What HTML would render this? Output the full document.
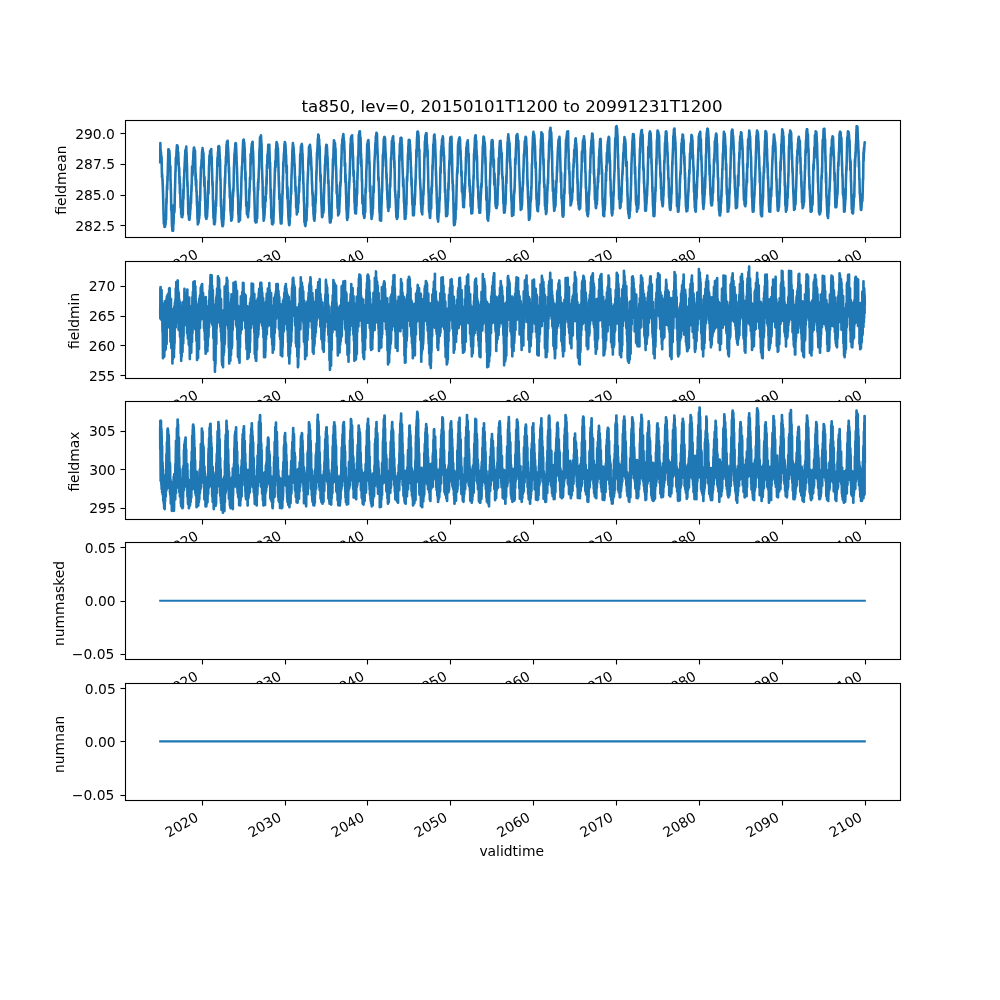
<!DOCTYPE html>
<html><head><meta charset="utf-8"><title>ta850</title><style>html,body{margin:0;padding:0;background:#fff;width:1000px;height:1000px;overflow:hidden}svg{display:block;will-change:transform}</style></head><body>
<svg width="1000" height="1000" viewBox="0 0 720 720">

 <defs>
  <style type="text/css">svg *{stroke-linejoin: round; stroke-linecap: butt}</style>
 </defs>
 <g id="figure_1">
  <g id="patch_1">
   <path d="M 0 720
L 720 720
L 720 0
L 0 0
z
" style="fill: #ffffff"/>
  </g>
  <g id="axes_1">
   <g id="patch_2">
    <path d="M 90.00 170.64 L 648.00 170.64 L 648.00 86.40 L 90.00 86.40 z" style="fill: #ffffff"/>
   </g>
   <g id="matplotlib.axis_1">
    <g id="xtick_1">
     <g id="xt0_1" transform="translate(-0.74 0.71)">
      <text style="font-size: 10px; font-family: 'DejaVu Sans', sans-serif" transform="translate(122.11 197.12) rotate(-30)">2020</text>
     </g>
    </g>
    <g id="xtick_2">
     <g id="xt0_2" transform="translate(-0.57 0.84)">
      <text style="font-size: 10px; font-family: 'DejaVu Sans', sans-serif" transform="translate(181.8 197.12) rotate(-30)">2030</text>
     </g>
    </g>
    <g id="xtick_3">
     <g id="xt0_3" transform="translate(-0.44 0.82)">
      <text style="font-size: 10px; font-family: 'DejaVu Sans', sans-serif" transform="translate(241.48 197.12) rotate(-30)">2040</text>
     </g>
    </g>
    <g id="xtick_4">
     <g id="xt0_4" transform="translate(-0.52 0.65)">
      <text style="font-size: 10px; font-family: 'DejaVu Sans', sans-serif" transform="translate(301.16 197.12) rotate(-30)">2050</text>
     </g>
    </g>
    <g id="xtick_5">
     <g id="xt0_5" transform="translate(-0.40 0.64)">
      <text style="font-size: 10px; font-family: 'DejaVu Sans', sans-serif" transform="translate(360.84 197.12) rotate(-30)">2060</text>
     </g>
    </g>
    <g id="xtick_6">
     <g id="xt0_6" transform="translate(-0.52 0.65)">
      <text style="font-size: 10px; font-family: 'DejaVu Sans', sans-serif" transform="translate(420.53 197.12) rotate(-30)">2070</text>
     </g>
    </g>
    <g id="xtick_7">
     <g id="xt0_7" transform="translate(-0.24 0.66)">
      <text style="font-size: 10px; font-family: 'DejaVu Sans', sans-serif" transform="translate(480.2 197.12) rotate(-30)">2080</text>
     </g>
    </g>
    <g id="xtick_8">
     <g id="xt0_8" transform="translate(-0.19 0.66)">
      <text style="font-size: 10px; font-family: 'DejaVu Sans', sans-serif" transform="translate(539.89 197.12) rotate(-30)">2090</text>
     </g>
    </g>
    <g id="xtick_9">
     <g id="xt0_9" transform="translate(-0.07 0.81)">
      <text style="font-size: 10px; font-family: 'DejaVu Sans', sans-serif" transform="translate(599.56 197.12) rotate(-30)">2100</text>
     </g>
    </g>
   </g>
   <g id="matplotlib.axis_2">
    <g id="ytick_1">
     <g id="yt0_1" transform="translate(-0.21 -0.08)">
      <text style="font-size: 10px; font-family: 'DejaVu Sans', sans-serif; text-anchor: end" x="83" y="166.05" transform="rotate(-0 83 166.05)">282.5</text>
     </g>
    </g>
    <g id="ytick_2">
     <g id="yt0_2" transform="translate(-0.28 -0.19)">
      <text style="font-size: 10px; font-family: 'DejaVu Sans', sans-serif; text-anchor: end" x="83" y="143.97" transform="rotate(-0 83 143.97)">285.0</text>
     </g>
    </g>
    <g id="ytick_3">
     <g id="yt0_3" transform="translate(-0.18 -0.40)">
      <text style="font-size: 10px; font-family: 'DejaVu Sans', sans-serif; text-anchor: end" x="83" y="121.9" transform="rotate(-0 83 121.9)">287.5</text>
     </g>
    </g>
    <g id="ytick_4">
     <g id="yt0_4" transform="translate(-0.26 -0.01)">
      <text style="font-size: 10px; font-family: 'DejaVu Sans', sans-serif; text-anchor: end" x="83" y="99.82" transform="rotate(-0 83 99.82)">290.0</text>
     </g>
    </g>
    <g id="yl0" transform="translate(-1.09 1.12)">
     <text style="font-size: 10px; font-family: 'DejaVu Sans', sans-serif; text-anchor: middle" x="48.29" y="128.61" transform="rotate(-90 48.29 128.61)">fieldmean</text>
    </g>
   </g>
   <g id="line2d_14">
    <path d="M 115.36 116.77
L 115.45 103
L 115.56 107.45
L 115.58 107.12
L 115.87 111.07
L 115.92 109.55
L 115.94 110.6
L 116.23 117.04
L 116.28 114.15
L 116.3 113.45
L 116.31 112.76
L 116.62 125.97
L 116.64 124.71
L 116.65 127.85
L 116.75 125.13
L 117 130.44
L 117.01 128.93
L 117.34 137.94
L 117.36 137.68
L 117.37 138.63
L 117.72 152.25
L 117.73 153.97
L 117.77 153.75
L 117.95 161.11
L 118.08 158.05
L 118.09 159.62
L 118.17 157.86
L 118.44 163.48
L 118.45 162.31
L 118.48 161.11
L 118.52 162.57
L 118.8 162.25
L 118.81 162.59
L 118.88 163.19
L 119.04 159.6
L 119.15 161.63
L 119.17 161.68
L 119.51 155.44
L 119.53 156.96
L 119.56 158.18
L 119.82 142.75
L 119.87 143.32
L 119.89 144.22
L 119.91 146.45
L 120.23 133.42
L 120.25 135.46
L 120.41 136.61
L 120.56 126.86
L 120.59 129.67
L 120.61 129.32
L 120.64 130.55
L 120.94 117.52
L 120.95 117.72
L 120.97 116.6
L 120.98 116.79
L 121.23 107.56
L 121.31 108.76
L 121.33 108.64
L 121.36 110.83
L 121.41 107.53
L 121.67 109.01
L 121.69 108.78
L 121.95 108.52
L 122.01 110.89
L 122.03 110.55
L 122.05 112.36
L 122.08 110.43
L 122.39 121.3
L 122.41 123.05
L 122.7 119.7
L 122.75 128.85
L 122.77 130.07
L 122.8 129.11
L 123.09 139.49
L 123.11 139.15
L 123.13 140
L 123.29 151.49
L 123.47 147.44
L 123.48 151.64
L 123.5 149.83
L 123.81 162.14
L 123.83 161.42
L 123.84 163.3
L 123.93 162.42
L 124.11 166.03
L 124.19 165.02
L 124.2 164.89
L 124.37 165.97
L 124.53 163.34
L 124.55 163.52
L 124.56 164.12
L 124.66 166.07
L 124.87 157.35
L 124.91 159.11
L 124.92 157.11
L 124.96 161.3
L 125.25 147.73
L 125.27 149.3
L 125.28 150.67
L 125.54 153.02
L 125.61 147.74
L 125.63 149.74
L 125.64 151.03
L 125.66 151.87
L 125.97 135.65
L 125.98 137.64
L 126 136.51
L 126.34 122.67
L 126.36 123.08
L 126.41 123.52
L 126.61 113.35
L 126.72 113.92
L 126.74 117.7
L 126.83 118.57
L 127.08 108.44
L 127.1 108.77
L 127.11 109.04
L 127.39 104.68
L 127.44 105.6
L 127.46 105.22
L 127.68 105.83
L 127.75 104.75
L 127.8 105.46
L 127.81 105.89
L 127.95 105.59
L 128.09 110.27
L 128.16 109.8
L 128.17 111.63
L 128.34 109.56
L 128.42 116.21
L 128.52 113.45
L 128.53 115.67
L 128.86 121.75
L 128.88 121.6
L 128.89 123.33
L 129.02 120.78
L 129.24 132.19
L 129.25 130.45
L 129.29 127
L 129.55 139.4
L 129.6 137.12
L 129.61 135.72
L 129.64 131.93
L 129.96 146.19
L 129.97 146.77
L 130.02 149.32
L 130.13 143.97
L 130.31 147.56
L 130.33 149.24
L 130.35 149.2
L 130.45 154.49
L 130.67 153.37
L 130.69 153.6
L 130.76 156.22
L 130.9 153.3
L 131.03 154.29
L 131.05 154.34
L 131.25 156.35
L 131.34 153.09
L 131.39 154.36
L 131.41 153.22
L 131.64 154.72
L 131.72 145.45
L 131.75 145.73
L 131.77 149.05
L 132 136.52
L 132.11 143.05
L 132.13 142.16
L 132.46 127.71
L 132.47 130.1
L 132.49 127.83
L 132.6 128.47
L 132.75 121.47
L 132.83 123.74
L 132.85 120.74
L 132.86 121.03
L 133.17 113.89
L 133.19 114.32
L 133.21 112.16
L 133.29 112.95
L 133.44 108.18
L 133.55 109.34
L 133.57 108.98
L 133.84 107.16
L 133.91 107.77
L 133.93 107.56
L 134.11 105.59
L 134.24 110.33
L 134.27 109.41
L 134.29 109.34
L 134.61 119.55
L 134.63 119.35
L 134.64 118.58
L 134.91 134.09
L 134.99 131.87
L 135 130.82
L 135.33 143.41
L 135.35 142.44
L 135.36 143.37
L 135.58 154.33
L 135.71 151.94
L 135.72 153.38
L 136.05 157.04
L 136.07 156.66
L 136.08 158.07
L 136.15 157.12
L 136.36 158.29
L 136.43 157.74
L 136.44 157.48
L 136.52 157.81
L 136.79 154.07
L 136.8 153.33
L 136.83 154.31
L 137.05 149.41
L 137.14 150.64
L 137.16 150.01
L 137.44 140.9
L 137.5 143.41
L 137.52 142.79
L 137.54 146.44
L 137.86 133.54
L 137.88 136.33
L 137.9 137.72
L 138.22 124.25
L 138.24 124.39
L 138.26 122.89
L 138.27 119.84
L 138.58 126.36
L 138.6 125.82
L 138.62 123.66
L 138.73 124.97
L 138.93 115.72
L 138.96 117.73
L 138.97 118.18
L 139.3 109.11
L 139.32 110.57
L 139.33 108.85
L 139.38 109.31
L 139.56 106.36
L 139.68 106.78
L 139.69 106.84
L 139.82 106.24
L 140.02 109.12
L 140.04 108.96
L 140.05 108.73
L 140.1 107.77
L 140.2 111.72
L 140.4 109.57
L 140.41 108.6
L 140.76 125.36
L 140.77 129.31
L 140.85 124.33
L 141.03 133.46
L 141.12 128.57
L 141.13 132.23
L 141.31 129.71
L 141.41 137.85
L 141.47 136.97
L 141.49 137.91
L 141.56 137.51
L 141.83 147.75
L 141.85 148.04
L 141.98 145.26
L 142.16 157.22
L 142.19 156.45
L 142.21 155.93
L 142.23 154.78
L 142.42 161.53
L 142.55 160.34
L 142.57 160.52
L 142.62 160.89
L 142.83 159.18
L 142.91 159.75
L 142.93 159.41
L 142.96 160.29
L 143.22 156.14
L 143.27 156.59
L 143.29 156.31
L 143.4 157.55
L 143.63 152.27
L 143.65 154.05
L 143.66 155.12
L 143.93 141.18
L 143.99 142.71
L 144.01 142.21
L 144.12 144.38
L 144.35 131.47
L 144.37 130.46
L 144.38 131.96
L 144.68 120.2
L 144.71 120.37
L 144.73 119.93
L 144.94 120.98
L 145.04 116.65
L 145.07 118.94
L 145.09 115.13
L 145.18 118.25
L 145.43 110.3
L 145.45 110.13
L 145.79 106.67
L 145.8 106.5
L 146.15 109.63
L 146.16 108.82
L 146.41 113.48
L 146.51 110.43
L 146.52 111.35
L 146.87 127.03
L 146.88 126.42
L 147.16 134.21
L 147.23 127.4
L 147.24 127.48
L 147.55 140.06
L 147.59 138.8
L 147.6 142.78
L 147.63 141.32
L 147.95 152.89
L 147.96 155.28
L 148.01 153.76
L 148.14 156.6
L 148.3 155.23
L 148.32 154.9
L 148.53 157.64
L 148.66 156.7
L 148.68 157.07
L 148.7 157.56
L 149.02 153.93
L 149.04 155.98
L 149.09 155.99
L 149.38 148.27
L 149.4 148.33
L 149.42 147.84
L 149.43 150.33
L 149.73 137.38
L 149.76 140.11
L 149.78 138.42
L 149.79 138.67
L 150.02 130.23
L 150.12 136.1
L 150.13 135.62
L 150.15 139.37
L 150.48 119.31
L 150.49 118.97
L 150.58 119.24
L 150.8 112.01
L 150.84 114.54
L 150.85 112.76
L 151 115.55
L 151.18 110.72
L 151.2 112.11
L 151.21 111.03
L 151.25 108.76
L 151.31 111.61
L 151.56 109.75
L 151.57 108.42
L 151.69 109.73
L 151.92 109.58
L 151.93 109.86
L 152.1 107.27
L 152.24 114.09
L 152.28 113.85
L 152.29 113.42
L 152.41 112.76
L 152.62 123.11
L 152.63 120.65
L 152.65 121.38
L 152.96 133.58
L 152.99 133.3
L 153.01 131.5
L 153.09 130.91
L 153.35 144.62
L 153.37 144.56
L 153.39 144.33
L 153.7 157.08
L 153.71 156.11
L 153.73 155.88
L 153.8 154.24
L 154.01 159.03
L 154.07 158.63
L 154.09 161.21
L 154.15 159.76
L 154.42 161.53
L 154.43 161.2
L 154.45 161.28
L 154.48 161.51
L 154.71 157.8
L 154.79 160.41
L 154.81 160.06
L 155.1 151.54
L 155.15 153.87
L 155.17 151.16
L 155.18 152.69
L 155.45 144.51
L 155.51 146.84
L 155.53 146.97
L 155.54 148.64
L 155.87 137.47
L 155.89 133.71
L 156.23 126.76
L 156.25 126.12
L 156.26 126.63
L 156.57 113.66
L 156.59 117.55
L 156.61 119.27
L 156.65 119.9
L 156.95 109.22
L 156.97 109.71
L 157.08 111.61
L 157.18 105.55
L 157.31 106.86
L 157.32 108.26
L 157.6 105.2
L 157.67 105.99
L 157.68 106.35
L 157.91 105.66
L 158.03 109.53
L 158.04 110.35
L 158.06 109.64
L 158.35 116.52
L 158.39 116.49
L 158.4 117.74
L 158.44 114.91
L 158.66 129.86
L 158.75 129.16
L 158.76 128.29
L 159.09 147.76
L 159.11 146.9
L 159.12 148.89
L 159.24 143.42
L 159.47 156.44
L 159.48 157.76
L 159.55 154.01
L 159.82 160.41
L 159.84 159.16
L 159.87 158.89
L 160.07 162.73
L 160.18 162.38
L 160.2 162.05
L 160.41 160.87
L 160.48 162.83
L 160.56 161.32
L 160.58 161.09
L 160.69 162.04
L 160.92 155.16
L 160.94 155.34
L 160.98 158.26
L 161.28 149.33
L 161.3 148.08
L 161.34 151.73
L 161.64 136.71
L 161.65 137.99
L 161.67 139.34
L 161.92 128.11
L 162 132.32
L 162.01 132.09
L 162.36 118.83
L 162.37 118.92
L 162.54 119.15
L 162.65 112.83
L 162.72 116.96
L 162.73 117.39
L 163.08 104.16
L 163.09 104.94
L 163.17 105.49
L 163.44 101.96
L 163.45 102.63
L 163.52 102.14
L 163.75 103.05
L 163.8 102.39
L 163.81 102.1
L 163.91 101.31
L 164.12 106.6
L 164.15 105.29
L 164.17 106.13
L 164.19 105.69
L 164.5 112.9
L 164.51 112.4
L 164.53 114.34
L 164.55 113.95
L 164.79 124.23
L 164.87 120.78
L 164.89 122.36
L 164.91 120.32
L 165.22 134.87
L 165.23 133.12
L 165.25 131.61
L 165.48 142.44
L 165.59 138.48
L 165.61 140.05
L 165.66 139.5
L 165.95 151.12
L 165.97 152.24
L 166.05 150.88
L 166.25 155
L 166.31 153.71
L 166.33 155.6
L 166.36 153.65
L 166.46 158.94
L 166.67 157.51
L 166.69 157.41
L 166.8 158.6
L 167.01 154.73
L 167.03 155.59
L 167.05 155.17
L 167.18 156.69
L 167.36 149.22
L 167.39 150.33
L 167.41 148.58
L 167.42 152.01
L 167.7 136.89
L 167.75 140.03
L 167.77 141.78
L 168.09 134.8
L 168.11 135.62
L 168.13 136.1
L 168.14 137.31
L 168.45 119.84
L 168.47 122.08
L 168.48 120.87
L 168.83 110.57
L 168.84 111.25
L 168.88 114.16
L 169.19 107.12
L 169.2 106.34
L 169.22 108.35
L 169.45 103.4
L 169.55 103.45
L 169.56 103.64
L 169.6 103
L 169.91 104.92
L 169.92 103.39
L 170.27 112.56
L 170.28 113.69
L 170.63 121.52
L 170.64 124.73
L 170.67 122.95
L 170.94 132.44
L 170.98 132.07
L 171 134.25
L 171.33 141.76
L 171.34 141.28
L 171.36 140.6
L 171.38 140.46
L 171.62 154.47
L 171.7 153.47
L 171.72 153.43
L 171.75 150.1
L 171.9 159.59
L 172.08 157.36
L 172.1 157.22
L 172.32 157.16
L 172.42 158.51
L 172.44 157.48
L 172.46 158.2
L 172.72 154.51
L 172.8 158.52
L 172.81 157.53
L 172.83 157.9
L 173.03 147.83
L 173.16 150.84
L 173.17 148.2
L 173.19 149.79
L 173.52 141.2
L 173.53 138.67
L 173.58 141.14
L 173.86 126.89
L 173.88 128.52
L 173.89 128.33
L 174.2 119.78
L 174.24 121.63
L 174.25 121.22
L 174.27 122.53
L 174.58 112.8
L 174.6 113.57
L 174.61 111.97
L 174.96 104.41
L 174.97 103.5
L 175.12 101.03
L 175.31 101.63
L 175.33 101.41
L 175.49 100.4
L 175.66 103.15
L 175.67 102.44
L 175.69 103.47
L 175.9 102.65
L 176.02 108.08
L 176.03 106.77
L 176.05 110.42
L 176.15 106.46
L 176.34 116.94
L 176.39 113.58
L 176.41 113.77
L 176.7 129.85
L 176.75 127.2
L 176.77 123.82
L 177.11 140.45
L 177.13 140.14
L 177.14 136.67
L 177.26 148.31
L 177.47 146.66
L 177.49 145.31
L 177.81 154.17
L 177.83 153.55
L 177.85 153.32
L 177.99 151.67
L 178.03 154.07
L 178.19 153.44
L 178.21 153.8
L 178.55 156.17
L 178.57 156.19
L 178.58 156.35
L 178.91 148.17
L 178.93 148.46
L 178.97 152.14
L 179.22 147.33
L 179.27 149.54
L 179.29 147.06
L 179.3 148.71
L 179.56 135.86
L 179.63 140.32
L 179.64 138.94
L 179.99 127.65
L 180 128.59
L 180.27 129.2
L 180.33 116.95
L 180.35 118.96
L 180.36 117.73
L 180.43 110.99
L 180.54 118.5
L 180.71 115.58
L 180.72 111.97
L 180.81 114.86
L 181.02 106.22
L 181.07 106.53
L 181.08 107.18
L 181.31 103.57
L 181.43 104.22
L 181.44 104.25
L 181.67 102.32
L 181.79 103.5
L 181.8 103.28
L 181.87 102.09
L 182.05 108.47
L 182.14 108.43
L 182.16 110.2
L 182.18 108.39
L 182.5 117.04
L 182.52 120.15
L 182.86 134.29
L 182.88 137.25
L 183.03 134.87
L 183.24 144.93
L 183.26 144.43
L 183.55 156.73
L 183.6 154.56
L 183.62 155.84
L 183.65 159.35
L 183.96 157.95
L 183.97 158.55
L 183.99 158.33
L 184.17 160.24
L 184.32 159.3
L 184.33 159.47
L 184.63 156.63
L 184.68 158.06
L 184.69 159.21
L 184.71 160.04
L 184.99 152.68
L 185.04 153.93
L 185.05 152.05
L 185.17 157.14
L 185.4 145.32
L 185.41 142.72
L 185.76 132.37
L 185.77 131.12
L 185.87 136.87
L 186.07 128.51
L 186.12 131.58
L 186.13 131
L 186.41 121.32
L 186.47 121.57
L 186.49 120.05
L 186.51 121.93
L 186.8 107.34
L 186.83 109.24
L 186.85 110.77
L 187.19 99.34
L 187.21 98.79
L 187.44 101.25
L 187.55 99.95
L 187.57 99.65
L 187.6 99.67
L 187.9 97.42
L 187.91 97.85
L 187.93 97.8
L 188.27 105.77
L 188.29 104.23
L 188.32 103.1
L 188.63 121.54
L 188.65 120.88
L 188.97 130.47
L 188.99 130.1
L 189.01 132.16
L 189.04 130.21
L 189.32 149.53
L 189.35 146.42
L 189.37 147.47
L 189.69 154.25
L 189.71 154.03
L 189.73 155.7
L 189.82 158.94
L 190.07 157.39
L 190.09 157.25
L 190.15 157.8
L 190.41 153.99
L 190.43 154.68
L 190.45 154.85
L 190.79 146.94
L 190.81 148.41
L 190.84 149.35
L 190.98 141.65
L 191.15 142.51
L 191.16 141.59
L 191.28 144.81
L 191.47 134.51
L 191.51 137.1
L 191.52 135
L 191.67 139.64
L 191.85 128.18
L 191.87 128.4
L 191.88 127.72
L 192 132.7
L 192.16 118.69
L 192.23 119.38
L 192.24 119.98
L 192.36 121.12
L 192.57 111.3
L 192.59 112.66
L 192.6 111.69
L 192.7 116.64
L 192.91 108.75
L 192.95 110.19
L 192.96 109.86
L 192.98 110.95
L 193.13 104.29
L 193.31 105.79
L 193.32 106.07
L 193.39 106.93
L 193.66 105.18
L 193.68 105.84
L 193.8 109.18
L 193.94 104.3
L 194.02 109.07
L 194.04 108.57
L 194.38 121.22
L 194.4 121.02
L 194.42 117.59
L 194.45 116.83
L 194.76 135.44
L 194.78 137.51
L 194.92 142.81
L 195.04 136.42
L 195.12 141.68
L 195.14 146.06
L 195.15 145.29
L 195.36 157.06
L 195.48 152.98
L 195.49 154.55
L 195.54 154.09
L 195.84 161.26
L 195.85 160.32
L 195.97 159.6
L 195.98 161.35
L 196.2 160.76
L 196.21 160.63
L 196.3 161.53
L 196.51 157.26
L 196.56 159.68
L 196.57 159.2
L 196.82 160.46
L 196.92 156.6
L 196.93 156.51
L 197.28 146.99
L 197.29 142.84
L 197.31 143.44
L 197.64 133.68
L 197.65 133.69
L 197.98 120.6
L 197.99 121.3
L 198.01 122.27
L 198.06 123.41
L 198.24 116.02
L 198.35 119.38
L 198.37 117.74
L 198.44 120.37
L 198.65 107.22
L 198.71 109.67
L 198.73 110.01
L 199.07 102.66
L 199.09 104
L 199.14 102.35
L 199.32 104.88
L 199.43 104.07
L 199.45 103.95
L 199.66 103.61
L 199.79 107.47
L 199.81 107.79
L 200 112.37
L 200.14 106.71
L 200.15 110.03
L 200.17 109.17
L 200.18 108.91
L 200.49 120.61
L 200.51 119.82
L 200.53 122.63
L 200.85 134.62
L 200.87 132.33
L 200.89 134.12
L 200.9 130.95
L 201.08 143.26
L 201.23 141.07
L 201.25 140.23
L 201.33 139.74
L 201.59 150.98
L 201.61 151.21
L 201.95 158.12
L 201.97 157.32
L 202.13 160.88
L 202.31 160.24
L 202.32 160.4
L 202.6 157
L 202.67 157.76
L 202.68 159.18
L 202.7 160.88
L 203.03 151.97
L 203.04 154.95
L 203.37 138.46
L 203.39 139.14
L 203.4 137.19
L 203.45 139.96
L 203.73 126.48
L 203.75 127.37
L 203.76 127.78
L 203.78 129.55
L 203.98 116.98
L 204.11 120.08
L 204.12 116.03
L 204.17 116.71
L 204.43 110.2
L 204.47 113.39
L 204.48 112.55
L 204.82 103.85
L 204.84 104.61
L 205.07 102.35
L 205.18 103.3
L 205.2 103.3
L 205.36 102.76
L 205.51 106.44
L 205.56 104.5
L 205.58 105.06
L 205.9 113.11
L 205.92 111.28
L 205.94 112.88
L 205.98 111.82
L 206.28 124.52
L 206.3 122.56
L 206.51 119.32
L 206.62 135.87
L 206.64 130.52
L 206.65 131.39
L 206.92 143.14
L 207 134.44
L 207.01 135.36
L 207.03 134.83
L 207.32 147.92
L 207.36 147.72
L 207.37 149.39
L 207.39 147.89
L 207.7 157.05
L 207.72 156.88
L 207.73 157.73
L 207.75 157.05
L 208.08 161.4
L 208.09 161.04
L 208.34 162.18
L 208.44 159.99
L 208.45 161.17
L 208.52 161.25
L 208.8 152.44
L 208.81 153.38
L 208.91 155.99
L 209.11 144.33
L 209.15 144.56
L 209.17 147.4
L 209.47 136.75
L 209.51 138.65
L 209.53 135.46
L 209.63 139.89
L 209.86 127.59
L 209.87 127.77
L 209.89 125.7
L 209.97 126.11
L 210.22 117.96
L 210.23 118
L 210.25 116.72
L 210.27 119.06
L 210.53 107.81
L 210.59 108.27
L 210.61 107.85
L 210.89 103
L 210.95 104.64
L 210.97 104.58
L 211.13 104.4
L 211.3 106.42
L 211.31 106.36
L 211.33 106.65
L 211.39 106.42
L 211.67 111.82
L 211.69 112.23
L 211.72 111.36
L 212.01 119.37
L 212.03 119.36
L 212.05 119.44
L 212.1 117.86
L 212.39 128.76
L 212.41 127.46
L 212.46 126.68
L 212.75 137.76
L 212.77 136.19
L 212.8 134.04
L 213.08 141.52
L 213.11 140.26
L 213.13 142.16
L 213.14 141.85
L 213.24 149.61
L 213.47 148.23
L 213.48 149.58
L 213.5 148.43
L 213.71 154.4
L 213.83 151.65
L 213.84 152.15
L 214.09 152.94
L 214.19 151.74
L 214.2 151.25
L 214.38 152.71
L 214.53 148.95
L 214.55 150.39
L 214.56 149.94
L 214.61 150.34
L 214.76 143.02
L 214.91 145.36
L 214.92 145.71
L 214.94 146.59
L 215.17 134.78
L 215.27 136.25
L 215.28 137.51
L 215.4 138.41
L 215.63 127.37
L 215.64 126.94
L 215.81 130.2
L 215.97 120.37
L 215.98 121.31
L 216 118.98
L 216.02 119
L 216.13 111.18
L 216.34 112.65
L 216.36 110.41
L 216.44 113.01
L 216.65 105.46
L 216.7 106.8
L 216.72 106.45
L 216.8 108.88
L 217.06 104.37
L 217.08 104.52
L 217.1 104.15
L 217.29 103.64
L 217.39 105.47
L 217.44 105.14
L 217.46 104.44
L 217.78 113.29
L 217.8 111.82
L 217.81 111.13
L 217.83 110.6
L 218.16 125.18
L 218.17 123.99
L 218.26 123.07
L 218.42 132.54
L 218.52 131.97
L 218.53 133.21
L 218.83 145.17
L 218.88 144.4
L 218.89 141.76
L 219.17 160.08
L 219.24 159.56
L 219.25 159.9
L 219.38 156.23
L 219.6 162.23
L 219.61 161.91
L 219.64 161.11
L 219.87 162.83
L 219.96 162.21
L 219.97 162.05
L 220.02 162.17
L 220.28 157.56
L 220.31 158.59
L 220.33 158.54
L 220.66 153.74
L 220.67 154.6
L 220.69 158.93
L 221.03 146.95
L 221.05 146.52
L 221.18 148.97
L 221.39 132.14
L 221.41 132.96
L 221.74 124.17
L 221.75 125.74
L 221.77 126.06
L 222.11 114.01
L 222.13 113.6
L 222.18 118.7
L 222.46 105.81
L 222.47 105.9
L 222.49 106.63
L 222.52 105.63
L 222.75 108.42
L 222.83 105.84
L 222.85 105.36
L 222.86 105.68
L 222.99 104.64
L 223.19 105.66
L 223.21 105.22
L 223.22 104.29
L 223.53 108.04
L 223.55 107.52
L 223.57 108.29
L 223.62 108.11
L 223.88 114.34
L 223.91 112.79
L 223.93 116.26
L 223.98 113.6
L 224.22 122.19
L 224.27 120.44
L 224.29 121.39
L 224.3 120.23
L 224.63 133.26
L 224.65 130.6
L 224.96 140.25
L 224.99 139.5
L 225 140.36
L 225.14 138.72
L 225.3 148.22
L 225.35 145.84
L 225.36 146.17
L 225.41 140.5
L 225.71 153.79
L 225.72 154.62
L 225.77 153.5
L 226.05 157.88
L 226.07 157.71
L 226.08 157.95
L 226.1 157.65
L 226.36 158.94
L 226.43 158.36
L 226.44 158.14
L 226.49 158.41
L 226.79 152.54
L 226.8 151.25
L 226.88 153.39
L 227.11 143.28
L 227.15 145.94
L 227.16 144.69
L 227.34 146.18
L 227.41 137.39
L 227.5 138.46
L 227.52 140.48
L 227.81 123.04
L 227.86 126.44
L 227.88 124.44
L 227.91 125.07
L 228.22 109.99
L 228.24 110
L 228.26 110.28
L 228.32 114.5
L 228.53 106.45
L 228.6 108.06
L 228.62 105.82
L 228.84 99.9
L 228.96 100.67
L 228.98 100.42
L 228.99 100.58
L 229.14 96.9
L 229.32 97.91
L 229.33 97.87
L 229.47 97.65
L 229.63 102.89
L 229.68 102.06
L 229.69 103.6
L 229.76 100.05
L 230.04 107.89
L 230.05 107
L 230.14 105.25
L 230.4 119
L 230.41 118.42
L 230.74 129.74
L 230.76 128.85
L 230.77 130.93
L 230.89 125.83
L 231.1 136.06
L 231.12 135.17
L 231.13 135.39
L 231.48 148.2
L 231.49 145.76
L 231.83 155.83
L 231.85 156.11
L 231.92 156.35
L 232.01 154.32
L 232.19 155.86
L 232.21 155.88
L 232.42 151.93
L 232.55 152.5
L 232.57 152.09
L 232.8 148.09
L 232.85 153.09
L 232.91 151.09
L 232.93 149.96
L 233.01 151.55
L 233.27 138.86
L 233.29 138.46
L 233.32 139.58
L 233.63 127.92
L 233.65 127.46
L 233.68 132.08
L 233.94 118.63
L 233.99 122.5
L 234.01 121.27
L 234.32 112.13
L 234.35 112.83
L 234.37 113.23
L 234.45 114.64
L 234.71 105.89
L 234.73 105.7
L 234.79 107.75
L 234.92 104.29
L 235.07 105.45
L 235.09 105.51
L 235.3 104.35
L 235.41 106.75
L 235.43 106.39
L 235.45 106.42
L 235.76 114.94
L 235.79 114.58
L 235.81 113.75
L 235.84 112.81
L 236.13 125.76
L 236.15 122.7
L 236.16 121.29
L 236.33 132.21
L 236.51 131.81
L 236.52 131.27
L 236.54 129.76
L 236.87 146.61
L 236.88 145.11
L 237.21 155.3
L 237.23 155.07
L 237.24 155.06
L 237.52 160.24
L 237.59 158.76
L 237.6 156.96
L 237.9 160.13
L 237.95 159.91
L 237.96 159.76
L 238.03 160.17
L 238.31 157.08
L 238.32 156.17
L 238.4 157.25
L 238.62 151.55
L 238.66 155.68
L 238.68 157.2
L 239.02 136.08
L 239.04 134.42
L 239.12 137.8
L 239.4 126.71
L 239.42 127.08
L 239.45 128.37
L 239.71 114.46
L 239.76 119.54
L 239.78 116.48
L 239.81 119.11
L 240.12 109.96
L 240.14 106.68
L 240.17 106.92
L 240.45 100.92
L 240.48 102.33
L 240.49 102.84
L 240.63 101.31
L 240.84 102.92
L 240.85 103.66
L 241.07 102.89
L 241.12 104.68
L 241.2 103.51
L 241.21 104.22
L 241.23 103.25
L 241.46 112.14
L 241.56 106.7
L 241.57 106.75
L 241.9 122.24
L 241.92 118.85
L 241.93 120.66
L 241.98 120.17
L 242.28 131.79
L 242.29 131.6
L 242.39 139.24
L 242.64 134.75
L 242.65 133.35
L 242.99 147.3
L 243.01 149.72
L 243.19 145.13
L 243.34 151.32
L 243.35 150.83
L 243.37 150.51
L 243.47 155.05
L 243.71 152.67
L 243.73 153
L 244.01 154.07
L 244.06 151.47
L 244.07 152.05
L 244.09 152.11
L 244.25 152.78
L 244.38 145.31
L 244.43 146.26
L 244.45 147.92
L 244.65 140.22
L 244.79 141.73
L 244.81 140.23
L 245 131.45
L 245.15 133.85
L 245.17 130.89
L 245.36 131.75
L 245.43 122.01
L 245.51 124.86
L 245.53 124.01
L 245.84 113.44
L 245.87 114.23
L 245.89 115.02
L 246.08 104.21
L 246.23 106.92
L 246.25 107.15
L 246.31 107.71
L 246.41 100.46
L 246.59 104.6
L 246.61 101.84
L 246.95 97.63
L 246.97 97.83
L 247 98.1
L 247.21 96.52
L 247.31 97.46
L 247.32 97.76
L 247.67 103.41
L 247.68 102.26
L 247.8 101.54
L 248.03 110.47
L 248.04 110.1
L 248.08 108.25
L 248.21 119.47
L 248.39 118.76
L 248.4 118.06
L 248.52 117.35
L 248.66 131.36
L 248.75 130.52
L 248.76 130.82
L 248.81 125.43
L 249.11 137.83
L 249.12 139.99
L 249.19 138.89
L 249.45 150.96
L 249.47 147.75
L 249.48 147.72
L 249.82 157.39
L 249.84 157.42
L 249.92 155.51
L 250 158.29
L 250.18 155.77
L 250.2 155.52
L 250.45 154.14
L 250.53 156.55
L 250.54 154.53
L 250.56 153.97
L 250.58 154.7
L 250.9 147.25
L 250.92 148.51
L 250.94 147.87
L 250.97 148.58
L 251.25 132.31
L 251.28 132.94
L 251.3 131.01
L 251.34 136.05
L 251.62 129
L 251.64 129.66
L 251.65 129.64
L 251.98 119.23
L 252 119.84
L 252.01 119.4
L 252.34 103.46
L 252.36 105.78
L 252.37 103.53
L 252.55 105.55
L 252.6 99.53
L 252.72 101.71
L 252.73 101.1
L 252.78 101.99
L 252.93 98.1
L 253.08 98.85
L 253.09 98.7
L 253.37 100.83
L 253.42 98.49
L 253.44 99.24
L 253.45 99.14
L 253.55 97.42
L 253.76 109.1
L 253.8 106.36
L 253.81 106.57
L 253.83 102.91
L 254.12 114.51
L 254.15 113.58
L 254.17 113.51
L 254.19 112.22
L 254.48 125.85
L 254.51 124.87
L 254.53 126.76
L 254.68 122.91
L 254.86 131.45
L 254.87 129.76
L 254.89 130.42
L 255.07 130.03
L 255.22 144.84
L 255.23 143.8
L 255.25 145.99
L 255.38 145.97
L 255.56 151.21
L 255.59 150.1
L 255.61 150.84
L 255.64 150.5
L 255.76 153.54
L 255.95 153.02
L 255.97 153.35
L 256.03 153.71
L 256.28 152.41
L 256.31 153.43
L 256.33 153.76
L 256.56 146.44
L 256.67 146.86
L 256.69 147.73
L 256.7 148.77
L 256.93 135.85
L 257.03 140.57
L 257.05 136.89
L 257.16 139.55
L 257.37 124.38
L 257.39 128
L 257.41 126.11
L 257.42 128.63
L 257.75 112.89
L 257.77 113.88
L 257.93 118.11
L 258.09 107.62
L 258.11 110.95
L 258.13 107.67
L 258.31 96.97
L 258.47 99.69
L 258.48 99.69
L 258.76 94.66
L 258.83 95.62
L 258.84 96.06
L 258.89 96.71
L 259.12 94.57
L 259.19 96.29
L 259.2 96.05
L 259.35 100.33
L 259.55 99.76
L 259.56 101.14
L 259.6 99.01
L 259.91 112.74
L 259.92 110.91
L 259.96 110.68
L 260.15 119.86
L 260.27 114.95
L 260.28 117.31
L 260.56 130.61
L 260.63 130.14
L 260.64 130.68
L 260.66 128.83
L 260.92 146.53
L 260.98 145.98
L 261 145.66
L 261.1 140.61
L 261.34 146.44
L 261.36 146.85
L 261.38 145.53
L 261.61 154.21
L 261.7 153.03
L 261.72 153.08
L 261.98 155.66
L 262.08 155.39
L 262.1 155.34
L 262.21 154.16
L 262.26 157
L 262.44 156.08
L 262.46 154.62
L 262.47 156.38
L 262.78 148.39
L 262.8 150.87
L 262.82 147.07
L 262.96 152.76
L 263.16 136.61
L 263.17 135.84
L 263.34 138.65
L 263.5 132.81
L 263.52 135
L 263.53 133.17
L 263.55 133.81
L 263.8 121.42
L 263.88 121.84
L 263.89 121.06
L 264.24 110.05
L 264.25 111.08
L 264.37 103.92
L 264.6 106.32
L 264.61 104.65
L 264.65 105.43
L 264.81 101.71
L 264.96 103.1
L 264.97 102.43
L 265.07 102.6
L 265.2 100.79
L 265.32 101.58
L 265.33 103.44
L 265.4 103.03
L 265.61 108.68
L 265.67 107.44
L 265.69 108.8
L 265.94 118.2
L 266.03 117.18
L 266.05 116.48
L 266.38 137.91
L 266.39 135.25
L 266.41 136.78
L 266.65 133.83
L 266.75 141.92
L 266.77 142.34
L 266.8 141.33
L 267.11 150.06
L 267.13 153.31
L 267.21 151.32
L 267.47 156.79
L 267.49 157.64
L 267.83 155.27
L 267.85 155.33
L 267.91 156.06
L 268.03 153.27
L 268.19 154.44
L 268.21 152.17
L 268.22 153.03
L 268.45 148.41
L 268.55 150.37
L 268.57 147.63
L 268.58 148.56
L 268.88 134.24
L 268.91 136.12
L 268.93 138.34
L 269.09 138.51
L 269.25 130.68
L 269.27 131.17
L 269.29 127.2
L 269.63 115.95
L 269.65 115.98
L 269.97 110.53
L 269.99 110.92
L 270 109.76
L 270.33 102.67
L 270.35 104.11
L 270.36 103.4
L 270.46 106.2
L 270.58 98.1
L 270.71 99.53
L 270.72 99.23
L 270.76 99.33
L 271.03 95.61
L 271.07 96.04
L 271.08 96.25
L 271.28 99.52
L 271.41 96.13
L 271.43 96.63
L 271.44 96.35
L 271.77 110.76
L 271.79 107.17
L 271.8 110.05
L 271.82 108.31
L 272.15 117.88
L 272.16 116.21
L 272.44 129.87
L 272.5 127.77
L 272.52 127.79
L 272.6 127.59
L 272.85 134.67
L 272.86 133.83
L 272.88 135.55
L 273.22 152.9
L 273.24 151.17
L 273.26 152.95
L 273.35 150.77
L 273.57 158.56
L 273.6 156.67
L 273.62 157.01
L 273.71 156.76
L 273.89 158.72
L 273.96 158.22
L 273.98 157.99
L 273.99 158.23
L 274.29 155.2
L 274.32 156.46
L 274.33 157.91
L 274.37 158.94
L 274.68 147.11
L 274.69 146.66
L 274.73 147.7
L 275.02 135.99
L 275.04 138.9
L 275.05 136.98
L 275.15 137.87
L 275.38 123.45
L 275.4 124.98
L 275.41 122.46
L 275.46 123.08
L 275.66 111.19
L 275.76 119.88
L 275.77 118.49
L 276.12 105.41
L 276.13 106.51
L 276.3 100.19
L 276.48 100.37
L 276.49 100.61
L 276.51 100.67
L 276.65 98.72
L 276.83 99.56
L 276.85 99.7
L 277 98.72
L 277.13 101.89
L 277.19 100.69
L 277.21 100.57
L 277.23 99.61
L 277.55 109.23
L 277.57 109.2
L 277.59 108.84
L 277.9 115.91
L 277.91 115.02
L 277.93 115.92
L 278.27 128.84
L 278.29 124.69
L 278.63 135.96
L 278.65 136.93
L 278.7 136.63
L 278.99 143.72
L 279.01 142.38
L 279.09 142.18
L 279.29 149.72
L 279.35 148.56
L 279.37 147.78
L 279.65 151.81
L 279.71 150.33
L 279.73 150.31
L 279.76 150.56
L 280.02 145.59
L 280.07 146.81
L 280.09 146.24
L 280.25 148.21
L 280.33 143.86
L 280.43 148.15
L 280.45 146.44
L 280.46 149.14
L 280.77 132.71
L 280.79 134.22
L 280.81 133.9
L 281 134.58
L 281.08 128.1
L 281.15 128.63
L 281.16 129.17
L 281.51 114.59
L 281.52 113.54
L 281.74 115.03
L 281.83 109.12
L 281.87 110.81
L 281.88 110.86
L 282.15 101.39
L 282.23 102.11
L 282.24 102.5
L 282.26 103.18
L 282.57 100.91
L 282.59 101.03
L 282.6 100.34
L 282.75 98.93
L 282.88 101.19
L 282.95 100.17
L 282.96 99.97
L 283.09 98.2
L 283.24 105.2
L 283.31 104.94
L 283.32 106.75
L 283.44 102.21
L 283.66 109.62
L 283.68 108.78
L 283.98 120.98
L 284.02 117.68
L 284.04 115.93
L 284.38 137.26
L 284.4 137.65
L 284.48 136.79
L 284.73 142.35
L 284.76 139.85
L 284.78 140.83
L 285.12 149.29
L 285.14 151.58
L 285.18 149.55
L 285.35 156.3
L 285.48 153.87
L 285.49 155.32
L 285.51 154.37
L 285.77 157.64
L 285.84 157.19
L 285.85 157.39
L 286.2 154.09
L 286.21 153.85
L 286.3 156.65
L 286.56 149.87
L 286.57 147.39
L 286.64 150.43
L 286.9 138.9
L 286.92 141.34
L 286.93 137.79
L 287.11 142.19
L 287.28 129.41
L 287.29 131.07
L 287.31 131.83
L 287.55 111.77
L 287.64 113.94
L 287.65 114.54
L 287.7 115.63
L 287.88 103.53
L 287.99 109.29
L 288.01 108.63
L 288.35 100.1
L 288.37 99.37
L 288.42 101.86
L 288.71 100.43
L 288.73 99.98
L 288.93 99.11
L 289.06 101.32
L 289.07 100.44
L 289.09 99.4
L 289.22 104.79
L 289.43 104.19
L 289.45 106.19
L 289.79 120.07
L 289.81 119.47
L 290.15 128.59
L 290.17 129.64
L 290.23 134.19
L 290.43 128.91
L 290.51 132.17
L 290.53 134.54
L 290.58 133.09
L 290.87 145.57
L 290.89 146.22
L 291.02 144.02
L 291.23 152.14
L 291.25 153.18
L 291.26 152.19
L 291.44 157.64
L 291.59 156.16
L 291.61 156.32
L 291.64 156.18
L 291.67 157.51
L 291.95 157.43
L 291.97 156.27
L 291.98 157.18
L 292.18 151.5
L 292.31 154.42
L 292.32 153.46
L 292.55 144.27
L 292.67 147.49
L 292.68 143.96
L 292.7 144.14
L 293.03 127.32
L 293.04 127.76
L 293.13 130.55
L 293.39 124.62
L 293.4 123.51
L 293.42 124.62
L 293.71 111.11
L 293.75 113.26
L 293.76 114.81
L 293.84 114.86
L 294.01 105.23
L 294.11 105.4
L 294.12 105.17
L 294.14 105.44
L 294.27 100.85
L 294.47 101.7
L 294.48 100.79
L 294.79 102.67
L 294.82 101.18
L 294.84 101.91
L 294.97 100.88
L 295.09 105
L 295.18 103.96
L 295.2 103.64
L 295.51 112.05
L 295.54 109.95
L 295.56 109.63
L 295.9 124.44
L 295.92 123.06
L 295.94 121.83
L 295.97 120.46
L 296.28 133.45
L 296.3 132.14
L 296.34 128.14
L 296.64 139.36
L 296.66 139.57
L 296.92 147.53
L 297 144.35
L 297.01 143
L 297.36 154.93
L 297.37 154.62
L 297.6 155.05
L 297.65 152.58
L 297.72 153.45
L 297.73 153.47
L 297.77 152.82
L 297.99 154.9
L 298.08 153.23
L 298.09 153.09
L 298.4 144.25
L 298.44 147.22
L 298.45 145.53
L 298.6 147.39
L 298.75 139.48
L 298.8 142.27
L 298.81 141.48
L 298.84 141.59
L 299.14 129.69
L 299.16 131.1
L 299.17 133.31
L 299.51 120.23
L 299.53 118.65
L 299.6 120.4
L 299.78 107.91
L 299.87 111.92
L 299.89 112.16
L 299.92 113.27
L 300.23 100.01
L 300.25 100.35
L 300.53 94.9
L 300.59 96.3
L 300.61 96.02
L 300.77 94.88
L 300.9 97.17
L 300.95 95.8
L 300.97 96.94
L 301 94.83
L 301.31 100.06
L 301.33 100.55
L 301.36 97.59
L 301.61 108.18
L 301.67 107.52
L 301.69 108.82
L 301.95 107.58
L 302 112.83
L 302.03 112.57
L 302.05 114.06
L 302.29 128.56
L 302.39 128.43
L 302.41 128.91
L 302.73 135.74
L 302.75 135.63
L 302.77 136.51
L 302.78 135
L 303.09 145.73
L 303.11 145.68
L 303.13 147.38
L 303.16 145.58
L 303.45 151.41
L 303.47 151.11
L 303.49 152.12
L 303.5 151.53
L 303.7 153.33
L 303.83 152.56
L 303.84 152.76
L 304.04 154.4
L 304.17 148.38
L 304.19 149.48
L 304.2 149.68
L 304.22 149.87
L 304.43 143.28
L 304.55 147.22
L 304.56 144.49
L 304.86 136.92
L 304.91 140.16
L 304.92 138.88
L 305.27 129.35
L 305.28 130.7
L 305.61 110.18
L 305.63 111.73
L 305.64 113.42
L 305.71 113.63
L 305.92 101.64
L 305.99 102.22
L 306 101.49
L 306.07 103.24
L 306.28 97.79
L 306.34 97.93
L 306.36 97.37
L 306.39 99.16
L 306.7 96.28
L 306.72 96.34
L 306.82 95.87
L 307.05 97.5
L 307.08 96.33
L 307.1 96.02
L 307.41 106.82
L 307.44 105.96
L 307.46 106.43
L 307.57 104.24
L 307.75 112.75
L 307.8 108.17
L 307.82 109.74
L 307.88 108.26
L 308.13 121.77
L 308.16 120
L 308.17 121.4
L 308.49 137.61
L 308.52 136.63
L 308.53 138.89
L 308.6 136.14
L 308.88 151.45
L 308.89 150.24
L 308.93 149.96
L 308.99 152.82
L 309.24 151.73
L 309.25 153.78
L 309.27 153.62
L 309.5 156.73
L 309.6 155.69
L 309.61 156.44
L 309.68 157
L 309.96 151.07
L 309.97 151.22
L 310.23 145.87
L 310.32 147.77
L 310.33 147.97
L 310.46 150.11
L 310.64 135.08
L 310.67 136.25
L 310.69 135.67
L 310.77 139.55
L 311 131.85
L 311.03 131.99
L 311.05 129.81
L 311.08 134.66
L 311.38 119.03
L 311.39 121
L 311.41 119.55
L 311.49 121.95
L 311.72 112.6
L 311.75 113.29
L 311.77 111.96
L 311.79 112.52
L 311.95 103.89
L 312.11 104.25
L 312.13 103.87
L 312.24 104.06
L 312.47 98.55
L 312.49 97.56
L 312.5 98.74
L 312.55 97.32
L 312.83 97.49
L 312.85 97.54
L 312.88 96.9
L 313.13 104.81
L 313.19 101.28
L 313.21 101.6
L 313.22 100.39
L 313.55 110.86
L 313.57 110.17
L 313.91 126.47
L 313.93 126.1
L 313.94 123.53
L 314.24 135.07
L 314.27 133.72
L 314.29 137.31
L 314.3 135.52
L 314.58 146.49
L 314.63 146.26
L 314.65 145.97
L 314.66 144.96
L 314.91 156.15
L 314.99 156.04
L 315 157.45
L 315.04 156.19
L 315.35 158.7
L 315.36 158.77
L 315.46 159.59
L 315.69 155.5
L 315.71 156.52
L 315.72 156.63
L 316.03 150
L 316.07 152.07
L 316.08 149.55
L 316.15 153.08
L 316.43 142.24
L 316.44 142.61
L 316.52 144.67
L 316.72 136.82
L 316.79 138.98
L 316.8 134.79
L 316.83 137.36
L 317.11 120.52
L 317.15 122.79
L 317.16 123.87
L 317.26 124.64
L 317.5 111.32
L 317.52 108.64
L 317.65 112.16
L 317.86 104.92
L 317.88 105.95
L 318.03 107.52
L 318.22 101.19
L 318.24 100.49
L 318.27 102.3
L 318.4 99.86
L 318.6 100.15
L 318.62 100.49
L 318.75 101.36
L 318.83 98.2
L 318.96 99.55
L 318.98 99.03
L 319.29 108.09
L 319.32 106.1
L 319.33 106.17
L 319.65 116.26
L 319.68 114.24
L 319.69 113.91
L 319.73 111.86
L 320.04 125.09
L 320.05 124.6
L 320.1 124.05
L 320.4 138.52
L 320.41 137.81
L 320.63 136.21
L 320.76 143.64
L 320.77 143.92
L 321.1 151.67
L 321.12 151.33
L 321.13 153.88
L 321.2 155.7
L 321.48 154.7
L 321.49 155.25
L 321.79 155.52
L 321.83 153.19
L 321.85 152.44
L 322.15 154.38
L 322.19 149.5
L 322.21 151.77
L 322.55 143.19
L 322.57 143.35
L 322.65 144.9
L 322.88 131.52
L 322.91 132.33
L 322.93 135.37
L 322.96 136.9
L 323.27 121.97
L 323.29 124.7
L 323.57 115.47
L 323.63 117.44
L 323.65 117.06
L 323.68 118.66
L 323.94 102.95
L 323.99 103.94
L 324.01 103.69
L 324.04 104.95
L 324.2 99.1
L 324.35 100.36
L 324.37 100.77
L 324.45 101.35
L 324.69 99.19
L 324.71 99.3
L 324.73 99.29
L 325.05 101.41
L 325.07 98.46
L 325.09 99.58
L 325.41 113.48
L 325.43 113.23
L 325.45 110.88
L 325.79 130.54
L 325.81 131.89
L 325.9 129.47
L 326.13 137.42
L 326.15 136.24
L 326.16 134.58
L 326.18 133.02
L 326.51 147.71
L 326.52 149.99
L 326.54 149.31
L 326.8 161.7
L 326.87 161.15
L 326.88 161.72
L 326.98 162.18
L 327.1 159.97
L 327.23 161.08
L 327.24 161.02
L 327.42 161.76
L 327.55 159.41
L 327.59 159.5
L 327.6 159.82
L 327.65 160.37
L 327.88 154.09
L 327.95 156.15
L 327.96 155.56
L 327.99 157.91
L 328.11 148.07
L 328.31 149.17
L 328.32 146.53
L 328.39 151
L 328.66 139.57
L 328.68 138.9
L 329.02 126.46
L 329.04 125.02
L 329.06 125.66
L 329.38 120.42
L 329.4 122.91
L 329.43 124.83
L 329.76 105.6
L 329.78 104.32
L 329.83 107.31
L 330.05 102.14
L 330.12 104.5
L 330.14 103.59
L 330.22 103.64
L 330.4 100
L 330.48 100.08
L 330.49 101.28
L 330.64 99.6
L 330.84 100.33
L 330.85 99.7
L 330.9 98.85
L 331.16 104.1
L 331.2 101.17
L 331.21 99.93
L 331.52 111.34
L 331.56 107.95
L 331.57 108.81
L 331.59 108.25
L 331.87 118.4
L 331.92 116.39
L 331.93 116.65
L 331.95 115.67
L 332.18 126.66
L 332.28 123.61
L 332.29 123.75
L 332.36 123.37
L 332.59 138.1
L 332.64 136.16
L 332.65 135.66
L 332.8 132.26
L 332.93 138.97
L 332.99 136.63
L 333.01 134.57
L 333.31 144.71
L 333.35 144.57
L 333.37 144.56
L 333.52 149.02
L 333.71 147.17
L 333.73 147.11
L 333.8 146.95
L 334.04 149.22
L 334.07 148.94
L 334.09 147.56
L 334.42 139.2
L 334.43 141.61
L 334.45 142.49
L 334.68 135.28
L 334.79 136.18
L 334.81 135.86
L 335.15 123.9
L 335.17 123.54
L 335.22 125.92
L 335.48 113.03
L 335.51 117.14
L 335.53 115.67
L 335.74 106.51
L 335.87 106.93
L 335.89 105.81
L 335.95 107.96
L 336.23 102.61
L 336.25 103.24
L 336.56 102.03
L 336.59 102.59
L 336.61 103.09
L 336.77 101.05
L 336.95 105.59
L 336.97 103.58
L 337.21 112.86
L 337.31 111.07
L 337.33 111.1
L 337.46 110.53
L 337.67 123.42
L 337.68 122.07
L 337.95 134.15
L 338.03 131.47
L 338.04 129.21
L 338.31 138.29
L 338.39 135.35
L 338.4 137.74
L 338.5 134.23
L 338.71 143.6
L 338.75 142.7
L 338.76 141.98
L 338.84 148.72
L 339.11 144.65
L 339.12 147.32
L 339.16 147.04
L 339.37 153.76
L 339.47 150.37
L 339.48 150.37
L 339.65 152.66
L 339.83 151.68
L 339.84 152.4
L 340.04 153.59
L 340.07 151.06
L 340.18 151.57
L 340.2 151.25
L 340.51 139.22
L 340.54 140.92
L 340.56 140.7
L 340.58 141.56
L 340.92 127.66
L 340.94 126.47
L 341.05 128.57
L 341.28 112.01
L 341.3 110.51
L 341.34 116.34
L 341.57 107.21
L 341.64 108.71
L 341.66 107.77
L 341.97 99.35
L 342 99.44
L 342.01 98.82
L 342.03 100.87
L 342.26 97.66
L 342.36 98.22
L 342.37 98.55
L 342.54 97.42
L 342.7 102.68
L 342.72 101.26
L 342.73 102.22
L 342.93 101.26
L 343 108.68
L 343.08 108.45
L 343.09 108.76
L 343.13 107.96
L 343.32 115.13
L 343.44 112.21
L 343.45 115.09
L 343.47 113.94
L 343.78 130.15
L 343.8 130.08
L 343.81 128.41
L 344.04 135.38
L 344.16 134.39
L 344.17 134.59
L 344.25 133.9
L 344.4 143.05
L 344.51 142.8
L 344.53 144.34
L 344.58 143.28
L 344.81 149.69
L 344.87 148.18
L 344.89 149.63
L 344.96 145.98
L 345.18 153.09
L 345.23 151.55
L 345.25 151.7
L 345.27 151.27
L 345.36 152.41
L 345.59 152.02
L 345.61 152.14
L 345.72 153.11
L 345.95 145.53
L 345.97 144.41
L 345.99 145.67
L 346.3 137.5
L 346.31 140.1
L 346.33 139.33
L 346.59 132.11
L 346.67 132.79
L 346.69 134.23
L 346.8 134.52
L 347.03 124.69
L 347.05 125.26
L 347.36 114.76
L 347.39 117.09
L 347.41 114.36
L 347.64 105.21
L 347.75 105.91
L 347.77 104.41
L 347.86 104.75
L 348.08 98.54
L 348.11 99.28
L 348.13 99.44
L 348.17 100.41
L 348.27 98.46
L 348.47 99.74
L 348.49 100.42
L 348.55 99.29
L 348.83 105.18
L 348.84 105.9
L 349.07 102.62
L 349.17 106.57
L 349.19 106.03
L 349.2 105.23
L 349.53 118.28
L 349.55 116.46
L 349.56 113.26
L 349.87 131.55
L 349.91 131.5
L 349.92 129.24
L 350.18 143.91
L 350.27 138.06
L 350.28 138.59
L 350.33 134.69
L 350.63 150.71
L 350.64 151.28
L 350.67 150.35
L 350.99 157.9
L 351 155.94
L 351.16 155.37
L 351.26 158.08
L 351.34 157.49
L 351.36 157.36
L 351.49 158.94
L 351.7 154.85
L 351.72 154.06
L 351.79 155.21
L 352.06 150.36
L 352.08 151.2
L 352.11 153.06
L 352.42 143.37
L 352.44 144.96
L 352.46 145.38
L 352.78 129.64
L 352.8 130.8
L 352.82 132.47
L 353.16 117.12
L 353.17 117.86
L 353.26 118.81
L 353.52 109.12
L 353.53 108.42
L 353.68 111.91
L 353.86 102.48
L 353.88 102.93
L 353.89 102.52
L 353.94 103.58
L 354.02 101.21
L 354.24 101.97
L 354.25 101.9
L 354.4 100.79
L 354.53 102.5
L 354.6 101.26
L 354.61 102.4
L 354.71 101.38
L 354.96 109.87
L 354.97 109.14
L 355.04 106.95
L 355.32 120.26
L 355.33 119.18
L 355.61 115.08
L 355.67 124.77
L 355.69 126.1
L 355.89 133.06
L 356.03 128.84
L 356.05 128.31
L 356.08 124.96
L 356.39 136.08
L 356.41 135.03
L 356.72 146.7
L 356.75 145.74
L 356.77 145.7
L 356.8 144.96
L 356.9 148.71
L 357.11 147.65
L 357.13 147.38
L 357.15 147.23
L 357.24 149.67
L 357.47 149.08
L 357.49 149.05
L 357.59 149.87
L 357.83 146.06
L 357.85 146.85
L 358.11 147.83
L 358.19 142.87
L 358.21 144.17
L 358.53 128.74
L 358.55 130.92
L 358.57 132.64
L 358.67 133.47
L 358.91 122.78
L 358.93 120.83
L 359.06 113.8
L 359.19 125.45
L 359.27 118.02
L 359.29 116.19
L 359.32 118.14
L 359.63 105.43
L 359.65 106.82
L 359.68 107.45
L 359.91 101.57
L 359.99 102.38
L 360 101.83
L 360.07 101.63
L 360.25 102.78
L 360.35 102.73
L 360.36 102.19
L 360.43 101.31
L 360.71 107.96
L 360.72 108.6
L 360.74 106.55
L 361.02 112.87
L 361.07 112
L 361.08 112.54
L 361.26 110.35
L 361.43 119.54
L 361.44 121.46
L 361.77 128.69
L 361.79 127.28
L 361.8 128.52
L 361.95 127.34
L 362.13 136.96
L 362.15 133.48
L 362.16 133.28
L 362.47 146.69
L 362.5 144.55
L 362.52 143.86
L 362.55 142.9
L 362.85 152.2
L 362.86 151.22
L 362.88 151.83
L 362.9 153.11
L 363.03 150.01
L 363.22 151.83
L 363.24 151.89
L 363.4 152.92
L 363.58 148.95
L 363.6 149.88
L 363.62 150.44
L 363.83 144.72
L 363.96 146.73
L 363.98 147.27
L 364.32 136.42
L 364.33 134.48
L 364.61 125.98
L 364.68 131.67
L 364.69 130.01
L 365.04 114.31
L 365.05 116.41
L 365.4 103.5
L 365.41 102.51
L 365.64 105.02
L 365.74 98.42
L 365.76 99.41
L 365.77 100.01
L 365.84 100.75
L 365.97 96.71
L 366.12 98.78
L 366.13 98.81
L 366.15 98.55
L 366.48 101.56
L 366.49 102.33
L 366.52 101.07
L 366.74 106.49
L 366.83 106.01
L 366.85 104.37
L 366.9 103.19
L 367.18 117.11
L 367.19 114.59
L 367.21 116.09
L 367.28 114.53
L 367.52 121.07
L 367.55 120.07
L 367.57 121.15
L 367.62 120.43
L 367.91 136.51
L 367.93 137.82
L 368 136.63
L 368.24 144.89
L 368.27 143.52
L 368.29 143.28
L 368.31 142.57
L 368.6 154.39
L 368.63 153.17
L 368.65 151.82
L 368.67 155.44
L 368.99 154.26
L 369.01 154.27
L 369.04 154.34
L 369.33 150.38
L 369.35 150.91
L 369.37 150.62
L 369.4 150.3
L 369.65 154.7
L 369.71 153.02
L 369.73 153.48
L 370.07 140.43
L 370.09 139.94
L 370.1 140.76
L 370.41 136.1
L 370.43 138.49
L 370.45 137.71
L 370.79 126.63
L 370.81 126.52
L 370.94 114.21
L 371.15 118.33
L 371.17 116.68
L 371.18 117.75
L 371.49 106.31
L 371.51 107.46
L 371.52 107.97
L 371.82 97.6
L 371.87 98.52
L 371.88 97.47
L 371.93 102.27
L 372.15 97.4
L 372.23 98.74
L 372.24 99.64
L 372.26 100.06
L 372.5 96.52
L 372.59 97.95
L 372.6 98.21
L 372.64 97.59
L 372.95 102.2
L 372.96 101.87
L 373.08 106.35
L 373.22 101.27
L 373.31 104.44
L 373.32 106.54
L 373.35 105.88
L 373.65 118.6
L 373.67 118.57
L 373.68 119.36
L 374.02 127.37
L 374.04 128.81
L 374.38 136.91
L 374.4 138.57
L 374.73 146.35
L 374.76 145.34
L 374.78 146.54
L 374.91 151.16
L 375.12 149.47
L 375.14 149.38
L 375.33 149.05
L 375.41 150.63
L 375.48 150.17
L 375.5 149.81
L 375.53 150.44
L 375.69 147.15
L 375.84 147.8
L 375.85 147.99
L 376.2 135.13
L 376.21 136.69
L 376.25 138.04
L 376.51 130.37
L 376.56 133.11
L 376.57 131.64
L 376.59 132.46
L 376.87 121.33
L 376.92 123.77
L 376.93 122.45
L 377.24 110.92
L 377.28 112.14
L 377.29 113.01
L 377.59 107.55
L 377.64 109.77
L 377.65 106.46
L 377.67 106.99
L 377.83 101.78
L 378 103.28
L 378.01 101.94
L 378.06 103.42
L 378.35 98.92
L 378.37 99.21
L 378.42 98.46
L 378.68 99.77
L 378.71 98.92
L 378.73 100.41
L 378.8 99.42
L 379.07 106.19
L 379.09 107.76
L 379.16 105.3
L 379.43 117.85
L 379.45 118.91
L 379.47 116.05
L 379.78 132.98
L 379.79 131.44
L 379.81 134.09
L 379.84 129.84
L 380.15 141.33
L 380.17 142.84
L 380.28 141.58
L 380.51 149.89
L 380.53 148.45
L 380.85 158.29
L 380.87 156.03
L 380.89 156.79
L 380.95 156.29
L 381.21 157.96
L 381.23 157.29
L 381.25 157.68
L 381.54 155.15
L 381.59 155.79
L 381.61 155.11
L 381.9 144.76
L 381.95 145.28
L 381.97 143.49
L 382.06 145.49
L 382.29 137.8
L 382.31 138.63
L 382.33 140.6
L 382.34 143.42
L 382.55 134.24
L 382.67 135.45
L 382.68 135.5
L 382.96 118.26
L 383.03 118.42
L 383.04 117.77
L 383.13 119.11
L 383.39 107.24
L 383.4 107.49
L 383.75 99.03
L 383.76 98.01
L 383.8 98.83
L 384.06 94.83
L 384.11 96.44
L 384.12 96.71
L 384.22 96.12
L 384.47 98.2
L 384.48 98.7
L 384.61 96.98
L 384.83 100.07
L 384.84 99.66
L 385.15 107.03
L 385.18 104.57
L 385.2 104.94
L 385.54 119.91
L 385.56 120.96
L 385.71 116.93
L 385.92 126.24
L 385.94 124.52
L 386.25 143.18
L 386.28 139.4
L 386.3 139.9
L 386.31 139.05
L 386.64 148.96
L 386.66 147.78
L 386.67 146.41
L 386.9 151.28
L 387 150.46
L 387.01 149.44
L 387.06 151.89
L 387.36 151.49
L 387.37 152.07
L 387.64 146.59
L 387.72 147.86
L 387.73 146.19
L 387.95 146.97
L 388.08 141.23
L 388.09 141.52
L 388.4 130.59
L 388.44 132.11
L 388.45 131.63
L 388.52 132.3
L 388.75 121.56
L 388.8 122.23
L 388.81 122.5
L 389.16 110.36
L 389.17 107.06
L 389.25 108.49
L 389.51 99.95
L 389.53 100.52
L 389.61 103.78
L 389.79 95.22
L 389.87 96.7
L 389.89 96.9
L 389.97 98.63
L 390.17 95.96
L 390.23 96.87
L 390.25 96.76
L 390.58 96.29
L 390.59 98.78
L 390.61 98.46
L 390.66 96.98
L 390.85 104.76
L 390.95 102.49
L 390.97 107.98
L 390.99 106.88
L 391.31 118.6
L 391.33 118.37
L 391.38 114.34
L 391.66 131.16
L 391.67 129.17
L 391.69 127.61
L 391.85 135.02
L 392.03 132.81
L 392.05 133.37
L 392.39 148.33
L 392.41 147.8
L 392.5 146.12
L 392.73 150.87
L 392.75 149.31
L 392.77 148.01
L 393.11 154.04
L 393.13 154.14
L 393.45 152.13
L 393.47 153.03
L 393.49 152.35
L 393.52 152.5
L 393.8 144.16
L 393.83 145.73
L 393.84 144.14
L 393.86 146.43
L 394.12 134.48
L 394.19 137.6
L 394.2 136.15
L 394.48 129.32
L 394.55 131.22
L 394.56 130.97
L 394.6 132.27
L 394.89 115.33
L 394.91 116.55
L 394.92 116.08
L 394.97 117.35
L 395.27 107.41
L 395.28 104.23
L 395.5 100.99
L 395.58 105.43
L 395.63 102.05
L 395.64 102.02
L 395.84 93.98
L 395.99 94.75
L 396 94.39
L 396.34 92
L 396.36 91.98
L 396.7 98.9
L 396.72 98.09
L 396.88 95.2
L 397.06 100.96
L 397.08 99.5
L 397.42 114.49
L 397.44 111.34
L 397.46 111.04
L 397.47 108.58
L 397.72 127.25
L 397.8 124.4
L 397.82 130.46
L 397.86 129.94
L 398.06 137.47
L 398.16 131.66
L 398.17 130.07
L 398.22 129.82
L 398.52 142.47
L 398.53 142.82
L 398.86 149.27
L 398.88 149.19
L 398.89 149.04
L 399.02 151.81
L 399.24 151.52
L 399.25 151.43
L 399.55 147.93
L 399.6 148.29
L 399.61 149.48
L 399.66 145.93
L 399.96 146.39
L 399.97 148.2
L 400.25 135.43
L 400.32 137.96
L 400.33 138.06
L 400.4 139.24
L 400.56 130.1
L 400.67 130.34
L 400.69 130.74
L 400.72 131.4
L 401.03 122.79
L 401.05 119.95
L 401.12 123.99
L 401.39 114.92
L 401.41 114.29
L 401.75 106.23
L 401.77 105.8
L 401.8 106.92
L 402.11 100.94
L 402.13 100.62
L 402.33 102.59
L 402.47 99.8
L 402.49 99.78
L 402.67 100.77
L 402.82 98.46
L 402.83 98.84
L 402.85 100.52
L 402.88 98.85
L 403.16 107.67
L 403.19 106.29
L 403.21 108.96
L 403.22 108.78
L 403.55 120.62
L 403.57 122.18
L 403.6 122.05
L 403.81 131.12
L 403.91 126.32
L 403.93 127.06
L 404.01 124.28
L 404.25 142.86
L 404.27 139.88
L 404.29 142.25
L 404.35 140.59
L 404.63 145.52
L 404.65 146.73
L 404.71 145.49
L 404.99 155.01
L 405.01 154.82
L 405.12 154.35
L 405.2 155.79
L 405.35 154.8
L 405.36 154.86
L 405.43 155.96
L 405.59 152.25
L 405.71 153.89
L 405.72 155.36
L 406.05 143.95
L 406.07 144.51
L 406.08 144.71
L 406.33 135.92
L 406.43 138.07
L 406.44 138.73
L 406.46 139.55
L 406.69 125.35
L 406.79 129.89
L 406.8 128.35
L 407.15 113.67
L 407.16 114.25
L 407.18 114.78
L 407.51 100.79
L 407.52 101.08
L 407.7 104.36
L 407.86 99.32
L 407.88 98.85
L 407.95 99.84
L 408.19 96.03
L 408.22 96.04
L 408.24 95.93
L 408.42 94.63
L 408.6 97.23
L 408.62 97.64
L 408.84 96.08
L 408.89 99.26
L 408.96 99.18
L 408.98 98.38
L 409.01 94.57
L 409.27 109.52
L 409.32 106.69
L 409.34 108.72
L 409.38 108.35
L 409.58 122.05
L 409.68 117.51
L 409.69 117.03
L 409.97 125.81
L 410.04 123.32
L 410.05 124.55
L 410.32 139.49
L 410.4 137.61
L 410.41 136.41
L 410.76 144.09
L 410.77 144.67
L 410.82 147.92
L 410.94 143.47
L 411.12 146.73
L 411.13 146.42
L 411.17 147.15
L 411.48 144.64
L 411.49 144.07
L 411.62 144.99
L 411.75 141.48
L 411.84 141.92
L 411.85 143.28
L 411.9 143.38
L 412.19 135.19
L 412.21 136.11
L 412.33 138.41
L 412.52 124.82
L 412.55 126.7
L 412.57 123.1
L 412.67 127.73
L 412.9 118.23
L 412.91 120.34
L 412.93 119.66
L 413 120.53
L 413.13 114.35
L 413.27 115.87
L 413.29 116.98
L 413.44 107.92
L 413.63 108.91
L 413.65 109.42
L 413.75 111.09
L 413.99 103.95
L 414.01 104.11
L 414.04 106.08
L 414.3 100.19
L 414.35 100.62
L 414.37 100.58
L 414.56 99.5
L 414.71 103.22
L 414.73 104.87
L 414.91 103.33
L 415.02 105.99
L 415.07 105.95
L 415.09 108.68
L 415.15 106.86
L 415.43 118.18
L 415.45 119.44
L 415.53 118.34
L 415.79 131.98
L 415.81 132.39
L 415.87 128.91
L 416.15 144.38
L 416.17 144.07
L 416.25 139.21
L 416.48 147.47
L 416.51 145.69
L 416.52 145.13
L 416.57 145.03
L 416.84 150.16
L 416.87 149.23
L 416.88 149.67
L 416.93 149.28
L 417.15 150.78
L 417.23 150.1
L 417.24 150.33
L 417.59 143.31
L 417.6 145.64
L 417.73 149.86
L 417.95 142.57
L 417.96 139.77
L 417.98 141.83
L 418.26 131.18
L 418.31 134.72
L 418.32 135.21
L 418.65 122.28
L 418.67 122.83
L 418.68 121.7
L 418.73 123.86
L 418.96 109.35
L 419.02 113.81
L 419.04 112.93
L 419.19 116.74
L 419.34 108.34
L 419.38 108.54
L 419.4 109.57
L 419.42 109.79
L 419.69 101.51
L 419.76 102.49
L 419.78 103.98
L 419.96 103.98
L 420.09 100.13
L 420.12 100.93
L 420.14 100.4
L 420.17 101.39
L 420.48 98.2
L 420.5 98.35
L 420.74 102.34
L 420.84 100.68
L 420.85 103.18
L 420.97 101.82
L 421.08 108.34
L 421.2 107.74
L 421.21 108.35
L 421.49 124.17
L 421.56 123.31
L 421.57 124.87
L 421.62 124.77
L 421.82 135.6
L 421.92 134.91
L 421.93 136.05
L 421.98 134.16
L 422.23 145.7
L 422.28 143.95
L 422.29 146.01
L 422.33 144.57
L 422.49 152.32
L 422.64 149.28
L 422.65 151.22
L 422.96 154.89
L 423 154.65
L 423.01 154.65
L 423.24 155.7
L 423.35 152.36
L 423.37 151.19
L 423.55 154.14
L 423.6 150.16
L 423.71 151.45
L 423.73 150.77
L 423.76 151.02
L 423.98 138.52
L 424.07 139.41
L 424.09 139.59
L 424.12 140.55
L 424.42 134.83
L 424.43 135.57
L 424.45 134.32
L 424.78 122.26
L 424.79 124.72
L 424.81 123.25
L 424.94 124.53
L 425.14 112.11
L 425.15 112.78
L 425.17 113.8
L 425.43 106.5
L 425.51 106.63
L 425.53 105.35
L 425.59 110.25
L 425.79 101.17
L 425.87 104.5
L 425.89 103.52
L 425.92 104.07
L 426.23 97.76
L 426.25 98.4
L 426.31 96.13
L 426.59 96.66
L 426.61 97.3
L 426.64 96.24
L 426.9 106.4
L 426.95 101.54
L 426.97 102.59
L 427 100.07
L 427.31 109.7
L 427.33 110.65
L 427.34 109.9
L 427.65 125.98
L 427.67 124.68
L 427.68 122.84
L 427.7 121.92
L 427.98 132.21
L 428.03 130.65
L 428.04 128.12
L 428.34 143.81
L 428.39 142.54
L 428.4 141.25
L 428.52 138.2
L 428.75 146.83
L 428.76 145.61
L 428.83 144.45
L 428.94 149.47
L 429.11 149.05
L 429.12 149.07
L 429.19 149.87
L 429.4 144.15
L 429.47 145.59
L 429.48 145.24
L 429.73 146.97
L 429.83 141.89
L 429.84 142.17
L 429.94 144.26
L 430.14 133.93
L 430.18 135.55
L 430.2 135.2
L 430.23 136.19
L 430.53 127.23
L 430.54 127.93
L 430.56 128.05
L 430.69 131.31
L 430.89 121.89
L 430.9 123.18
L 430.92 121.58
L 431.03 125.59
L 431.23 112.85
L 431.28 113.8
L 431.3 113.2
L 431.41 115.01
L 431.56 107.39
L 431.64 109.16
L 431.66 107.71
L 431.69 107.97
L 431.98 101.73
L 432 102.16
L 432.01 101.25
L 432.05 101.95
L 432.16 100.02
L 432.36 101.08
L 432.37 101.07
L 432.46 100.08
L 432.72 109.73
L 432.73 111.3
L 432.75 110.58
L 433.08 118.04
L 433.09 117.81
L 433.31 125.47
L 433.44 122.06
L 433.45 124.94
L 433.52 123.65
L 433.78 143.41
L 433.8 142.5
L 433.81 142.78
L 433.83 142.72
L 434.11 149.24
L 434.16 148.4
L 434.17 147.62
L 434.2 147.59
L 434.35 155.07
L 434.51 154.37
L 434.53 153.92
L 434.61 154.76
L 434.76 153.36
L 434.87 154.59
L 434.89 154.4
L 434.99 155.7
L 435.2 149.01
L 435.23 150.5
L 435.25 150.26
L 435.4 151.21
L 435.56 144.89
L 435.59 146.51
L 435.61 147.98
L 435.94 135.85
L 435.95 137.25
L 435.97 135.52
L 436.18 124.68
L 436.31 129.97
L 436.33 130.55
L 436.54 119.33
L 436.67 119.8
L 436.69 123.19
L 436.92 110.1
L 437.03 112.59
L 437.05 111.2
L 437.13 117.73
L 437.39 104.27
L 437.41 105.28
L 437.49 107.24
L 437.64 101.75
L 437.75 102.66
L 437.77 102.05
L 438.11 99.28
L 438.13 99.19
L 438.32 98.46
L 438.44 100.4
L 438.47 100.25
L 438.49 101.01
L 438.63 99.11
L 438.81 113.34
L 438.83 112.13
L 438.84 112.97
L 438.89 110.33
L 439.07 116.79
L 439.19 115.69
L 439.2 115.45
L 439.45 130.03
L 439.55 129.16
L 439.56 129.17
L 439.83 141.48
L 439.91 138.41
L 439.92 140.45
L 439.96 139.64
L 440.27 150.84
L 440.28 149.18
L 440.43 153.65
L 440.63 153.29
L 440.64 153.74
L 440.72 155.05
L 440.87 153.67
L 440.99 154.09
L 441 151.98
L 441.05 152.41
L 441.34 147.94
L 441.36 149.26
L 441.41 150.83
L 441.69 138
L 441.7 140.14
L 441.72 140.49
L 441.8 140.97
L 442.06 130.39
L 442.08 131.31
L 442.44 122.61
L 442.46 124.11
L 442.77 107.51
L 442.8 107.99
L 442.82 106.5
L 442.98 99.51
L 443.16 103.86
L 443.18 103.89
L 443.26 104.3
L 443.52 91.54
L 443.53 92.14
L 443.67 92.99
L 443.88 90.97
L 443.89 90.93
L 443.94 90.68
L 444.19 94.58
L 444.24 94.52
L 444.25 92.49
L 444.27 92.41
L 444.58 99.05
L 444.6 97.44
L 444.61 97.91
L 444.92 113.91
L 444.96 112.81
L 444.97 112.44
L 445.01 111.29
L 445.17 121.5
L 445.32 121.41
L 445.33 123.98
L 445.68 138.64
L 445.69 140.92
L 445.74 143.44
L 445.85 135.81
L 446.03 140.59
L 446.05 142.4
L 446.36 149.87
L 446.39 149.06
L 446.41 149.22
L 446.43 149.6
L 446.72 148.44
L 446.75 149.44
L 446.77 148.76
L 446.79 149.24
L 447.11 142.53
L 447.13 142.57
L 447.37 145.45
L 447.46 137.55
L 447.47 138.87
L 447.49 134.59
L 447.55 140.16
L 447.83 129.11
L 447.85 130.2
L 448.18 123.69
L 448.19 123.93
L 448.21 122.67
L 448.24 125.68
L 448.47 116.89
L 448.55 118.04
L 448.57 115.76
L 448.6 117.03
L 448.75 110.23
L 448.91 111.25
L 448.93 110.17
L 448.94 113.47
L 449.19 103.75
L 449.27 105.34
L 449.29 106.79
L 449.6 98.72
L 449.63 99.03
L 449.65 99.4
L 449.99 100.29
L 450.01 100.59
L 450.18 100.58
L 450.32 104.22
L 450.35 102.54
L 450.36 103.43
L 450.38 102.7
L 450.71 115.57
L 450.72 114.16
L 450.79 119.45
L 451.07 118.43
L 451.08 117.84
L 451.26 116.51
L 451.43 130.43
L 451.44 129.01
L 451.59 127.92
L 451.74 139.78
L 451.79 139.4
L 451.8 141.73
L 451.85 139.11
L 452.15 151.2
L 452.16 151.14
L 452.23 147.8
L 452.41 153.93
L 452.51 152.55
L 452.52 153.26
L 452.54 152.45
L 452.86 156.05
L 452.88 155.5
L 452.95 157
L 453.22 155.7
L 453.24 155.19
L 453.26 156.52
L 453.6 148.27
L 453.62 147.6
L 453.68 151.94
L 453.96 142.23
L 453.98 141.81
L 454.01 144.91
L 454.29 133.71
L 454.32 134.4
L 454.34 133.78
L 454.35 134.02
L 454.66 117.36
L 454.68 117.99
L 454.69 117.04
L 454.71 117.57
L 455.02 109.38
L 455.04 111.96
L 455.05 109.62
L 455.07 110.24
L 455.36 101.11
L 455.4 102.52
L 455.41 101.1
L 455.43 101.98
L 455.76 96.52
L 455.77 97.46
L 455.82 96.85
L 456.12 98.5
L 456.13 99.18
L 456.28 96.65
L 456.48 102.26
L 456.49 102.2
L 456.56 99.89
L 456.82 110.97
L 456.84 110.43
L 456.85 112.12
L 456.88 111.01
L 457.16 125.26
L 457.19 123.66
L 457.21 123.81
L 457.31 120.04
L 457.54 132.77
L 457.55 132.27
L 457.57 129.76
L 457.85 144.73
L 457.91 142.92
L 457.93 145.25
L 458.11 147.54
L 458.22 141.4
L 458.27 141.57
L 458.29 141.67
L 458.32 141.25
L 458.58 152.46
L 458.63 151.92
L 458.65 151.34
L 458.68 151.58
L 458.96 150.28
L 458.99 150.29
L 459.01 150.09
L 459.27 145.55
L 459.35 147.41
L 459.37 147.43
L 459.48 150.14
L 459.58 146.18
L 459.71 147.58
L 459.73 147.29
L 460.05 130.58
L 460.07 131.01
L 460.09 128.53
L 460.14 131.03
L 460.4 118.12
L 460.43 120.8
L 460.45 117.64
L 460.48 118.07
L 460.77 107.18
L 460.79 108.22
L 460.81 107.49
L 460.87 109.69
L 461.12 99.02
L 461.15 100.05
L 461.17 98.64
L 461.21 100.13
L 461.49 95.74
L 461.51 96
L 461.52 97.65
L 461.79 94.04
L 461.87 94.47
L 461.88 95.01
L 462.05 96.22
L 462.18 93.54
L 462.23 96.01
L 462.24 95.58
L 462.59 100.47
L 462.6 100.61
L 462.7 97.06
L 462.95 108.6
L 462.96 110.28
L 463.01 110.22
L 463.22 122.17
L 463.31 119.4
L 463.32 122.78
L 463.44 121.4
L 463.67 132.01
L 463.68 131.62
L 463.71 129.61
L 464.01 138.87
L 464.02 135.18
L 464.04 136.3
L 464.34 145.59
L 464.38 143.34
L 464.4 144.66
L 464.43 144.29
L 464.5 151.63
L 464.74 149.71
L 464.76 150.28
L 464.87 150.22
L 465.04 151.81
L 465.12 151.33
L 465.14 150.8
L 465.48 145.08
L 465.5 144.88
L 465.51 146.55
L 465.76 137.73
L 465.84 140.08
L 465.85 141.28
L 466.18 131.78
L 466.2 132.14
L 466.21 131.57
L 466.25 132.79
L 466.56 116.75
L 466.57 117.31
L 466.59 117.93
L 466.77 105.87
L 466.92 110.54
L 466.93 111.74
L 467.05 113.59
L 467.28 101.42
L 467.29 101.82
L 467.33 101.96
L 467.64 95.6
L 467.65 96.56
L 467.86 95.01
L 468 95.47
L 468.01 94.69
L 468.06 94.57
L 468.22 99.09
L 468.35 96
L 468.37 96.51
L 468.47 95.97
L 468.71 102.01
L 468.73 103.87
L 468.75 101.75
L 469.07 118
L 469.09 114.4
L 469.42 126.58
L 469.43 123.95
L 469.45 123.43
L 469.71 137.77
L 469.79 134.36
L 469.81 136.44
L 470.14 148.49
L 470.15 146.59
L 470.17 145.81
L 470.5 155.18
L 470.51 155.01
L 470.53 155.55
L 470.66 152.18
L 470.79 155.57
L 470.87 153.71
L 470.89 153.5
L 470.9 153.23
L 471.12 155.7
L 471.23 153.73
L 471.25 154
L 471.26 154.28
L 471.52 143.49
L 471.59 145.45
L 471.61 145.46
L 471.62 145.49
L 471.95 134.98
L 471.97 135.93
L 472.03 137.6
L 472.31 126.15
L 472.33 126.62
L 472.59 114.23
L 472.67 118.9
L 472.68 116.52
L 472.98 100.75
L 473.03 100.77
L 473.04 100.47
L 473.08 102.71
L 473.39 94.21
L 473.4 95.26
L 473.44 94.05
L 473.55 95.99
L 473.75 94.67
L 473.76 94.72
L 473.78 94.39
L 474.07 96.36
L 474.11 95.7
L 474.12 95.61
L 474.3 100.01
L 474.47 99.76
L 474.48 99.77
L 474.55 97.4
L 474.83 113.91
L 474.84 111.81
L 474.87 110.67
L 475.1 117.71
L 475.18 115.14
L 475.2 116.23
L 475.51 127.01
L 475.54 126.11
L 475.56 127.67
L 475.69 124.64
L 475.89 134.64
L 475.9 134.45
L 475.92 136.11
L 476.12 135.02
L 476.28 143.54
L 476.3 143.92
L 476.56 141.03
L 476.64 145.33
L 476.66 145.94
L 476.69 145.39
L 477 148.16
L 477.02 148.15
L 477.11 148.57
L 477.31 144.55
L 477.36 147.23
L 477.37 146.26
L 477.64 138.39
L 477.72 141.13
L 477.73 138.64
L 478.08 129.15
L 478.09 126.74
L 478.29 115.53
L 478.44 117.22
L 478.45 116.24
L 478.47 117.08
L 478.8 102.84
L 478.81 106.99
L 478.94 107.97
L 479.16 97.86
L 479.17 98.8
L 479.24 99.48
L 479.38 94.72
L 479.52 95.11
L 479.53 94.89
L 479.69 94.57
L 479.73 96.35
L 479.87 95.05
L 479.89 95.54
L 479.91 95.53
L 480.22 105.63
L 480.23 105.19
L 480.25 106.39
L 480.28 102.2
L 480.59 112.25
L 480.61 111
L 480.66 109.25
L 480.95 122.19
L 480.97 122.43
L 481.07 119.24
L 481.21 128.76
L 481.31 128.63
L 481.33 129.81
L 481.41 128.15
L 481.67 141.83
L 481.69 142.41
L 481.85 138.57
L 482.02 146.82
L 482.03 145.29
L 482.05 145.34
L 482.08 145.12
L 482.23 149.73
L 482.39 149.3
L 482.41 150.77
L 482.72 149.41
L 482.73 151.16
L 482.75 150.25
L 482.77 149.92
L 482.88 150.45
L 483.11 144.15
L 483.13 144.24
L 483.19 146.19
L 483.45 134.6
L 483.47 137.69
L 483.49 135.86
L 483.53 139.75
L 483.81 125.71
L 483.83 126.13
L 483.85 125.69
L 484.11 115.88
L 484.19 118.63
L 484.2 115.85
L 484.55 106.76
L 484.56 106.63
L 484.61 108.14
L 484.76 98.08
L 484.91 99.24
L 484.92 98.96
L 485.25 93.07
L 485.27 93.34
L 485.28 93.53
L 485.54 92.97
L 485.63 93.85
L 485.64 92.63
L 485.94 100.78
L 485.99 99.9
L 486 98.13
L 486.28 104.52
L 486.35 102.37
L 486.36 107.8
L 486.39 105.05
L 486.7 116.98
L 486.72 118.26
L 486.75 117.02
L 487.05 132.65
L 487.06 131.57
L 487.08 132.26
L 487.41 148.42
L 487.44 147.72
L 487.46 145.47
L 487.57 147.32
L 487.67 141.7
L 487.8 146.9
L 487.82 146.74
L 488.14 152.46
L 488.16 152.38
L 488.18 152.05
L 488.22 151.73
L 488.44 152.44
L 488.52 152.07
L 488.53 151.24
L 488.57 151.71
L 488.85 146.17
L 488.88 148.05
L 488.89 146.33
L 488.93 146.65
L 489.24 138.97
L 489.25 140.79
L 489.27 143.12
L 489.56 129.09
L 489.6 131.43
L 489.61 129.1
L 489.63 129.9
L 489.91 124.22
L 489.96 125.03
L 489.97 122.76
L 490.05 125.66
L 490.32 114.93
L 490.33 113.76
L 490.36 115.72
L 490.66 103.14
L 490.68 104.1
L 490.69 104.75
L 490.89 106.25
L 491.03 102.18
L 491.05 100.13
L 491.13 103.24
L 491.39 98.18
L 491.41 97.46
L 491.43 96.9
L 491.52 98.31
L 491.75 97.26
L 491.77 97.48
L 491.79 97.15
L 492.02 102.78
L 492.11 102.6
L 492.13 104.47
L 492.23 100.94
L 492.36 110.66
L 492.47 110.41
L 492.49 109.99
L 492.52 109.63
L 492.75 118.24
L 492.83 112.69
L 492.85 115.55
L 493.18 129
L 493.19 126.44
L 493.21 124.38
L 493.55 140.34
L 493.57 139.8
L 493.58 139.32
L 493.89 149.09
L 493.91 145.55
L 493.93 145.59
L 494.24 152.06
L 494.27 151.22
L 494.29 152.24
L 494.45 151.06
L 494.63 151.19
L 494.65 151.02
L 494.86 151.82
L 494.99 148.86
L 495.01 148.26
L 495.07 150.35
L 495.35 142.61
L 495.36 142.92
L 495.71 136.07
L 495.72 138.37
L 495.99 127.84
L 496.07 129.26
L 496.08 130.31
L 496.1 131.2
L 496.28 122.34
L 496.43 123.82
L 496.44 122.96
L 496.46 124.94
L 496.79 110.38
L 496.8 112.23
L 497 113.76
L 497.11 106.22
L 497.15 107.26
L 497.16 105.59
L 497.24 103.39
L 497.36 109.32
L 497.51 103.52
L 497.52 102.91
L 497.54 103.81
L 497.83 97.16
L 497.86 97.87
L 497.88 97.93
L 497.9 97.18
L 498.22 99.14
L 498.24 98.63
L 498.27 98
L 498.57 102.9
L 498.58 102.71
L 498.6 100.94
L 498.83 114.84
L 498.96 111.26
L 498.98 111.72
L 499.22 121.02
L 499.32 119.82
L 499.34 123.31
L 499.38 120.78
L 499.68 137.84
L 499.69 138.48
L 499.86 132.62
L 499.99 144.11
L 500.04 142.47
L 500.05 139.37
L 500.27 149.54
L 500.4 147.35
L 500.41 149.04
L 500.45 148.22
L 500.58 151.78
L 500.76 151.05
L 500.77 151.13
L 500.99 152.46
L 501.12 148.35
L 501.13 147.84
L 501.44 139.39
L 501.48 142.05
L 501.49 140.91
L 501.57 143.02
L 501.77 130.43
L 501.84 135.47
L 501.85 133.59
L 502.18 122.79
L 502.19 124.52
L 502.21 126.99
L 502.55 114.28
L 502.57 115.74
L 502.62 115.91
L 502.78 106.73
L 502.91 108.89
L 502.93 107.95
L 503.11 98.17
L 503.27 101.7
L 503.29 102.72
L 503.31 103.82
L 503.55 96.11
L 503.63 97.63
L 503.65 96.81
L 503.68 97.76
L 503.88 95.87
L 503.99 96.95
L 504.01 97.14
L 504.17 94.83
L 504.35 102.09
L 504.37 102.72
L 504.5 104.49
L 504.66 100.36
L 504.71 103.28
L 504.73 105.52
L 504.92 114.98
L 505.07 112.42
L 505.09 114.66
L 505.43 126.64
L 505.45 123.69
L 505.72 139.63
L 505.79 138.33
L 505.81 138.78
L 505.85 138.77
L 506.13 147.05
L 506.15 146.17
L 506.17 145.97
L 506.2 145.61
L 506.46 150.52
L 506.51 149.97
L 506.52 149.96
L 506.87 144.92
L 506.88 145.07
L 506.93 146.75
L 507.23 139.51
L 507.24 138.98
L 507.36 140.31
L 507.55 127.78
L 507.59 131.44
L 507.6 132
L 507.65 135.76
L 507.95 125.21
L 507.96 127.17
L 508.29 111.11
L 508.31 112.18
L 508.32 112.57
L 508.37 114.22
L 508.63 98.95
L 508.67 100.84
L 508.68 101.19
L 508.7 102.19
L 508.83 96.04
L 509.02 96.25
L 509.04 94.31
L 509.17 95.58
L 509.27 92.69
L 509.38 92.91
L 509.4 93.53
L 509.55 92.63
L 509.69 94.74
L 509.74 93.64
L 509.76 94.47
L 509.79 93.72
L 510.09 99.63
L 510.12 99.07
L 510.14 99.36
L 510.15 98.92
L 510.46 109.9
L 510.48 107.29
L 510.5 105.72
L 510.84 124.38
L 510.85 125.78
L 510.99 119.06
L 511.17 130.02
L 511.2 129.35
L 511.21 129.72
L 511.23 128.82
L 511.56 140.78
L 511.57 137.84
L 511.92 145.74
L 511.93 146.72
L 511.97 143.22
L 512.24 147.92
L 512.28 147.28
L 512.29 147.67
L 512.36 146.66
L 512.57 147.79
L 512.64 146.92
L 512.65 147.73
L 512.82 143.96
L 513 144.66
L 513.01 142.7
L 513.34 134.79
L 513.35 137.32
L 513.37 137.19
L 513.39 138.93
L 513.65 126.56
L 513.71 127.52
L 513.73 127.62
L 513.76 127.8
L 514.06 115.11
L 514.07 116.21
L 514.09 114.23
L 514.27 117.17
L 514.42 110.19
L 514.43 112.74
L 514.45 113.74
L 514.48 115.49
L 514.65 101.93
L 514.79 104.99
L 514.81 105.15
L 515.14 99.21
L 515.15 100.58
L 515.17 100.56
L 515.51 96.29
L 515.53 96.33
L 515.59 96.13
L 515.82 98.06
L 515.87 97.01
L 515.89 97.93
L 515.92 96.8
L 516.23 107.58
L 516.25 105.28
L 516.31 103.56
L 516.57 118.06
L 516.59 115.65
L 516.61 115.85
L 516.87 127.92
L 516.95 127.55
L 516.97 129.61
L 517.08 128.24
L 517.28 144.51
L 517.31 141.98
L 517.33 141.66
L 517.36 141.03
L 517.67 150.7
L 517.69 151.63
L 517.82 149.86
L 517.98 153.34
L 518.03 153.19
L 518.04 153.41
L 518.13 155.03
L 518.39 153.62
L 518.4 153
L 518.47 155.05
L 518.65 150.45
L 518.75 150.56
L 518.76 150.28
L 518.83 153
L 519.07 143.22
L 519.11 145.21
L 519.12 143.64
L 519.22 146.25
L 519.47 136.89
L 519.48 138.3
L 519.5 141.38
L 519.83 128.01
L 519.84 127.81
L 519.94 128.84
L 520.07 121.37
L 520.19 122.22
L 520.2 122.29
L 520.45 110.5
L 520.54 113.44
L 520.56 114.89
L 520.87 102.31
L 520.9 103.94
L 520.92 100.39
L 520.95 101.12
L 521.21 94.83
L 521.28 95.89
L 521.3 97.51
L 521.35 97.61
L 521.39 96.2
L 521.64 96.57
L 521.66 96.32
L 521.74 96.18
L 521.97 99.22
L 522 98.7
L 522.02 98.91
L 522.33 107.43
L 522.36 104.65
L 522.37 105.95
L 522.41 104.85
L 522.7 119.28
L 522.72 118.57
L 522.73 122.55
L 522.9 118.07
L 523.08 128.7
L 523.09 134.05
L 523.16 133.38
L 523.32 139.78
L 523.44 138.89
L 523.45 140.49
L 523.49 136.96
L 523.78 148.36
L 523.8 147.03
L 523.81 147.5
L 523.91 152.46
L 524.16 150.77
L 524.17 150.3
L 524.4 152.31
L 524.52 149.97
L 524.53 149.69
L 524.79 149.74
L 524.83 145.94
L 524.87 147.08
L 524.89 145.92
L 524.94 148.55
L 525.23 135.83
L 525.25 136.58
L 525.32 139.45
L 525.53 128.22
L 525.59 131.41
L 525.61 130.54
L 525.63 131.72
L 525.92 119.72
L 525.95 121.98
L 525.97 121.14
L 526.31 105.71
L 526.33 107.78
L 526.67 97.79
L 526.69 96.12
L 526.8 94.37
L 526.92 98.08
L 527.03 94.75
L 527.05 93.92
L 527.1 94.63
L 527.16 93.28
L 527.39 93.38
L 527.41 93.7
L 527.75 99.63
L 527.77 98.79
L 527.82 97.58
L 528.11 102.62
L 528.13 102.92
L 528.44 111.63
L 528.47 111.05
L 528.49 110.18
L 528.83 128.68
L 528.85 128.57
L 528.93 126.37
L 529.09 135.22
L 529.19 134.79
L 529.2 135.33
L 529.52 141.88
L 529.55 141.71
L 529.56 141.36
L 529.83 149.87
L 529.91 147.18
L 529.92 146.29
L 529.94 147.98
L 530.27 146.8
L 530.28 146.91
L 530.46 144.68
L 530.63 148.39
L 530.64 149.29
L 530.94 140.43
L 530.99 142.4
L 531 142.03
L 531.35 127.49
L 531.36 126.46
L 531.62 133.98
L 531.7 131.2
L 531.72 129.52
L 532.02 116.66
L 532.06 117.67
L 532.08 116.68
L 532.1 119.11
L 532.33 109.89
L 532.42 113.39
L 532.44 113.92
L 532.67 102.2
L 532.8 107.45
L 532.82 105.33
L 532.95 98.22
L 533.16 99.09
L 533.18 99.26
L 533.27 99.64
L 533.49 95.22
L 533.52 96.41
L 533.53 95.59
L 533.8 96.74
L 533.86 95.55
L 533.88 96.08
L 533.89 96.29
L 534.11 102.66
L 534.24 102.17
L 534.25 100.03
L 534.6 107.47
L 534.61 108.26
L 534.63 106.05
L 534.91 117.82
L 534.96 117.76
L 534.97 117.89
L 535.32 130.19
L 535.33 133.46
L 535.64 143.9
L 535.68 143.69
L 535.69 142.26
L 535.89 140.23
L 536.03 146.38
L 536.05 146.81
L 536.1 145.38
L 536.23 147.66
L 536.39 146.61
L 536.41 146.09
L 536.67 148.57
L 536.75 144.81
L 536.77 145.54
L 537.03 146.94
L 537.11 141.27
L 537.13 138.45
L 537.16 141.82
L 537.47 130.45
L 537.49 129.31
L 537.55 132.93
L 537.75 124.46
L 537.83 124.86
L 537.85 127.34
L 537.88 131.35
L 537.98 118
L 538.19 120.15
L 538.21 120.18
L 538.24 120.75
L 538.42 105.43
L 538.55 106.51
L 538.57 106.89
L 538.63 100.27
L 538.91 102.78
L 538.93 102.81
L 538.94 103.18
L 539.25 97.67
L 539.27 98.31
L 539.29 96.5
L 539.32 97.31
L 539.42 93.92
L 539.63 94.66
L 539.65 94.67
L 539.92 100.51
L 539.99 99.68
L 540.01 101.13
L 540.1 98.26
L 540.32 107.83
L 540.35 106.87
L 540.36 108.35
L 540.43 108.29
L 540.71 114.59
L 540.72 112.83
L 540.74 112.58
L 541.05 127.89
L 541.07 127.07
L 541.08 129.72
L 541.17 128.73
L 541.43 141.65
L 541.44 142.12
L 541.53 140.06
L 541.79 149.33
L 541.8 149.48
L 542 152.46
L 542.15 150.97
L 542.16 150.86
L 542.37 152.26
L 542.42 150.22
L 542.51 151.93
L 542.52 150.99
L 542.57 152.3
L 542.8 144.39
L 542.86 146.75
L 542.88 145.16
L 543.16 139.2
L 543.22 140.82
L 543.24 140.39
L 543.5 127.9
L 543.58 133.62
L 543.6 133.22
L 543.96 120.17
L 543.98 119.79
L 543.99 121.11
L 544.32 108.18
L 544.34 108.97
L 544.35 110.07
L 544.61 97.71
L 544.68 97.76
L 544.69 100.56
L 545.04 94.23
L 545.05 95.06
L 545.09 93.92
L 545.2 95.65
L 545.4 94.6
L 545.41 94.68
L 545.71 97.24
L 545.76 96.96
L 545.77 96.92
L 545.79 96.18
L 546.12 104.37
L 546.13 101.58
L 546.46 114.89
L 546.48 114.25
L 546.49 113.03
L 546.56 112.38
L 546.8 122.38
L 546.84 121.66
L 546.85 120.23
L 547.05 131.5
L 547.19 125.72
L 547.21 124.26
L 547.52 147.4
L 547.55 145.3
L 547.57 146.47
L 547.86 154.6
L 547.91 154.05
L 547.93 154.73
L 548 151.11
L 548.27 155.7
L 548.29 155.39
L 548.53 153.37
L 548.63 154.54
L 548.65 154.98
L 548.67 155.67
L 548.98 145.46
L 548.99 146.5
L 549.01 147.65
L 549.34 139.42
L 549.35 141.74
L 549.37 143.29
L 549.71 126.32
L 549.73 128.93
L 550.04 119.52
L 550.07 119.76
L 550.09 121.58
L 550.14 124.35
L 550.43 112.25
L 550.45 109.88
L 550.46 112
L 550.79 100.94
L 550.81 101.38
L 550.87 102.67
L 551.15 94.53
L 551.17 95.56
L 551.18 95.71
L 551.23 94.31
L 551.51 95.42
L 551.53 95.2
L 551.67 95.16
L 551.87 97.55
L 551.88 96.25
L 552.16 109.07
L 552.23 106.67
L 552.24 107.21
L 552.54 120.49
L 552.59 116.53
L 552.6 117.72
L 552.64 117.35
L 552.9 128.83
L 552.95 128.38
L 552.96 128.64
L 552.98 126.94
L 553.31 137.89
L 553.32 137.93
L 553.65 149.01
L 553.67 148.71
L 553.68 148.45
L 553.7 146.34
L 553.85 152.26
L 554.03 151.08
L 554.04 150.99
L 554.37 147.65
L 554.38 148.45
L 554.4 149.29
L 554.58 152.46
L 554.74 145.33
L 554.76 145.23
L 554.78 146.02
L 555.12 135.83
L 555.14 136.15
L 555.28 141.52
L 555.45 134.47
L 555.48 136.75
L 555.5 136.91
L 555.84 121.99
L 555.86 122.46
L 556.2 113.46
L 556.21 113.12
L 556.25 114.92
L 556.53 104.95
L 556.56 108.82
L 556.57 106.48
L 556.69 107.73
L 556.92 101.09
L 556.93 100.67
L 556.95 102.01
L 557.24 96.91
L 557.28 97.15
L 557.29 97.61
L 557.34 96.9
L 557.64 99.23
L 557.65 99.54
L 557.67 99.32
L 557.93 104.67
L 558 102.56
L 558.01 102.51
L 558.09 102.01
L 558.34 108.69
L 558.36 105.61
L 558.37 109.5
L 558.39 108.12
L 558.62 118.08
L 558.71 116.72
L 558.73 119.03
L 558.99 129.86
L 559.07 129.19
L 559.09 128.79
L 559.43 141.51
L 559.45 138.79
L 559.48 137.49
L 559.79 149.13
L 559.81 146.6
L 559.97 151.52
L 560.15 151.08
L 560.17 151.6
L 560.25 151.81
L 560.43 149.59
L 560.51 149.9
L 560.53 150.28
L 560.54 151.18
L 560.74 147.9
L 560.87 149.08
L 560.89 147.48
L 560.9 148.47
L 561.2 140
L 561.23 140.47
L 561.25 138.22
L 561.35 139.88
L 561.53 128.98
L 561.59 130.88
L 561.61 128.58
L 561.64 131.62
L 561.95 116.08
L 561.97 117.82
L 562.1 122.87
L 562.24 113.73
L 562.31 114.44
L 562.33 114.21
L 562.34 114.92
L 562.57 103.76
L 562.67 105.63
L 562.69 105.22
L 562.96 97.93
L 563.03 98.53
L 563.04 97.73
L 563.19 93.02
L 563.39 94.9
L 563.4 95.2
L 563.53 94.03
L 563.73 95.75
L 563.75 95.09
L 563.76 95.09
L 564.03 103.02
L 564.11 100.88
L 564.12 98.08
L 564.38 110.64
L 564.47 109.98
L 564.48 110.3
L 564.81 122.26
L 564.83 122.12
L 564.84 125.45
L 564.89 124.42
L 565.04 133.81
L 565.19 133.74
L 565.2 133.56
L 565.45 147.96
L 565.54 144.06
L 565.56 144.91
L 565.89 152.46
L 565.9 151.42
L 565.92 152.07
L 565.95 152.21
L 566.07 151.18
L 566.28 151.41
L 566.3 150.96
L 566.31 151.27
L 566.61 147.19
L 566.64 147.6
L 566.66 146.25
L 566.67 148.75
L 566.95 140.02
L 567 141.6
L 567.02 140.75
L 567.08 142.75
L 567.36 131.16
L 567.37 133.84
L 567.39 135.12
L 567.67 124.36
L 567.72 125.85
L 567.73 126.96
L 568.03 105.18
L 568.08 105.82
L 568.09 105.76
L 568.27 106.93
L 568.37 97.03
L 568.44 99.24
L 568.45 99.22
L 568.47 100.54
L 568.76 95.88
L 568.8 96.48
L 568.81 96.18
L 568.91 93.92
L 569.16 94.54
L 569.17 94.67
L 569.22 94.43
L 569.5 97.76
L 569.52 97.73
L 569.53 96.18
L 569.63 95.64
L 569.83 104.99
L 569.87 102.33
L 569.89 102.52
L 570.15 114.89
L 570.23 110.82
L 570.25 111.1
L 570.59 124.19
L 570.61 122.64
L 570.63 120.79
L 570.95 130.73
L 570.97 132.21
L 571.26 139.8
L 571.31 138.84
L 571.33 140.37
L 571.67 149.78
L 571.69 150.34
L 571.7 149.05
L 571.72 151.16
L 572.03 150.24
L 572.05 150.03
L 572.26 150.59
L 572.37 146.48
L 572.39 146.8
L 572.41 145.17
L 572.46 146.27
L 572.64 142.94
L 572.75 144.89
L 572.77 147.3
L 573.04 137.14
L 573.11 138.14
L 573.13 135.44
L 573.19 136.58
L 573.47 126.82
L 573.49 127.35
L 573.83 113.2
L 573.85 112.9
L 573.98 117.96
L 574.12 108.25
L 574.19 110.5
L 574.2 109.31
L 574.29 111.46
L 574.52 103.43
L 574.55 105.99
L 574.56 102.97
L 574.6 105.63
L 574.79 99.66
L 574.91 100.56
L 574.92 100.01
L 575.15 98.46
L 575.27 99.44
L 575.28 99.44
L 575.3 99.38
L 575.56 102.03
L 575.63 101.86
L 575.64 102.16
L 575.92 101.44
L 575.99 106.78
L 576 106.84
L 576.03 106
L 576.26 116.39
L 576.35 113.9
L 576.36 113.45
L 576.56 125.35
L 576.7 122.81
L 576.72 125.67
L 576.77 123.74
L 577.03 134.55
L 577.06 130.57
L 577.08 131.84
L 577.42 144.38
L 577.44 145.83
L 577.65 142.98
L 577.73 147.43
L 577.8 147
L 577.82 148.7
L 577.86 147.26
L 577.88 149.87
L 578.16 149.21
L 578.18 149.09
L 578.22 149.38
L 578.42 146.22
L 578.52 147.35
L 578.53 147.01
L 578.57 147.86
L 578.71 142.12
L 578.88 143.51
L 578.89 142.39
L 578.93 145.6
L 579.24 131.65
L 579.25 130.87
L 579.27 132.41
L 579.6 121.42
L 579.61 118.6
L 579.73 121.97
L 579.94 107.76
L 579.96 108.12
L 579.97 110.2
L 580.1 111.55
L 580.27 101.98
L 580.32 103.28
L 580.33 100.74
L 580.35 102.99
L 580.66 95.88
L 580.68 96.16
L 580.69 94.69
L 580.72 95.02
L 580.9 93.14
L 581.03 93.76
L 581.05 93.62
L 581.2 93.02
L 581.39 97.05
L 581.41 98.7
L 581.67 101.02
L 581.72 96.81
L 581.75 100.67
L 581.77 101.24
L 581.79 99.48
L 581.95 109.55
L 582.11 106.99
L 582.13 107.13
L 582.47 124.02
L 582.49 127.08
L 582.65 126.8
L 582.8 135.5
L 582.83 135.44
L 582.85 136.47
L 582.93 132.92
L 583.18 141.84
L 583.19 139.78
L 583.21 141.78
L 583.22 141.25
L 583.55 149.95
L 583.57 149.22
L 583.67 152.46
L 583.91 152.25
L 583.93 152.16
L 584.03 152.42
L 584.27 147.17
L 584.29 149.14
L 584.45 151.82
L 584.61 146.21
L 584.63 147.53
L 584.65 146.5
L 584.66 146.57
L 584.96 141.28
L 584.99 143
L 585.01 143.77
L 585.05 147.41
L 585.35 132.35
L 585.37 130.71
L 585.38 132.37
L 585.64 118.36
L 585.71 122.52
L 585.72 120.3
L 585.89 121.45
L 585.97 115.15
L 586.07 115.9
L 586.08 116.51
L 586.3 106.14
L 586.43 110.4
L 586.44 113.06
L 586.53 113.72
L 586.75 97.39
L 586.79 99.8
L 586.8 98.96
L 586.92 103.8
L 587.11 97.23
L 587.15 98.68
L 587.16 98.46
L 587.18 99.05
L 587.29 94.57
L 587.51 96.39
L 587.52 96.37
L 587.8 95.12
L 587.87 97.25
L 587.88 96.65
L 588.22 104.1
L 588.24 104.76
L 588.26 102.82
L 588.58 118.35
L 588.6 114.27
L 588.93 131.35
L 588.96 127.54
L 588.98 128.79
L 589.25 139.56
L 589.32 139.13
L 589.34 139.25
L 589.66 152.96
L 589.68 152.86
L 589.7 151.39
L 589.73 149.57
L 589.96 153.75
L 590.04 153.65
L 590.05 154.06
L 590.1 154.4
L 590.37 152.39
L 590.4 153.31
L 590.41 152.25
L 590.54 153.63
L 590.68 147.86
L 590.76 150.35
L 590.77 150.11
L 590.84 152.06
L 591.1 141.63
L 591.12 142.66
L 591.13 143.38
L 591.15 144.5
L 591.48 126.34
L 591.49 127.82
L 591.64 128.72
L 591.84 121.03
L 591.85 120.98
L 591.93 123.8
L 592.18 105.76
L 592.2 108.42
L 592.21 109.7
L 592.37 100.6
L 592.55 102.87
L 592.57 104
L 592.64 105.2
L 592.91 94.8
L 592.93 95.07
L 593 92.92
L 593.27 94.73
L 593.29 94.65
L 593.6 92.63
L 593.62 95.99
L 593.63 94.58
L 593.65 95.76
L 593.67 95.33
L 593.93 103.44
L 593.99 102.75
L 594.01 103.63
L 594.07 100.28
L 594.35 116.51
L 594.37 116.79
L 594.38 112.43
L 594.71 131.83
L 594.73 128.08
L 594.79 124.16
L 595.01 141.58
L 595.07 140.28
L 595.09 142.31
L 595.1 140.22
L 595.43 149.01
L 595.45 148.81
L 595.77 155.71
L 595.79 154.37
L 595.81 155.56
L 595.82 155.1
L 596.05 156.52
L 596.15 155.79
L 596.17 156.29
L 596.18 157
L 596.49 152
L 596.51 153.06
L 596.53 152.9
L 596.7 143.82
L 596.87 147.92
L 596.88 143.53
L 596.93 144.17
L 597.21 135.86
L 597.23 136.22
L 597.24 136.72
L 597.26 138.1
L 597.59 129.18
L 597.6 127.38
L 597.65 129.5
L 597.95 117.81
L 597.96 116.74
L 597.98 119.57
L 598.11 110.91
L 598.31 112.63
L 598.32 110.11
L 598.4 106.2
L 598.57 111.44
L 598.67 107.72
L 598.68 106.09
L 598.78 107.08
L 598.96 100.37
L 599.03 100.74
L 599.04 101.26
L 599.35 98.75
L 599.38 98.87
L 599.4 98.43
L 599.43 98.2
L 599.73 100.52
L 599.74 99.8
L 599.76 100.18
L 599.78 98.75
L 600.12 108.16
L 600.14 107.11
L 600.4 115.6
L 600.48 112.35
L 600.5 116.41
L 600.84 130.04
L 600.86 130.07
L 601.02 124.82
L 601.18 137.92
L 601.2 136.98
L 601.21 139.69
L 601.23 138.79
L 601.49 149.22
L 601.56 147.01
L 601.57 147.79
L 601.59 146.53
L 601.75 149.21
L 601.92 149
L 601.93 148.7
L 602.15 149.13
L 602.28 147.82
L 602.29 146.31
L 602.33 147.26
L 602.6 141.27
L 602.64 142.83
L 602.65 141.9
L 602.69 142.11
L 602.95 136.83
L 603 138.6
L 603.01 139.69
L 603.36 121.86
L 603.37 122.17
L 603.44 122.8
L 603.54 117.02
L 603.71 118.19
L 603.73 119.58
L 603.98 109.38
L 604.07 111.49
L 604.09 108.31
L 604.14 109.64
L 604.43 97.97
L 604.45 96.32
L 604.52 98.05
L 604.78 94.89
L 604.79 95.42
L 604.81 94.92
L 604.86 94.83
L 604.91 95.88
L 605.15 95.68
L 605.17 95.77
L 605.23 95.23
L 605.51 101.12
L 605.53 100.31
L 605.77 99.07
L 605.81 104.21
L 605.87 100.86
L 605.89 103.21
L 606.21 117.94
L 606.23 117.08
L 606.25 119.27
L 606.26 116.39
L 606.51 127.44
L 606.59 126.56
L 606.61 125.44
L 606.88 139.4
L 606.95 139.36
L 606.97 140.4
L 607.21 136.11
L 607.31 142.55
L 607.33 141.29
L 607.37 139.19
L 607.67 150.91
L 607.69 151.55
L 607.72 152.46
L 608 150.55
L 608.03 150.79
L 608.04 151.09
L 608.13 152.26
L 608.32 147.79
L 608.39 148.2
L 608.4 148.28
L 608.67 142.88
L 608.75 143.18
L 608.76 142.48
L 608.78 143.53
L 609.11 128.25
L 609.12 128.47
L 609.45 119.4
L 609.47 122.6
L 609.48 122.47
L 609.81 108.45
L 609.83 109.22
L 609.84 105.16
L 610.05 98.92
L 610.19 101.35
L 610.2 100
L 610.22 101.6
L 610.51 94.57
L 610.54 96.54
L 610.56 98.31
L 610.81 95.82
L 610.9 96.27
L 610.92 95.98
L 611.02 95.06
L 611.23 97.14
L 611.26 96.85
L 611.28 97.61
L 611.62 105.36
L 611.64 103.6
L 611.66 103.41
L 611.69 101
L 612 116.09
L 612.02 116.75
L 612.11 113.94
L 612.23 122.54
L 612.36 119.27
L 612.37 119.24
L 612.46 116.06
L 612.69 131.05
L 612.72 130.82
L 612.73 131.07
L 612.75 129.92
L 613.06 142.16
L 613.08 142.05
L 613.09 142.1
L 613.27 150.6
L 613.44 145.19
L 613.45 146.67
L 613.54 153.13
L 613.8 153.03
L 613.81 152.94
L 613.83 152.42
L 614.09 153.76
L 614.16 153.74
L 614.17 153.54
L 614.52 147.74
L 614.53 149.02
L 614.86 140.89
L 614.87 142.11
L 614.89 139.88
L 615.1 141.84
L 615.23 131.54
L 615.25 132.61
L 615.28 133.15
L 615.48 114.8
L 615.59 119.76
L 615.61 120.06
L 615.95 109.72
L 615.97 112.18
L 616 112.87
L 616.26 103.74
L 616.31 105.06
L 616.33 104.26
L 616.35 104.5
L 616.66 93.17
L 616.67 93.76
L 616.69 93.04
L 616.74 93.24
L 616.75 90.94
L 617.03 92.26
L 617.05 92.1
L 617.29 91.01
L 617.36 93.24
L 617.39 91.82
L 617.41 92.67
L 617.42 92.48
L 617.75 103.08
L 617.77 101.03
L 617.8 100.78
L 618.09 110.64
L 618.11 107.95
L 618.13 108.37
L 618.42 120.32
L 618.47 117.62
L 618.49 116.07
L 618.7 129.15
L 618.83 128.46
L 618.85 130.38
L 619.03 139.53
L 619.19 139.15
L 619.2 140.74
L 619.25 140.53
L 619.55 146.7
L 619.56 146.62
L 619.81 150.94
L 619.91 149.68
L 619.92 149.62
L 620.14 151.16
L 620.23 148.26
L 620.27 149.36
L 620.28 147.99
L 620.3 149.75
L 620.63 140.83
L 620.64 141.91
L 620.82 140.2
L 620.9 144.96
L 620.99 140.72
L 621 141.2
L 621.02 143.11
L 621.35 129.17
L 621.36 128.6
L 621.48 129.14
L 621.66 112.79
L 621.7 113.56
L 621.72 109.68
L 621.82 115.99
L 622.02 106.63
L 622.06 108.52
L 622.08 110.17
L 622.42 104.08
L 622.44 103.89
L 622.46 104.13
L 622.6 102.38
L 622.64 102.6
" clip-path="url(#p4f396495b8)" style="fill: none; stroke: #1f77b4; stroke-width: 1.85; stroke-linecap: square"/>
   </g>
   <g id="title" transform="translate(-0.36 0.00)">
    <text style="font-size: 12px; font-family: 'DejaVu Sans', sans-serif; text-anchor: middle" x="369" y="80.4" transform="rotate(-0 369 80.4)">ta850, lev=0, 20150101T1200 to 20991231T1200</text>
   </g>
  </g>
  <g id="axes_2">
   <g id="patch_3">
    <path d="M 90.00 272.16 L 648.00 272.16 L 648.00 187.92 L 90.00 187.92 z" style="fill: #ffffff"/>
   </g>
   <g id="matplotlib.axis_3">
    <g id="xtick_10">
     <g id="xt1_1" transform="translate(-0.74 0.67)">
      <text style="font-size: 10px; font-family: 'DejaVu Sans', sans-serif" transform="translate(122.11 298.42) rotate(-30)">2020</text>
     </g>
    </g>
    <g id="xtick_11">
     <g id="xt1_2" transform="translate(-0.57 0.81)">
      <text style="font-size: 10px; font-family: 'DejaVu Sans', sans-serif" transform="translate(181.8 298.42) rotate(-30)">2030</text>
     </g>
    </g>
    <g id="xtick_12">
     <g id="xt1_3" transform="translate(-0.44 0.78)">
      <text style="font-size: 10px; font-family: 'DejaVu Sans', sans-serif" transform="translate(241.48 298.42) rotate(-30)">2040</text>
     </g>
    </g>
    <g id="xtick_13">
     <g id="xt1_4" transform="translate(-0.52 0.61)">
      <text style="font-size: 10px; font-family: 'DejaVu Sans', sans-serif" transform="translate(301.16 298.42) rotate(-30)">2050</text>
     </g>
    </g>
    <g id="xtick_14">
     <g id="xt1_5" transform="translate(-0.40 0.78)">
      <text style="font-size: 10px; font-family: 'DejaVu Sans', sans-serif" transform="translate(360.84 298.42) rotate(-30)">2060</text>
     </g>
    </g>
    <g id="xtick_15">
     <g id="xt1_6" transform="translate(-0.52 0.61)">
      <text style="font-size: 10px; font-family: 'DejaVu Sans', sans-serif" transform="translate(420.53 298.42) rotate(-30)">2070</text>
     </g>
    </g>
    <g id="xtick_16">
     <g id="xt1_7" transform="translate(-0.24 0.63)">
      <text style="font-size: 10px; font-family: 'DejaVu Sans', sans-serif" transform="translate(480.2 298.42) rotate(-30)">2080</text>
     </g>
    </g>
    <g id="xtick_17">
     <g id="xt1_8" transform="translate(-0.19 0.63)">
      <text style="font-size: 10px; font-family: 'DejaVu Sans', sans-serif" transform="translate(539.89 298.42) rotate(-30)">2090</text>
     </g>
    </g>
    <g id="xtick_18">
     <g id="xt1_9" transform="translate(-0.07 0.77)">
      <text style="font-size: 10px; font-family: 'DejaVu Sans', sans-serif" transform="translate(599.56 298.42) rotate(-30)">2100</text>
     </g>
    </g>
   </g>
   <g id="matplotlib.axis_4">
    <g id="ytick_5">
     <g id="yt1_1" transform="translate(0.07 0.53)">
      <text style="font-size: 10px; font-family: 'DejaVu Sans', sans-serif; text-anchor: end" x="83" y="273.59" transform="rotate(-0 83 273.59)">255</text>
     </g>
    </g>
    <g id="ytick_6">
     <g id="yt1_2" transform="translate(0.03 0.18)">
      <text style="font-size: 10px; font-family: 'DejaVu Sans', sans-serif; text-anchor: end" x="83" y="252.35" transform="rotate(-0 83 252.35)">260</text>
     </g>
    </g>
    <g id="ytick_7">
     <g id="yt1_3" transform="translate(0.14 -0.19)">
      <text style="font-size: 10px; font-family: 'DejaVu Sans', sans-serif; text-anchor: end" x="83" y="231.1" transform="rotate(-0 83 231.1)">265</text>
     </g>
    </g>
    <g id="ytick_8">
     <g id="yt1_4" transform="translate(0.01 -0.55)">
      <text style="font-size: 10px; font-family: 'DejaVu Sans', sans-serif; text-anchor: end" x="83" y="209.86" transform="rotate(-0 83 209.86)">270</text>
     </g>
    </g>
    <g id="yl1" transform="translate(-1.18 1.10)">
     <text style="font-size: 10px; font-family: 'DejaVu Sans', sans-serif; text-anchor: middle" x="57.83" y="229.9" transform="rotate(-90 57.83 229.9)">fieldmin</text>
    </g>
   </g>
   <g id="line2d_28">
    <path d="M 115.36 223.35
L 115.45 229.25
L 115.46 207.7
L 115.56 217.84
L 115.58 206.72
L 115.85 225.71
L 115.92 218.97
L 115.94 215.04
L 116.02 212.72
L 116.18 230.14
L 116.28 220.51
L 116.3 222.73
L 116.34 208.83
L 116.41 228.39
L 116.64 222.46
L 116.65 221.75
L 116.77 218.63
L 117 239.09
L 117.01 233.73
L 117.08 223.44
L 117.34 257.87
L 117.36 235.01
L 117.37 232.91
L 117.62 251.72
L 117.68 227.01
L 117.72 233.43
L 117.73 241.94
L 117.95 257.08
L 118.01 223.08
L 118.08 256.03
L 118.09 238.56
L 118.16 221.34
L 118.3 256.63
L 118.44 228.65
L 118.45 235.72
L 118.47 253.53
L 118.62 216.91
L 118.8 233.73
L 118.81 242.02
L 118.86 251.91
L 119.11 220.39
L 119.15 238.72
L 119.17 229.43
L 119.22 217.96
L 119.29 251.6
L 119.51 232.43
L 119.53 239.48
L 119.63 241.27
L 119.69 218.36
L 119.87 223.68
L 119.89 215.19
L 119.96 247.73
L 120.15 213.47
L 120.23 222.72
L 120.25 218.53
L 120.28 230.26
L 120.4 216.57
L 120.59 219.1
L 120.61 222.1
L 120.66 212.35
L 120.84 235.73
L 120.95 218.85
L 120.97 214.13
L 121.08 228.17
L 121.23 211.31
L 121.31 212.23
L 121.33 214.89
L 121.47 211.48
L 121.67 227.19
L 121.69 217
L 121.79 207.78
L 121.88 232.89
L 122.03 218.66
L 122.05 219.21
L 122.06 230.98
L 122.19 207.5
L 122.39 221.05
L 122.41 223.03
L 122.42 214.77
L 122.75 246.04
L 122.77 224.05
L 122.95 215.16
L 123.03 241.64
L 123.11 215.17
L 123.13 234.55
L 123.27 225.84
L 123.37 250.61
L 123.47 230.88
L 123.48 237.53
L 123.66 249.01
L 123.73 224.73
L 123.83 233.59
L 123.84 247.31
L 124.01 222.73
L 124.14 261.76
L 124.19 230.1
L 124.2 234.64
L 124.25 225.29
L 124.4 258.97
L 124.55 227.46
L 124.56 232.63
L 124.84 257.34
L 124.91 222.48
L 124.92 228.82
L 125 226.21
L 125.23 257.25
L 125.27 229.74
L 125.28 230.69
L 125.45 251.07
L 125.51 220.76
L 125.63 237.55
L 125.64 234.56
L 125.69 247.16
L 125.94 217.82
L 125.98 231.09
L 126 228.28
L 126.1 236.23
L 126.34 215.41
L 126.36 225.47
L 126.51 235.56
L 126.56 207.77
L 126.72 220.29
L 126.74 225.07
L 126.92 232.28
L 126.93 203.06
L 127.08 208.71
L 127.1 211.9
L 127.34 224.98
L 127.42 204.58
L 127.44 222.35
L 127.46 222.05
L 127.5 206.3
L 127.77 225.85
L 127.8 206.88
L 127.81 218.96
L 127.99 201.92
L 128.08 224.43
L 128.16 211.5
L 128.17 208.15
L 128.5 228.67
L 128.52 221.03
L 128.53 220.22
L 128.57 237.42
L 128.68 210.73
L 128.88 220.19
L 128.89 232.27
L 129.11 215.75
L 129.14 237.42
L 129.24 233.34
L 129.25 232.87
L 129.35 217.58
L 129.45 238.93
L 129.6 217.61
L 129.61 242.42
L 129.92 221.27
L 129.96 243.72
L 129.97 238.88
L 130.05 220.11
L 130.1 254.47
L 130.31 230.61
L 130.33 244.51
L 130.4 224.51
L 130.45 259.81
L 130.67 225.78
L 130.69 238.64
L 130.79 256.77
L 131 226.64
L 131.03 230.16
L 131.05 242.15
L 131.12 228.29
L 131.2 253.06
L 131.39 236.6
L 131.41 253.45
L 131.62 217.65
L 131.75 227.43
L 131.77 233.77
L 131.87 217.4
L 131.92 247.24
L 132.11 229.08
L 132.13 223.16
L 132.16 242.15
L 132.31 218.61
L 132.47 224.56
L 132.49 230.08
L 132.65 233.13
L 132.81 208.02
L 132.83 220.65
L 132.85 233.98
L 133.16 211.82
L 133.19 216.64
L 133.21 227.4
L 133.32 217.17
L 133.52 228.56
L 133.55 221.38
L 133.57 216.12
L 133.88 233.89
L 133.89 211.22
L 133.91 217.98
L 133.93 221.97
L 134.04 214.38
L 134.12 233.9
L 134.27 227.72
L 134.29 223.6
L 134.37 217.74
L 134.56 234.12
L 134.63 221.1
L 134.64 227.65
L 134.69 239.96
L 134.87 208.53
L 134.99 226.32
L 135 222.86
L 135.17 216.76
L 135.23 243.65
L 135.35 225.87
L 135.36 227.42
L 135.61 220.15
L 135.71 239.27
L 135.72 228.97
L 135.92 248.04
L 135.95 217.23
L 136.07 228.13
L 136.08 239.43
L 136.21 214.18
L 136.3 249.03
L 136.43 245.7
L 136.44 239.75
L 136.69 258.52
L 136.77 221
L 136.79 240.24
L 136.8 243.54
L 137.08 252.23
L 137.14 223.43
L 137.16 244.15
L 137.28 225.7
L 137.39 251.7
L 137.5 240.23
L 137.52 223.85
L 137.67 253.92
L 137.86 241.25
L 137.88 235.89
L 137.91 246.55
L 137.99 220.43
L 138.24 233.7
L 138.26 234.02
L 138.27 246.23
L 138.55 213.71
L 138.6 217.05
L 138.62 239.83
L 138.88 210.12
L 138.96 222.85
L 138.97 226.24
L 139.2 233.82
L 139.25 203.04
L 139.32 212.6
L 139.33 229.34
L 139.61 205.48
L 139.68 219.81
L 139.69 220.81
L 139.82 204.1
L 140.02 227.3
L 140.04 220.61
L 140.05 222.63
L 140.18 202.57
L 140.23 230.5
L 140.4 215.29
L 140.41 214.03
L 140.58 237.14
L 140.63 206.17
L 140.76 235.77
L 140.77 215.01
L 140.79 209.85
L 141 234.67
L 141.12 225.84
L 141.13 219.63
L 141.15 217.14
L 141.41 245.53
L 141.47 240.08
L 141.49 233.04
L 141.65 219.05
L 141.82 249.42
L 141.83 227.83
L 141.85 230.79
L 141.88 259.16
L 142.05 220.85
L 142.19 236.05
L 142.21 222.95
L 142.29 255.62
L 142.55 242.7
L 142.57 233.7
L 142.62 257.7
L 142.77 223.05
L 142.91 244.46
L 142.93 235.31
L 143.03 247.38
L 143.06 222.84
L 143.27 229.86
L 143.29 251.28
L 143.45 215.08
L 143.63 229.04
L 143.65 227.61
L 143.96 212.77
L 143.97 233.78
L 143.99 225.65
L 144.01 236.16
L 144.24 214.31
L 144.35 231.03
L 144.37 218.39
L 144.53 207.19
L 144.69 229.26
L 144.71 223.27
L 144.73 206.84
L 144.81 228.83
L 145.07 205.51
L 145.09 214.43
L 145.2 226.29
L 145.4 204.92
L 145.43 218.12
L 145.45 215.42
L 145.46 227.22
L 145.53 204.52
L 145.79 220.36
L 145.8 223.31
L 146.02 210.83
L 146.12 229.18
L 146.15 226.41
L 146.16 229.67
L 146.21 211.02
L 146.44 230.15
L 146.51 229.88
L 146.52 219.1
L 146.8 217.72
L 146.87 236.5
L 146.88 223.13
L 146.92 214.91
L 147.23 238.76
L 147.24 230.37
L 147.34 216.05
L 147.55 244.83
L 147.59 226.59
L 147.6 232.64
L 147.88 214.4
L 147.93 252.1
L 147.95 231.13
L 147.96 239.64
L 148.08 254.63
L 148.13 213.91
L 148.3 236.89
L 148.32 238.53
L 148.45 220.14
L 148.55 251.6
L 148.66 227.45
L 148.68 251.99
L 148.71 253.12
L 148.99 224.18
L 149.02 231.57
L 149.04 245.89
L 149.3 252.81
L 149.4 221.69
L 149.42 229.9
L 149.61 249.05
L 149.68 222.13
L 149.76 241.42
L 149.78 232.91
L 149.84 243.74
L 150 220.62
L 150.12 231.05
L 150.13 242.34
L 150.48 216.38
L 150.49 235.98
L 150.79 214.84
L 150.84 232.47
L 150.85 209.16
L 151.15 231.6
L 151.16 205.57
L 151.2 223.36
L 151.21 228.87
L 151.3 231.35
L 151.51 199.62
L 151.56 207.82
L 151.57 229.07
L 151.61 198.04
L 151.9 229.4
L 151.92 220.83
L 151.93 216.94
L 151.97 200.45
L 152.06 226.17
L 152.28 212.74
L 152.29 209.37
L 152.37 198.27
L 152.6 227.34
L 152.63 225.23
L 152.65 220.53
L 152.75 205.6
L 152.83 233.67
L 152.99 225.87
L 153.01 224.09
L 153.24 208.9
L 153.35 235.12
L 153.37 228.48
L 153.45 215.63
L 153.65 243.53
L 153.71 224.07
L 153.73 234.86
L 154.04 219.9
L 154.07 259.26
L 154.09 224.48
L 154.17 258.81
L 154.3 223.64
L 154.43 257.18
L 154.45 235.6
L 154.48 223.62
L 154.76 267.59
L 154.79 237.1
L 154.81 229.01
L 154.86 221.08
L 154.94 263.69
L 155.15 232.32
L 155.17 261.66
L 155.48 223.35
L 155.51 223.57
L 155.53 218.45
L 155.76 247.68
L 155.77 214.02
L 155.87 233.48
L 155.89 220.35
L 155.98 236.34
L 156.08 212.15
L 156.23 212.62
L 156.25 218.02
L 156.3 207.8
L 156.43 231.19
L 156.59 215.7
L 156.61 214.66
L 156.85 227.41
L 156.95 198.94
L 156.97 220.55
L 157.23 225.1
L 157.31 200.59
L 157.32 211.22
L 157.37 228.64
L 157.54 200.2
L 157.67 214.67
L 157.68 219.02
L 157.77 201.06
L 157.95 232.46
L 158.03 231.08
L 158.04 212.86
L 158.27 233
L 158.34 208.59
L 158.39 227.52
L 158.4 232.64
L 158.47 214.81
L 158.6 235.21
L 158.75 225.91
L 158.76 233.83
L 158.88 215.65
L 159.04 239.12
L 159.11 233.62
L 159.12 225.17
L 159.15 215.21
L 159.42 243.29
L 159.47 226.26
L 159.48 245.93
L 159.66 231.71
L 159.79 260.66
L 159.82 247.11
L 159.84 244.82
L 159.97 262.8
L 160.14 228.73
L 160.18 234.07
L 160.2 242.59
L 160.28 226.99
L 160.31 258.08
L 160.56 250.52
L 160.58 252.27
L 160.59 264.35
L 160.76 223.54
L 160.92 249.79
L 160.94 233.11
L 160.95 255.96
L 161.13 224.58
L 161.28 244.18
L 161.3 253.79
L 161.47 228.13
L 161.64 240.54
L 161.65 245.95
L 161.79 206.28
L 161.82 247.87
L 162 240.24
L 162.01 229.18
L 162.14 235.7
L 162.34 212.6
L 162.36 225.31
L 162.37 228.57
L 162.5 208.53
L 162.54 234.03
L 162.72 230.17
L 162.73 208.07
L 162.93 204.6
L 162.99 232.22
L 163.08 221.91
L 163.09 218.2
L 163.21 226.61
L 163.27 199.98
L 163.44 214.47
L 163.45 211.8
L 163.71 201.83
L 163.78 228.39
L 163.8 216.25
L 163.81 205.93
L 163.91 227.62
L 164.15 210.85
L 164.17 218.29
L 164.27 210.8
L 164.38 236.96
L 164.51 217.31
L 164.53 226.42
L 164.74 250.29
L 164.84 222.16
L 164.87 244.76
L 164.89 233.3
L 165.05 261.76
L 165.14 227.04
L 165.23 250.94
L 165.25 238.75
L 165.53 256.42
L 165.56 224.04
L 165.59 232.07
L 165.61 236.71
L 165.77 219.85
L 165.85 259.74
L 165.95 233.52
L 165.97 228.81
L 165.98 255.93
L 166.18 224.55
L 166.31 255.12
L 166.33 220.1
L 166.34 255.56
L 166.47 215.18
L 166.67 238.65
L 166.69 238.9
L 166.72 211.93
L 166.88 250.82
L 167.03 228.64
L 167.05 219.76
L 167.08 249.37
L 167.29 218.95
L 167.39 220.16
L 167.41 227.36
L 167.52 237.81
L 167.68 214.98
L 167.75 218.91
L 167.77 220.89
L 167.8 213.31
L 168.01 230.11
L 168.11 216.73
L 168.13 221.36
L 168.14 203.57
L 168.45 229.33
L 168.47 214.01
L 168.48 210.1
L 168.75 203.67
L 168.76 229.14
L 168.83 214.12
L 168.84 204.89
L 168.93 225.2
L 169.19 203.81
L 169.2 222.21
L 169.47 224.61
L 169.55 202.83
L 169.56 207.1
L 169.81 223.97
L 169.86 205.26
L 169.91 216.73
L 169.92 234.05
L 169.94 207.56
L 170.27 227.34
L 170.28 217.18
L 170.41 235.49
L 170.58 216.09
L 170.63 227.41
L 170.64 209.36
L 170.87 244.2
L 170.98 241.07
L 171 233.45
L 171.08 219.77
L 171.34 257.09
L 171.36 221.17
L 171.7 253.59
L 171.72 224.5
L 171.75 255.53
L 172.08 224.38
L 172.1 259.3
L 172.24 259.33
L 172.29 222.73
L 172.44 226.43
L 172.46 261.11
L 172.7 220.95
L 172.8 242.28
L 172.81 250.33
L 172.88 220.62
L 173.16 231.46
L 173.17 233.78
L 173.24 240.13
L 173.42 213.42
L 173.52 228.32
L 173.53 230.38
L 173.68 213.9
L 173.71 234.8
L 173.88 219.92
L 173.89 222.95
L 174.01 237.31
L 174.15 213.03
L 174.24 224.19
L 174.25 220.29
L 174.42 210.26
L 174.43 228.17
L 174.6 213.19
L 174.61 231.09
L 174.94 203.61
L 174.96 223.11
L 174.97 218.64
L 175 206.11
L 175.23 227.89
L 175.31 207.99
L 175.33 203.78
L 175.46 229.21
L 175.67 211.1
L 175.69 218.83
L 175.74 211.66
L 176 229.89
L 176.03 213.61
L 176.05 218.02
L 176.28 228.18
L 176.34 211.84
L 176.39 226.74
L 176.41 220.78
L 176.49 214.35
L 176.62 236.2
L 176.75 218.23
L 176.77 234.68
L 176.79 236.27
L 176.88 212.77
L 177.11 234.57
L 177.13 233.56
L 177.32 247.01
L 177.44 220.13
L 177.47 228.44
L 177.49 230.15
L 177.52 251.37
L 177.59 220.94
L 177.83 228.5
L 177.85 242.44
L 178.08 225.36
L 178.19 258.52
L 178.21 246.53
L 178.32 248.43
L 178.35 220.79
L 178.55 231.8
L 178.57 225.45
L 178.91 255.35
L 178.93 226.3
L 179.01 257.42
L 179.14 224.82
L 179.27 231.47
L 179.29 237.22
L 179.6 251.16
L 179.61 221.49
L 179.63 238.12
L 179.64 228.06
L 179.82 253.35
L 179.97 218.11
L 179.99 227.46
L 180 237.55
L 180.07 246.38
L 180.3 220.18
L 180.35 229.37
L 180.36 221.81
L 180.51 214.71
L 180.54 235.17
L 180.71 222.76
L 180.72 233.81
L 180.87 236.05
L 181 212.96
L 181.07 229.05
L 181.08 215.5
L 181.12 229.21
L 181.18 204.13
L 181.43 220.33
L 181.44 219.15
L 181.49 228.96
L 181.65 205.64
L 181.79 218.61
L 181.8 219.48
L 182.01 205.71
L 182.14 229.47
L 182.16 220.56
L 182.19 204.56
L 182.26 230.01
L 182.5 210.91
L 182.52 229.33
L 182.7 215.98
L 182.77 233.57
L 182.86 231.3
L 182.88 219.9
L 183.13 211.65
L 183.14 239.66
L 183.24 221.64
L 183.26 225.74
L 183.44 254.96
L 183.48 225.23
L 183.6 234.54
L 183.62 237.92
L 183.71 222.5
L 183.89 257.81
L 183.96 240.46
L 183.97 240.61
L 184.07 221.89
L 184.27 259.67
L 184.32 224.2
L 184.33 226.44
L 184.5 220.61
L 184.51 259.81
L 184.68 238.12
L 184.69 225.24
L 184.96 216.43
L 184.99 251.81
L 185.04 242.67
L 185.05 243.74
L 185.07 250.12
L 185.18 220.59
L 185.4 224.23
L 185.41 223.87
L 185.64 214.75
L 185.66 242.72
L 185.76 232.83
L 185.77 233.67
L 185.9 215.53
L 186 241.02
L 186.12 226.53
L 186.13 233.6
L 186.2 237.36
L 186.3 210.99
L 186.47 219.13
L 186.49 233.52
L 186.59 208.01
L 186.83 221.42
L 186.85 210.44
L 186.87 229.11
L 187.13 208.83
L 187.19 217.78
L 187.21 215.25
L 187.46 203.61
L 187.49 225.64
L 187.55 213.33
L 187.57 221.34
L 187.65 225.9
L 187.91 207.05
L 187.93 222.78
L 188.14 203.67
L 188.24 231.89
L 188.27 218.32
L 188.29 221.92
L 188.37 231.44
L 188.39 207.03
L 188.63 220.08
L 188.65 228.4
L 188.75 234.52
L 188.76 210.38
L 188.99 214.97
L 189.01 225.53
L 189.06 217.99
L 189.33 236.83
L 189.35 229.29
L 189.37 224.93
L 189.47 214.8
L 189.68 242.99
L 189.71 224.29
L 189.73 229.9
L 189.86 220.4
L 190.07 248.01
L 190.09 253.76
L 190.15 257.22
L 190.31 221.66
L 190.43 226.92
L 190.45 231.18
L 190.53 222.05
L 190.61 253.72
L 190.79 224.04
L 190.81 245.25
L 190.94 257.12
L 191.15 217.96
L 191.16 252.75
L 191.28 220.81
L 191.51 236.84
L 191.52 244.36
L 191.54 217.27
L 191.87 236.98
L 191.88 218.59
L 192.06 211.42
L 192.14 240.69
L 192.23 220.74
L 192.24 230.86
L 192.46 214.02
L 192.49 235.64
L 192.59 222.99
L 192.6 226.27
L 192.72 233.41
L 192.88 207.75
L 192.95 220.03
L 192.96 215.1
L 193.04 230.24
L 193.27 207.95
L 193.31 222.62
L 193.32 217.51
L 193.37 209.39
L 193.4 232.27
L 193.66 224.78
L 193.68 216.58
L 193.91 203.87
L 193.99 232.21
L 194.02 224.98
L 194.04 229.68
L 194.3 208.98
L 194.33 234.35
L 194.4 230.69
L 194.42 225.46
L 194.55 233.52
L 194.56 216.64
L 194.76 227
L 194.78 227.24
L 195.07 233.4
L 195.09 211.63
L 195.12 222.13
L 195.14 232.15
L 195.18 211.04
L 195.45 242.76
L 195.48 242.73
L 195.49 227.01
L 195.56 222.97
L 195.71 242.76
L 195.84 234.89
L 195.85 237.73
L 196 248.13
L 196.07 221.5
L 196.2 239.94
L 196.21 220.31
L 196.39 253.98
L 196.56 236.53
L 196.57 246.9
L 196.59 249.91
L 196.67 220.99
L 196.92 239.24
L 196.93 228.13
L 197.06 251.75
L 197.23 221.02
L 197.28 238.27
L 197.29 236.77
L 197.32 248.91
L 197.44 214.41
L 197.64 233.92
L 197.65 223.3
L 197.8 239.82
L 197.96 213.76
L 197.99 231.83
L 198.01 234.31
L 198.19 235.8
L 198.32 211.81
L 198.35 229.72
L 198.37 225.72
L 198.52 226.21
L 198.65 209.85
L 198.71 218.93
L 198.73 222.09
L 198.84 229.51
L 199.02 204.52
L 199.07 212.13
L 199.09 220.12
L 199.17 227.38
L 199.29 206.72
L 199.43 208.09
L 199.45 214.53
L 199.51 208.22
L 199.55 225
L 199.79 218.39
L 199.81 218.08
L 199.96 204.6
L 200.15 224.6
L 200.17 228.2
L 200.3 228.28
L 200.48 209.44
L 200.51 221.93
L 200.53 227.61
L 200.61 211.52
L 200.85 236.75
L 200.87 231.22
L 200.89 230.08
L 201.07 235.68
L 201.08 213.95
L 201.23 223.15
L 201.25 227.12
L 201.3 219.23
L 201.47 242.47
L 201.59 227.54
L 201.61 234.42
L 201.7 222.42
L 201.83 244.26
L 201.95 231.38
L 201.97 243.72
L 202.03 221.16
L 202.19 255.75
L 202.31 226.46
L 202.32 231.97
L 202.41 219.2
L 202.59 252.81
L 202.67 224.79
L 202.68 232.62
L 202.78 251.32
L 202.81 222.99
L 203.03 242.38
L 203.04 225.58
L 203.22 256.57
L 203.39 224.29
L 203.4 228.97
L 203.42 224.88
L 203.45 250.18
L 203.75 237.39
L 203.76 216.62
L 203.94 239.39
L 204.11 227.09
L 204.12 217.43
L 204.29 215.25
L 204.32 238.44
L 204.47 221.79
L 204.48 221.73
L 204.71 210.96
L 204.76 232.94
L 204.82 219.62
L 204.84 229.73
L 205.18 207.47
L 205.2 222.03
L 205.33 206.16
L 205.54 224.29
L 205.56 217.02
L 205.58 208.98
L 205.72 226.76
L 205.81 204.52
L 205.92 221.56
L 205.94 209.48
L 206.1 233.35
L 206.18 207.7
L 206.28 212.66
L 206.3 218.87
L 206.38 232.07
L 206.48 210.35
L 206.64 215.55
L 206.65 225.68
L 206.7 237.16
L 206.83 215.9
L 207 220.98
L 207.01 225.9
L 207.1 212.48
L 207.26 241.86
L 207.36 233.22
L 207.37 246.36
L 207.42 218.57
L 207.68 254.59
L 207.72 219.42
L 207.73 256.34
L 207.91 213.88
L 208.08 253.44
L 208.09 230.51
L 208.14 220.43
L 208.32 261.76
L 208.44 256.11
L 208.45 250
L 208.55 221.69
L 208.78 254.85
L 208.8 251.61
L 208.81 229.9
L 208.83 254.77
L 208.91 222.37
L 209.15 240.23
L 209.17 240.06
L 209.27 249.22
L 209.35 217.15
L 209.51 228.1
L 209.53 232.53
L 209.73 246.09
L 209.87 221.49
L 209.89 223.94
L 210.04 238.37
L 210.12 212.16
L 210.23 231.81
L 210.25 207.46
L 210.48 228.1
L 210.56 205.46
L 210.59 216.22
L 210.61 214.57
L 210.81 200.65
L 210.87 226.65
L 210.95 209.45
L 210.97 209.42
L 211.18 199.98
L 211.26 224.63
L 211.31 216.54
L 211.33 202.15
L 211.51 225.32
L 211.67 205.96
L 211.69 210.2
L 211.77 205.24
L 211.85 224.62
L 212.03 209.29
L 212.05 210.18
L 212.06 227.3
L 212.24 206.79
L 212.39 223.84
L 212.41 219.4
L 212.42 214.55
L 212.49 234.38
L 212.75 228.13
L 212.77 225.57
L 212.93 222.08
L 213.04 247.29
L 213.11 230.15
L 213.13 224.27
L 213.35 249.56
L 213.47 233.61
L 213.48 240.65
L 213.53 248.11
L 213.58 225.55
L 213.83 228.16
L 213.84 238.43
L 213.86 221.41
L 214.07 256.68
L 214.19 225.26
L 214.2 234.23
L 214.37 227.41
L 214.5 264.35
L 214.55 236.49
L 214.56 231.22
L 214.71 263.28
L 214.91 223.22
L 214.92 257.52
L 215.27 225.48
L 215.28 234.87
L 215.33 250.22
L 215.36 218.96
L 215.63 226.34
L 215.64 227.51
L 215.67 236.1
L 215.95 208.02
L 215.98 220.43
L 216 215.78
L 216.26 207.28
L 216.3 237.11
L 216.34 212.42
L 216.36 206.9
L 216.48 230.77
L 216.56 199.72
L 216.7 224.36
L 216.72 207.99
L 216.75 229.32
L 216.88 203.18
L 217.08 219.31
L 217.1 221.68
L 217.37 203.65
L 217.39 229.93
L 217.44 219.32
L 217.46 213.85
L 217.54 208.35
L 217.78 228.48
L 217.8 212.09
L 217.81 206.4
L 217.96 230.68
L 218.16 216.8
L 218.17 226.37
L 218.35 209.71
L 218.52 233.02
L 218.53 230.91
L 218.58 215.68
L 218.84 246.12
L 218.88 233.74
L 218.89 225.74
L 219.01 244.89
L 219.09 216.75
L 219.24 221.91
L 219.25 236.44
L 219.5 248.29
L 219.56 221.76
L 219.6 230.57
L 219.61 229.48
L 219.68 258.52
L 219.86 220.53
L 219.96 233.26
L 219.97 234.2
L 220.05 250.31
L 220.22 222.17
L 220.31 245.64
L 220.33 225.37
L 220.35 218.75
L 220.67 256.08
L 220.69 241.74
L 220.81 251.72
L 220.85 219.47
L 221.03 233.61
L 221.05 236.8
L 221.15 217.58
L 221.38 244.78
L 221.39 230.64
L 221.41 224.82
L 221.61 240.87
L 221.72 216.19
L 221.75 223.27
L 221.77 222.15
L 222 235.69
L 222.03 213.86
L 222.11 221.92
L 222.13 228.48
L 222.16 228.53
L 222.23 210.84
L 222.47 211.31
L 222.49 213.3
L 222.6 231.23
L 222.67 205.36
L 222.83 224.35
L 222.85 211.33
L 223.08 203.53
L 223.19 225.72
L 223.21 215.87
L 223.4 225.12
L 223.5 199.72
L 223.55 215.52
L 223.57 212.05
L 223.63 200.38
L 223.8 229.16
L 223.91 227.28
L 223.93 222.74
L 224.02 206.03
L 224.25 231.72
L 224.27 214.02
L 224.29 224.26
L 224.35 214.47
L 224.58 236.4
L 224.63 221.8
L 224.65 227.1
L 224.91 210.93
L 224.94 244.16
L 224.99 221.48
L 225 229.05
L 225.1 213.89
L 225.23 253.47
L 225.35 222.85
L 225.36 239.87
L 225.46 218.96
L 225.53 250.54
L 225.71 242.77
L 225.72 232.78
L 225.79 254.63
L 225.82 221.46
L 226.07 247.49
L 226.08 235.42
L 226.13 220.87
L 226.21 249.25
L 226.43 235.45
L 226.44 224.76
L 226.49 247.43
L 226.64 217.28
L 226.79 235.83
L 226.8 232.97
L 226.87 242.44
L 226.95 222.86
L 227.15 229.66
L 227.16 225.81
L 227.36 239.45
L 227.49 215.02
L 227.5 236.08
L 227.52 216.35
L 227.73 208.9
L 227.78 234.43
L 227.86 223.02
L 227.88 213.85
L 227.98 231.09
L 228.17 213.04
L 228.24 217.42
L 228.26 218.64
L 228.57 208.97
L 228.58 227.06
L 228.6 211.32
L 228.62 211.22
L 228.93 224.96
L 228.96 205.46
L 228.98 225.63
L 229.14 203.05
L 229.32 222.53
L 229.33 217.76
L 229.6 224.34
L 229.63 202.91
L 229.68 206.04
L 229.69 228.57
L 229.91 204.19
L 230.04 219.45
L 230.05 216.72
L 230.18 201.02
L 230.31 230.07
L 230.4 229.13
L 230.41 218.34
L 230.66 234.98
L 230.76 211.75
L 230.77 221
L 230.87 235.59
L 231 219.25
L 231.12 222.07
L 231.13 215.38
L 231.44 244.33
L 231.48 232.81
L 231.49 233.33
L 231.67 241.07
L 231.83 222.17
L 231.85 233.3
L 231.88 217.72
L 232.16 246.95
L 232.19 236.04
L 232.21 230.69
L 232.31 226.66
L 232.36 251.19
L 232.55 230.98
L 232.57 228.55
L 232.6 223.8
L 232.64 251.97
L 232.91 238.42
L 232.93 229.15
L 233.08 253.33
L 233.19 228.25
L 233.27 233.37
L 233.29 229.97
L 233.37 221.89
L 233.39 245.67
L 233.63 228.65
L 233.65 237.75
L 233.68 238.76
L 233.89 217.7
L 233.99 232.31
L 234.01 231.19
L 234.09 235.55
L 234.27 212.18
L 234.35 221.31
L 234.37 214.61
L 234.47 231.85
L 234.65 201.54
L 234.71 212.75
L 234.73 221.58
L 234.74 202.89
L 234.97 223.75
L 235.07 223.52
L 235.09 227.32
L 235.1 204.87
L 235.43 219.51
L 235.45 226.72
L 235.58 207.09
L 235.59 228.8
L 235.79 222.32
L 235.81 215.16
L 236.02 212.19
L 236.03 232
L 236.15 218.6
L 236.16 218.32
L 236.43 241.17
L 236.51 233.42
L 236.52 227.36
L 236.59 219.97
L 236.87 246.32
L 236.88 242.23
L 237.11 226.4
L 237.23 259.42
L 237.24 252.99
L 237.54 228.55
L 237.59 266.29
L 237.6 236.36
L 237.75 228.39
L 237.9 262.78
L 237.95 248.91
L 237.96 234.31
L 238.09 226.82
L 238.11 260.78
L 238.31 252.15
L 238.32 249.69
L 238.34 263.33
L 238.66 221.06
L 238.68 231.94
L 238.78 252.06
L 238.98 225.54
L 239.02 229.82
L 239.04 237.82
L 239.22 217.48
L 239.37 239.33
L 239.4 233.64
L 239.42 227.66
L 239.43 239.09
L 239.58 212.6
L 239.76 217.26
L 239.78 214
L 239.96 231.84
L 240.05 201.6
L 240.12 206.85
L 240.14 208.58
L 240.17 202.23
L 240.22 228.43
L 240.48 221.89
L 240.49 210.45
L 240.71 203.54
L 240.82 231.07
L 240.84 208.75
L 240.85 218.6
L 241.02 236.54
L 241.05 204.52
L 241.2 209.06
L 241.21 218.05
L 241.23 204.99
L 241.26 237.26
L 241.56 214.4
L 241.57 218.21
L 241.67 215.77
L 241.79 232.67
L 241.92 222.33
L 241.93 205.53
L 242.24 234.91
L 242.28 218.04
L 242.29 226.58
L 242.52 220.78
L 242.62 242.13
L 242.64 233.88
L 242.65 233.19
L 242.67 221.1
L 242.98 241.7
L 242.99 231.68
L 243.01 237.65
L 243.26 255.92
L 243.31 224.54
L 243.35 240.64
L 243.37 231.43
L 243.5 248.85
L 243.7 226.43
L 243.71 234.07
L 243.73 237.5
L 243.76 222.5
L 243.93 246.78
L 244.07 236.9
L 244.09 232.25
L 244.19 252.36
L 244.24 223.3
L 244.43 227.32
L 244.45 246.66
L 244.5 253.8
L 244.73 220.17
L 244.79 230.43
L 244.81 228.47
L 244.87 221.35
L 244.97 248.12
L 245.15 230.38
L 245.17 225.5
L 245.36 245.44
L 245.45 220.57
L 245.51 226.81
L 245.53 233.77
L 245.63 237.38
L 245.77 215.04
L 245.87 219.05
L 245.89 217.9
L 246.02 206.13
L 246.12 242.19
L 246.23 222.28
L 246.25 224.12
L 246.3 233.57
L 246.59 208.41
L 246.61 207.96
L 246.7 205.45
L 246.92 229.5
L 246.95 210.13
L 246.97 216.58
L 247.18 225.93
L 247.26 202.64
L 247.31 221.48
L 247.32 207.15
L 247.36 204.3
L 247.67 228.3
L 247.68 209.31
L 247.73 229.1
L 247.91 208.48
L 248.03 211.43
L 248.04 208.5
L 248.14 230.06
L 248.39 213.31
L 248.4 226.51
L 248.44 202.31
L 248.5 236.42
L 248.75 234.25
L 248.76 235.41
L 248.8 237.53
L 248.83 217.81
L 249.11 235.34
L 249.12 225.22
L 249.17 210.51
L 249.22 246.57
L 249.47 211.7
L 249.48 238.83
L 249.65 247.48
L 249.73 222.28
L 249.82 245.73
L 249.84 229.87
L 250 219.98
L 250.18 255.39
L 250.2 225.63
L 250.38 255.22
L 250.54 224.19
L 250.56 251.44
L 250.61 251.78
L 250.92 218.32
L 250.94 260.46
L 251.23 222.11
L 251.28 241.01
L 251.3 225.87
L 251.34 254.28
L 251.49 220.62
L 251.64 241.73
L 251.65 227.11
L 251.79 236.02
L 251.98 216.83
L 252 228.21
L 252.01 237.94
L 252.31 220.24
L 252.36 230.7
L 252.37 215.11
L 252.47 211.72
L 252.54 234.79
L 252.72 218.16
L 252.73 222.96
L 252.88 230.84
L 252.91 204.52
L 253.08 214.13
L 253.09 215.41
L 253.11 208.95
L 253.26 226.03
L 253.44 220.73
L 253.45 210.3
L 253.68 208.73
L 253.7 227.77
L 253.8 218.03
L 253.81 225.65
L 253.89 207.35
L 253.91 230.84
L 254.15 222.51
L 254.17 227.21
L 254.33 217.54
L 254.43 240.92
L 254.51 225.15
L 254.53 213.09
L 254.87 245.53
L 254.89 219.39
L 254.92 218.34
L 255.17 259.81
L 255.23 244.3
L 255.25 244.45
L 255.43 220.32
L 255.49 259.11
L 255.59 246.32
L 255.61 252.03
L 255.82 253.06
L 255.84 226.89
L 255.95 239.77
L 255.97 237.14
L 256.18 225.86
L 256.25 258.83
L 256.31 256.88
L 256.33 238.76
L 256.52 253.03
L 256.67 219.82
L 256.69 226.39
L 256.85 213.68
L 256.9 254.93
L 257.03 234.7
L 257.05 225.28
L 257.34 238.92
L 257.36 217.1
L 257.39 218.41
L 257.41 222.45
L 257.52 231.29
L 257.68 215.33
L 257.75 225.22
L 257.77 224.14
L 257.9 207.47
L 258.08 235.16
L 258.11 222.9
L 258.13 224.61
L 258.24 226.11
L 258.4 200.61
L 258.47 218.19
L 258.48 215.21
L 258.78 197.65
L 258.81 228.53
L 258.83 207.59
L 258.84 203.46
L 258.89 200.7
L 259.07 230.81
L 259.19 215.75
L 259.2 222.05
L 259.43 198.26
L 259.48 227.14
L 259.55 205.66
L 259.56 230.04
L 259.61 199.91
L 259.91 225.22
L 259.92 214.43
L 259.99 213.05
L 260.05 228.82
L 260.27 219.2
L 260.28 222.15
L 260.41 214.8
L 260.61 234.87
L 260.63 232.86
L 260.64 235.52
L 260.84 221.35
L 260.85 239.82
L 260.98 225.73
L 261 246.03
L 261.21 217.42
L 261.34 254.33
L 261.36 243.24
L 261.57 215.64
L 261.67 257.31
L 261.7 230.63
L 261.72 234.33
L 261.79 255.1
L 261.92 222.4
L 262.08 229.47
L 262.1 222.27
L 262.16 258.52
L 262.39 219.73
L 262.44 235.42
L 262.46 222.37
L 262.8 251.87
L 262.82 238.76
L 263.14 243.12
L 263.16 221.94
L 263.17 230.95
L 263.19 243.45
L 263.29 220.73
L 263.52 222.92
L 263.53 222.8
L 263.6 231.16
L 263.86 208.5
L 263.88 211.63
L 263.89 231.19
L 264.07 231.64
L 264.2 203.68
L 264.24 220.27
L 264.25 213.64
L 264.5 232.29
L 264.53 198.51
L 264.6 204.96
L 264.61 218.45
L 264.63 221.55
L 264.87 197.65
L 264.96 219.84
L 264.97 199.34
L 265.17 223.34
L 265.32 216.54
L 265.33 198.78
L 265.48 226.37
L 265.67 209.19
L 265.69 221.34
L 265.77 232.51
L 265.81 201.86
L 266.03 228.62
L 266.05 217.04
L 266.15 210.49
L 266.23 236.19
L 266.39 234.83
L 266.41 236.49
L 266.57 214.9
L 266.74 238.1
L 266.75 233.53
L 266.77 237.67
L 266.83 219.46
L 266.93 250.62
L 267.11 236.48
L 267.13 239.31
L 267.19 252.04
L 267.26 224.6
L 267.47 228.64
L 267.49 225.3
L 267.64 249.98
L 267.73 221.24
L 267.83 236.15
L 267.85 219.55
L 268.04 251.22
L 268.19 225.3
L 268.21 229.86
L 268.26 243.93
L 268.55 220.13
L 268.57 219.92
L 268.83 233.27
L 268.89 210.83
L 268.91 222.16
L 268.93 228.24
L 268.94 234.5
L 269.2 214.32
L 269.27 221.15
L 269.29 219.68
L 269.37 233.93
L 269.56 210.24
L 269.63 221.72
L 269.65 215.26
L 269.73 237.66
L 269.92 199.96
L 269.99 222.52
L 270 205.99
L 270.1 201.96
L 270.18 230.24
L 270.35 223.8
L 270.36 202.27
L 270.53 230.84
L 270.71 195.44
L 270.72 224.17
L 270.95 199.73
L 271.07 218.15
L 271.08 219.37
L 271.15 226.09
L 271.31 202.58
L 271.43 218.21
L 271.44 207.78
L 271.54 202.92
L 271.69 232.33
L 271.79 209.44
L 271.8 223.93
L 271.9 205.65
L 272.11 229.74
L 272.15 217.15
L 272.16 218.64
L 272.26 215.26
L 272.49 236.39
L 272.5 225.31
L 272.52 229.85
L 272.62 210.99
L 272.75 241.04
L 272.86 231.49
L 272.88 252.68
L 273.14 223.71
L 273.24 234.64
L 273.26 228.02
L 273.37 244.79
L 273.44 219.99
L 273.6 227.78
L 273.62 230.79
L 273.65 216.88
L 273.76 245.91
L 273.96 245.5
L 273.98 250.59
L 274.17 223.71
L 274.32 227.19
L 274.33 242.3
L 274.56 250.05
L 274.61 222.85
L 274.68 232.69
L 274.69 234.31
L 274.81 243.39
L 274.94 206.91
L 275.04 228.79
L 275.05 234.11
L 275.18 240.78
L 275.36 214.44
L 275.4 222.48
L 275.41 216.5
L 275.63 230.6
L 275.74 210.85
L 275.76 214.94
L 275.77 226.37
L 275.82 231.16
L 276.07 205.53
L 276.12 225.68
L 276.13 205.82
L 276.34 203.83
L 276.36 225.69
L 276.48 218.04
L 276.49 222.23
L 276.61 202.57
L 276.83 212.51
L 276.85 214.93
L 276.95 203.55
L 277.11 226.81
L 277.19 213.05
L 277.21 212.99
L 277.29 207.82
L 277.55 232.05
L 277.57 222.58
L 277.6 213.82
L 277.86 236.88
L 277.91 222.54
L 277.93 227.41
L 278.01 236.52
L 278.09 215.91
L 278.27 221.56
L 278.29 230.05
L 278.35 223.01
L 278.62 241.26
L 278.63 240.72
L 278.65 230.15
L 278.86 214.82
L 278.98 250.48
L 278.99 228.35
L 279.01 252.27
L 279.14 218.68
L 279.35 239.78
L 279.37 256.34
L 279.38 262.4
L 279.48 223.3
L 279.71 239.3
L 279.73 234.65
L 279.76 258.81
L 279.96 225.59
L 280.07 234.54
L 280.09 245.38
L 280.17 260.79
L 280.32 222.7
L 280.43 225.68
L 280.45 227.94
L 280.48 254.57
L 280.66 219.26
L 280.79 241.58
L 280.81 229.02
L 280.84 251.55
L 280.99 218.51
L 281.15 233.82
L 281.16 239.57
L 281.2 213.82
L 281.36 247.42
L 281.51 230.24
L 281.52 219.98
L 281.54 245.42
L 281.8 212.17
L 281.87 229.82
L 281.88 225.97
L 281.95 213.92
L 282.11 237.65
L 282.23 214.2
L 282.24 218.51
L 282.28 226.5
L 282.59 206.28
L 282.6 221.13
L 282.73 207.14
L 282.95 230.14
L 282.96 219.62
L 283.04 228.91
L 283.08 202.17
L 283.31 219.15
L 283.32 206.64
L 283.34 198.24
L 283.39 225.94
L 283.66 220.35
L 283.68 217.43
L 283.88 234.97
L 283.99 198.04
L 284.02 214.13
L 284.04 220.25
L 284.24 207.2
L 284.35 235.81
L 284.38 226.52
L 284.4 217.53
L 284.47 212.74
L 284.55 238.74
L 284.76 229.03
L 284.78 231.31
L 284.79 219.95
L 284.94 250.29
L 285.12 236.11
L 285.14 238.89
L 285.38 220.16
L 285.48 246.76
L 285.49 246.79
L 285.64 248.12
L 285.66 221.76
L 285.84 231.83
L 285.85 222.72
L 285.9 249.22
L 286.08 220.54
L 286.2 235.27
L 286.21 252.68
L 286.44 216.45
L 286.56 233.29
L 286.57 226.43
L 286.67 220.64
L 286.7 238.59
L 286.92 233.01
L 286.93 222.93
L 287.03 213.71
L 287.13 238.31
L 287.28 228.89
L 287.29 233.41
L 287.34 214.47
L 287.64 219.66
L 287.65 225.9
L 287.73 213.65
L 287.83 235.68
L 287.99 228.73
L 288.01 229.86
L 288.22 215.58
L 288.32 238.54
L 288.35 228.29
L 288.37 214.38
L 288.39 236.1
L 288.58 208.52
L 288.71 209.5
L 288.73 201.02
L 288.88 232.39
L 289.07 228.26
L 289.09 209.43
L 289.29 229.64
L 289.35 203.8
L 289.43 219.06
L 289.45 217.57
L 289.68 233.68
L 289.79 210.67
L 289.81 219.06
L 289.99 212.63
L 290.04 236.06
L 290.15 226.85
L 290.17 223.69
L 290.22 217.54
L 290.27 235.92
L 290.51 226.1
L 290.53 222.99
L 290.71 213.68
L 290.77 241.85
L 290.87 235.73
L 290.89 223.49
L 291.12 215.81
L 291.2 256.13
L 291.23 255.1
L 291.25 235.38
L 291.3 219.89
L 291.57 261.11
L 291.59 236.45
L 291.61 237.35
L 291.62 232.79
L 291.74 261
L 291.95 244.89
L 291.97 230.14
L 291.98 261.01
L 292.16 223.83
L 292.31 247.01
L 292.32 234.18
L 292.37 250.25
L 292.62 219.58
L 292.67 230.71
L 292.68 232.99
L 292.83 245.28
L 292.86 214.27
L 293.03 232.44
L 293.04 242.42
L 293.22 212.02
L 293.39 221.62
L 293.4 223.72
L 293.42 228.31
L 293.75 201.36
L 293.76 203.28
L 294.04 230.56
L 294.11 223.55
L 294.12 219.65
L 294.37 223.33
L 294.45 199.33
L 294.47 205.84
L 294.48 216.65
L 294.66 199.59
L 294.76 225.07
L 294.82 216.89
L 294.84 220.87
L 295 231.15
L 295.02 200.98
L 295.18 210.39
L 295.2 217.04
L 295.23 207.99
L 295.43 234.83
L 295.54 225.69
L 295.56 226.22
L 295.58 207.55
L 295.71 230.24
L 295.92 215.91
L 295.94 221.17
L 296.12 240.53
L 296.18 216.82
L 296.28 239.72
L 296.3 242.3
L 296.44 216.91
L 296.61 247.21
L 296.64 232.42
L 296.66 241.05
L 296.79 246.34
L 296.92 220.34
L 297 229.82
L 297.01 250.8
L 297.06 224.76
L 297.24 257.87
L 297.36 240.62
L 297.37 223.19
L 297.59 255.32
L 297.72 222.64
L 297.73 242.98
L 297.99 255.19
L 298.04 221.15
L 298.08 231.99
L 298.09 227.02
L 298.14 254.28
L 298.35 218.69
L 298.44 227.91
L 298.45 249.9
L 298.5 219.58
L 298.71 255.83
L 298.8 220.43
L 298.81 242.35
L 298.88 246.43
L 299.02 222.88
L 299.16 231.12
L 299.17 227.83
L 299.47 220.32
L 299.48 240.8
L 299.51 227.86
L 299.53 234.63
L 299.58 211.33
L 299.87 219.77
L 299.89 227.81
L 300.07 231.71
L 300.22 210.6
L 300.23 221.72
L 300.25 219.41
L 300.28 231.18
L 300.41 209.22
L 300.59 216.44
L 300.61 218.14
L 300.76 205.16
L 300.84 230.24
L 300.95 223.7
L 300.97 223.3
L 301.05 210.38
L 301.25 228.13
L 301.31 213.9
L 301.33 224.83
L 301.43 226.12
L 301.49 207.43
L 301.67 225.67
L 301.69 225.11
L 301.72 207.49
L 301.98 231.39
L 302.03 216.63
L 302.05 222.24
L 302.1 218
L 302.34 236.02
L 302.39 229.43
L 302.41 232.29
L 302.65 244.83
L 302.67 217.82
L 302.75 238.66
L 302.77 234.95
L 302.83 243.11
L 303.04 211.58
L 303.11 225.71
L 303.13 239.01
L 303.32 260.46
L 303.37 220.97
L 303.47 222.37
L 303.49 222
L 303.55 254.98
L 303.6 221.12
L 303.83 247.21
L 303.84 250.4
L 303.91 252.62
L 304.14 216.33
L 304.19 226.54
L 304.2 217.05
L 304.32 251.2
L 304.55 244.04
L 304.56 236.45
L 304.58 215.54
L 304.63 247.85
L 304.91 240.9
L 304.92 236.97
L 304.96 238.08
L 305.1 221.43
L 305.27 226.36
L 305.28 229.15
L 305.58 212.62
L 305.63 231.21
L 305.64 226.04
L 305.71 230.69
L 305.76 207.69
L 305.99 219.61
L 306 215.8
L 306.02 206.03
L 306.03 230.45
L 306.34 207.08
L 306.36 215.64
L 306.64 202.31
L 306.69 226.06
L 306.7 219.05
L 306.72 214.4
L 307.03 228.73
L 307.08 203.23
L 307.1 221.72
L 307.11 207.66
L 307.37 231.39
L 307.44 217.09
L 307.46 204.49
L 307.65 233.99
L 307.8 225.3
L 307.82 222.7
L 307.95 238.19
L 308.06 215.34
L 308.16 220.82
L 308.17 233.43
L 308.4 211.45
L 308.49 244.12
L 308.52 234.74
L 308.53 229.58
L 308.57 218.36
L 308.68 247.52
L 308.88 228.03
L 308.89 242.21
L 308.94 220.7
L 309.02 254.55
L 309.24 227.91
L 309.25 253.88
L 309.35 218.24
L 309.43 262.62
L 309.6 260.71
L 309.61 241.41
L 309.79 226.64
L 309.81 260.7
L 309.96 231.43
L 309.97 236.3
L 310.17 265
L 310.32 224.91
L 310.33 257.69
L 310.36 260.78
L 310.45 219.2
L 310.67 230.64
L 310.69 253.35
L 310.94 221.71
L 311.03 234.1
L 311.05 224.19
L 311.13 242.01
L 311.26 212.33
L 311.39 229.4
L 311.41 215.56
L 311.54 231.21
L 311.57 211.68
L 311.75 218.17
L 311.77 222.82
L 312 230.16
L 312.05 207.89
L 312.11 222.04
L 312.13 215.4
L 312.29 228.8
L 312.41 202.82
L 312.47 202.89
L 312.49 225.28
L 312.77 202.9
L 312.8 231.59
L 312.83 216.77
L 312.85 231.06
L 313.06 235.93
L 313.14 197.13
L 313.19 225.78
L 313.21 220.85
L 313.27 209.16
L 313.29 232.58
L 313.55 229.76
L 313.57 224.53
L 313.78 209.91
L 313.89 232.67
L 313.91 222.95
L 313.93 220.99
L 314.01 215.23
L 314.24 238.81
L 314.27 227.73
L 314.29 223.68
L 314.45 240.68
L 314.61 217.11
L 314.63 238.13
L 314.65 225.22
L 314.83 222.32
L 314.97 250.41
L 314.99 236.34
L 315 233.23
L 315.17 250.43
L 315.35 224.44
L 315.36 229.82
L 315.38 225.33
L 315.48 252.04
L 315.71 233.24
L 315.72 234.79
L 315.74 247.06
L 315.87 219.07
L 316.07 231.92
L 316.08 230.85
L 316.13 241.74
L 316.41 219.72
L 316.43 230.94
L 316.44 234.17
L 316.56 217.41
L 316.62 241.87
L 316.79 225.11
L 316.8 224.33
L 316.98 211.2
L 317.15 239.41
L 317.16 211.79
L 317.37 234.87
L 317.5 219.94
L 317.52 219.63
L 317.77 226.89
L 317.83 200.01
L 317.86 221.11
L 317.88 208.22
L 318.22 234.95
L 318.24 222.63
L 318.42 225.55
L 318.57 203
L 318.6 222.42
L 318.62 220.3
L 318.66 225.34
L 318.81 199.72
L 318.96 219.62
L 318.98 222.61
L 319.04 222.98
L 319.32 205.71
L 319.33 206.47
L 319.45 230.66
L 319.68 225.18
L 319.69 223.76
L 319.89 237.01
L 320 211.77
L 320.04 227.69
L 320.05 233.8
L 320.18 221.91
L 320.35 237.63
L 320.4 225.32
L 320.41 237.33
L 320.59 249.37
L 320.64 217.2
L 320.76 247.09
L 320.77 238.3
L 320.84 257.11
L 320.95 224.78
L 321.12 246.83
L 321.13 243.97
L 321.21 224.41
L 321.38 257.16
L 321.48 238.25
L 321.49 242.11
L 321.67 262.4
L 321.69 225.77
L 321.83 247.16
L 321.85 259.47
L 322.06 261.41
L 322.1 222.73
L 322.19 237.43
L 322.21 222.43
L 322.44 258.91
L 322.55 224.67
L 322.57 248.15
L 322.59 250.25
L 322.72 226
L 322.91 245.89
L 322.93 226.87
L 323.14 237.26
L 323.26 212.44
L 323.27 220.48
L 323.29 232.36
L 323.42 238.27
L 323.55 213.38
L 323.63 224.34
L 323.65 230.79
L 323.96 207.35
L 323.99 207.75
L 324.01 214.84
L 324.14 225.01
L 324.33 205.77
L 324.35 223.97
L 324.37 222.58
L 324.43 201.42
L 324.5 226.96
L 324.71 210.23
L 324.73 225.59
L 324.84 202.48
L 324.89 226.06
L 325.07 222.01
L 325.09 216.8
L 325.17 201.02
L 325.36 230.86
L 325.43 217.96
L 325.45 229.29
L 325.72 205.8
L 325.79 235.36
L 325.81 236.42
L 325.82 216.2
L 326.15 224.47
L 326.16 231.13
L 326.25 218.7
L 326.46 241.56
L 326.51 230.63
L 326.52 231.97
L 326.72 253.98
L 326.75 213.71
L 326.87 234.11
L 326.88 241.54
L 327.16 219.86
L 327.23 249.98
L 327.24 239.57
L 327.26 251.84
L 327.55 222.16
L 327.59 235.16
L 327.6 227.28
L 327.64 246.55
L 327.78 222.75
L 327.95 227.21
L 327.96 234.08
L 327.98 243.95
L 328.24 220.6
L 328.31 240.13
L 328.32 223
L 328.34 246.11
L 328.53 220.14
L 328.66 226.14
L 328.68 229.19
L 328.8 240.53
L 328.98 215.92
L 329.02 226.73
L 329.04 233.11
L 329.12 217.15
L 329.14 237.1
L 329.38 220.84
L 329.4 218.94
L 329.42 235.2
L 329.76 209.19
L 329.78 215.83
L 330.07 207.34
L 330.1 233.67
L 330.12 221.3
L 330.14 210.51
L 330.17 208.33
L 330.22 236.08
L 330.48 226.68
L 330.49 210.4
L 330.71 200.46
L 330.72 226.45
L 330.84 202.38
L 330.85 214.09
L 331.15 225.15
L 331.16 199.98
L 331.2 205.29
L 331.21 214.38
L 331.26 229.28
L 331.33 202.92
L 331.56 217.65
L 331.57 221.3
L 331.8 223.51
L 331.87 209.17
L 331.92 212.13
L 331.93 213.53
L 332.13 209.34
L 332.21 233.77
L 332.28 225.02
L 332.29 227.29
L 332.33 208.84
L 332.57 233.52
L 332.64 229.56
L 332.65 220.23
L 332.72 215.02
L 332.96 247.35
L 332.99 238.22
L 333.01 233.58
L 333.19 222.07
L 333.21 250.79
L 333.35 235.43
L 333.37 253.98
L 333.5 225.4
L 333.71 232.82
L 333.73 237
L 333.84 251.57
L 333.93 222.83
L 334.07 239.04
L 334.09 225.49
L 334.2 253.29
L 334.43 224.75
L 334.45 226.08
L 334.5 252.19
L 334.56 220.66
L 334.79 228.19
L 334.81 233.84
L 334.91 244.38
L 334.97 215.46
L 335.15 215.73
L 335.17 229.14
L 335.28 205.97
L 335.36 246.06
L 335.51 221.03
L 335.53 220.12
L 335.66 233.27
L 335.76 209.93
L 335.87 224.61
L 335.89 212.48
L 335.94 232.59
L 336.12 204.31
L 336.23 215.09
L 336.25 220.36
L 336.26 199.17
L 336.48 224.99
L 336.59 223.99
L 336.61 205
L 336.7 220.49
L 336.88 202.59
L 336.95 211.94
L 336.97 210.52
L 337.06 197.65
L 337.28 232.28
L 337.31 221.25
L 337.33 211.13
L 337.49 226.76
L 337.57 206.43
L 337.67 225.85
L 337.68 220.88
L 337.9 211.59
L 338.03 233.21
L 338.04 231.49
L 338.11 212.12
L 338.39 227.66
L 338.4 224.14
L 338.44 240.34
L 338.49 211.68
L 338.75 231.95
L 338.76 219.16
L 339.02 244.81
L 339.11 220.66
L 339.12 242.29
L 339.25 249.49
L 339.37 224.18
L 339.47 229.3
L 339.48 236.92
L 339.71 224.33
L 339.73 256.57
L 339.83 230.44
L 339.84 251.6
L 339.99 225.48
L 340.18 254.01
L 340.2 230.08
L 340.38 220.67
L 340.4 254.33
L 340.54 234.91
L 340.56 230.57
L 340.61 223.75
L 340.67 249.49
L 340.92 228.58
L 340.94 238.73
L 341.03 242.02
L 341.25 216.87
L 341.28 227.51
L 341.3 223.37
L 341.51 232.86
L 341.54 212.06
L 341.64 219.53
L 341.66 223.28
L 341.93 202.9
L 341.98 239.67
L 342 208.87
L 342.01 212.43
L 342.26 201.26
L 342.31 231.22
L 342.36 222.01
L 342.37 214.39
L 342.39 202.41
L 342.68 224.9
L 342.72 222.72
L 342.73 216.95
L 342.75 200.63
L 342.85 230.94
L 343.08 223.3
L 343.09 219.37
L 343.17 234.68
L 343.24 205.95
L 343.44 222.53
L 343.45 228.24
L 343.57 214.76
L 343.75 237.36
L 343.8 228.03
L 343.81 219.71
L 343.98 216.69
L 344.14 241.35
L 344.16 221.38
L 344.17 225.78
L 344.38 223.66
L 344.4 245.09
L 344.51 227.99
L 344.53 233.27
L 344.74 219.5
L 344.78 249.51
L 344.87 238.82
L 344.89 234.49
L 345.12 223.18
L 345.17 255.08
L 345.23 229.26
L 345.25 252.22
L 345.3 256.69
L 345.33 223.09
L 345.59 234.68
L 345.61 233.39
L 345.66 219.33
L 345.94 257.22
L 345.95 243.06
L 345.97 229.89
L 346.08 246.66
L 346.3 217.51
L 346.31 237.08
L 346.33 230.29
L 346.41 237.29
L 346.56 217.68
L 346.67 224.98
L 346.69 210.18
L 346.87 233.44
L 347.03 229.6
L 347.05 223.48
L 347.16 210.07
L 347.28 237.89
L 347.39 216.81
L 347.41 214.2
L 347.49 233.4
L 347.64 197.39
L 347.75 227.69
L 347.77 222.87
L 347.8 233.38
L 348.08 201.15
L 348.11 224.71
L 348.13 210.04
L 348.17 224.45
L 348.27 202.72
L 348.47 205.55
L 348.49 204.49
L 348.57 225.29
L 348.58 200.97
L 348.83 210.15
L 348.84 202.91
L 349.06 230.79
L 349.19 214.07
L 349.2 213.15
L 349.22 205.54
L 349.55 232.41
L 349.56 215.05
L 349.84 232.6
L 349.91 222.19
L 349.92 239.62
L 350 217.25
L 350.27 245.99
L 350.28 236.29
L 350.35 218.97
L 350.54 253.61
L 350.63 233.9
L 350.64 222.8
L 350.76 217.56
L 350.82 264.35
L 350.99 238.02
L 351 237.49
L 351.33 261.99
L 351.34 226.23
L 351.36 230.5
L 351.61 225.36
L 351.62 263.96
L 351.7 233.99
L 351.72 237.47
L 351.83 256.68
L 351.98 219.21
L 352.06 242.03
L 352.08 250.01
L 352.11 223.47
L 352.16 260.48
L 352.44 244.91
L 352.46 231.7
L 352.7 219.66
L 352.75 256.08
L 352.8 233.85
L 352.82 230.88
L 352.9 252.74
L 352.93 219.15
L 353.16 240.13
L 353.17 231.93
L 353.21 238.85
L 353.52 222.95
L 353.53 239.91
L 353.68 213.34
L 353.88 219.21
L 353.89 225.6
L 354.09 232.83
L 354.17 210.32
L 354.24 214.23
L 354.25 221.89
L 354.3 230.03
L 354.43 205.94
L 354.6 217.63
L 354.61 216.09
L 354.86 227.99
L 354.96 203.07
L 354.97 214.51
L 355.3 199.17
L 355.32 225.55
L 355.33 212.78
L 355.45 226.77
L 355.67 196.74
L 355.69 213.59
L 355.87 196.78
L 355.94 232.46
L 356.03 227.46
L 356.05 208.77
L 356.31 231.29
L 356.39 221.66
L 356.41 213.96
L 356.74 237.36
L 356.75 218.31
L 356.77 226.04
L 356.88 238.78
L 356.98 213.47
L 357.11 236.69
L 357.13 234.34
L 357.24 216.52
L 357.31 252.68
L 357.47 234.28
L 357.49 229.93
L 357.59 219.94
L 357.67 246.91
L 357.83 224.58
L 357.85 222.09
L 357.91 244.38
L 357.93 217.96
L 358.19 233.99
L 358.21 236.54
L 358.24 244.29
L 358.53 214.21
L 358.55 221.01
L 358.57 230.62
L 358.65 241.17
L 358.88 219.88
L 358.91 237.06
L 358.93 226.43
L 359.01 241.2
L 359.12 218.43
L 359.27 231.97
L 359.29 223.06
L 359.48 213.03
L 359.5 235.49
L 359.63 222.53
L 359.65 224.46
L 359.87 230.98
L 359.99 207.27
L 360 210.92
L 360.33 232.52
L 360.35 207.06
L 360.36 219.44
L 360.45 229.19
L 360.53 202.31
L 360.71 206.65
L 360.72 218.69
L 360.82 226.39
L 360.94 205.3
L 361.07 225.37
L 361.08 224.33
L 361.17 229.29
L 361.34 206.69
L 361.43 222.69
L 361.44 226.92
L 361.56 209.14
L 361.79 222.27
L 361.8 221.15
L 362.03 234.27
L 362.06 213.28
L 362.15 225.94
L 362.16 221.98
L 362.34 220.11
L 362.42 241.25
L 362.5 232.77
L 362.52 221.31
L 362.77 247.5
L 362.78 218.78
L 362.86 239.46
L 362.88 228.59
L 362.98 263.05
L 363.16 227.72
L 363.22 234.77
L 363.24 234.58
L 363.27 259.91
L 363.45 232.4
L 363.6 249.06
L 363.62 241.68
L 363.75 260.15
L 363.83 222.7
L 363.96 247.9
L 363.98 250.59
L 363.99 258.59
L 364.14 223.79
L 364.32 244.53
L 364.33 227.91
L 364.37 217.89
L 364.53 256.09
L 364.68 235.51
L 364.69 236.13
L 364.92 242.13
L 365.02 219.67
L 365.04 230.88
L 365.05 223.67
L 365.18 235.42
L 365.25 206.91
L 365.4 214.49
L 365.41 223.44
L 365.56 230.4
L 365.64 199.46
L 365.76 207.47
L 365.77 217.79
L 365.84 198.81
L 365.85 222.73
L 366.12 221.88
L 366.13 215.75
L 366.18 200.99
L 366.44 228.13
L 366.48 202.72
L 366.49 202.23
L 366.62 224.51
L 366.83 220.51
L 366.85 229.18
L 366.87 203.7
L 367.19 218.31
L 367.21 212.75
L 367.23 230.44
L 367.55 221.63
L 367.57 238.62
L 367.83 214.89
L 367.91 232.33
L 367.93 224.97
L 368.03 215.69
L 368.24 241.06
L 368.27 231.3
L 368.29 231.41
L 368.45 215.97
L 368.49 250.14
L 368.63 223.61
L 368.65 228.14
L 368.78 213.49
L 368.86 256.57
L 368.99 230.38
L 369.01 240.07
L 369.07 214.25
L 369.29 249.75
L 369.35 222.23
L 369.37 224.53
L 369.58 223.04
L 369.68 247.33
L 369.71 240.86
L 369.73 231.83
L 369.78 252.68
L 369.87 225.37
L 370.07 225.38
L 370.09 231.47
L 370.2 214.61
L 370.25 246.93
L 370.43 240.25
L 370.45 240.23
L 370.48 242.07
L 370.56 218.73
L 370.79 227.28
L 370.81 227.07
L 370.9 211.55
L 371.15 237.6
L 371.17 218.21
L 371.21 231.28
L 371.44 207.09
L 371.51 215.86
L 371.52 218.55
L 371.64 203.48
L 371.72 229.29
L 371.87 217.36
L 371.88 214.63
L 371.9 199.72
L 371.98 230.31
L 372.23 208.15
L 372.24 218.58
L 372.28 223.66
L 372.44 205.57
L 372.59 219.16
L 372.6 200.11
L 372.68 223.48
L 372.95 211.57
L 372.96 216.88
L 373.03 200.2
L 373.04 228.99
L 373.31 216.88
L 373.32 227.06
L 373.4 209.51
L 373.6 228.12
L 373.67 219.22
L 373.68 215.52
L 373.86 212.93
L 373.98 231.67
L 374.02 221.36
L 374.04 223.69
L 374.11 213.46
L 374.12 240.85
L 374.38 221.99
L 374.4 217.57
L 374.6 237.12
L 374.76 232.98
L 374.78 227.76
L 374.83 216.66
L 375.02 238.92
L 375.12 230.04
L 375.14 227.19
L 375.36 219.99
L 375.4 247.08
L 375.48 234.85
L 375.5 224.32
L 375.56 252.04
L 375.66 223.62
L 375.84 223.79
L 375.85 237.87
L 376.05 243.53
L 376.2 221.78
L 376.21 235.58
L 376.28 220.18
L 376.44 242.31
L 376.56 227.29
L 376.57 225.81
L 376.8 248.8
L 376.9 217.6
L 376.92 221.91
L 376.93 229.4
L 377.11 209.78
L 377.16 236.64
L 377.28 226.77
L 377.29 229.33
L 377.64 209.47
L 377.65 222.32
L 377.8 224.33
L 377.95 201.9
L 378 209.85
L 378.01 212.54
L 378.31 227.41
L 378.35 201.76
L 378.37 226.01
L 378.68 205.17
L 378.71 219.38
L 378.73 212.3
L 379.02 199.97
L 379.04 226.42
L 379.07 213.64
L 379.09 216.88
L 379.11 198.42
L 379.2 231.84
L 379.43 218.54
L 379.45 217.35
L 379.66 205.47
L 379.68 230.74
L 379.79 227.36
L 379.81 220.33
L 379.89 210.09
L 380 229.43
L 380.15 223.95
L 380.17 219.69
L 380.4 217.02
L 380.5 244.61
L 380.51 220.68
L 380.53 224.56
L 380.74 213.72
L 380.79 243.65
L 380.87 215.38
L 380.89 227.29
L 380.92 220.63
L 381.18 250.03
L 381.23 228.53
L 381.25 253.33
L 381.28 215.15
L 381.59 226.21
L 381.61 234.65
L 381.64 219.37
L 381.75 248.85
L 381.95 226.86
L 381.97 245.88
L 382.13 249.18
L 382.23 221.54
L 382.31 237.81
L 382.33 242.61
L 382.36 243.86
L 382.64 220.2
L 382.67 227.66
L 382.68 232.78
L 382.7 239.57
L 383 218.31
L 383.03 220.77
L 383.04 229.44
L 383.16 238.95
L 383.37 212.68
L 383.39 221.57
L 383.4 213.29
L 383.42 201.97
L 383.75 231.04
L 383.76 209.32
L 383.93 231.75
L 384.07 204.78
L 384.11 215.73
L 384.12 208.87
L 384.19 227.04
L 384.27 203.61
L 384.47 214.99
L 384.48 201.28
L 384.81 225.86
L 384.83 219.89
L 384.84 214.64
L 384.99 210.13
L 385.15 233.14
L 385.18 218.8
L 385.2 218.36
L 385.33 208.77
L 385.51 229.01
L 385.54 214.56
L 385.56 214.85
L 385.67 207.97
L 385.9 238.94
L 385.92 228.53
L 385.94 233.13
L 385.99 217.56
L 386.1 238
L 386.28 233.95
L 386.3 238.52
L 386.44 212.24
L 386.49 243.18
L 386.64 222.38
L 386.66 234.22
L 386.67 221.09
L 386.9 255.18
L 387 245.68
L 387.01 247.99
L 387.03 255.68
L 387.15 223.46
L 387.36 248.53
L 387.37 227.72
L 387.49 251.85
L 387.68 221.24
L 387.72 228.94
L 387.73 243
L 387.86 255.92
L 388 219.95
L 388.08 241.04
L 388.09 223.55
L 388.21 246.24
L 388.26 221.45
L 388.44 237.22
L 388.45 234.37
L 388.67 213.82
L 388.7 240.6
L 388.8 234.08
L 388.81 230.63
L 388.89 232.43
L 389.04 215.75
L 389.16 230.99
L 389.17 221.88
L 389.2 204.76
L 389.35 232.17
L 389.51 212.16
L 389.53 225.74
L 389.58 204.86
L 389.63 227.97
L 389.87 219.88
L 389.89 216.6
L 390.07 234.76
L 390.15 198.68
L 390.23 220.88
L 390.25 209.45
L 390.32 226.11
L 390.59 200.8
L 390.61 221.36
L 390.72 203.27
L 390.95 229.21
L 390.97 207.7
L 391.15 231.02
L 391.26 202.83
L 391.31 207.63
L 391.33 213.96
L 391.61 230.94
L 391.66 207.74
L 391.67 219.02
L 391.69 218.82
L 391.88 213.42
L 391.9 231.21
L 392.03 229.49
L 392.05 223.38
L 392.29 212.48
L 392.37 250.72
L 392.39 234.34
L 392.41 246.01
L 392.5 220.66
L 392.75 241.4
L 392.77 227.2
L 392.95 257.22
L 393.06 220.12
L 393.11 240.69
L 393.13 244.79
L 393.19 251.73
L 393.26 221.37
L 393.47 241.19
L 393.49 256.99
L 393.62 224.94
L 393.83 231.93
L 393.84 251.13
L 393.96 226.74
L 394.02 253.46
L 394.19 228.36
L 394.2 239.27
L 394.24 243.52
L 394.37 213.87
L 394.55 227.36
L 394.56 225.71
L 394.58 218.52
L 394.69 236.69
L 394.91 221.03
L 394.92 221.52
L 394.96 229.94
L 395.15 205.14
L 395.27 223.27
L 395.28 212.74
L 395.32 227.56
L 395.46 202.62
L 395.63 220.39
L 395.64 219.3
L 395.76 203.61
L 395.89 226.89
L 395.99 223.63
L 396 204.57
L 396.17 196.35
L 396.31 224.31
L 396.34 213.43
L 396.36 223.32
L 396.59 201.4
L 396.7 224.15
L 396.72 205.7
L 396.79 203.41
L 396.88 227
L 397.06 218.72
L 397.08 225.63
L 397.13 201.55
L 397.19 229.41
L 397.44 209.76
L 397.46 215.23
L 397.68 234.85
L 397.77 212.83
L 397.8 232.81
L 397.82 231.05
L 398.06 215.51
L 398.09 236.31
L 398.16 233.72
L 398.17 216.48
L 398.49 249.03
L 398.52 219.3
L 398.53 242.81
L 398.6 218.2
L 398.62 246.8
L 398.88 226.42
L 398.89 231.3
L 399.09 223.57
L 399.14 251.83
L 399.24 235
L 399.25 242.42
L 399.56 257.87
L 399.58 224.66
L 399.6 234.27
L 399.61 238.91
L 399.74 256.1
L 399.79 222.1
L 399.96 231.13
L 399.97 246.65
L 400.28 219.07
L 400.32 229.08
L 400.33 224.51
L 400.41 250.69
L 400.63 221.11
L 400.67 235.57
L 400.69 223.92
L 400.71 240.61
L 401 217.17
L 401.03 229.35
L 401.05 222.76
L 401.13 236.11
L 401.17 210.77
L 401.39 221.29
L 401.41 216.78
L 401.43 209.28
L 401.64 234.71
L 401.75 220.1
L 401.77 230.45
L 402.11 204.68
L 402.13 204.07
L 402.33 225.31
L 402.47 212.17
L 402.49 216.76
L 402.5 225.58
L 402.72 201.92
L 402.83 215.07
L 402.85 214.31
L 402.95 227.28
L 403.01 205.41
L 403.19 224.04
L 403.21 229.23
L 403.37 232.55
L 403.55 213.81
L 403.57 226.64
L 403.62 217.83
L 403.89 236.33
L 403.91 228.25
L 403.93 224.01
L 404.09 217.85
L 404.22 245.66
L 404.27 229.34
L 404.29 240.08
L 404.38 242.24
L 404.61 218.41
L 404.63 226.82
L 404.65 225.02
L 404.86 249.02
L 404.87 220.84
L 404.99 229.56
L 405.01 243.68
L 405.07 220.57
L 405.15 252.97
L 405.35 244.76
L 405.36 221.57
L 405.46 256.57
L 405.54 219.95
L 405.71 229.81
L 405.72 226.74
L 405.85 253.17
L 405.95 223.9
L 406.07 243.6
L 406.08 225.82
L 406.28 252.67
L 406.39 215.9
L 406.43 237.4
L 406.44 234.14
L 406.56 241.49
L 406.72 218.17
L 406.79 228.9
L 406.8 230.74
L 406.93 232.56
L 407.13 211.43
L 407.15 227.52
L 407.16 217.35
L 407.23 227.83
L 407.24 200.12
L 407.51 218.61
L 407.52 218.76
L 407.54 229.53
L 407.82 202.89
L 407.86 225.73
L 407.88 212.61
L 407.93 228.68
L 407.98 204.9
L 408.22 218.18
L 408.24 224.27
L 408.5 227.88
L 408.53 201.05
L 408.6 208.19
L 408.62 223.09
L 408.7 199.98
L 408.88 229.55
L 408.96 214.85
L 408.98 215.34
L 408.99 231.75
L 409.07 208.35
L 409.32 224.09
L 409.34 224.96
L 409.4 235.88
L 409.68 206.66
L 409.69 227.26
L 409.83 239.76
L 409.87 218.86
L 410.04 230.17
L 410.05 231.94
L 410.12 220.03
L 410.38 243.94
L 410.4 228.03
L 410.41 244.3
L 410.46 222.37
L 410.5 247.13
L 410.76 238.88
L 410.77 228.12
L 410.84 247.78
L 410.92 222.73
L 411.12 241.84
L 411.13 231.93
L 411.43 250.74
L 411.46 219.81
L 411.48 231.83
L 411.49 236.84
L 411.52 237.71
L 411.69 218.16
L 411.84 224.5
L 411.85 224.97
L 411.93 240.86
L 411.97 215.8
L 412.19 220.32
L 412.21 225.42
L 412.33 213.53
L 412.42 241.58
L 412.55 217.97
L 412.57 226.06
L 412.62 231.3
L 412.82 212.32
L 412.91 223.95
L 412.93 221.34
L 413.24 230.75
L 413.27 204.86
L 413.29 216.32
L 413.53 203.87
L 413.63 227.21
L 413.65 212.77
L 413.83 231.03
L 413.94 196.09
L 413.99 209.05
L 414.01 215.67
L 414.11 228.61
L 414.34 199.07
L 414.35 222.01
L 414.37 216.54
L 414.45 226.61
L 414.55 201.67
L 414.71 203.15
L 414.73 214.38
L 414.76 200.5
L 414.83 221.6
L 415.07 213.6
L 415.09 220.74
L 415.14 211.49
L 415.22 231.6
L 415.43 227.26
L 415.45 225.51
L 415.72 244.33
L 415.74 217.56
L 415.79 224.55
L 415.81 228.77
L 415.94 223.27
L 416.12 256.94
L 416.15 232.64
L 416.17 236.93
L 416.26 257.76
L 416.41 219.69
L 416.51 243.8
L 416.52 230.65
L 416.67 227.45
L 416.72 256.87
L 416.87 234.61
L 416.88 234.25
L 416.93 261.71
L 417.23 223.17
L 417.24 246.44
L 417.44 262.4
L 417.59 222.15
L 417.6 236.96
L 417.77 253.81
L 417.86 227.88
L 417.95 240.96
L 417.96 252.31
L 418.24 218.63
L 418.31 230.61
L 418.32 223.65
L 418.35 241.68
L 418.55 219.26
L 418.67 236.23
L 418.68 235.81
L 418.71 237.52
L 418.78 209.05
L 419.02 233.93
L 419.04 217.38
L 419.09 203.14
L 419.27 230.4
L 419.38 224.17
L 419.4 228.4
L 419.45 202.09
L 419.71 233.03
L 419.76 224.55
L 419.78 214.05
L 419.87 230.64
L 420.02 198.68
L 420.12 203.44
L 420.14 209.67
L 420.25 223.34
L 420.43 199.45
L 420.48 219.32
L 420.5 215.78
L 420.51 200.62
L 420.67 228.85
L 420.84 213.47
L 420.85 216.56
L 420.94 230.67
L 420.95 202.15
L 421.2 211.33
L 421.21 217.71
L 421.23 212.96
L 421.56 232.56
L 421.57 225.56
L 421.7 210.67
L 421.88 237.61
L 421.92 231.87
L 421.93 223.91
L 422 214.33
L 422.26 238.63
L 422.28 227.31
L 422.29 217.54
L 422.44 249.23
L 422.64 232.89
L 422.65 231.41
L 422.8 249.44
L 422.83 225.9
L 423 239.12
L 423.01 244.95
L 423.17 251.39
L 423.27 221.59
L 423.35 237.85
L 423.37 236.58
L 423.47 227.82
L 423.52 250.9
L 423.71 231.48
L 423.73 233.52
L 423.76 240
L 424.02 222.83
L 424.07 224.1
L 424.09 233.96
L 424.19 241.71
L 424.24 216.09
L 424.43 240.09
L 424.45 220.34
L 424.66 212.28
L 424.73 233.88
L 424.79 216.67
L 424.81 226.01
L 424.86 232.63
L 425.14 209.42
L 425.15 217.48
L 425.17 211.19
L 425.23 228.55
L 425.38 203.05
L 425.51 217.36
L 425.53 212.81
L 425.68 230.19
L 425.76 199.22
L 425.87 210.92
L 425.89 212.24
L 426.18 204.25
L 426.23 221.66
L 426.25 203.51
L 426.31 224.22
L 426.41 198.28
L 426.59 206.79
L 426.61 211.68
L 426.79 230.84
L 426.84 196.74
L 426.95 214.3
L 426.97 214.39
L 426.98 201.81
L 427.29 229.27
L 427.31 213.75
L 427.33 221.7
L 427.41 233.65
L 427.42 204.21
L 427.67 214.68
L 427.68 224.06
L 427.77 206.52
L 427.8 235.84
L 428.03 235.79
L 428.04 222.56
L 428.37 245.07
L 428.39 223.51
L 428.4 228.81
L 428.63 222.95
L 428.68 249.95
L 428.75 231.39
L 428.76 233.03
L 428.78 223.23
L 428.96 254.63
L 429.11 245.16
L 429.12 234.47
L 429.17 253.16
L 429.45 222.55
L 429.47 235.01
L 429.48 243.17
L 429.69 215.26
L 429.78 251.24
L 429.83 234.66
L 429.84 220.77
L 429.99 245.78
L 430.18 239.86
L 430.2 224.7
L 430.38 240.53
L 430.46 215.23
L 430.54 229.28
L 430.56 243.82
L 430.76 217.18
L 430.9 228.13
L 430.92 221.23
L 431.17 230.45
L 431.2 209.02
L 431.28 210.21
L 431.3 213.24
L 431.57 229.08
L 431.61 201
L 431.64 212.7
L 431.66 210.85
L 431.85 230.75
L 431.9 201.47
L 432 218.32
L 432.01 221.41
L 432.06 225.2
L 432.26 198.65
L 432.36 211.49
L 432.37 214.67
L 432.46 226.15
L 432.65 197.8
L 432.72 201.74
L 432.73 200.33
L 432.9 228.72
L 433.03 197.39
L 433.08 224.82
L 433.09 229.04
L 433.11 202.14
L 433.44 214.14
L 433.45 221.41
L 433.47 208.84
L 433.7 231.04
L 433.8 229.22
L 433.81 235.48
L 433.91 215.04
L 434.16 239.95
L 434.17 243.46
L 434.35 213.71
L 434.47 245.08
L 434.51 235.33
L 434.53 230.83
L 434.58 255.92
L 434.87 216.88
L 434.89 248.7
L 434.91 220.34
L 435.12 255.23
L 435.23 235.44
L 435.25 224.81
L 435.41 218.13
L 435.51 252.5
L 435.59 245.78
L 435.61 240.66
L 435.64 220.39
L 435.76 251.17
L 435.95 234.01
L 435.97 240.45
L 435.99 217.89
L 436.17 245.85
L 436.31 228.83
L 436.33 232.88
L 436.43 244.93
L 436.57 215.62
L 436.67 229.75
L 436.69 231.91
L 436.77 238.52
L 436.98 210.4
L 437.03 215.83
L 437.05 226.18
L 437.13 231.86
L 437.34 210.39
L 437.39 220.48
L 437.41 222.82
L 437.49 238.57
L 437.51 206.95
L 437.75 227.33
L 437.77 217.92
L 437.96 205.22
L 438 233.94
L 438.11 207.85
L 438.13 224.94
L 438.14 198.42
L 438.42 225.47
L 438.47 212.26
L 438.49 221.18
L 438.55 200.19
L 438.58 226.29
L 438.83 209.14
L 438.84 212
L 438.91 208.43
L 438.93 231.02
L 439.19 228.43
L 439.2 216.66
L 439.4 208.2
L 439.42 229.77
L 439.55 212.25
L 439.56 223.9
L 439.71 214.11
L 439.81 236.43
L 439.91 231.47
L 439.92 224.09
L 440.01 246.36
L 440.04 218.61
L 440.27 228.5
L 440.28 225.76
L 440.36 224.68
L 440.63 248.25
L 440.64 243.87
L 440.68 250.07
L 440.89 220.49
L 440.99 234.82
L 441 238.52
L 441.02 225.51
L 441.26 255.28
L 441.34 234.03
L 441.36 235.08
L 441.43 251.19
L 441.52 224.31
L 441.7 231.79
L 441.72 238.32
L 441.88 249.87
L 441.95 220.62
L 442.06 227.45
L 442.08 226.69
L 442.18 248.53
L 442.36 219.1
L 442.44 226.65
L 442.46 230.31
L 442.55 239.34
L 442.73 220.24
L 442.8 224.27
L 442.82 222.49
L 442.93 237.96
L 443 214.96
L 443.16 226.43
L 443.18 222.81
L 443.26 227.85
L 443.34 208.76
L 443.52 213.75
L 443.53 211.79
L 443.71 229.6
L 443.88 203.47
L 443.89 213.86
L 444.07 196.35
L 444.2 232.9
L 444.24 218.36
L 444.25 207
L 444.35 200.07
L 444.45 229.02
L 444.6 219.42
L 444.61 224.33
L 444.73 226.14
L 444.76 197.8
L 444.96 219.14
L 444.97 226.16
L 445.2 228
L 445.23 204.41
L 445.32 219.6
L 445.33 232.29
L 445.56 207.97
L 445.68 227.7
L 445.69 219.25
L 445.72 215.97
L 445.89 245.96
L 446.03 230.33
L 446.05 229.22
L 446.1 214.49
L 446.33 255.48
L 446.39 232.93
L 446.41 227.61
L 446.59 225.1
L 446.64 253.32
L 446.75 237.33
L 446.77 239.53
L 446.9 224.16
L 447.06 255.29
L 447.11 244.31
L 447.13 255.74
L 447.23 257.22
L 447.28 229.8
L 447.47 229.91
L 447.49 228.47
L 447.62 253.12
L 447.83 221.62
L 447.85 228.64
L 448.01 248.74
L 448.06 208.23
L 448.19 228.57
L 448.21 229.31
L 448.42 211.91
L 448.45 234.63
L 448.55 223.85
L 448.57 226.92
L 448.8 205.6
L 448.91 231.17
L 448.93 212.3
L 449.12 225.12
L 449.24 195.06
L 449.27 211.77
L 449.29 197.85
L 449.32 195.56
L 449.43 222.98
L 449.63 211.24
L 449.65 198.61
L 449.96 224.61
L 449.99 221.25
L 450.01 219.79
L 450.09 202.75
L 450.1 224.94
L 450.35 216
L 450.36 215.94
L 450.41 207.52
L 450.5 227.25
L 450.71 216.95
L 450.72 223.2
L 450.92 236.07
L 450.94 205.91
L 451.07 219.8
L 451.08 229.29
L 451.23 214.13
L 451.39 241.28
L 451.43 231.99
L 451.44 218.71
L 451.59 217.56
L 451.64 245.8
L 451.79 236.43
L 451.8 229.3
L 451.87 258.27
L 452.06 223.39
L 452.15 244.94
L 452.16 260.09
L 452.36 226.09
L 452.51 228.77
L 452.52 245.1
L 452.7 224.07
L 452.83 261.11
L 452.86 225.6
L 452.88 237.48
L 452.9 225.02
L 453.08 255.33
L 453.22 242.1
L 453.24 230.3
L 453.27 225.51
L 453.4 258.76
L 453.6 241.41
L 453.62 233.41
L 453.65 217.15
L 453.76 251.38
L 453.96 235.48
L 453.98 245.67
L 454.04 254.74
L 454.2 218.59
L 454.32 234.09
L 454.34 235.47
L 454.38 238.18
L 454.63 216.68
L 454.68 220.56
L 454.69 228.06
L 454.86 233.46
L 454.92 206.9
L 455.04 216.73
L 455.05 221.51
L 455.1 199.53
L 455.18 229.09
L 455.4 217.05
L 455.41 225.75
L 455.48 227.84
L 455.58 198.94
L 455.76 201.38
L 455.77 217.2
L 455.99 200.7
L 456.02 225.25
L 456.12 219.25
L 456.13 224.95
L 456.2 203.43
L 456.38 225.74
L 456.48 212.46
L 456.49 225.08
L 456.51 226.86
L 456.7 208.03
L 456.84 219.83
L 456.85 220.96
L 456.92 211.56
L 456.97 238.67
L 457.19 222.09
L 457.21 227.51
L 457.36 212.72
L 457.49 233.5
L 457.55 230.8
L 457.57 222.51
L 457.67 236.72
L 457.75 215.29
L 457.91 225.84
L 457.93 239
L 458 246.7
L 458.09 212.1
L 458.27 223.37
L 458.29 233.8
L 458.45 221.44
L 458.55 247.71
L 458.63 242.8
L 458.65 236.42
L 458.86 224.06
L 458.89 247.9
L 458.99 225.62
L 459.01 249.21
L 459.25 226.99
L 459.35 248.45
L 459.37 230.24
L 459.51 225.44
L 459.71 247.83
L 459.73 234.21
L 459.81 228.99
L 459.86 245.63
L 460.07 232.61
L 460.09 229.28
L 460.3 218.82
L 460.4 249.44
L 460.43 229.11
L 460.45 228.05
L 460.48 236.55
L 460.66 214.8
L 460.79 222.88
L 460.81 220.32
L 461.07 215.13
L 461.15 232.76
L 461.17 222.57
L 461.18 205.24
L 461.25 235.99
L 461.51 218.14
L 461.52 204.38
L 461.56 198.42
L 461.85 224.24
L 461.87 218.66
L 461.88 200.54
L 462.15 226.76
L 462.23 203.72
L 462.24 208.56
L 462.34 200.06
L 462.42 225.58
L 462.59 203.33
L 462.6 219.33
L 462.67 203.28
L 462.9 228.99
L 462.95 228.98
L 462.96 221.38
L 463.03 209.05
L 463.29 227.77
L 463.31 223.79
L 463.32 215.07
L 463.5 235.51
L 463.67 211.73
L 463.68 229.57
L 463.75 215.28
L 463.99 241.81
L 464.02 236.13
L 464.04 231.24
L 464.09 214.33
L 464.34 242.93
L 464.38 232.23
L 464.4 232.7
L 464.6 247.44
L 464.65 220.96
L 464.74 233
L 464.76 236.77
L 464.83 252.04
L 464.89 224.13
L 465.12 233.9
L 465.14 237.68
L 465.2 223.27
L 465.27 247.17
L 465.48 232.56
L 465.5 231.42
L 465.58 247.69
L 465.64 217.64
L 465.84 228.62
L 465.85 222.53
L 465.95 243.74
L 466.07 222.14
L 466.2 233.92
L 466.21 236.36
L 466.25 214.33
L 466.54 241.49
L 466.56 229.62
L 466.57 223.34
L 466.69 210.66
L 466.74 231.74
L 466.92 222.92
L 466.93 230.98
L 467.18 206.29
L 467.23 232.33
L 467.28 227.63
L 467.29 220.84
L 467.34 225.48
L 467.57 206.06
L 467.64 224.85
L 467.65 220.41
L 467.86 204.31
L 467.9 229.22
L 468 207.34
L 468.01 201.02
L 468.19 199.09
L 468.24 225.37
L 468.35 221.24
L 468.37 207.24
L 468.47 226.84
L 468.49 198.94
L 468.71 210.81
L 468.73 212.89
L 468.76 205.8
L 468.8 228.21
L 469.07 218.32
L 469.09 225.8
L 469.14 228.66
L 469.32 204.79
L 469.43 226.18
L 469.45 218.86
L 469.5 217.2
L 469.76 240.18
L 469.79 233.61
L 469.81 235.28
L 470.07 243.16
L 470.12 217.52
L 470.15 225.84
L 470.17 230.77
L 470.32 226.01
L 470.43 248.82
L 470.51 241.07
L 470.53 228.92
L 470.59 254.91
L 470.69 223.58
L 470.87 237.92
L 470.89 246.48
L 470.97 253.88
L 471.12 224.22
L 471.23 234.32
L 471.25 236.35
L 471.33 257.87
L 471.43 226.41
L 471.59 245.78
L 471.61 235.12
L 471.75 223.22
L 471.84 249.76
L 471.95 243.28
L 471.97 232.32
L 472 246.27
L 472.26 215.14
L 472.31 227.96
L 472.33 223.9
L 472.42 236.6
L 472.62 210.83
L 472.67 220.58
L 472.68 220.32
L 472.83 226.92
L 473.01 209.62
L 473.03 218.59
L 473.04 212.9
L 473.14 201.05
L 473.29 226.54
L 473.39 214.26
L 473.4 219.78
L 473.44 225.42
L 473.53 209.47
L 473.75 209.88
L 473.76 212.29
L 473.81 196.74
L 473.83 226.09
L 474.11 205.14
L 474.12 222.86
L 474.43 198.29
L 474.47 227.76
L 474.48 224.62
L 474.78 227.1
L 474.81 201.17
L 474.83 213.19
L 474.84 217
L 474.89 197.91
L 475.14 229.98
L 475.18 213.69
L 475.2 227.68
L 475.4 236.85
L 475.51 210.27
L 475.54 224.8
L 475.56 221.31
L 475.76 235.3
L 475.77 215.8
L 475.9 224.82
L 475.92 226.97
L 475.95 213.97
L 476.1 242.66
L 476.28 241.69
L 476.3 212.59
L 476.49 247.79
L 476.64 225.55
L 476.66 228.48
L 476.8 251.39
L 476.85 222.06
L 477 243.7
L 477.02 229.91
L 477.03 221.47
L 477.34 244.51
L 477.36 230.6
L 477.37 233.74
L 477.49 216.9
L 477.64 238.7
L 477.72 228.55
L 477.73 230.63
L 477.83 215.17
L 477.93 243.16
L 478.08 235.33
L 478.09 231.53
L 478.16 219.85
L 478.32 242.86
L 478.44 231.01
L 478.45 228.48
L 478.7 234.03
L 478.76 213.06
L 478.8 219.93
L 478.81 224.89
L 479.07 209.73
L 479.09 228.27
L 479.16 223.76
L 479.17 218.93
L 479.24 233.76
L 479.43 206.22
L 479.52 217
L 479.53 213.2
L 479.58 232.15
L 479.61 201.54
L 479.87 220.65
L 479.89 204.34
L 480.17 227.03
L 480.23 220.14
L 480.25 219.93
L 480.4 229.91
L 480.45 208.81
L 480.59 224.77
L 480.61 208.78
L 480.81 234.27
L 480.95 226.75
L 480.97 221.88
L 480.99 234.4
L 481.05 214.64
L 481.31 222.67
L 481.33 218.95
L 481.41 210.15
L 481.66 237.21
L 481.67 219.39
L 481.69 225.94
L 481.84 214.41
L 482.02 239.17
L 482.03 232.99
L 482.05 233.33
L 482.31 214.46
L 482.37 249.26
L 482.39 224.7
L 482.41 223.29
L 482.55 256.5
L 482.7 222.38
L 482.75 239.91
L 482.77 230.79
L 482.85 221.96
L 482.88 256.43
L 483.11 238.66
L 483.13 235.13
L 483.34 219.94
L 483.4 246.12
L 483.47 219.99
L 483.49 246.84
L 483.5 258.52
L 483.73 223.21
L 483.83 242.74
L 483.85 230.33
L 483.91 246.09
L 484.16 214.44
L 484.19 236.5
L 484.2 226.06
L 484.24 215.56
L 484.3 246.43
L 484.55 232.54
L 484.56 229.9
L 484.73 214.85
L 484.83 236.48
L 484.91 229.88
L 484.92 224.09
L 484.99 227.32
L 485.04 209.5
L 485.27 215.88
L 485.28 216.22
L 485.4 227.78
L 485.56 202.78
L 485.63 212.72
L 485.64 216.43
L 485.69 195.83
L 485.94 224.1
L 485.99 211.37
L 486 207.95
L 486.03 224.34
L 486.3 197.74
L 486.35 198.09
L 486.36 199.82
L 486.66 227.26
L 486.7 221.69
L 486.72 208.4
L 486.79 228.21
L 487.06 221.54
L 487.08 214.44
L 487.21 214.02
L 487.33 236.25
L 487.44 226.81
L 487.46 237.05
L 487.7 221.14
L 487.8 245.11
L 487.82 226.32
L 488.14 254.96
L 488.16 241.9
L 488.18 254.39
L 488.26 225.78
L 488.34 256.57
L 488.52 252.44
L 488.53 244.13
L 488.7 250.64
L 488.76 225.92
L 488.88 238.11
L 488.89 254.09
L 488.98 222.9
L 489.04 255.09
L 489.24 247.58
L 489.25 239.29
L 489.3 223.05
L 489.32 246.07
L 489.6 231.47
L 489.61 227.48
L 489.68 245.22
L 489.86 219.51
L 489.96 220.81
L 489.97 222.03
L 490.02 218.21
L 490.32 242.91
L 490.33 226.32
L 490.36 230.48
L 490.4 211.57
L 490.68 227.82
L 490.69 227.03
L 490.74 230.54
L 490.85 209.29
L 491.03 218.5
L 491.05 216.9
L 491.07 237.9
L 491.1 205.36
L 491.39 218.28
L 491.41 216.32
L 491.67 228.5
L 491.69 205.55
L 491.75 213.56
L 491.77 205.9
L 491.84 202.28
L 492.02 228.64
L 492.11 223.7
L 492.13 226.49
L 492.15 230.65
L 492.21 197.65
L 492.47 226.49
L 492.49 220.49
L 492.54 210.33
L 492.55 240.91
L 492.83 213.7
L 492.85 217.36
L 493.11 231.44
L 493.19 212.73
L 493.21 222.07
L 493.26 236.73
L 493.32 208.75
L 493.55 232.21
L 493.57 223.74
L 493.65 211.99
L 493.91 246.45
L 493.93 233.04
L 494.12 225.3
L 494.25 248.62
L 494.27 235.9
L 494.29 237.7
L 494.32 220.97
L 494.6 251.17
L 494.63 241.56
L 494.65 238.01
L 494.76 252.9
L 494.87 226.08
L 494.99 233
L 495.01 250.82
L 495.12 252.51
L 495.28 221.41
L 495.35 225.46
L 495.36 244.38
L 495.51 249.06
L 495.69 220.71
L 495.71 231.6
L 495.72 241.54
L 495.99 250.6
L 496 220.64
L 496.07 239.11
L 496.08 224.56
L 496.15 237.86
L 496.2 215.02
L 496.43 217.94
L 496.44 229.44
L 496.66 234.27
L 496.77 208.15
L 496.79 222.76
L 496.8 228.34
L 497.03 232.1
L 497.13 207.66
L 497.15 215.04
L 497.16 223.69
L 497.19 204.55
L 497.37 230.59
L 497.51 230.07
L 497.52 222.19
L 497.59 234.07
L 497.86 200.89
L 497.88 201.73
L 497.91 224.09
L 498.19 198.42
L 498.22 201.96
L 498.24 212.61
L 498.49 226.07
L 498.52 206.18
L 498.58 225.16
L 498.6 223.04
L 498.65 203.9
L 498.7 239.03
L 498.96 225.52
L 498.98 220.06
L 498.99 212.56
L 499.16 231.9
L 499.32 231
L 499.34 223.72
L 499.37 211.4
L 499.55 243.4
L 499.68 214.72
L 499.69 230.97
L 499.89 218.28
L 499.92 242.43
L 500.04 233.32
L 500.05 233.84
L 500.17 223.28
L 500.25 251.53
L 500.4 234.44
L 500.41 253.33
L 500.56 223.3
L 500.76 242.78
L 500.77 227.92
L 500.87 251.32
L 501.1 222.44
L 501.12 244.18
L 501.13 227.93
L 501.15 223.67
L 501.46 242.43
L 501.48 225.52
L 501.49 227.59
L 501.52 245.68
L 501.84 217.12
L 501.85 232.27
L 502.03 210.71
L 502.11 237.99
L 502.19 214.29
L 502.21 222.17
L 502.46 214.21
L 502.55 232.74
L 502.57 230.72
L 502.59 233.63
L 502.83 211.29
L 502.91 217.36
L 502.93 222.79
L 503.13 228.05
L 503.21 193.76
L 503.27 218.77
L 503.29 216.23
L 503.53 226.28
L 503.62 196.7
L 503.63 207.64
L 503.65 203.87
L 503.85 196.26
L 503.89 224.69
L 503.99 203.45
L 504.01 217.87
L 504.16 200.52
L 504.35 224.01
L 504.37 221.38
L 504.4 203.36
L 504.52 229.75
L 504.71 225.72
L 504.73 224.04
L 504.87 215.43
L 504.97 240.03
L 505.07 223.65
L 505.09 236.3
L 505.22 220.46
L 505.36 244.33
L 505.43 234.06
L 505.45 237.95
L 505.5 251.34
L 505.51 224.03
L 505.79 234.6
L 505.81 227.53
L 505.82 223.75
L 506.02 252.47
L 506.15 245.03
L 506.17 225.35
L 506.2 220.14
L 506.28 256.57
L 506.51 234.15
L 506.52 242.3
L 506.61 248.34
L 506.87 214.6
L 506.88 226.77
L 506.93 250.91
L 506.95 212.96
L 507.23 229.19
L 507.24 234.05
L 507.31 246.99
L 507.49 217.14
L 507.59 238.01
L 507.6 228.52
L 507.65 236.28
L 507.88 207.89
L 507.95 209.31
L 507.96 230.43
L 508.09 210.57
L 508.31 214.31
L 508.32 232.82
L 508.4 203.12
L 508.67 211.07
L 508.68 210.72
L 508.81 227.42
L 508.88 200.88
L 509.02 210.66
L 509.04 216.67
L 509.07 226.4
L 509.24 198.42
L 509.38 219.91
L 509.4 213.79
L 509.6 204.41
L 509.74 226.04
L 509.76 214.33
L 509.81 226.15
L 509.86 202.32
L 510.12 224.41
L 510.14 221.29
L 510.15 209.34
L 510.36 230.4
L 510.48 229.26
L 510.5 212.83
L 510.58 210.91
L 510.79 232.88
L 510.84 226
L 510.85 214
L 510.94 213.43
L 511.1 236.81
L 511.2 221.83
L 511.21 223.83
L 511.23 213.67
L 511.31 244.97
L 511.56 232.4
L 511.57 220.93
L 511.67 220.35
L 511.88 250.09
L 511.92 226.11
L 511.93 222.33
L 511.95 245.37
L 512.02 220.84
L 512.28 236.16
L 512.29 240.95
L 512.34 219.95
L 512.37 248.24
L 512.64 238.96
L 512.65 233.83
L 512.88 214.13
L 512.95 242.15
L 513 237.33
L 513.01 231.73
L 513.14 240.66
L 513.34 218.17
L 513.35 238.59
L 513.37 224.65
L 513.4 239.76
L 513.44 218.75
L 513.71 226.13
L 513.73 227.93
L 513.94 238.52
L 513.98 210.32
L 514.07 218.93
L 514.09 206.49
L 514.32 232.45
L 514.43 215.3
L 514.45 224.65
L 514.71 236.74
L 514.78 202.46
L 514.79 225.68
L 514.81 209.33
L 514.86 206.42
L 515.05 230.82
L 515.15 217.58
L 515.17 215.45
L 515.25 203.69
L 515.45 227.82
L 515.51 218.31
L 515.53 223.76
L 515.68 204.45
L 515.77 232.68
L 515.87 217.84
L 515.89 209.95
L 515.99 201.25
L 516.07 235.55
L 516.23 220.53
L 516.25 222.87
L 516.35 200.24
L 516.59 232.07
L 516.61 231.25
L 516.77 215.58
L 516.8 233.61
L 516.95 225.35
L 516.97 220.01
L 517.05 217.8
L 517.31 235.75
L 517.33 222.22
L 517.42 246.69
L 517.57 217.42
L 517.67 231.1
L 517.69 227.6
L 517.8 221.59
L 517.96 244.55
L 518.03 225.58
L 518.04 224.9
L 518.24 223.58
L 518.37 252.04
L 518.39 239.64
L 518.4 243.37
L 518.49 247.38
L 518.68 218.66
L 518.75 230.98
L 518.76 222.61
L 518.91 241.8
L 518.96 218.49
L 519.11 232.08
L 519.12 247.59
L 519.34 221.29
L 519.47 229.97
L 519.48 231.99
L 519.55 234.66
L 519.76 212.63
L 519.83 229.47
L 519.84 227.49
L 519.86 207.82
L 519.94 229.07
L 520.19 221.55
L 520.2 213.11
L 520.33 235.94
L 520.4 207.68
L 520.54 227.05
L 520.56 221.9
L 520.58 230.83
L 520.87 206.49
L 520.9 209.24
L 520.92 198.42
L 521.18 228.04
L 521.28 218.29
L 521.3 219.85
L 521.54 233.56
L 521.57 204.67
L 521.64 225.45
L 521.66 207.73
L 521.67 231.53
L 521.85 198.8
L 522 218.47
L 522.02 223.54
L 522.28 198.72
L 522.36 230.62
L 522.37 217.75
L 522.39 233.23
L 522.55 211.95
L 522.72 220.46
L 522.73 217.9
L 522.96 238.41
L 522.98 217.29
L 523.08 223.97
L 523.09 224.54
L 523.16 240.03
L 523.32 217.17
L 523.44 218.33
L 523.45 239.5
L 523.62 217.58
L 523.75 251.08
L 523.8 235.37
L 523.81 248.81
L 524.12 221.99
L 524.14 251.76
L 524.16 248.02
L 524.17 230.56
L 524.27 255.17
L 524.29 225.01
L 524.52 240.24
L 524.53 231.05
L 524.78 256.57
L 524.81 229.18
L 524.87 245.99
L 524.89 248.45
L 524.92 254.4
L 525.23 221.75
L 525.25 239.52
L 525.3 244.2
L 525.4 219.84
L 525.59 229.36
L 525.61 236.8
L 525.79 217.02
L 525.82 242.55
L 525.95 227.33
L 525.97 221.41
L 525.99 229.72
L 526.02 204.81
L 526.31 221.79
L 526.33 215.21
L 526.61 230.82
L 526.66 203.4
L 526.67 210.82
L 526.69 224.73
L 526.87 230.61
L 526.92 199.98
L 527.03 219.87
L 527.05 211.6
L 527.18 198.99
L 527.23 224.55
L 527.39 214.36
L 527.41 219.29
L 527.52 196.74
L 527.73 228.77
L 527.75 210.13
L 527.77 209.76
L 527.85 202.23
L 528.09 230.09
L 528.11 202.31
L 528.13 207.82
L 528.37 231.56
L 528.47 213.42
L 528.49 212.39
L 528.53 211.37
L 528.73 227.2
L 528.83 221.69
L 528.85 206.63
L 529.17 227.76
L 529.19 224.53
L 529.2 222.02
L 529.4 215.49
L 529.47 234.63
L 529.55 220.27
L 529.56 234.71
L 529.71 212.28
L 529.83 237.46
L 529.91 234.28
L 529.92 232.05
L 529.99 222.09
L 530.2 242.82
L 530.27 235.89
L 530.28 238.64
L 530.38 244.32
L 530.51 222.79
L 530.63 240.51
L 530.64 242.35
L 530.79 246.91
L 530.97 221.14
L 530.99 224.53
L 531 235.06
L 531.03 222.33
L 531.18 248.15
L 531.35 233.74
L 531.36 226.8
L 531.48 245.06
L 531.69 217.25
L 531.7 231.07
L 531.72 237.54
L 531.82 243.57
L 531.95 221.69
L 532.06 221.72
L 532.08 233.83
L 532.19 212.66
L 532.37 241.29
L 532.42 225.58
L 532.44 221.18
L 532.55 234.01
L 532.72 204.46
L 532.8 215
L 532.82 214.05
L 532.91 208.55
L 533.16 228.39
L 533.18 220.34
L 533.39 226.45
L 533.42 199.06
L 533.52 220.95
L 533.53 206.92
L 533.73 225.54
L 533.86 203.22
L 533.88 205.03
L 533.89 212.84
L 533.94 222.23
L 534.22 197.39
L 534.24 210.99
L 534.25 211.23
L 534.32 199.46
L 534.53 225.11
L 534.6 214.73
L 534.61 221.86
L 534.78 202.59
L 534.83 230.28
L 534.96 224.36
L 534.97 222.27
L 535.01 211.16
L 535.32 242.14
L 535.33 232.45
L 535.41 243.63
L 535.63 218.04
L 535.68 238.97
L 535.69 220.02
L 535.89 216.55
L 535.99 248.12
L 536.03 232.03
L 536.05 244.61
L 536.2 252.93
L 536.33 226.89
L 536.39 251.01
L 536.41 243.95
L 536.48 222.89
L 536.69 253.98
L 536.75 247.88
L 536.77 250.39
L 537.02 221.01
L 537.11 227.46
L 537.13 224.95
L 537.16 241.98
L 537.42 219.5
L 537.47 230.96
L 537.49 227.47
L 537.52 232.6
L 537.55 213.37
L 537.83 215.91
L 537.85 219.59
L 538.01 204.6
L 538.09 229.14
L 538.19 218.62
L 538.21 200.61
L 538.45 232.59
L 538.55 221.9
L 538.57 214.53
L 538.58 226.13
L 538.86 195.94
L 538.91 196.72
L 538.93 202.13
L 539.11 226.12
L 539.2 199.48
L 539.27 215.78
L 539.29 207.58
L 539.37 191.94
L 539.47 222.16
L 539.63 220.23
L 539.65 212.23
L 539.83 233.99
L 539.94 203.48
L 539.99 212.06
L 540.01 216.73
L 540.04 200.53
L 540.32 234.24
L 540.35 207.41
L 540.36 225.52
L 540.54 211.81
L 540.56 238.3
L 540.71 231.32
L 540.72 227.87
L 540.77 219.05
L 540.81 235.94
L 541.07 230.43
L 541.08 239.68
L 541.33 244.32
L 541.38 218.33
L 541.43 243.21
L 541.44 223.44
L 541.46 252.04
L 541.79 249.49
L 541.8 239.84
L 541.88 247.91
L 542.11 220.72
L 542.15 247.23
L 542.16 243.37
L 542.46 225.41
L 542.51 238.89
L 542.52 241.95
L 542.69 219.2
L 542.8 249.26
L 542.86 242.8
L 542.88 238.23
L 543.03 241.48
L 543.21 220.9
L 543.22 237.53
L 543.24 227.5
L 543.4 209.99
L 543.45 237.57
L 543.58 224.33
L 543.6 215.88
L 543.73 234.56
L 543.88 208.41
L 543.96 224.41
L 543.98 219.29
L 544.2 236.84
L 544.3 203.7
L 544.32 219.99
L 544.34 213.9
L 544.4 225.27
L 544.58 204.58
L 544.68 208.41
L 544.69 220.65
L 544.78 231.73
L 544.96 201.15
L 545.04 209.61
L 545.05 199.36
L 545.15 196.35
L 545.28 227.1
L 545.4 221.02
L 545.41 204.94
L 545.5 200.87
L 545.61 228.26
L 545.76 209.11
L 545.77 225.63
L 545.89 228.17
L 545.9 205.11
L 546.12 224.44
L 546.13 229.79
L 546.3 205.56
L 546.48 231.95
L 546.49 221.43
L 546.53 214.9
L 546.7 236.52
L 546.84 227.8
L 546.85 226.8
L 547.18 217.87
L 547.19 235.38
L 547.21 229.13
L 547.36 242.71
L 547.37 218.45
L 547.55 226.11
L 547.57 230.97
L 547.8 250.95
L 547.82 217.46
L 547.91 237.19
L 547.93 223.28
L 547.96 253.72
L 548.04 222.5
L 548.27 229.17
L 548.29 244.09
L 548.37 227.91
L 548.53 256.03
L 548.63 237.85
L 548.65 249.47
L 548.7 257.57
L 548.75 225.54
L 548.99 227.43
L 549.01 233.38
L 549.07 218.86
L 549.16 257.87
L 549.35 233.12
L 549.37 229.81
L 549.4 249.23
L 549.42 223.29
L 549.71 223.55
L 549.73 237.55
L 549.91 214.68
L 549.94 242.89
L 550.07 223.03
L 550.09 220.47
L 550.15 239.23
L 550.25 210.52
L 550.43 215.19
L 550.45 227.52
L 550.61 206.14
L 550.79 214.89
L 550.81 221.14
L 550.84 228.2
L 550.99 197.93
L 551.15 210.19
L 551.17 202.87
L 551.26 227.17
L 551.51 219.28
L 551.53 218.56
L 551.62 228.71
L 551.82 200.85
L 551.87 211.72
L 551.88 220.14
L 552.06 197.65
L 552.19 228.47
L 552.23 202.39
L 552.24 220.67
L 552.28 232.81
L 552.29 201.88
L 552.59 225.13
L 552.6 221.39
L 552.88 234.77
L 552.95 218.29
L 552.96 220.4
L 553.18 215.44
L 553.27 241.72
L 553.31 238.76
L 553.32 227.8
L 553.53 250.86
L 553.65 219.74
L 553.67 239.03
L 553.68 230.44
L 553.75 252.04
L 553.91 220.78
L 554.03 247.55
L 554.04 240.27
L 554.16 250.78
L 554.38 221.62
L 554.4 244.87
L 554.42 248.95
L 554.65 215.26
L 554.74 219.33
L 554.76 230.94
L 554.86 246.94
L 554.89 222.32
L 555.12 233.68
L 555.14 222.85
L 555.36 213.91
L 555.43 242.28
L 555.48 224.11
L 555.5 226.89
L 555.58 240.22
L 555.64 218.17
L 555.84 230.24
L 555.86 217.53
L 555.97 230.71
L 556.03 206.85
L 556.2 224.75
L 556.21 220.35
L 556.28 229.47
L 556.51 205.99
L 556.56 215.88
L 556.57 226.78
L 556.62 229.26
L 556.64 201.23
L 556.92 226.76
L 556.93 231.44
L 557.06 202.36
L 557.28 215.96
L 557.29 213.49
L 557.52 201.8
L 557.57 221.85
L 557.64 203.77
L 557.65 206.15
L 557.83 226.65
L 557.86 202.82
L 558 217.09
L 558.01 211.72
L 558.18 203.54
L 558.26 235.67
L 558.36 213.8
L 558.37 216.75
L 558.44 199.33
L 558.47 232.14
L 558.71 214.96
L 558.73 221.08
L 558.83 234.86
L 558.99 215.61
L 559.07 227.99
L 559.09 228.71
L 559.17 218.81
L 559.32 249.27
L 559.43 229.29
L 559.45 237.66
L 559.58 219.32
L 559.63 241.94
L 559.79 231.68
L 559.81 243.31
L 559.87 222.72
L 559.96 253.33
L 560.15 236.3
L 560.17 250.53
L 560.38 225.52
L 560.4 252.71
L 560.51 232.07
L 560.53 237.78
L 560.56 244.98
L 560.71 218.62
L 560.87 238.13
L 560.89 233.03
L 561.03 217.53
L 561.12 247.81
L 561.23 220.26
L 561.25 230.4
L 561.31 242.56
L 561.38 214.67
L 561.59 219.4
L 561.61 233.2
L 561.87 214.83
L 561.95 227.66
L 561.97 218.92
L 561.98 233.2
L 562.26 204.91
L 562.31 223.33
L 562.33 220.79
L 562.34 226.98
L 562.55 203.62
L 562.67 225.87
L 562.69 208.69
L 562.78 223.29
L 562.91 195.06
L 563.03 215.27
L 563.04 212.55
L 563.13 221.82
L 563.31 198.91
L 563.39 216.73
L 563.4 197.33
L 563.42 195.32
L 563.75 231.11
L 563.76 220.57
L 563.85 202.55
L 564.04 228.96
L 564.11 215.58
L 564.12 229.06
L 564.2 207.75
L 564.47 225.24
L 564.48 222.95
L 564.52 207.22
L 564.83 239.29
L 564.84 224.8
L 564.89 217.44
L 565.1 239.2
L 565.19 222.62
L 565.2 230.82
L 565.33 242.06
L 565.38 221.4
L 565.54 223.07
L 565.56 225.54
L 565.59 220.94
L 565.81 244.81
L 565.9 226.73
L 565.92 249.44
L 566.05 222.48
L 566.28 234.66
L 566.3 228.3
L 566.33 244.03
L 566.54 225.22
L 566.64 237.13
L 566.66 235.79
L 566.69 219.39
L 566.85 243
L 567 241.87
L 567.02 237.24
L 567.34 219.81
L 567.36 238.76
L 567.37 229.77
L 567.57 214.11
L 567.7 233.96
L 567.72 229.83
L 567.73 214.8
L 568.03 212.27
L 568.06 231.95
L 568.08 214.89
L 568.09 195.06
L 568.11 229.13
L 568.44 210.51
L 568.45 219.14
L 568.6 196.85
L 568.78 227.22
L 568.8 209.16
L 568.81 219.84
L 568.91 228.52
L 569.03 200.6
L 569.16 203.38
L 569.17 213.31
L 569.25 223.88
L 569.47 199.55
L 569.52 208.53
L 569.53 203.51
L 569.56 195.14
L 569.83 223.07
L 569.87 217.45
L 569.89 204.99
L 569.92 230.26
L 570.23 218.33
L 570.25 223.3
L 570.3 209.88
L 570.38 227.52
L 570.59 226.32
L 570.61 223.57
L 570.64 239.25
L 570.72 208.93
L 570.95 225.1
L 570.97 224.09
L 571 216.56
L 571.02 238.45
L 571.31 235.68
L 571.33 244.71
L 571.49 220.56
L 571.53 248.36
L 571.67 247.99
L 571.69 238.58
L 571.74 249.69
L 571.88 219.55
L 572.03 239.73
L 572.05 222.57
L 572.33 222.39
L 572.36 255.25
L 572.39 246.07
L 572.41 235.84
L 572.52 226.06
L 572.62 255.28
L 572.75 236.86
L 572.77 236.3
L 572.91 245.93
L 573 219.22
L 573.11 222.91
L 573.13 237.82
L 573.18 243.09
L 573.47 214.16
L 573.49 220.99
L 573.68 213.16
L 573.73 236.16
L 573.83 215.29
L 573.85 223.56
L 574.04 209.7
L 574.11 234.51
L 574.19 219.57
L 574.2 218.26
L 574.43 207.67
L 574.53 239.39
L 574.55 219.49
L 574.56 211.98
L 574.74 227.36
L 574.76 203.49
L 574.91 208.6
L 574.92 198.26
L 574.94 229.06
L 575.1 197.25
L 575.27 225.57
L 575.28 216.25
L 575.48 197.13
L 575.59 225.13
L 575.63 218.61
L 575.64 225.86
L 575.82 204.61
L 575.92 228.33
L 575.99 222.6
L 576 212.54
L 576.05 206.42
L 576.15 233.71
L 576.35 216.51
L 576.36 205.17
L 576.56 236.29
L 576.7 223.54
L 576.72 224.3
L 576.75 219.38
L 576.95 240.13
L 577.06 229.66
L 577.08 235.13
L 577.23 244.16
L 577.36 217.92
L 577.42 226.97
L 577.44 228.21
L 577.46 252.59
L 577.69 216.95
L 577.8 237.5
L 577.82 225.96
L 578.04 253.53
L 578.14 225.18
L 578.16 240.71
L 578.18 229.4
L 578.32 256.17
L 578.37 222.09
L 578.52 231.88
L 578.53 235.73
L 578.85 226.7
L 578.88 257.22
L 578.89 238.65
L 578.93 246.84
L 579.16 218.88
L 579.24 243.96
L 579.25 241.3
L 579.27 245.78
L 579.56 216.6
L 579.6 228.09
L 579.61 211.9
L 579.68 244.81
L 579.96 231.71
L 579.97 218.65
L 580.15 233.97
L 580.3 211.28
L 580.32 219.38
L 580.33 216.68
L 580.51 202.19
L 580.58 222.61
L 580.68 205.42
L 580.69 218.79
L 580.71 197.65
L 580.9 225.82
L 581.03 220.25
L 581.05 217.29
L 581.25 197.66
L 581.35 225.8
L 581.39 212.34
L 581.41 204.25
L 581.43 200.5
L 581.54 226.02
L 581.75 222.53
L 581.77 218
L 581.84 199.02
L 581.9 228.71
L 582.11 220.37
L 582.13 207.93
L 582.29 230.55
L 582.47 223.95
L 582.49 227.52
L 582.82 219.98
L 582.83 236
L 582.85 229.57
L 582.96 224
L 583.19 254.17
L 583.21 237.13
L 583.29 218.07
L 583.47 249.84
L 583.55 241.84
L 583.57 252
L 583.6 252.78
L 583.75 222.58
L 583.91 223.48
L 583.93 242.55
L 584.06 221.72
L 584.25 255.92
L 584.27 247.31
L 584.29 243.43
L 584.3 219.53
L 584.53 244.3
L 584.63 226.1
L 584.65 248.71
L 584.7 252.07
L 584.78 216.41
L 584.99 231.44
L 585.01 239.04
L 585.19 216.66
L 585.35 225.7
L 585.37 217.7
L 585.46 234.29
L 585.71 211.04
L 585.72 213.73
L 585.94 202.84
L 585.97 237.49
L 586.07 225.79
L 586.08 218.1
L 586.31 226.98
L 586.33 204.04
L 586.43 221.7
L 586.44 201.26
L 586.53 231.53
L 586.79 198.04
L 586.8 221.05
L 587.03 198.08
L 587.11 227.11
L 587.15 200.36
L 587.16 206.82
L 587.31 203.25
L 587.49 227.95
L 587.51 221.48
L 587.52 222.61
L 587.57 201.19
L 587.87 230.57
L 587.88 216.52
L 588.03 206.75
L 588.19 234.26
L 588.22 224.45
L 588.24 214.99
L 588.32 207.83
L 588.55 238.91
L 588.58 229.72
L 588.6 222.8
L 588.65 211.72
L 588.94 242.22
L 588.96 227.68
L 588.98 237.28
L 589.19 249.96
L 589.2 219.8
L 589.32 238.01
L 589.34 225.52
L 589.58 246.89
L 589.61 220.02
L 589.68 223.4
L 589.7 250.25
L 589.84 220.06
L 590.04 241.78
L 590.05 233.92
L 590.3 223.28
L 590.37 253.73
L 590.4 246.64
L 590.41 223.1
L 590.45 253.98
L 590.56 217.48
L 590.76 249.61
L 590.77 239.32
L 590.9 244.4
L 590.94 212.01
L 591.12 233.16
L 591.13 225.52
L 591.18 240.98
L 591.41 214.12
L 591.48 219.21
L 591.49 217.81
L 591.72 213.82
L 591.8 231.14
L 591.84 213.91
L 591.85 235.59
L 592.15 209.35
L 592.2 222.33
L 592.21 219.98
L 592.28 232.49
L 592.36 198.68
L 592.55 222.49
L 592.57 203.38
L 592.6 201.06
L 592.9 224.18
L 592.91 211.56
L 592.93 206.89
L 593.01 224.39
L 593.19 200.87
L 593.27 219.1
L 593.29 215.57
L 593.42 199.02
L 593.47 233.07
L 593.63 218.8
L 593.65 211.5
L 593.67 204.57
L 593.96 229.98
L 593.99 224.79
L 594.01 216.7
L 594.14 209.31
L 594.17 227.3
L 594.35 224.18
L 594.37 225.14
L 594.5 234.68
L 594.53 218.29
L 594.71 222.58
L 594.73 230.61
L 594.91 237
L 594.99 215.97
L 595.07 225.36
L 595.09 226.68
L 595.19 217.95
L 595.2 238.31
L 595.43 225.72
L 595.45 234.77
L 595.58 221.6
L 595.59 247.82
L 595.79 242.76
L 595.81 227.35
L 595.95 252.68
L 595.97 220.13
L 596.15 237.53
L 596.17 238.91
L 596.31 249.69
L 596.41 219.55
L 596.51 232.54
L 596.53 237.96
L 596.56 220.99
L 596.84 252.34
L 596.87 237.36
L 596.88 229.96
L 596.92 224.23
L 597.08 250.93
L 597.23 233.66
L 597.24 239.84
L 597.26 242.28
L 597.54 212.06
L 597.59 229.82
L 597.6 213.75
L 597.65 237.66
L 597.95 227.5
L 597.96 212.12
L 598.21 230.27
L 598.31 224.8
L 598.32 212.72
L 598.62 199.71
L 598.67 234.45
L 598.68 219.08
L 598.7 198.42
L 598.88 225.66
L 599.03 222.38
L 599.04 203.26
L 599.25 200.31
L 599.37 221.35
L 599.38 203.57
L 599.4 213.83
L 599.5 199.11
L 599.71 224.19
L 599.74 219.36
L 599.76 208.05
L 599.81 202.83
L 599.86 227.49
L 600.12 222.1
L 600.14 214.7
L 600.2 235.12
L 600.41 209.01
L 600.48 226.54
L 600.5 211
L 600.64 232.49
L 600.84 230.61
L 600.86 224.22
L 600.92 215.76
L 601.1 239.21
L 601.2 232.29
L 601.21 234.26
L 601.36 214.24
L 601.51 244.55
L 601.56 229.88
L 601.57 230.23
L 601.61 225.43
L 601.8 247.22
L 601.92 237.55
L 601.93 242.18
L 601.97 218.33
L 602.1 248.87
L 602.28 239.61
L 602.29 230.43
L 602.46 228.08
L 602.54 248.59
L 602.64 238.46
L 602.65 236.41
L 602.67 250.09
L 603 226.67
L 603.01 238.79
L 603.03 222.88
L 603.04 243.9
L 603.36 232.65
L 603.37 237.93
L 603.44 213.31
L 603.71 217.07
L 603.73 225.21
L 603.91 228.55
L 603.94 210.12
L 604.07 215.27
L 604.09 213.05
L 604.14 223.09
L 604.29 204.42
L 604.43 209.94
L 604.45 211.94
L 604.5 196.74
L 604.68 231.81
L 604.79 219.84
L 604.81 198.13
L 605.04 224.27
L 605.15 202.07
L 605.17 220
L 605.23 202.21
L 605.4 229.64
L 605.51 210
L 605.53 200.98
L 605.86 237.42
L 605.87 203.59
L 605.89 209.4
L 605.9 207.58
L 606.17 230.15
L 606.23 223.79
L 606.25 208.58
L 606.49 232.31
L 606.59 225.11
L 606.61 220.79
L 606.77 213.47
L 606.87 238.15
L 606.95 228.21
L 606.97 223.86
L 607.05 213.18
L 607.26 247.07
L 607.31 234.97
L 607.33 233.49
L 607.42 227.14
L 607.62 250.59
L 607.67 232.64
L 607.69 229.54
L 607.73 255.97
L 607.9 224.96
L 608.03 243.23
L 608.04 231.84
L 608.09 227.17
L 608.14 257.22
L 608.39 241.86
L 608.4 243.68
L 608.44 228.08
L 608.47 254.43
L 608.75 249.42
L 608.76 228
L 608.85 221.95
L 609.06 251.36
L 609.11 226.84
L 609.12 235.32
L 609.2 240.15
L 609.3 218.7
L 609.47 220.28
L 609.48 222.24
L 609.63 235.68
L 609.76 204.6
L 609.83 229.58
L 609.84 228.8
L 609.86 234
L 609.97 203.39
L 610.19 220.25
L 610.2 214.8
L 610.35 227.75
L 610.45 205.14
L 610.54 215.27
L 610.56 203.69
L 610.64 197.9
L 610.66 224.21
L 610.9 204.23
L 610.92 201.98
L 611.1 224.73
L 611.12 198.29
L 611.26 209.11
L 611.28 203.07
L 611.31 197.65
L 611.35 226.68
L 611.64 219.42
L 611.66 223.73
L 611.69 208.75
L 611.98 228.79
L 612 216.66
L 612.02 228.82
L 612.03 207.5
L 612.13 238.06
L 612.36 219.54
L 612.37 229.13
L 612.52 246.11
L 612.6 216.1
L 612.72 226.96
L 612.73 241.63
L 612.91 221.72
L 613.03 243.37
L 613.08 223.32
L 613.09 243.59
L 613.21 249.79
L 613.32 224.62
L 613.44 238.87
L 613.45 228.29
L 613.67 250.09
L 613.76 217.97
L 613.8 233.65
L 613.81 247.75
L 613.99 219.04
L 614.16 229.16
L 614.17 243.99
L 614.29 244.51
L 614.45 217.91
L 614.52 231.16
L 614.53 240.06
L 614.58 220.58
L 614.86 243.15
L 614.87 235.28
L 614.89 224.3
L 614.94 236.32
L 615.2 216.17
L 615.23 223.43
L 615.25 233.72
L 615.58 210.91
L 615.59 224.65
L 615.61 204.26
L 615.92 199.68
L 615.94 232.4
L 615.95 217.34
L 615.97 210.34
L 616 226.89
L 616.2 199.33
L 616.31 201.47
L 616.33 212.54
L 616.36 202.84
L 616.38 221.32
L 616.67 219.97
L 616.69 204.5
L 616.79 200.61
L 617.03 224.96
L 617.05 210.95
L 617.16 203.45
L 617.39 227.53
L 617.41 227.29
L 617.49 207.67
L 617.75 234.68
L 617.77 205.81
L 617.83 201.23
L 618 231.98
L 618.11 223.36
L 618.13 217.91
L 618.42 234.99
L 618.47 231.6
L 618.49 226.3
L 618.81 218.29
L 618.83 247.5
L 618.85 227.25
L 618.89 221.39
L 619.17 248.74
L 619.19 235.41
L 619.2 243.38
L 619.22 226.78
L 619.35 251.39
L 619.55 239.09
L 619.56 225.28
L 619.61 224.62
L 619.89 250.77
L 619.91 248.17
L 619.92 221.75
L 620.01 247.62
L 620.17 218.09
L 620.27 233.19
L 620.28 232.12
L 620.48 246.4
L 620.63 222.41
L 620.64 237.93
L 620.76 238.7
L 620.89 209.97
L 620.99 225.72
L 621 231.59
L 621.1 240.94
L 621.3 214.34
L 621.35 231.02
L 621.36 222.47
L 621.67 235.48
L 621.69 202.58
L 621.7 220.89
L 621.72 230.09
L 621.95 211.19
L 622 232.06
L 622.06 212.49
L 622.08 218.13
L 622.16 228.78
L 622.21 207.63
L 622.42 214.04
L 622.44 217.45
L 622.51 225.51
L 622.52 212.33
L 622.64 218.9
" clip-path="url(#p700bc494e0)" style="fill: none; stroke: #1f77b4; stroke-width: 1.9; stroke-linecap: square"/>
   </g>
  </g>
  <g id="axes_3">
   <g id="patch_4">
    <path d="M 90.00 373.68 L 648.00 373.68 L 648.00 288.72 L 90.00 288.72 z" style="fill: #ffffff"/>
   </g>
   <g id="matplotlib.axis_5">
    <g id="xtick_19">
     <g id="xt2_1" transform="translate(-0.56 0.89)">
      <text style="font-size: 10px; font-family: 'DejaVu Sans', sans-serif" transform="translate(122.11 399.71) rotate(-30)">2020</text>
     </g>
    </g>
    <g id="xtick_20">
     <g id="xt2_2" transform="translate(-0.57 0.84)">
      <text style="font-size: 10px; font-family: 'DejaVu Sans', sans-serif" transform="translate(181.8 399.71) rotate(-30)">2030</text>
     </g>
    </g>
    <g id="xtick_21">
     <g id="xt2_3" transform="translate(-0.44 0.82)">
      <text style="font-size: 10px; font-family: 'DejaVu Sans', sans-serif" transform="translate(241.48 399.71) rotate(-30)">2040</text>
     </g>
    </g>
    <g id="xtick_22">
     <g id="xt2_4" transform="translate(-0.34 0.83)">
      <text style="font-size: 10px; font-family: 'DejaVu Sans', sans-serif" transform="translate(301.16 399.71) rotate(-30)">2050</text>
     </g>
    </g>
    <g id="xtick_23">
     <g id="xt2_5" transform="translate(-0.40 0.82)">
      <text style="font-size: 10px; font-family: 'DejaVu Sans', sans-serif" transform="translate(360.84 399.71) rotate(-30)">2060</text>
     </g>
    </g>
    <g id="xtick_24">
     <g id="xt2_6" transform="translate(-0.34 0.83)">
      <text style="font-size: 10px; font-family: 'DejaVu Sans', sans-serif" transform="translate(420.53 399.71) rotate(-30)">2070</text>
     </g>
    </g>
    <g id="xtick_25">
     <g id="xt2_7" transform="translate(-0.24 0.84)">
      <text style="font-size: 10px; font-family: 'DejaVu Sans', sans-serif" transform="translate(480.2 399.71) rotate(-30)">2080</text>
     </g>
    </g>
    <g id="xtick_26">
     <g id="xt2_8" transform="translate(-0.19 0.84)">
      <text style="font-size: 10px; font-family: 'DejaVu Sans', sans-serif" transform="translate(539.89 399.71) rotate(-30)">2090</text>
     </g>
    </g>
    <g id="xtick_27">
     <g id="xt2_9" transform="translate(-0.07 0.81)">
      <text style="font-size: 10px; font-family: 'DejaVu Sans', sans-serif" transform="translate(599.56 399.71) rotate(-30)">2100</text>
     </g>
    </g>
   </g>
   <g id="matplotlib.axis_6">
    <g id="ytick_9">
     <g id="yt2_1" transform="translate(0.35 -0.10)">
      <text style="font-size: 10px; font-family: 'DejaVu Sans', sans-serif; text-anchor: end" x="83" y="369.27" transform="rotate(-0 83 369.27)">295</text>
     </g>
    </g>
    <g id="ytick_10">
     <g id="yt2_2" transform="translate(0.28 -0.01)">
      <text style="font-size: 10px; font-family: 'DejaVu Sans', sans-serif; text-anchor: end" x="83" y="341.73" transform="rotate(-0 83 341.73)">300</text>
     </g>
    </g>
    <g id="ytick_11">
     <g id="yt2_3" transform="translate(0.19 -0.35)">
      <text style="font-size: 10px; font-family: 'DejaVu Sans', sans-serif; text-anchor: end" x="83" y="314.19" transform="rotate(-0 83 314.19)">305</text>
     </g>
    </g>
    <g id="yl2" transform="translate(-1.25 1.09)">
     <text style="font-size: 10px; font-family: 'DejaVu Sans', sans-serif; text-anchor: middle" x="57.83" y="331.2" transform="rotate(-90 57.83 331.2)">fieldmax</text>
    </g>
   </g>
   <g id="line2d_41">
    <path d="M 115.36 308.5
L 115.43 323.61
L 115.45 303.06
L 115.56 313.85
L 115.58 328.01
L 115.72 346.38
L 115.89 303.06
L 115.92 334.26
L 115.94 341.78
L 116.15 308.59
L 116.25 349.22
L 116.28 310.46
L 116.3 341.5
L 116.41 314.52
L 116.43 352.04
L 116.64 329.61
L 116.65 324.47
L 116.69 321.04
L 116.75 354.45
L 117 332.96
L 117.01 335.22
L 117.1 334.99
L 117.11 356.01
L 117.36 352.71
L 117.37 343.06
L 117.52 341.78
L 117.55 360.41
L 117.72 349.49
L 117.73 349.71
L 117.81 349.08
L 117.99 362.76
L 118.08 360.79
L 118.09 359.73
L 118.11 348.84
L 118.21 365.78
L 118.44 359.57
L 118.45 353.54
L 118.58 366.52
L 118.73 346.5
L 118.8 357.83
L 118.81 361.03
L 119.15 343.03
L 119.17 347.86
L 119.32 357.55
L 119.51 337.8
L 119.53 343.91
L 119.61 353.53
L 119.87 326.93
L 119.89 332.55
L 119.94 352.56
L 120.23 318.3
L 120.25 328.47
L 120.36 346.64
L 120.59 309.57
L 120.61 315.83
L 120.8 308.63
L 120.95 342.25
L 120.97 341.38
L 121.05 310.06
L 121.26 346.66
L 121.31 318.38
L 121.33 330.78
L 121.34 346.57
L 121.47 313.09
L 121.67 326.27
L 121.69 351.33
L 121.7 321.6
L 122.03 339.86
L 122.05 336.54
L 122.32 333.34
L 122.39 354.61
L 122.41 344.86
L 122.44 335.07
L 122.59 356.29
L 122.75 355.2
L 122.77 349.84
L 122.83 345.62
L 122.98 362.45
L 123.11 348.67
L 123.13 347.61
L 123.3 362.56
L 123.47 357.58
L 123.48 351.13
L 123.76 367.81
L 123.81 347.43
L 123.83 358.57
L 123.84 358.21
L 124.02 351.11
L 124.15 365.61
L 124.19 362.24
L 124.2 363.27
L 124.5 366.2
L 124.51 352.76
L 124.55 355.94
L 124.56 354.84
L 124.66 363.84
L 124.78 351.04
L 124.91 356.06
L 124.92 358.24
L 125.07 343.53
L 125.23 367.8
L 125.27 346.46
L 125.28 350.17
L 125.31 365.83
L 125.46 341.4
L 125.63 350.52
L 125.64 349.91
L 125.77 359.7
L 125.94 342.67
L 125.98 345.13
L 126 349.17
L 126.12 359.59
L 126.31 333.95
L 126.34 349.74
L 126.36 350.34
L 126.67 322.69
L 126.7 355.12
L 126.72 325.92
L 126.74 317.43
L 126.88 351.59
L 127.08 339.67
L 127.1 341.06
L 127.24 346.9
L 127.41 308.36
L 127.44 315.44
L 127.46 336.64
L 127.59 340.89
L 127.67 307.65
L 127.8 314.03
L 127.81 328.7
L 127.9 302.15
L 128.13 340.53
L 128.16 321.27
L 128.17 305.79
L 128.21 305.67
L 128.29 343.28
L 128.52 321.86
L 128.53 329.44
L 128.76 351.49
L 128.78 315
L 128.88 327.05
L 128.89 329.86
L 129.04 329.27
L 129.14 354.31
L 129.24 336.19
L 129.25 350.66
L 129.38 337.83
L 129.58 357.56
L 129.6 347.32
L 129.61 354.38
L 129.63 344.29
L 129.82 356.01
L 129.96 354.17
L 129.97 356.69
L 130.15 347.95
L 130.25 362.53
L 130.31 357.05
L 130.33 355.9
L 130.43 345.53
L 130.46 364.29
L 130.67 353.58
L 130.69 356.43
L 130.9 347.97
L 131.02 365.34
L 131.03 361.62
L 131.05 354.2
L 131.36 348.78
L 131.39 365.87
L 131.41 349.57
L 131.61 337.52
L 131.65 365.58
L 131.75 347.69
L 131.77 352.16
L 131.8 358.2
L 132.11 335.35
L 132.13 352.45
L 132.42 352.93
L 132.46 323.95
L 132.47 328.53
L 132.49 329.75
L 132.5 348.98
L 132.72 320.12
L 132.83 340.54
L 132.85 323.41
L 133.03 347.23
L 133.11 318
L 133.19 334.9
L 133.21 342.76
L 133.3 316.93
L 133.55 343.86
L 133.57 331.32
L 133.62 315.11
L 133.71 346.05
L 133.91 343.26
L 133.93 327.36
L 134.04 323.71
L 134.2 350.26
L 134.27 344.18
L 134.29 347.31
L 134.3 333.69
L 134.48 350.98
L 134.63 342.61
L 134.64 347.46
L 134.86 334.21
L 134.96 357.48
L 134.99 338.61
L 135 351.97
L 135.09 343.63
L 135.35 360.49
L 135.36 358.74
L 135.4 362.79
L 135.61 348.34
L 135.71 354.83
L 135.72 354.58
L 135.85 348.16
L 136.03 365.87
L 136.07 358.94
L 136.08 353.51
L 136.13 363.61
L 136.23 345.88
L 136.43 349.61
L 136.44 360.18
L 136.52 364.39
L 136.65 347.72
L 136.79 354.4
L 136.8 363.71
L 136.87 348.49
L 137.14 356.82
L 137.16 356.7
L 137.23 361.38
L 137.49 344.02
L 137.5 351.7
L 137.52 338.42
L 137.75 358.18
L 137.8 332.44
L 137.86 337.73
L 137.88 332.97
L 137.99 352.96
L 138.08 325.1
L 138.24 326.85
L 138.26 352.42
L 138.44 313.81
L 138.6 333.77
L 138.62 330.57
L 138.8 309.33
L 138.86 345.14
L 138.96 316.19
L 138.97 306.37
L 139.11 305.65
L 139.22 345.25
L 139.32 312.67
L 139.33 328.12
L 139.4 342.9
L 139.42 307.13
L 139.68 313.16
L 139.69 323.79
L 139.82 316.7
L 139.99 351.13
L 140.04 342.02
L 140.05 323.11
L 140.13 322.22
L 140.2 352.51
L 140.4 346.3
L 140.41 333.25
L 140.43 331.3
L 140.67 355.02
L 140.76 349.36
L 140.77 347.32
L 140.87 340.99
L 140.97 356.77
L 141.12 353.25
L 141.13 354.58
L 141.3 355.94
L 141.47 343.18
L 141.49 341.84
L 141.54 365.22
L 141.79 339.76
L 141.83 350.01
L 141.85 347.28
L 141.92 364.36
L 141.98 343.22
L 142.19 347.92
L 142.21 354.19
L 142.23 363.58
L 142.32 346.14
L 142.55 356.19
L 142.57 352.4
L 142.65 343.52
L 142.7 364.13
L 142.91 350.55
L 142.93 357.97
L 143.09 348.77
L 143.13 361.55
L 143.27 358.08
L 143.29 356.24
L 143.45 344.78
L 143.47 359.59
L 143.63 349.58
L 143.65 352.74
L 143.86 338.07
L 143.94 355.09
L 143.99 345.88
L 144.01 351.84
L 144.11 352.93
L 144.12 337.63
L 144.35 337.92
L 144.37 332.06
L 144.48 351.74
L 144.63 319.84
L 144.71 331.85
L 144.73 322.55
L 144.84 346.95
L 145.02 320.16
L 145.07 336.95
L 145.09 320.06
L 145.15 345.67
L 145.36 308.63
L 145.43 326.73
L 145.45 316.71
L 145.56 310.35
L 145.79 341.54
L 145.8 332.09
L 145.85 310.99
L 146 346.63
L 146.15 344.1
L 146.16 322.42
L 146.21 320.17
L 146.39 347.76
L 146.51 328.81
L 146.52 344.45
L 146.56 321.96
L 146.82 350.71
L 146.87 347.07
L 146.88 339.65
L 146.92 335.65
L 147.19 359.6
L 147.23 336.08
L 147.24 346
L 147.36 339.25
L 147.59 359.76
L 147.6 346.71
L 147.67 358.15
L 147.95 355.32
L 147.96 354.3
L 147.98 364.56
L 148.26 344.77
L 148.3 350.42
L 148.32 354.28
L 148.44 343.73
L 148.55 364.57
L 148.66 353.71
L 148.68 354.45
L 148.75 362.82
L 148.89 349.35
L 149.02 354.2
L 149.04 351.99
L 149.06 345.69
L 149.38 361.68
L 149.4 353.17
L 149.42 357.81
L 149.76 341.07
L 149.78 352.89
L 149.89 355.76
L 150.09 326.25
L 150.12 338.91
L 150.13 331.39
L 150.22 322.91
L 150.35 351.17
L 150.48 343.16
L 150.49 325.2
L 150.56 315.68
L 150.76 348.01
L 150.84 328.12
L 150.85 328.76
L 150.92 308.03
L 151.05 343.97
L 151.2 314
L 151.21 329.11
L 151.34 305.41
L 151.36 343.47
L 151.56 318.82
L 151.57 305.13
L 151.88 347.59
L 151.92 314.11
L 151.93 322.44
L 152.05 349.71
L 152.1 318.7
L 152.28 337.12
L 152.29 335.64
L 152.36 321.83
L 152.62 351.28
L 152.63 341.5
L 152.65 341.11
L 152.8 357.41
L 152.96 336.85
L 152.99 354.22
L 153.01 350.09
L 153.09 336.09
L 153.19 361.42
L 153.35 342.57
L 153.37 342.54
L 153.55 356.47
L 153.58 340.05
L 153.71 350.32
L 153.73 357.49
L 153.93 366.52
L 154.04 341.98
L 154.07 359.63
L 154.09 359.29
L 154.15 348.31
L 154.17 361.75
L 154.43 349.33
L 154.45 354.98
L 154.56 364.3
L 154.78 344.66
L 154.79 357.73
L 154.81 351.11
L 154.89 362.03
L 154.97 348.02
L 155.15 349.16
L 155.17 358.54
L 155.35 364.06
L 155.4 346.18
L 155.51 352.22
L 155.53 350.21
L 155.56 362.66
L 155.8 333.41
L 155.87 354.86
L 155.89 340.27
L 156.12 326.78
L 156.13 352.98
L 156.23 335.07
L 156.25 354.97
L 156.49 320.13
L 156.59 350.3
L 156.61 317.7
L 156.7 310.5
L 156.8 345.24
L 156.95 335.37
L 156.97 347.86
L 157.26 303.83
L 157.31 341.64
L 157.32 330.63
L 157.36 347.88
L 157.5 305.64
L 157.67 335.13
L 157.68 319.24
L 157.72 309.01
L 157.99 350.07
L 158.03 342.38
L 158.04 347.77
L 158.11 316.27
L 158.27 349.9
L 158.39 348.52
L 158.4 333.92
L 158.52 329.77
L 158.66 357.09
L 158.75 341.97
L 158.76 343.58
L 158.88 337.88
L 159.01 360.76
L 159.11 348.84
L 159.12 350.65
L 159.15 362.31
L 159.42 348.12
L 159.47 358.69
L 159.48 367.09
L 159.66 349.19
L 159.82 357.86
L 159.84 355.16
L 159.87 366.2
L 160.12 345.33
L 160.18 353.07
L 160.2 353.41
L 160.4 350.79
L 160.53 369.11
L 160.56 357.21
L 160.58 351.01
L 160.67 368.34
L 160.74 348.89
L 160.92 358.32
L 160.94 360.66
L 161.08 351.73
L 161.23 367
L 161.28 362.15
L 161.3 352.04
L 161.38 343.33
L 161.57 367.93
L 161.64 349.52
L 161.65 343.91
L 161.9 361.74
L 161.98 331.87
L 162 335.42
L 162.01 340.19
L 162.11 355.92
L 162.36 317.05
L 162.37 337.07
L 162.49 354.65
L 162.54 313.16
L 162.72 332.77
L 162.73 339.57
L 162.86 348.56
L 163.08 303.06
L 163.09 307.7
L 163.29 306.29
L 163.42 349.6
L 163.44 340.82
L 163.45 312.3
L 163.71 351.01
L 163.73 311.42
L 163.8 349.13
L 163.81 326.55
L 163.84 310.23
L 163.91 350.54
L 164.15 325.61
L 164.17 343.83
L 164.24 323.56
L 164.51 353.27
L 164.53 334.11
L 164.84 359.08
L 164.87 355.65
L 164.89 350.55
L 164.91 339.97
L 165.22 358.97
L 165.23 347.77
L 165.25 359.18
L 165.35 345.29
L 165.54 363.99
L 165.59 360.71
L 165.61 350.61
L 165.71 346.58
L 165.76 362.31
L 165.95 350.65
L 165.97 365.78
L 165.98 344.89
L 166.31 350.13
L 166.33 352.6
L 166.49 361.91
L 166.54 346.07
L 166.67 360.03
L 166.69 357.57
L 166.83 344.3
L 167.03 361.03
L 167.05 352.7
L 167.26 357.2
L 167.36 343.12
L 167.39 347.73
L 167.41 343.16
L 167.62 366.52
L 167.64 337.2
L 167.75 349.76
L 167.77 356.8
L 168.04 342.35
L 168.11 344.52
L 168.13 347.26
L 168.17 350.62
L 168.47 334.04
L 168.48 345.26
L 168.7 350.43
L 168.71 322.98
L 168.83 345.74
L 168.84 325.32
L 169.12 313.05
L 169.15 346.63
L 169.19 317.34
L 169.2 322.9
L 169.42 310.86
L 169.48 344.44
L 169.55 325.88
L 169.56 321.86
L 169.84 344.46
L 169.87 309.44
L 169.91 343.03
L 169.92 314.9
L 169.94 342.82
L 169.97 307.72
L 170.27 336.54
L 170.28 330
L 170.4 318.25
L 170.61 351.16
L 170.63 332.95
L 170.64 341.99
L 170.74 324.97
L 170.85 350.25
L 170.98 344.84
L 171 338.38
L 171.08 354.94
L 171.13 334.8
L 171.34 346.63
L 171.36 349.15
L 171.54 358.04
L 171.59 343.46
L 171.7 356.32
L 171.72 351
L 171.77 342.13
L 171.92 357.52
L 172.08 355.93
L 172.1 349.4
L 172.24 363.7
L 172.32 347.41
L 172.44 354.36
L 172.46 362.48
L 172.5 350.3
L 172.8 356.53
L 172.81 352.83
L 172.86 346.1
L 172.91 363.92
L 173.16 354.27
L 173.17 356.58
L 173.21 360.14
L 173.52 341.29
L 173.53 336.61
L 173.86 356.79
L 173.88 340.33
L 173.89 335.33
L 173.94 357.48
L 174.09 331.32
L 174.24 331.66
L 174.25 349.09
L 174.29 349.94
L 174.55 319.46
L 174.6 324.68
L 174.61 315.7
L 174.63 349.24
L 174.79 312.57
L 174.96 334.29
L 174.97 330.9
L 175.09 340.16
L 175.28 309.06
L 175.31 309.06
L 175.33 328.15
L 175.4 342.19
L 175.63 306.94
L 175.67 327.08
L 175.69 313.43
L 175.74 310.59
L 175.77 345.3
L 176.03 321.46
L 176.05 323.94
L 176.15 344.14
L 176.2 317.51
L 176.39 338.37
L 176.41 329.32
L 176.54 326.76
L 176.7 354.14
L 176.75 333.53
L 176.77 347.03
L 176.8 333.33
L 176.9 357.73
L 177.11 351.96
L 177.13 348.62
L 177.16 337.47
L 177.21 359.37
L 177.47 349
L 177.49 345.92
L 177.62 343.77
L 177.75 355.45
L 177.83 348.12
L 177.85 350.9
L 177.96 341.96
L 178.14 357.35
L 178.19 349.24
L 178.21 348.41
L 178.3 363.92
L 178.53 338.62
L 178.55 349.8
L 178.57 349.26
L 178.75 343.21
L 178.91 358.53
L 178.93 350.08
L 178.99 357.33
L 179.25 343.59
L 179.27 353.2
L 179.29 355.55
L 179.3 355.74
L 179.56 339.34
L 179.63 342.24
L 179.64 348.76
L 179.74 337.75
L 179.86 354.36
L 179.99 339.88
L 180 337.09
L 180.3 319.89
L 180.31 350.76
L 180.35 327.35
L 180.36 340.2
L 180.48 349.49
L 180.56 313.23
L 180.71 343.68
L 180.72 339.43
L 180.92 308.61
L 180.97 344.97
L 181.07 310.56
L 181.08 335.85
L 181.12 341.86
L 181.3 304.74
L 181.43 315.75
L 181.44 336.85
L 181.59 310.09
L 181.69 340.72
L 181.79 321.92
L 181.8 321.85
L 181.88 313.98
L 181.95 347.39
L 182.14 330.57
L 182.16 349.29
L 182.26 318.54
L 182.36 351.13
L 182.5 333.3
L 182.52 334.36
L 182.65 329.7
L 182.72 354.44
L 182.86 346.37
L 182.88 352.59
L 183.03 342.88
L 183.21 357.32
L 183.24 346.2
L 183.26 355.02
L 183.47 362.87
L 183.55 347.24
L 183.6 355.28
L 183.62 353.88
L 183.88 362.44
L 183.96 345.38
L 183.97 361.5
L 184.15 362.33
L 184.25 347.9
L 184.32 351.88
L 184.33 360.22
L 184.42 361.66
L 184.48 343.54
L 184.68 353.72
L 184.69 355.46
L 184.82 363.92
L 184.97 337.96
L 185.04 345.69
L 185.05 354.45
L 185.22 335.57
L 185.25 356.26
L 185.4 350.15
L 185.41 345.35
L 185.45 328.21
L 185.76 350.14
L 185.77 342.68
L 186 320.27
L 186.1 346.58
L 186.12 338.4
L 186.13 346.82
L 186.21 347.15
L 186.41 306.08
L 186.47 326.73
L 186.49 306.71
L 186.52 303.81
L 186.59 340.67
L 186.83 334.44
L 186.85 314.63
L 187.08 339.8
L 187.14 300.18
L 187.19 309.4
L 187.21 299.45
L 187.28 298.91
L 187.39 340.98
L 187.55 323.23
L 187.57 331.18
L 187.7 304.68
L 187.85 344.21
L 187.91 318.4
L 187.93 319.58
L 188.04 350.44
L 188.06 319.5
L 188.27 330.44
L 188.29 326.42
L 188.32 324.05
L 188.52 348.6
L 188.63 348.44
L 188.65 340.65
L 188.73 355.46
L 188.99 340.43
L 189.01 342.86
L 189.25 342.46
L 189.27 360.2
L 189.35 350.98
L 189.37 352.51
L 189.55 347.27
L 189.71 363.92
L 189.73 349.28
L 189.79 344.97
L 189.82 363.65
L 190.07 351.43
L 190.09 355.49
L 190.14 345.73
L 190.43 360.39
L 190.45 358.42
L 190.51 361.63
L 190.76 339.92
L 190.79 355.12
L 190.81 363.58
L 190.95 340.61
L 191.15 346.91
L 191.16 346.04
L 191.21 355.08
L 191.47 335.09
L 191.51 346.43
L 191.52 348.25
L 191.57 353.68
L 191.87 333.01
L 191.88 340.04
L 191.95 350.96
L 192.23 322.3
L 192.24 335.39
L 192.28 348.25
L 192.52 322.34
L 192.59 329.12
L 192.6 321.33
L 192.67 344.55
L 192.91 315.7
L 192.95 320.14
L 192.96 343.74
L 193.09 315.11
L 193.31 318.55
L 193.32 332.29
L 193.34 316.18
L 193.6 347.64
L 193.66 343.14
L 193.68 329.91
L 193.81 324.91
L 193.99 348.71
L 194.02 348.67
L 194.04 335.02
L 194.14 327.51
L 194.38 349.9
L 194.4 340.4
L 194.42 342.8
L 194.53 336.23
L 194.63 358.77
L 194.76 356.86
L 194.78 348.71
L 194.91 342.73
L 195.07 358.91
L 195.12 355.7
L 195.14 351.51
L 195.2 344.97
L 195.25 360.31
L 195.48 351.83
L 195.49 355.27
L 195.61 344.47
L 195.82 361.57
L 195.84 356.93
L 195.85 351.86
L 196.16 365.46
L 196.18 349.05
L 196.2 352.93
L 196.21 357.56
L 196.39 365.87
L 196.46 347.06
L 196.56 357.34
L 196.57 361.39
L 196.62 361.86
L 196.87 342.73
L 196.92 347.65
L 196.93 352.5
L 196.95 358.47
L 197.24 338.96
L 197.28 341.34
L 197.29 332.66
L 197.36 355.59
L 197.46 328.67
L 197.64 338.18
L 197.65 348.68
L 197.7 357.74
L 197.77 318.24
L 197.99 339.01
L 198.01 349.61
L 198.24 307.48
L 198.35 345.09
L 198.37 314.17
L 198.42 341.8
L 198.68 304.35
L 198.71 330.91
L 198.73 323.08
L 198.75 311.54
L 198.91 345.93
L 199.07 317.11
L 199.09 311.14
L 199.29 343.25
L 199.3 311.06
L 199.43 337.64
L 199.45 333.61
L 199.47 317.22
L 199.76 343.86
L 199.79 335.8
L 199.81 332.52
L 200 329.4
L 200.12 355.67
L 200.15 338.38
L 200.17 345.44
L 200.31 357.89
L 200.35 338.49
L 200.51 349.24
L 200.53 347.17
L 200.61 360.61
L 200.79 342.93
L 200.87 345.34
L 200.89 357.37
L 200.97 361.51
L 201.2 347.15
L 201.23 358.97
L 201.25 354.68
L 201.33 360.5
L 201.43 344.42
L 201.59 346.37
L 201.61 360.56
L 201.62 365.73
L 201.74 344.46
L 201.95 361.76
L 201.97 350.43
L 202.08 349.04
L 202.29 364.65
L 202.31 361.73
L 202.32 359.72
L 202.55 349.51
L 202.59 364.19
L 202.67 356.32
L 202.68 350.57
L 202.81 365.87
L 203.03 357.72
L 203.04 357.13
L 203.26 365.26
L 203.34 345.78
L 203.39 355.09
L 203.4 346.12
L 203.6 359.84
L 203.68 338.93
L 203.75 357.45
L 203.76 353.71
L 203.83 354.23
L 204.06 332.77
L 204.11 346.02
L 204.12 332.67
L 204.32 347.43
L 204.45 322.13
L 204.47 340.58
L 204.48 335
L 204.58 320.54
L 204.61 349.19
L 204.82 339.02
L 204.84 331.62
L 204.91 313.95
L 204.97 344.46
L 205.18 328.42
L 205.2 318.55
L 205.3 311.87
L 205.51 345.93
L 205.56 320.59
L 205.58 345.89
L 205.64 318.59
L 205.84 348.91
L 205.92 320.07
L 205.94 346.62
L 206.1 349.96
L 206.15 327.2
L 206.28 335.79
L 206.3 348
L 206.43 332.3
L 206.59 354.93
L 206.64 343.39
L 206.65 354.08
L 206.69 341.88
L 206.82 359.14
L 207 346.49
L 207.01 361.48
L 207.16 345.64
L 207.36 353.61
L 207.37 347.41
L 207.62 363.57
L 207.7 346.76
L 207.72 354.45
L 207.73 352.25
L 207.85 363.2
L 207.99 349.38
L 208.08 360.3
L 208.09 352.1
L 208.17 343.27
L 208.4 365.22
L 208.44 346.26
L 208.45 359.91
L 208.73 361.98
L 208.76 345.43
L 208.8 353.09
L 208.81 345.58
L 208.94 360.99
L 209.09 342.97
L 209.15 345.07
L 209.17 362.25
L 209.43 338.02
L 209.51 342.48
L 209.53 345.7
L 209.69 332
L 209.76 355.43
L 209.87 352.84
L 209.89 340.94
L 210.18 347.87
L 210.23 323.9
L 210.25 328.7
L 210.38 347.69
L 210.49 318.29
L 210.59 337.12
L 210.61 325.76
L 210.69 345
L 210.94 313.02
L 210.95 313.93
L 210.97 329.27
L 211.1 308.24
L 211.28 340.99
L 211.31 332.53
L 211.33 319.25
L 211.59 312.48
L 211.62 344.46
L 211.67 334.28
L 211.69 314.28
L 211.8 347.36
L 212.03 336.83
L 212.05 329.09
L 212.16 326.02
L 212.37 352.7
L 212.39 347.12
L 212.41 337.37
L 212.44 328.46
L 212.68 353.87
L 212.75 340.38
L 212.77 351.18
L 212.98 338.31
L 213.01 357.92
L 213.11 348.67
L 213.13 352.92
L 213.21 344.66
L 213.34 356.48
L 213.47 351.36
L 213.48 345.77
L 213.58 361.6
L 213.65 343.8
L 213.83 351.93
L 213.84 353.79
L 214.01 357.51
L 214.19 345.62
L 214.2 350.8
L 214.22 343.37
L 214.24 361.98
L 214.55 348.49
L 214.56 341.09
L 214.61 359.52
L 214.71 337.74
L 214.91 354.35
L 214.92 349.49
L 215.04 342.12
L 215.27 359.1
L 215.28 343.96
L 215.4 341.58
L 215.51 352.21
L 215.63 344.35
L 215.64 350.66
L 215.67 353.94
L 215.76 332.91
L 215.98 338.54
L 216 335.75
L 216.1 350.73
L 216.34 325.82
L 216.36 322.96
L 216.48 342.84
L 216.67 315.24
L 216.7 322.65
L 216.72 322.1
L 216.75 344.44
L 216.83 313.74
L 217.08 342.01
L 217.1 316.82
L 217.34 343.72
L 217.36 311.87
L 217.44 312.09
L 217.46 323.7
L 217.5 312.12
L 217.72 345.6
L 217.8 317.32
L 217.81 337.84
L 217.91 321.06
L 218.04 347.44
L 218.16 331.71
L 218.17 326.62
L 218.4 349.01
L 218.52 340.69
L 218.53 338.53
L 218.6 353.53
L 218.84 336.48
L 218.88 347.7
L 218.89 362.29
L 219.12 338.73
L 219.24 358.64
L 219.25 348.29
L 219.37 344.63
L 219.6 360.02
L 219.61 359.07
L 219.69 361.99
L 219.73 345.51
L 219.96 353.08
L 219.97 347.11
L 220.07 359.89
L 220.27 341.85
L 220.31 349.59
L 220.33 347.18
L 220.41 364.57
L 220.59 344.12
L 220.67 346.46
L 220.69 351.84
L 220.74 353.65
L 220.85 343.07
L 221.03 350.31
L 221.05 340.55
L 221.31 355.33
L 221.33 336.66
L 221.39 346.48
L 221.41 342.21
L 221.46 326.18
L 221.59 355.78
L 221.75 345.26
L 221.77 324.69
L 221.93 345.33
L 222.1 313.17
L 222.11 317.06
L 222.13 330.65
L 222.26 345.7
L 222.46 304.09
L 222.47 343.41
L 222.49 331
L 222.54 343.51
L 222.68 305.04
L 222.83 327.78
L 222.85 327.26
L 222.86 305.96
L 223.03 341.98
L 223.19 333.7
L 223.21 336.27
L 223.26 309.47
L 223.42 345.86
L 223.55 337.57
L 223.57 333.23
L 223.63 317.41
L 223.86 351.77
L 223.91 332.02
L 223.93 325.84
L 224.19 352.55
L 224.27 343.59
L 224.29 337.71
L 224.53 356.79
L 224.63 349.45
L 224.65 346.22
L 224.82 339.27
L 224.86 359.98
L 224.99 357.17
L 225 356.55
L 225.09 361.4
L 225.35 347.88
L 225.36 359.43
L 225.67 363.79
L 225.71 346.88
L 225.72 360.95
L 225.82 349.38
L 225.84 362.52
L 226.07 352.4
L 226.08 352.72
L 226.16 343.36
L 226.26 363.92
L 226.43 357.46
L 226.44 353.44
L 226.64 362.26
L 226.79 342.18
L 226.8 346.54
L 227 355.97
L 227.06 337.9
L 227.15 344.61
L 227.16 344.1
L 227.42 327.53
L 227.46 350.66
L 227.5 328.94
L 227.52 330.07
L 227.64 351.83
L 227.72 325.21
L 227.86 332.35
L 227.88 329.95
L 227.93 319.34
L 228.17 347.02
L 228.24 341.6
L 228.26 346.29
L 228.6 301.87
L 228.62 340.22
L 228.8 298.65
L 228.96 336.26
L 228.98 336.52
L 229.22 345.32
L 229.24 303.4
L 229.32 342.41
L 229.33 341.85
L 229.37 305.35
L 229.68 347.35
L 229.69 335.94
L 229.81 314.17
L 229.94 350.67
L 230.04 333.96
L 230.05 326.63
L 230.15 325.84
L 230.2 352.97
L 230.4 344.81
L 230.41 341.15
L 230.43 334.53
L 230.61 353.39
L 230.76 346.14
L 230.77 346.42
L 230.79 341.98
L 230.82 358.99
L 231.12 350.43
L 231.13 358.71
L 231.38 346.98
L 231.39 360.97
L 231.48 353.29
L 231.49 359.82
L 231.52 361.52
L 231.69 348.52
L 231.83 355.07
L 231.85 356.04
L 231.98 362.17
L 232.06 343.12
L 232.19 352.85
L 232.21 362.63
L 232.37 342.38
L 232.55 355.18
L 232.57 357.64
L 232.83 341.96
L 232.9 361.23
L 232.91 343.12
L 232.93 353.59
L 232.99 355.07
L 233.24 339.27
L 233.27 351.59
L 233.29 346.52
L 233.48 353.46
L 233.62 332.63
L 233.63 335
L 233.65 338.84
L 233.71 346.02
L 233.94 324.02
L 233.99 328.31
L 234.01 338.13
L 234.09 345.69
L 234.19 316.42
L 234.35 341.95
L 234.37 344.36
L 234.68 310.76
L 234.71 337.9
L 234.73 328.69
L 234.82 341.41
L 234.96 307.92
L 235.07 308.05
L 235.09 309.93
L 235.18 307.72
L 235.4 343.43
L 235.43 342.96
L 235.45 343.24
L 235.61 313.57
L 235.77 347.21
L 235.79 328.32
L 235.81 322.03
L 235.82 320.03
L 236.12 348.27
L 236.15 335.48
L 236.16 349.09
L 236.21 330.54
L 236.49 358.97
L 236.51 342.36
L 236.52 346.57
L 236.56 338.24
L 236.64 358.54
L 236.87 345.78
L 236.88 356.15
L 236.9 340.74
L 237.16 361.15
L 237.23 358.34
L 237.24 352.67
L 237.32 362.68
L 237.49 348.95
L 237.59 361.97
L 237.6 352.59
L 237.64 361.33
L 237.86 345.51
L 237.95 348.81
L 237.96 351.78
L 238.04 362.34
L 238.16 346.82
L 238.31 348.31
L 238.32 349.88
L 238.44 363.28
L 238.63 345.49
L 238.66 349.79
L 238.68 348.83
L 238.78 358.82
L 238.94 338.59
L 239.02 342.81
L 239.04 349.01
L 239.29 332.6
L 239.3 355.13
L 239.4 340.43
L 239.42 333.84
L 239.56 321.4
L 239.6 348.26
L 239.76 331.26
L 239.78 337.12
L 239.91 313.26
L 240.05 344.55
L 240.12 328.91
L 240.14 334.67
L 240.33 306.77
L 240.4 339.61
L 240.48 307.72
L 240.49 339.94
L 240.59 340.38
L 240.67 304.09
L 240.84 307.49
L 240.85 320.77
L 240.97 342.15
L 241.13 306.5
L 241.2 309.43
L 241.21 338.5
L 241.31 310.72
L 241.41 346.98
L 241.56 316.55
L 241.57 326.29
L 241.72 319.86
L 241.92 342.48
L 241.93 321.25
L 242.16 353.71
L 242.28 344.1
L 242.29 347.63
L 242.39 335.89
L 242.41 354.41
L 242.64 347.2
L 242.65 345.35
L 242.86 355.53
L 242.99 345.15
L 243.01 353.71
L 243.06 342.63
L 243.09 360.12
L 243.35 356.97
L 243.37 351.1
L 243.58 363.7
L 243.71 358.21
L 243.73 358.18
L 243.88 362.91
L 244.06 346.87
L 244.07 348.34
L 244.09 356.17
L 244.3 363.2
L 244.33 345.56
L 244.43 353.08
L 244.45 352.58
L 244.66 363.92
L 244.74 345.52
L 244.79 348.97
L 244.81 343.16
L 244.87 361.95
L 245.15 344.26
L 245.17 355.06
L 245.18 359.44
L 245.51 341.09
L 245.53 353.53
L 245.85 331.17
L 245.87 351.79
L 245.89 338.48
L 246.08 322.3
L 246.1 350.11
L 246.23 330.57
L 246.25 343.78
L 246.36 349.77
L 246.48 316.4
L 246.59 337.99
L 246.61 312.93
L 246.62 346.65
L 246.95 317.04
L 246.97 312.96
L 247.03 306.07
L 247.26 342.81
L 247.31 310.18
L 247.32 304.49
L 247.44 342.3
L 247.59 303.83
L 247.67 339.59
L 247.68 311.76
L 247.77 307.18
L 247.96 344.28
L 248.03 333.05
L 248.04 325.24
L 248.13 320.76
L 248.37 346.67
L 248.39 343.8
L 248.4 343.84
L 248.44 325.14
L 248.65 353.98
L 248.75 350.31
L 248.76 358.11
L 248.98 336.77
L 249.11 361.68
L 249.12 342.8
L 249.27 355.93
L 249.47 351.37
L 249.48 351.8
L 249.51 345.17
L 249.74 363.28
L 249.82 358.79
L 249.84 361.23
L 250.1 344.8
L 250.14 362.83
L 250.18 347.82
L 250.2 357.46
L 250.28 346.07
L 250.3 359.49
L 250.54 350.71
L 250.56 352.27
L 250.63 362.82
L 250.79 344.53
L 250.92 350.24
L 250.94 348.08
L 251.07 353.09
L 251.28 332.49
L 251.3 342.56
L 251.52 351.37
L 251.59 332.79
L 251.64 342.25
L 251.65 338.29
L 251.97 349.54
L 251.98 317.04
L 252 341.16
L 252.01 338.69
L 252.08 343.42
L 252.34 309.93
L 252.36 329.9
L 252.37 322.2
L 252.5 336.09
L 252.67 301.76
L 252.72 323.52
L 252.73 326.71
L 252.83 340.8
L 252.9 302.63
L 253.08 334.84
L 253.09 336.6
L 253.17 306.04
L 253.22 341.39
L 253.44 319.11
L 253.45 333.86
L 253.5 306.51
L 253.76 346.04
L 253.8 342.71
L 253.81 331.12
L 253.83 316.38
L 253.93 342.96
L 254.15 328.13
L 254.17 330.42
L 254.35 352.18
L 254.42 329.54
L 254.51 341.83
L 254.53 345.19
L 254.63 334.22
L 254.66 358.22
L 254.87 344.25
L 254.89 342.48
L 254.91 342.07
L 255.15 354.53
L 255.23 347.45
L 255.25 348.68
L 255.32 357.12
L 255.58 339.76
L 255.59 347.86
L 255.61 357.93
L 255.67 342.08
L 255.95 353.59
L 255.97 348.19
L 256.2 358.44
L 256.28 338.46
L 256.31 354.2
L 256.33 348.48
L 256.43 359.39
L 256.67 341.31
L 256.69 348.96
L 256.85 350.78
L 256.97 333.19
L 257.03 345.21
L 257.05 335.4
L 257.24 349.41
L 257.39 325.5
L 257.41 331.84
L 257.55 320.5
L 257.65 347.07
L 257.75 335.99
L 257.77 336.2
L 257.82 344.11
L 258.06 311.26
L 258.11 331.37
L 258.13 321.3
L 258.27 306.42
L 258.39 341.05
L 258.47 318.65
L 258.48 329.27
L 258.65 308.76
L 258.83 340.79
L 258.84 335.25
L 259.04 343.36
L 259.12 311.33
L 259.19 316.12
L 259.2 333.21
L 259.25 314.52
L 259.55 346.7
L 259.56 326.09
L 259.66 325.96
L 259.89 353.04
L 259.91 337.21
L 259.92 342.51
L 259.96 334.16
L 260.07 347.41
L 260.27 340.8
L 260.28 339.39
L 260.32 338.28
L 260.46 358.42
L 260.63 355.22
L 260.64 344.19
L 260.82 340.89
L 260.94 359.35
L 260.98 350.83
L 261 343.57
L 261.13 362.68
L 261.15 341.36
L 261.34 355.95
L 261.36 352.26
L 261.56 348
L 261.65 362.43
L 261.7 354.91
L 261.72 350.49
L 261.74 363.28
L 261.95 341.25
L 262.08 361.3
L 262.1 353.09
L 262.29 361.1
L 262.32 340.3
L 262.44 353
L 262.46 347.66
L 262.52 360.64
L 262.55 342.44
L 262.8 354.91
L 262.82 353.82
L 263.09 339.15
L 263.16 352.29
L 263.17 350.11
L 263.27 334.24
L 263.42 354.75
L 263.52 338.59
L 263.53 349.19
L 263.57 352.98
L 263.75 321.36
L 263.88 341.59
L 263.89 343.54
L 264.01 344.81
L 264.19 309.99
L 264.24 342.5
L 264.25 316.23
L 264.33 340.29
L 264.56 305.13
L 264.6 320.16
L 264.61 334.92
L 264.82 304.25
L 264.92 341.87
L 264.96 306.04
L 264.97 313.02
L 265 301.5
L 265.3 342.34
L 265.32 321.75
L 265.33 311.63
L 265.38 306.55
L 265.58 346.57
L 265.67 340.92
L 265.69 327.19
L 265.71 317.53
L 266 349.55
L 266.03 339.98
L 266.05 346.67
L 266.1 328.79
L 266.13 352.4
L 266.39 346.81
L 266.41 356.28
L 266.44 338.22
L 266.75 350.32
L 266.77 358.28
L 266.97 360.83
L 267.01 342.36
L 267.11 352.98
L 267.13 347.81
L 267.26 362.61
L 267.28 343.38
L 267.47 359.24
L 267.49 354.17
L 267.67 364.57
L 267.68 342.5
L 267.83 343.35
L 267.85 353.28
L 268.06 360.93
L 268.16 344.28
L 268.19 351.94
L 268.21 350.94
L 268.35 363.82
L 268.52 341.06
L 268.55 349.08
L 268.57 348.19
L 268.63 358.84
L 268.86 341.99
L 268.91 353.41
L 268.93 344.38
L 269.02 355.46
L 269.15 343.33
L 269.27 351.19
L 269.29 352.28
L 269.3 357.32
L 269.63 336.3
L 269.65 335.32
L 269.87 349.91
L 269.99 319.13
L 270 337.16
L 270.1 348.02
L 270.25 316.11
L 270.35 342.53
L 270.36 345.57
L 270.67 308.28
L 270.71 325.26
L 270.72 312.48
L 270.85 338.75
L 271.07 303.83
L 271.08 311.5
L 271.1 306.66
L 271.21 344.34
L 271.43 318.96
L 271.44 315.86
L 271.64 312.01
L 271.75 344.34
L 271.79 335.14
L 271.8 315.39
L 271.87 351.01
L 272.15 347.75
L 272.16 346.13
L 272.21 355.47
L 272.28 331.9
L 272.5 341.59
L 272.52 351.84
L 272.6 352.48
L 272.67 337.36
L 272.86 343.9
L 272.88 344.26
L 273.01 355.04
L 273.16 342.64
L 273.24 353.21
L 273.26 356.18
L 273.31 343.45
L 273.49 365.22
L 273.6 351.17
L 273.62 348.26
L 273.7 344.91
L 273.91 360.93
L 273.96 353.68
L 273.98 358.17
L 274.27 364.84
L 274.29 347.9
L 274.32 354.8
L 274.33 355.4
L 274.56 347.23
L 274.63 359.68
L 274.68 349.46
L 274.69 357.12
L 275.04 340.69
L 275.05 356.33
L 275.09 333.48
L 275.4 344.77
L 275.41 345.69
L 275.45 348.56
L 275.76 317.77
L 275.77 319.45
L 275.95 347.69
L 275.97 315.29
L 276.12 318.66
L 276.13 308.71
L 276.26 345.75
L 276.38 301.9
L 276.48 322.86
L 276.49 307.69
L 276.65 342.95
L 276.83 299.17
L 276.85 327.17
L 276.98 299.53
L 277.19 343.95
L 277.21 332.5
L 277.23 308.48
L 277.34 345.16
L 277.55 336.57
L 277.57 337.98
L 277.6 318.66
L 277.62 347.66
L 277.91 341.36
L 277.93 337.41
L 277.98 327.23
L 278.22 353.51
L 278.27 330
L 278.29 337.29
L 278.31 336.55
L 278.57 354.55
L 278.63 347.82
L 278.65 351.69
L 278.81 345.02
L 278.99 358.93
L 279.01 351.53
L 279.07 344.27
L 279.33 362.63
L 279.35 348.87
L 279.37 344.88
L 279.38 343.67
L 279.48 360.9
L 279.71 352.1
L 279.73 355.23
L 279.92 361.51
L 279.97 339.09
L 280.07 342.47
L 280.09 352.11
L 280.25 354.64
L 280.38 338.84
L 280.43 342.28
L 280.45 347.33
L 280.58 353.11
L 280.72 330.62
L 280.79 338.56
L 280.81 336.3
L 281 354.83
L 281.15 324.84
L 281.16 344.69
L 281.33 318.04
L 281.39 351.23
L 281.51 349.25
L 281.52 345.9
L 281.85 310.38
L 281.87 340.91
L 281.88 314.52
L 281.98 342.21
L 282.23 305.93
L 282.24 331.15
L 282.39 303.83
L 282.55 341.49
L 282.59 328.4
L 282.6 312.77
L 282.83 309.19
L 282.88 340.02
L 282.95 318.19
L 282.96 312.81
L 283.08 310.7
L 283.22 345.09
L 283.31 318.27
L 283.32 331.7
L 283.47 323.04
L 283.65 344.5
L 283.66 336.77
L 283.68 331.09
L 283.83 329.81
L 283.86 349.21
L 284.02 343.99
L 284.04 344.36
L 284.06 336.57
L 284.3 353.92
L 284.38 346.28
L 284.4 350.96
L 284.45 342.75
L 284.65 359.51
L 284.76 353.58
L 284.78 352.32
L 284.89 357.96
L 285.05 346.64
L 285.12 353.43
L 285.14 347.69
L 285.15 346.86
L 285.43 359.43
L 285.48 350.98
L 285.49 357.84
L 285.76 343
L 285.84 354.96
L 285.85 344.41
L 285.94 360.99
L 286.2 350.58
L 286.21 350.98
L 286.39 360.62
L 286.54 343
L 286.56 348.84
L 286.57 361.98
L 286.59 340.62
L 286.92 350.61
L 286.93 351.32
L 287.13 334.75
L 287.28 335.61
L 287.29 335.18
L 287.44 352.94
L 287.6 326.38
L 287.64 344.87
L 287.65 347.27
L 287.88 312.52
L 287.99 341.8
L 288.01 344.88
L 288.22 304.93
L 288.35 333.43
L 288.37 313.1
L 288.55 302.64
L 288.71 336.87
L 288.73 302.16
L 288.81 297.87
L 289.04 342.79
L 289.07 328.08
L 289.09 321.09
L 289.15 343.95
L 289.4 305.46
L 289.43 342.85
L 289.45 338.97
L 289.56 311.47
L 289.79 344.5
L 289.81 319.15
L 289.91 349.31
L 290.15 334.58
L 290.17 333.11
L 290.25 327.5
L 290.49 353.8
L 290.51 340.69
L 290.53 352.87
L 290.54 356.92
L 290.58 342.09
L 290.87 355.77
L 290.89 349.39
L 291.05 358.11
L 291.07 343.94
L 291.23 355.09
L 291.25 360.64
L 291.39 346.78
L 291.48 362.02
L 291.59 351.36
L 291.61 352.4
L 291.75 360.18
L 291.8 343.76
L 291.95 348.81
L 291.97 351.96
L 292.08 362.63
L 292.13 338.93
L 292.31 353.12
L 292.32 356.32
L 292.41 344.04
L 292.5 357.67
L 292.67 348.01
L 292.68 349.16
L 292.96 341.65
L 292.98 357.48
L 293.03 349.62
L 293.04 345.56
L 293.06 355.51
L 293.37 336.41
L 293.39 341.21
L 293.4 345.85
L 293.5 351.91
L 293.71 328.87
L 293.75 343.55
L 293.76 326.15
L 293.8 352.33
L 293.84 324.08
L 294.11 330.03
L 294.12 332.04
L 294.17 347.99
L 294.43 315.17
L 294.47 334.2
L 294.48 328.68
L 294.61 344.53
L 294.79 306.68
L 294.82 327.13
L 294.84 321.58
L 294.97 306.42
L 295.02 342.2
L 295.18 324.98
L 295.2 334.08
L 295.22 310.18
L 295.48 343.55
L 295.54 315.12
L 295.56 313.37
L 295.77 346.29
L 295.92 336.5
L 295.94 331.71
L 295.95 322.35
L 295.99 348.59
L 296.28 342.59
L 296.3 353.7
L 296.34 336.8
L 296.62 357.01
L 296.64 353.69
L 296.66 348.11
L 296.67 337.95
L 296.85 353.26
L 297 350.38
L 297.01 348.65
L 297.1 339.5
L 297.16 359.53
L 297.36 342.62
L 297.37 342.81
L 297.41 363.92
L 297.44 340.64
L 297.72 357.49
L 297.73 360.04
L 297.93 343.43
L 298.08 350.54
L 298.09 352.76
L 298.32 362.4
L 298.35 345.1
L 298.44 359
L 298.45 347.89
L 298.47 361.06
L 298.66 340.09
L 298.8 346.94
L 298.81 347.33
L 299.14 331.26
L 299.16 360.08
L 299.17 342.71
L 299.2 356.71
L 299.42 318.54
L 299.51 335.19
L 299.53 313.63
L 299.63 347.85
L 299.74 307.46
L 299.87 340.76
L 299.89 314.66
L 300.02 302.96
L 300.09 343.82
L 300.23 334.19
L 300.25 301.34
L 300.46 296.58
L 300.54 337.21
L 300.59 306.35
L 300.61 338.62
L 300.79 297.88
L 300.95 343.28
L 300.97 323.49
L 301.07 301.97
L 301.15 345.84
L 301.31 325.26
L 301.33 344.5
L 301.36 315.47
L 301.62 347.4
L 301.67 330.35
L 301.69 330.34
L 301.75 326.36
L 302.01 355.7
L 302.03 340.34
L 302.05 347.69
L 302.13 356.18
L 302.16 341.02
L 302.39 350.31
L 302.41 353.87
L 302.52 355.85
L 302.6 343.13
L 302.75 348.72
L 302.77 346.78
L 302.78 338.41
L 303.09 364.25
L 303.11 345.24
L 303.13 357.77
L 303.22 360.62
L 303.4 346.51
L 303.47 346.91
L 303.49 350.02
L 303.57 336.88
L 303.68 362.71
L 303.83 349.22
L 303.84 351.21
L 303.99 365.22
L 304.01 344.55
L 304.19 349.47
L 304.2 358.66
L 304.3 344.81
L 304.42 360.86
L 304.55 352.15
L 304.56 354.67
L 304.73 338.46
L 304.74 361.04
L 304.91 343.19
L 304.92 346.47
L 305.05 357.72
L 305.27 339.91
L 305.28 354.17
L 305.45 356.07
L 305.54 326.28
L 305.63 345.59
L 305.64 335.74
L 305.92 319.52
L 305.95 347.49
L 305.99 332.25
L 306 346.72
L 306.12 348.11
L 306.31 311.25
L 306.34 328.3
L 306.36 322.83
L 306.62 308.48
L 306.66 343.38
L 306.7 315.11
L 306.72 338.91
L 306.77 342.55
L 306.85 305.39
L 307.08 327
L 307.1 336.9
L 307.19 307.78
L 307.23 341.12
L 307.44 312.83
L 307.46 337.38
L 307.62 312.96
L 307.75 348.08
L 307.8 327.23
L 307.82 333.67
L 307.85 323.02
L 307.95 349.56
L 308.16 329.15
L 308.17 334.92
L 308.22 352.21
L 308.24 329.78
L 308.52 349.68
L 308.53 343.05
L 308.58 351.3
L 308.7 338.3
L 308.88 342.21
L 308.89 349.4
L 309.02 354.6
L 309.17 337.74
L 309.24 344.61
L 309.25 343.94
L 309.43 342.02
L 309.47 359.62
L 309.6 351.2
L 309.61 345.06
L 309.78 334.21
L 309.86 360.68
L 309.96 349.08
L 309.97 343.96
L 310.15 351.39
L 310.3 337.2
L 310.32 351.33
L 310.33 346.46
L 310.46 351.83
L 310.63 338.26
L 310.67 338.89
L 310.69 350.09
L 310.82 340.44
L 310.84 351.13
L 311.03 342.83
L 311.05 344.19
L 311.23 347.76
L 311.26 334.43
L 311.39 340.37
L 311.41 332.94
L 311.54 350.54
L 311.59 328.1
L 311.75 340.31
L 311.77 326.2
L 311.97 341.25
L 312.11 316.7
L 312.13 319.58
L 312.15 341.06
L 312.41 309.97
L 312.47 315.99
L 312.49 309.26
L 312.62 309.02
L 312.64 340.69
L 312.83 339.86
L 312.85 322.18
L 312.93 335.38
L 313.09 316.06
L 313.19 332.74
L 313.21 329.07
L 313.31 314.32
L 313.5 345.08
L 313.55 330.91
L 313.57 334.69
L 313.71 324.13
L 313.91 346.23
L 313.93 340.85
L 313.98 330.57
L 314.07 350.97
L 314.27 337.46
L 314.29 338.61
L 314.32 338.37
L 314.38 352.82
L 314.63 351.07
L 314.65 346.76
L 314.66 340.55
L 314.89 356.85
L 314.99 343.72
L 315 357.15
L 315.09 341.34
L 315.27 358.82
L 315.35 350.17
L 315.36 356.9
L 315.46 361.33
L 315.54 343.99
L 315.71 351.09
L 315.72 353.74
L 315.95 359.15
L 316.03 338.38
L 316.07 346.61
L 316.08 349
L 316.26 357.93
L 316.36 341.83
L 316.43 349.33
L 316.44 354.81
L 316.75 336.88
L 316.79 346.79
L 316.8 343.14
L 316.85 353.77
L 317.03 330.35
L 317.15 338.08
L 317.16 333.14
L 317.21 348.09
L 317.31 323.18
L 317.5 326.08
L 317.52 323.19
L 317.59 348.19
L 317.7 313.3
L 317.86 328.63
L 317.88 329.76
L 318.06 309.36
L 318.17 339.84
L 318.22 313.16
L 318.24 325.95
L 318.32 341.57
L 318.49 300.46
L 318.6 305.08
L 318.62 313.15
L 318.76 338.01
L 318.83 301.23
L 318.96 306.9
L 318.98 304.08
L 319.22 341.64
L 319.32 319.18
L 319.33 310.54
L 319.51 341.31
L 319.68 332.92
L 319.69 334.9
L 319.71 323.98
L 320.04 354.15
L 320.05 342.08
L 320.12 334.52
L 320.32 353.42
L 320.4 349.75
L 320.41 346.85
L 320.48 337.42
L 320.56 355.97
L 320.76 346.05
L 320.77 354.26
L 320.95 338.81
L 321.1 354.81
L 321.12 349.68
L 321.13 351.59
L 321.36 358.77
L 321.46 341.07
L 321.48 343.73
L 321.49 348.49
L 321.61 357.7
L 321.69 342.59
L 321.83 344.09
L 321.85 342.09
L 321.88 360.68
L 322.18 339.13
L 322.19 351.07
L 322.21 353.69
L 322.29 338.5
L 322.55 348.5
L 322.57 348.03
L 322.82 354.09
L 322.85 336.49
L 322.91 343.57
L 322.93 354.38
L 323.11 334.84
L 323.27 344.06
L 323.29 352.84
L 323.5 325.78
L 323.63 346.34
L 323.65 340.15
L 323.73 340.87
L 323.99 309.91
L 324.01 326.85
L 324.04 344.67
L 324.29 309.7
L 324.35 337.93
L 324.37 316.97
L 324.4 304.89
L 324.48 342.2
L 324.71 340.13
L 324.73 334.34
L 324.84 303.44
L 325.04 341.44
L 325.07 334.17
L 325.09 330.19
L 325.23 309.09
L 325.41 347.51
L 325.43 345.35
L 325.45 332.88
L 325.51 316.07
L 325.72 349.78
L 325.79 322.28
L 325.81 337.18
L 325.85 325.28
L 326 350.69
L 326.15 338.82
L 326.16 345.63
L 326.3 333.36
L 326.41 352.34
L 326.51 350.28
L 326.52 342.52
L 326.79 340.04
L 326.85 356.57
L 326.87 349.64
L 326.88 343.11
L 327.08 338.9
L 327.11 359.3
L 327.23 349.62
L 327.24 362.63
L 327.39 341.93
L 327.59 348.99
L 327.6 354.76
L 327.62 344.71
L 327.85 358.1
L 327.95 348.66
L 327.96 352.09
L 328.09 356.88
L 328.27 340.67
L 328.31 348.27
L 328.32 360.52
L 328.39 341.08
L 328.66 353.24
L 328.68 349.36
L 328.81 341.26
L 328.96 354.22
L 329.02 345.73
L 329.04 339.43
L 329.16 353.43
L 329.3 324.46
L 329.38 336.41
L 329.4 331.66
L 329.43 351.93
L 329.76 319.57
L 329.78 330.98
L 329.94 312.36
L 329.99 342.25
L 330.12 315.68
L 330.14 321.37
L 330.27 303.68
L 330.43 339.04
L 330.48 331.78
L 330.49 315.27
L 330.56 304.6
L 330.84 341.39
L 330.85 341.94
L 330.89 300.85
L 330.97 342.54
L 331.2 311.41
L 331.21 315.4
L 331.48 345.1
L 331.56 333.35
L 331.57 329.79
L 331.66 316.51
L 331.8 349.53
L 331.92 346.08
L 331.93 329.03
L 332.24 355.71
L 332.28 349.73
L 332.29 350
L 332.31 336.08
L 332.55 355.76
L 332.64 343.92
L 332.65 347.22
L 332.75 354.61
L 332.88 341.75
L 332.99 349.87
L 333.01 347.21
L 333.22 360.52
L 333.27 344.34
L 333.35 346.55
L 333.37 358.84
L 333.39 343.79
L 333.7 361.33
L 333.71 346.16
L 333.73 344.6
L 333.83 358.22
L 334.07 347.37
L 334.09 348.14
L 334.25 355.89
L 334.3 342.8
L 334.43 349.65
L 334.45 346.05
L 334.74 329.87
L 334.76 351.08
L 334.79 339.23
L 334.81 345.75
L 334.92 352.3
L 334.94 332.25
L 335.15 344.25
L 335.17 346.72
L 335.25 347.72
L 335.36 314.86
L 335.51 339.29
L 335.53 320.7
L 335.63 346.44
L 335.74 307.54
L 335.87 340.61
L 335.89 330.8
L 335.9 343.21
L 336.23 298.91
L 336.25 334.78
L 336.41 302.26
L 336.44 342.19
L 336.59 333.71
L 336.61 340.35
L 336.74 303.06
L 336.88 342.81
L 336.95 327.19
L 336.97 323.61
L 337.08 345.29
L 337.28 310.59
L 337.31 326.13
L 337.33 344.17
L 337.52 348.93
L 337.59 323.29
L 337.67 334.73
L 337.68 331.92
L 337.73 350.06
L 337.77 326.88
L 338.03 343.89
L 338.04 344.42
L 338.26 336.53
L 338.37 353.08
L 338.39 340.18
L 338.4 349.71
L 338.45 338.02
L 338.63 360.48
L 338.75 350.88
L 338.76 341.04
L 338.91 358.53
L 339.11 351.54
L 339.12 349.03
L 339.27 342.08
L 339.47 355.83
L 339.48 342.52
L 339.66 361.98
L 339.81 338.33
L 339.83 346.62
L 339.84 346.04
L 339.96 341.81
L 339.97 360.4
L 340.18 346.81
L 340.2 343.68
L 340.25 357.5
L 340.48 336.84
L 340.54 341.34
L 340.56 342.91
L 340.59 335.29
L 340.9 352.96
L 340.92 340.18
L 340.94 338.49
L 341 354.81
L 341.26 330.1
L 341.28 340.38
L 341.3 340.07
L 341.52 319.63
L 341.61 346.3
L 341.64 337.23
L 341.66 325.08
L 341.69 343.08
L 341.92 312.32
L 342 326.23
L 342.01 319.29
L 342.28 301.5
L 342.29 341.43
L 342.36 323.66
L 342.37 312.41
L 342.54 302.27
L 342.64 337.66
L 342.72 314.61
L 342.73 333.3
L 342.8 302.31
L 343.03 340.74
L 343.08 312.06
L 343.09 331.53
L 343.29 312.48
L 343.4 340.71
L 343.44 322.84
L 343.45 326.76
L 343.49 316.23
L 343.73 348.06
L 343.8 336.48
L 343.81 331.63
L 343.96 330.92
L 344.12 352.18
L 344.16 349.14
L 344.17 348.55
L 344.22 334.1
L 344.38 351.81
L 344.51 342.49
L 344.53 349.01
L 344.79 341.64
L 344.83 360.81
L 344.87 343.6
L 344.89 347.46
L 344.92 344.67
L 345.18 357.52
L 345.23 348.3
L 345.25 354.8
L 345.36 341.5
L 345.5 361.9
L 345.59 354.46
L 345.61 351.55
L 345.79 340.07
L 345.81 361.98
L 345.95 349.23
L 345.97 352.06
L 346.02 357.59
L 346.1 338.77
L 346.31 354.41
L 346.33 347.76
L 346.56 359.25
L 346.66 336.02
L 346.67 349.95
L 346.69 351.49
L 346.7 357.59
L 346.92 332.48
L 347.03 334.52
L 347.05 335.54
L 347.08 350.06
L 347.37 322.47
L 347.39 326.86
L 347.41 339.62
L 347.47 347.09
L 347.75 313.97
L 347.77 333.93
L 347.8 345.75
L 347.93 308.23
L 348.11 340.11
L 348.13 308.35
L 348.44 342.19
L 348.47 311.77
L 348.49 304.74
L 348.66 344.29
L 348.83 328.01
L 348.84 332.16
L 348.91 311
L 349.16 347.45
L 349.19 339.45
L 349.2 330.36
L 349.24 318.17
L 349.35 348.25
L 349.55 327.15
L 349.56 325.28
L 349.83 352.27
L 349.91 339.8
L 349.92 342.94
L 350.04 338.78
L 350.27 358.39
L 350.28 339.36
L 350.56 361.15
L 350.63 356.79
L 350.64 349.7
L 350.72 346.38
L 350.76 361.22
L 350.99 347.15
L 351 351.25
L 351.23 345.2
L 351.33 362.41
L 351.34 350.76
L 351.36 356.17
L 351.51 359.25
L 351.56 347.91
L 351.7 348.81
L 351.72 352.55
L 351.75 359.81
L 351.87 342.94
L 352.06 348.2
L 352.08 364.57
L 352.42 339.18
L 352.44 347.4
L 352.46 341.96
L 352.49 351.82
L 352.78 334.53
L 352.8 339.17
L 352.82 341.54
L 352.9 353.46
L 352.95 328.87
L 353.16 336.24
L 353.17 336.78
L 353.34 349.42
L 353.5 322.87
L 353.52 328.52
L 353.53 334.94
L 353.6 345.13
L 353.86 315.98
L 353.88 317.14
L 353.89 329.08
L 354.01 343.38
L 354.22 312.52
L 354.24 324.71
L 354.25 322.58
L 354.29 314.35
L 354.53 343.19
L 354.6 329.11
L 354.61 340.52
L 354.83 317.36
L 354.96 345.78
L 354.97 322.69
L 355.15 345.74
L 355.18 322.23
L 355.32 332.61
L 355.33 337.33
L 355.46 330.53
L 355.61 346.08
L 355.67 340.21
L 355.69 338.95
L 355.81 335.59
L 355.97 352.09
L 356.03 344.5
L 356.05 343.22
L 356.21 339.24
L 356.34 351.71
L 356.39 347.02
L 356.41 340.2
L 356.49 360.04
L 356.57 339.19
L 356.75 347.64
L 356.77 338.26
L 357.11 354.71
L 357.13 348.85
L 357.21 358.63
L 357.41 342.25
L 357.47 352.41
L 357.49 349.35
L 357.54 353.28
L 357.55 339.68
L 357.83 347.3
L 357.85 349.84
L 358.04 351.5
L 358.16 332.94
L 358.19 347.56
L 358.21 350.34
L 358.35 351.31
L 358.49 322.16
L 358.55 323.09
L 358.57 338.36
L 358.62 350.98
L 358.88 312.76
L 358.91 334.97
L 358.93 325.41
L 358.96 339.67
L 359.14 307.64
L 359.27 315.99
L 359.29 327.44
L 359.5 304.46
L 359.61 340.59
L 359.63 308.96
L 359.65 337.99
L 359.83 303.44
L 359.89 339.69
L 359.99 304.94
L 360 332.88
L 360.1 306.92
L 360.17 338.6
L 360.35 328.3
L 360.36 335.78
L 360.5 344.14
L 360.53 313.91
L 360.71 342.78
L 360.72 320.27
L 361.02 348.1
L 361.07 334.29
L 361.08 334.04
L 361.17 350.83
L 361.38 328.42
L 361.43 345.84
L 361.44 348.5
L 361.62 336.86
L 361.74 350.73
L 361.79 349.17
L 361.8 346.28
L 361.85 346.09
L 361.98 358.35
L 362.15 349.11
L 362.16 351.14
L 362.39 357.41
L 362.41 340.12
L 362.5 351.31
L 362.52 354.02
L 362.59 341.96
L 362.72 359.05
L 362.86 348.51
L 362.88 347.88
L 362.95 338.46
L 363.19 359.34
L 363.22 349.94
L 363.24 356.29
L 363.27 357.92
L 363.49 341.17
L 363.6 342.29
L 363.62 347.19
L 363.75 341.31
L 363.86 362.63
L 363.96 351.31
L 363.98 349.17
L 364.11 339.67
L 364.27 354.67
L 364.32 346.21
L 364.33 350.54
L 364.37 357.7
L 364.56 339.8
L 364.68 344.79
L 364.69 348.32
L 364.87 349.82
L 365.02 326.82
L 365.04 339.29
L 365.05 339.86
L 365.17 350.17
L 365.18 321.52
L 365.4 346.96
L 365.41 348.5
L 365.76 309.19
L 365.77 321.5
L 365.92 343.17
L 366.07 304.29
L 366.12 318.28
L 366.13 332.08
L 366.34 300.33
L 366.43 341.78
L 366.48 303.32
L 366.49 305.05
L 366.61 342.42
L 366.83 334.88
L 366.85 311.99
L 367.15 339.42
L 367.19 330.07
L 367.21 338.12
L 367.44 318.5
L 367.49 347.1
L 367.55 340.65
L 367.57 346.93
L 367.6 327.39
L 367.85 355.53
L 367.91 336.08
L 367.93 339.42
L 367.95 334.77
L 368.03 357.07
L 368.27 352.27
L 368.29 345.57
L 368.31 359.09
L 368.42 340.54
L 368.63 351.07
L 368.65 346.47
L 368.86 340.38
L 368.93 361.33
L 368.99 349.79
L 369.01 351.99
L 369.25 359.18
L 369.33 346.85
L 369.35 352.71
L 369.37 353.02
L 369.4 359.9
L 369.47 337.64
L 369.71 351.82
L 369.73 353.13
L 369.74 360.31
L 369.83 340.56
L 370.07 354.58
L 370.09 360.51
L 370.33 341.48
L 370.43 358.18
L 370.45 342.68
L 370.61 359.72
L 370.72 337.73
L 370.79 340.63
L 370.81 346.11
L 370.94 351.31
L 371.05 327.35
L 371.15 333.27
L 371.17 342.54
L 371.21 346.91
L 371.51 317.7
L 371.52 343.08
L 371.54 344.92
L 371.7 309.23
L 371.87 330.13
L 371.88 310.09
L 372 342.53
L 372.18 302.37
L 372.23 340.46
L 372.24 305.62
L 372.31 302.15
L 372.46 338.65
L 372.59 318.83
L 372.6 312.27
L 372.72 303.91
L 372.75 339.5
L 372.95 307.07
L 372.96 320.45
L 372.98 340.95
L 373.01 312.08
L 373.31 327.17
L 373.32 330.97
L 373.45 317.86
L 373.58 345.23
L 373.67 326.39
L 373.68 343.35
L 373.81 329.71
L 373.96 351.71
L 374.02 336.53
L 374.04 341.48
L 374.27 338.38
L 374.32 359.07
L 374.38 341.37
L 374.4 342.46
L 374.47 358.2
L 374.73 335.63
L 374.76 342.08
L 374.78 349.48
L 374.81 340.88
L 375.1 357.89
L 375.12 349.92
L 375.14 352.25
L 375.35 357.52
L 375.43 342.99
L 375.48 352.46
L 375.5 351.24
L 375.63 361.33
L 375.82 342.93
L 375.84 358.17
L 375.85 346.26
L 376.07 358.62
L 376.18 344.76
L 376.2 346.23
L 376.21 352.28
L 376.39 355.58
L 376.54 342.09
L 376.56 345.37
L 376.57 353.38
L 376.72 339.4
L 376.79 354.65
L 376.92 344.27
L 376.93 335.91
L 377.06 353.68
L 377.28 322.21
L 377.29 334.6
L 377.42 322.69
L 377.62 347.42
L 377.64 330
L 377.65 326.52
L 377.68 347.48
L 377.77 314.14
L 378 318.64
L 378.01 322.73
L 378.22 343.17
L 378.24 307.87
L 378.35 327.32
L 378.37 315.26
L 378.62 305.65
L 378.65 340.34
L 378.71 313.01
L 378.73 333.3
L 378.78 306.59
L 378.8 341.28
L 379.07 326.29
L 379.09 321.16
L 379.11 341.65
L 379.27 313.87
L 379.43 326.26
L 379.45 326.22
L 379.61 344
L 379.68 322.14
L 379.79 339.04
L 379.81 339.1
L 379.87 350.56
L 380 332.48
L 380.15 341.51
L 380.17 346.93
L 380.32 355.75
L 380.38 340.14
L 380.51 352.22
L 380.53 341.56
L 380.69 359.36
L 380.87 353.47
L 380.89 354.11
L 380.92 344.77
L 381.12 359.88
L 381.23 356.21
L 381.25 352.25
L 381.31 347.53
L 381.51 359.96
L 381.59 359.1
L 381.61 349.99
L 381.67 362.63
L 381.82 345.02
L 381.95 355.11
L 381.97 346.86
L 382.05 358.82
L 382.28 336.49
L 382.31 355.97
L 382.33 341.48
L 382.62 323.5
L 382.65 353.5
L 382.67 343.57
L 382.68 324.15
L 382.72 349.03
L 382.96 319.12
L 383.03 342.91
L 383.04 318.89
L 383.14 345.49
L 383.37 307.29
L 383.39 316.3
L 383.4 338.9
L 383.42 308.4
L 383.44 343.11
L 383.75 326.72
L 383.76 332
L 383.96 304.74
L 384.06 342.43
L 384.11 331.28
L 384.12 337.08
L 384.19 312.09
L 384.37 344.66
L 384.47 343.7
L 384.48 336.42
L 384.58 345.17
L 384.61 319.81
L 384.83 337.22
L 384.84 335.98
L 384.89 326.11
L 384.99 352.33
L 385.18 341.79
L 385.2 331.12
L 385.43 348.22
L 385.54 347.94
L 385.56 336.05
L 385.64 353.21
L 385.92 352.36
L 385.94 359.69
L 386.1 340.67
L 386.28 355.47
L 386.3 349.66
L 386.36 359.52
L 386.64 340.36
L 386.66 350.39
L 386.77 341.33
L 386.98 359.23
L 387 358.74
L 387.01 357.9
L 387.03 360.04
L 387.26 342.67
L 387.36 349.69
L 387.37 346.53
L 387.41 359.47
L 387.65 344.83
L 387.72 350.7
L 387.73 356.76
L 388.04 335.48
L 388.08 338.02
L 388.09 342.96
L 388.11 350.06
L 388.44 325.61
L 388.45 340.54
L 388.47 348.63
L 388.6 316.46
L 388.8 334.71
L 388.81 318.62
L 388.84 343.8
L 389.06 309.03
L 389.16 334.18
L 389.17 310.21
L 389.22 342.85
L 389.27 307.41
L 389.51 322.6
L 389.53 305.56
L 389.66 338.37
L 389.78 301.24
L 389.87 330.8
L 389.89 332.01
L 390.02 339.21
L 390.12 308.06
L 390.23 324.26
L 390.25 342.59
L 390.35 317.16
L 390.56 343.96
L 390.59 339.07
L 390.61 337.28
L 390.67 346.81
L 390.76 321.93
L 390.95 336.2
L 390.97 334.88
L 391.07 329.25
L 391.21 347.73
L 391.31 338.87
L 391.33 346
L 391.41 359.06
L 391.49 339.49
L 391.67 344.27
L 391.69 348.2
L 391.75 343.52
L 391.77 356.3
L 392.03 349.76
L 392.05 353.47
L 392.24 346.54
L 392.37 356.65
L 392.39 349.67
L 392.41 341.74
L 392.6 361.33
L 392.75 355.37
L 392.77 351.88
L 392.78 360.23
L 392.9 346.12
L 393.11 350.1
L 393.13 358.22
L 393.17 361.17
L 393.31 343.79
L 393.47 346.34
L 393.49 353.96
L 393.53 355.5
L 393.76 333.11
L 393.83 340.91
L 393.84 338.87
L 394.01 354.94
L 394.16 324.62
L 394.19 330.78
L 394.2 346.39
L 394.29 349.38
L 394.48 313.91
L 394.55 321.7
L 394.56 321.47
L 394.76 309.65
L 394.79 346.58
L 394.91 321.61
L 394.92 344.53
L 395.12 300
L 395.27 319.17
L 395.28 308.96
L 395.36 299.17
L 395.51 340.57
L 395.63 310.72
L 395.64 300.61
L 395.72 336.78
L 395.99 312.07
L 396 309.11
L 396.31 342.1
L 396.34 340.51
L 396.36 334.32
L 396.46 324.03
L 396.64 349.08
L 396.7 327.56
L 396.72 338.42
L 396.98 324.8
L 397.03 350.33
L 397.06 341.04
L 397.08 338.99
L 397.21 334.74
L 397.41 351.69
L 397.44 345.85
L 397.46 349.5
L 397.49 355.2
L 397.75 338.47
L 397.8 340.57
L 397.82 351.67
L 397.91 334.86
L 397.95 357.31
L 398.16 342.3
L 398.17 348.45
L 398.29 339.37
L 398.44 354.99
L 398.52 342.29
L 398.53 339.71
L 398.68 334.96
L 398.75 359.39
L 398.88 341.9
L 398.89 347.74
L 398.93 357.71
L 399.04 340.13
L 399.24 349.36
L 399.25 341.98
L 399.27 359.18
L 399.6 340.84
L 399.61 343.38
L 399.74 326.32
L 399.86 354.38
L 399.96 341.39
L 399.97 339.83
L 400.04 347.98
L 400.23 324.96
L 400.32 343.86
L 400.33 326.39
L 400.66 315.32
L 400.67 342.68
L 400.69 326.08
L 400.95 311.54
L 401.03 341.42
L 401.05 319.28
L 401.13 305.27
L 401.23 336.3
L 401.39 335.68
L 401.41 334.93
L 401.48 304.35
L 401.56 335.92
L 401.75 322.53
L 401.77 322.59
L 401.82 308.09
L 401.9 335.84
L 402.11 318.83
L 402.13 329.21
L 402.31 341.82
L 402.33 316.28
L 402.47 332.25
L 402.49 329.65
L 402.55 323.54
L 402.73 345.98
L 402.83 328.17
L 402.85 345.34
L 402.93 325.53
L 403.14 346.98
L 403.19 343.46
L 403.21 339.17
L 403.39 353.21
L 403.45 337.27
L 403.55 346.77
L 403.57 348.72
L 403.62 357.8
L 403.81 339.06
L 403.91 353.52
L 403.93 351.62
L 404.02 357.47
L 404.24 344.66
L 404.27 356.74
L 404.29 351.44
L 404.45 344.59
L 404.5 358.74
L 404.63 352.75
L 404.65 353.28
L 404.84 357.02
L 404.86 339.79
L 404.99 354.99
L 405.01 346.97
L 405.2 357.96
L 405.28 342.94
L 405.35 350.59
L 405.36 350.89
L 405.41 357.23
L 405.67 340.8
L 405.71 343.6
L 405.72 346.77
L 405.95 350.38
L 405.99 326.25
L 406.07 335.36
L 406.08 329.44
L 406.21 346.85
L 406.34 319.4
L 406.43 345.07
L 406.44 313.36
L 406.59 344.57
L 406.77 308.74
L 406.79 314.27
L 406.8 322.09
L 406.93 307.6
L 407.05 340.14
L 407.15 324.44
L 407.16 327.81
L 407.18 338
L 407.19 298.91
L 407.51 309.36
L 407.52 323.29
L 407.57 300.48
L 407.72 336.88
L 407.86 316.4
L 407.88 303.89
L 408.08 341.63
L 408.22 328.76
L 408.24 340.89
L 408.27 311.73
L 408.5 344.2
L 408.6 332.37
L 408.62 335.31
L 408.68 324.15
L 408.88 348.29
L 408.96 342.3
L 408.98 332.47
L 409.25 348.89
L 409.32 347.97
L 409.34 344.59
L 409.42 349.78
L 409.68 334.74
L 409.69 340.57
L 409.71 355.75
L 409.74 336.69
L 410.04 338.39
L 410.05 348.99
L 410.1 351.73
L 410.35 342.09
L 410.4 342.71
L 410.41 351.12
L 410.45 353.03
L 410.56 331.81
L 410.76 336.69
L 410.77 347.41
L 411 358.74
L 411.08 338.57
L 411.12 344.1
L 411.13 344.37
L 411.25 339.7
L 411.36 357.11
L 411.48 341.83
L 411.49 345.44
L 411.56 356.55
L 411.61 336.33
L 411.84 347.09
L 411.85 344.37
L 411.87 337.17
L 411.88 352.58
L 412.19 338.75
L 412.21 353.45
L 412.29 337.53
L 412.55 344.08
L 412.57 336.27
L 412.7 331.53
L 412.9 348.26
L 412.91 342.01
L 412.93 341.82
L 413.14 343.48
L 413.26 326.99
L 413.27 328
L 413.29 327.53
L 413.44 340.73
L 413.53 315.26
L 413.63 339.65
L 413.65 338.88
L 413.76 340.23
L 413.93 316.01
L 413.99 323.72
L 414.01 322.55
L 414.04 312.13
L 414.34 337.93
L 414.35 331.26
L 414.37 317.46
L 414.66 340.84
L 414.71 327.27
L 414.73 318.84
L 414.92 341.69
L 415.07 326.4
L 415.09 327.11
L 415.17 323.87
L 415.28 346.87
L 415.43 333.78
L 415.45 341.87
L 415.48 329.31
L 415.5 350.4
L 415.79 337.76
L 415.81 340.56
L 415.82 337.29
L 416.07 358.57
L 416.15 344.8
L 416.17 345.29
L 416.28 335.35
L 416.48 351.98
L 416.51 350.48
L 416.52 349.11
L 416.56 336.7
L 416.75 353.54
L 416.87 340.39
L 416.88 343.8
L 417.08 356.68
L 417.13 336.05
L 417.23 340.44
L 417.24 335.44
L 417.55 358.74
L 417.59 343.07
L 417.6 352.99
L 417.62 354.51
L 417.72 335.61
L 417.95 346.19
L 417.96 352.29
L 418.04 334.12
L 418.09 353.38
L 418.31 347.73
L 418.32 342.7
L 418.37 350.23
L 418.63 329.2
L 418.67 336.18
L 418.68 330.08
L 418.81 350.01
L 418.96 318.44
L 419.02 340.23
L 419.04 330
L 419.09 344.95
L 419.38 307.17
L 419.4 328.64
L 419.56 341.15
L 419.65 302
L 419.76 335.91
L 419.78 333.64
L 419.91 299.94
L 419.94 335.94
L 420.12 303.84
L 420.14 317.69
L 420.18 300.58
L 420.45 342.23
L 420.48 339.01
L 420.5 308.19
L 420.51 306.87
L 420.74 344.86
L 420.84 320.68
L 420.85 343.95
L 421.07 317.45
L 421.12 348.19
L 421.2 338.09
L 421.21 324.63
L 421.44 353.4
L 421.56 344.35
L 421.57 341.82
L 421.69 334.63
L 421.77 354.22
L 421.92 344.68
L 421.93 352.43
L 421.97 341.1
L 422.03 356.01
L 422.28 352.17
L 422.29 345.41
L 422.47 339.85
L 422.64 356.14
L 422.65 348.2
L 422.85 338.7
L 423 361.05
L 423.01 347.79
L 423.04 340.16
L 423.06 358.83
L 423.35 347.98
L 423.37 347.62
L 423.55 361.33
L 423.67 344.85
L 423.71 353.61
L 423.73 343.19
L 423.75 357.78
L 424.01 340.64
L 424.07 347.47
L 424.09 352.14
L 424.42 332.81
L 424.43 344.04
L 424.45 325.4
L 424.55 350.84
L 424.71 324.27
L 424.79 335.79
L 424.81 329.7
L 424.99 346.48
L 425.04 311.23
L 425.15 336.21
L 425.17 334.93
L 425.27 307.95
L 425.41 342.14
L 425.51 331.33
L 425.53 342.5
L 425.85 303.06
L 425.87 328.03
L 425.89 315.39
L 425.95 301.24
L 426.05 335.57
L 426.23 319.71
L 426.25 312.52
L 426.33 342.89
L 426.59 318.91
L 426.61 337.03
L 426.66 315.37
L 426.87 344.97
L 426.95 315.88
L 426.97 337.28
L 426.98 324.32
L 427.31 348.38
L 427.33 332.15
L 427.49 331.79
L 427.55 351.86
L 427.67 339.78
L 427.68 347.47
L 427.82 355.04
L 428.01 340.28
L 428.03 348.01
L 428.04 351.17
L 428.06 342.43
L 428.29 357.48
L 428.39 350.84
L 428.4 351.1
L 428.6 342.61
L 428.75 358.09
L 428.76 350.24
L 428.99 356.57
L 429.11 342.1
L 429.12 350.57
L 429.29 334.81
L 429.3 358.74
L 429.47 345.85
L 429.48 342.42
L 429.56 334.39
L 429.71 351.24
L 429.83 345.62
L 429.84 339.88
L 430.01 322.82
L 430.12 347.21
L 430.18 340.07
L 430.2 341.24
L 430.45 318.15
L 430.5 343.72
L 430.54 333.82
L 430.56 321.12
L 430.64 344.53
L 430.84 312.86
L 430.9 331.36
L 430.92 310.32
L 430.99 340.46
L 431.26 306.68
L 431.28 335.17
L 431.3 323.8
L 431.38 307.81
L 431.39 338.85
L 431.64 333.69
L 431.66 336.79
L 431.82 312.18
L 431.87 342.32
L 432 335.82
L 432.01 325.37
L 432.11 316.47
L 432.28 345.03
L 432.36 326.25
L 432.37 331.49
L 432.57 324.3
L 432.6 348.39
L 432.72 341.99
L 432.73 331.36
L 432.88 351.14
L 433.08 349.16
L 433.09 350.25
L 433.27 354.06
L 433.4 337.96
L 433.44 349.3
L 433.45 340.88
L 433.52 353.51
L 433.8 348.71
L 433.81 346.6
L 433.84 336.14
L 433.96 359.74
L 434.16 343.92
L 434.17 354.43
L 434.25 335.95
L 434.32 354.62
L 434.51 341.13
L 434.53 349.6
L 434.61 358.32
L 434.79 344.21
L 434.87 351.51
L 434.89 354.8
L 435.01 342.68
L 435.04 360.04
L 435.23 351
L 435.25 358.76
L 435.33 341.63
L 435.59 348.98
L 435.61 344.37
L 435.9 350.43
L 435.92 338.55
L 435.95 342.06
L 435.97 348.1
L 436 354.18
L 436.23 333.77
L 436.31 341.58
L 436.33 343.16
L 436.48 344.5
L 436.61 320.69
L 436.67 343.69
L 436.69 336.53
L 436.74 345.61
L 437 316.19
L 437.03 340.02
L 437.05 339.46
L 437.13 344.39
L 437.33 310.23
L 437.39 314.39
L 437.41 315.05
L 437.67 307.98
L 437.72 339.5
L 437.75 320
L 437.77 324.02
L 437.96 340.41
L 438.08 308.76
L 438.11 334.75
L 438.13 340.3
L 438.16 312
L 438.21 341.06
L 438.47 334.19
L 438.49 324.55
L 438.5 317.6
L 438.81 348.78
L 438.83 345.75
L 438.84 344.26
L 438.93 328.21
L 439.14 352.28
L 439.19 334.32
L 439.2 339.59
L 439.22 332.15
L 439.53 356.4
L 439.55 340
L 439.56 351.57
L 439.61 334.1
L 439.63 357.39
L 439.91 357.12
L 439.92 344.19
L 440.15 359.94
L 440.27 353.49
L 440.28 346.17
L 440.38 345.38
L 440.56 362.53
L 440.63 350.68
L 440.64 351.92
L 440.85 346.64
L 440.92 362.63
L 440.99 358.78
L 441 354.35
L 441.05 347.31
L 441.1 362.49
L 441.34 355.84
L 441.36 356.67
L 441.46 358.95
L 441.67 346.23
L 441.7 354.39
L 441.72 350.57
L 441.75 338.32
L 442.01 357.45
L 442.06 347.48
L 442.08 337.41
L 442.16 330.99
L 442.26 355.51
L 442.44 337.77
L 442.46 343.28
L 442.52 353.13
L 442.59 326.51
L 442.8 343.67
L 442.82 320.26
L 443.04 344.78
L 443.16 306.15
L 443.18 305.48
L 443.44 341.95
L 443.47 304.21
L 443.52 328.29
L 443.53 312.5
L 443.6 338.71
L 443.8 299.17
L 443.88 320.76
L 443.89 340.09
L 444.14 342.96
L 444.19 305.3
L 444.24 311.42
L 444.25 312.19
L 444.29 309.23
L 444.38 341.5
L 444.6 339.71
L 444.61 331.91
L 444.76 321.18
L 444.87 346.32
L 444.96 344.18
L 444.97 332.33
L 444.99 352.53
L 445.01 328.95
L 445.32 344.73
L 445.33 338.53
L 445.54 354.48
L 445.56 333.76
L 445.68 346.37
L 445.69 344.94
L 445.82 335.39
L 445.97 353.13
L 446.03 340.5
L 446.05 349.89
L 446.21 338.53
L 446.25 358.09
L 446.39 344.87
L 446.41 349.21
L 446.61 357.86
L 446.67 342.06
L 446.75 344.35
L 446.77 346.1
L 447.01 334.71
L 447.11 353.65
L 447.13 343.16
L 447.26 334.62
L 447.29 351.53
L 447.47 344.55
L 447.49 347.85
L 447.55 349.18
L 447.82 332.01
L 447.83 343.27
L 447.85 332.6
L 448 346.79
L 448.11 326.27
L 448.19 332.54
L 448.21 330.38
L 448.5 312.39
L 448.52 342.85
L 448.55 333.98
L 448.57 330.3
L 448.78 339.03
L 448.88 306.53
L 448.91 316.66
L 448.93 336.85
L 449.04 302.71
L 449.27 335.67
L 449.29 312.83
L 449.35 338.27
L 449.45 299.94
L 449.63 319.29
L 449.65 303.27
L 449.81 302.22
L 449.87 340.57
L 449.99 338.5
L 450.01 316.09
L 450.04 310.69
L 450.15 341.25
L 450.35 326.5
L 450.36 328.53
L 450.4 344.54
L 450.43 317.84
L 450.71 331.11
L 450.72 331.74
L 450.74 328.12
L 450.99 349.41
L 451.07 342.53
L 451.08 345.94
L 451.35 339.91
L 451.41 353.82
L 451.43 341.39
L 451.44 344.54
L 451.64 340.28
L 451.75 356.5
L 451.79 345.84
L 451.8 348.83
L 451.93 357.2
L 452 342.37
L 452.15 349.23
L 452.16 347.1
L 452.42 343.17
L 452.44 356.15
L 452.51 350.64
L 452.52 355.45
L 452.75 360.59
L 452.82 344.07
L 452.86 349.86
L 452.88 355.94
L 452.98 346.59
L 453.06 361.33
L 453.22 357.57
L 453.24 349.34
L 453.27 354.61
L 453.58 341.51
L 453.6 346.14
L 453.62 346.19
L 453.76 330.04
L 453.85 358.05
L 453.96 331.18
L 453.98 351.55
L 454.3 321.67
L 454.32 326.84
L 454.34 328.25
L 454.37 344.25
L 454.61 312.1
L 454.68 333.31
L 454.69 333.23
L 454.76 308.81
L 454.92 341.07
L 455.04 313.38
L 455.05 317.07
L 455.23 300.46
L 455.33 337.94
L 455.4 304.84
L 455.41 304.91
L 455.5 301.97
L 455.74 337.5
L 455.76 324.63
L 455.77 321.36
L 455.89 304.03
L 456.12 341.44
L 456.13 325.14
L 456.15 312.27
L 456.17 339.12
L 456.48 325.67
L 456.49 332.8
L 456.52 344.43
L 456.54 322.02
L 456.84 331.74
L 456.85 331.52
L 457.15 346.9
L 457.19 342.57
L 457.21 346.43
L 457.26 335.52
L 457.51 351.77
L 457.55 343.55
L 457.57 343.88
L 457.67 334.16
L 457.91 351.02
L 457.93 341.26
L 458.16 334.35
L 458.22 354.13
L 458.27 338.15
L 458.29 340.73
L 458.39 358.52
L 458.57 331.26
L 458.63 337.59
L 458.65 337.32
L 458.94 336.43
L 458.98 355.83
L 458.99 351.05
L 459.01 346.04
L 459.02 342.49
L 459.11 358.74
L 459.35 352.3
L 459.37 344.42
L 459.55 357.61
L 459.68 340.09
L 459.71 349.08
L 459.73 352.72
L 460.01 338.06
L 460.07 338.79
L 460.09 336.7
L 460.12 352.18
L 460.28 331.62
L 460.43 348.89
L 460.45 345.48
L 460.77 319.02
L 460.79 336.98
L 460.81 341.49
L 461.05 308.53
L 461.08 344.32
L 461.15 317.18
L 461.17 319.28
L 461.44 304.42
L 461.51 338.06
L 461.52 319.47
L 461.8 335.69
L 461.82 298.65
L 461.87 307.79
L 461.88 325.53
L 462.18 340.29
L 462.21 301.11
L 462.23 312.95
L 462.24 307.3
L 462.26 302.57
L 462.46 340.68
L 462.59 334.27
L 462.6 323.47
L 462.64 315.61
L 462.8 345.23
L 462.95 330.01
L 462.96 313.54
L 463 346.56
L 463.31 337.19
L 463.32 324.62
L 463.62 349.98
L 463.67 344.55
L 463.68 347.97
L 463.88 340.15
L 463.98 352.77
L 464.02 349.74
L 464.04 349.87
L 464.2 354.26
L 464.24 333
L 464.38 351.2
L 464.4 345.73
L 464.6 356.99
L 464.68 341.05
L 464.74 345.44
L 464.76 360.04
L 464.78 337.72
L 465.12 347.17
L 465.14 357.97
L 465.18 332.84
L 465.22 359.7
L 465.48 343.11
L 465.5 337.61
L 465.53 354.43
L 465.81 324.98
L 465.84 327.21
L 465.85 330.85
L 466.15 348.32
L 466.17 316.38
L 466.2 326.49
L 466.21 329.14
L 466.26 311.74
L 466.3 347.17
L 466.56 316.7
L 466.57 336.56
L 466.72 341.27
L 466.8 307.6
L 466.92 317.82
L 466.93 325.59
L 467.05 303.44
L 467.11 339.84
L 467.28 318.91
L 467.29 333.07
L 467.33 306.09
L 467.52 341.4
L 467.64 340
L 467.65 331.73
L 467.67 315.2
L 467.77 344.37
L 468 319.69
L 468.01 340.62
L 468.03 317.45
L 468.22 346.43
L 468.35 328.68
L 468.37 341.15
L 468.55 328.35
L 468.67 350.68
L 468.71 340.19
L 468.73 339.73
L 468.81 335.47
L 469.01 356.61
L 469.07 347.43
L 469.09 339.94
L 469.38 358.51
L 469.43 348.27
L 469.45 342.77
L 469.66 339.32
L 469.74 359.91
L 469.79 349.46
L 469.81 341.65
L 470.01 333.2
L 470.09 355.33
L 470.15 347.11
L 470.17 346.97
L 470.18 338.91
L 470.35 360.68
L 470.51 346.94
L 470.53 348.53
L 470.68 337.68
L 470.77 360.29
L 470.87 350.8
L 470.89 351.22
L 471.07 342.92
L 471.12 358.3
L 471.23 346.98
L 471.25 352.87
L 471.46 341.42
L 471.54 359.06
L 471.59 350.98
L 471.61 347.42
L 471.69 353.03
L 471.75 338.46
L 471.95 349.6
L 471.97 333.1
L 472.28 349.88
L 472.29 325.79
L 472.31 343.81
L 472.33 345.75
L 472.49 347.4
L 472.59 320.2
L 472.67 346.74
L 472.68 325.85
L 472.91 312.11
L 473.01 341.82
L 473.03 319.32
L 473.04 326.55
L 473.09 341.37
L 473.16 305.85
L 473.39 330.19
L 473.4 311.84
L 473.42 304.74
L 473.63 337.96
L 473.75 309.93
L 473.76 309.01
L 473.91 340.47
L 473.98 308.3
L 474.11 330.74
L 474.12 318.25
L 474.3 342.96
L 474.4 317.52
L 474.47 331.65
L 474.48 343.15
L 474.63 321.45
L 474.66 345.05
L 474.83 333.37
L 474.84 341.54
L 474.87 331.35
L 474.99 347.82
L 475.18 334.24
L 475.2 343.62
L 475.33 333.59
L 475.54 355.51
L 475.56 336.93
L 475.71 354.05
L 475.9 347.34
L 475.92 353.43
L 475.95 338.02
L 476.21 358.09
L 476.28 344.79
L 476.3 348.49
L 476.31 336.51
L 476.41 357.9
L 476.64 345.67
L 476.66 345.16
L 476.69 339.62
L 476.98 355.31
L 477 343.7
L 477.02 355.08
L 477.16 357.83
L 477.29 339.16
L 477.36 357.51
L 477.37 348.93
L 477.55 354.77
L 477.6 333.44
L 477.72 346.1
L 477.73 337.8
L 477.95 350.54
L 478.08 326.63
L 478.09 334.5
L 478.27 347.8
L 478.44 320.35
L 478.45 332.83
L 478.55 345.81
L 478.8 316.98
L 478.81 317.39
L 479.07 305.8
L 479.11 340.36
L 479.16 314.35
L 479.17 335.24
L 479.24 306.21
L 479.29 339.3
L 479.52 334.37
L 479.53 300.46
L 479.61 337.29
L 479.87 325.99
L 479.89 324.19
L 479.99 302.63
L 480.01 337.75
L 480.23 333.68
L 480.25 324.16
L 480.28 309.32
L 480.56 339.31
L 480.59 334.06
L 480.61 318.47
L 480.92 345.85
L 480.95 339.9
L 480.97 339.1
L 481.17 330.87
L 481.21 347.83
L 481.31 334.08
L 481.33 349.12
L 481.67 332.22
L 481.69 337.16
L 481.72 332.82
L 481.87 356.49
L 482.03 340.6
L 482.05 340.45
L 482.08 334.35
L 482.36 356.57
L 482.39 342.09
L 482.41 356.61
L 482.59 357.44
L 482.68 336.72
L 482.75 343.07
L 482.77 348.68
L 482.96 339.24
L 483 354.21
L 483.11 347.52
L 483.13 344.15
L 483.27 332.9
L 483.37 355.36
L 483.47 350.29
L 483.49 348.69
L 483.78 333.93
L 483.83 339.78
L 483.85 333.2
L 484.01 350.28
L 484.11 328.54
L 484.19 338.18
L 484.2 335.99
L 484.37 316.66
L 484.47 341.94
L 484.55 328.51
L 484.56 343.28
L 484.61 309.62
L 484.91 318.61
L 484.92 328.65
L 484.96 341.46
L 485.18 305.13
L 485.27 307.95
L 485.28 316.65
L 485.53 299.17
L 485.63 338.96
L 485.64 315.06
L 485.74 301.24
L 485.94 338.99
L 485.99 313.58
L 486 317.26
L 486.1 340.54
L 486.17 307.6
L 486.35 317.7
L 486.36 339.86
L 486.38 315.82
L 486.66 342.93
L 486.7 329.8
L 486.72 333.78
L 486.77 326.86
L 487.02 350.21
L 487.06 350.03
L 487.08 344.41
L 487.23 350.9
L 487.24 336.23
L 487.44 347.95
L 487.46 338.98
L 487.59 353.86
L 487.8 342.7
L 487.82 339.96
L 488.16 360.3
L 488.18 346.29
L 488.4 338.32
L 488.52 360.68
L 488.53 352.44
L 488.55 354.95
L 488.65 343.35
L 488.88 350.82
L 488.89 347.7
L 489.12 357.75
L 489.14 340.58
L 489.24 354.57
L 489.25 347.5
L 489.48 360.14
L 489.55 338.47
L 489.6 353.87
L 489.61 351.33
L 489.79 333.33
L 489.89 351.71
L 489.96 340.99
L 489.97 338.63
L 490.1 350.77
L 490.32 326.41
L 490.33 339.36
L 490.53 348.78
L 490.54 320.5
L 490.68 343.34
L 490.69 324.1
L 490.79 344.23
L 491 309.95
L 491.03 334.04
L 491.05 311.71
L 491.18 340.7
L 491.21 304.66
L 491.39 334.07
L 491.41 334.08
L 491.54 338.87
L 491.62 301.5
L 491.75 312.96
L 491.77 304.26
L 491.98 303.4
L 492.05 338.92
L 492.11 321.37
L 492.13 338.64
L 492.15 305.17
L 492.42 339.27
L 492.47 329.62
L 492.49 337.97
L 492.59 344.46
L 492.73 320.01
L 492.83 334.29
L 492.85 328.78
L 492.88 323.55
L 492.93 350.11
L 493.19 346.23
L 493.21 335.27
L 493.44 352.3
L 493.55 347.04
L 493.57 340.96
L 493.67 336.18
L 493.78 353.69
L 493.91 347.12
L 493.93 344.24
L 493.94 354.84
L 494.25 341.72
L 494.27 344.45
L 494.29 354.1
L 494.4 344.17
L 494.47 359.17
L 494.63 349.43
L 494.65 351.14
L 494.84 341.38
L 494.87 358.16
L 494.99 350.44
L 495.01 348.86
L 495.1 353.67
L 495.28 334.43
L 495.35 345.85
L 495.36 352.77
L 495.51 335.88
L 495.71 336.25
L 495.72 336.08
L 496.02 329.79
L 496.03 351.03
L 496.07 334.08
L 496.08 339.35
L 496.12 346.54
L 496.43 324.64
L 496.44 327.96
L 496.46 344.06
L 496.79 305.5
L 496.8 324.89
L 496.88 341.83
L 497.08 304.74
L 497.15 340.9
L 497.16 309.79
L 497.23 298.91
L 497.49 338.53
L 497.51 314.5
L 497.52 320.6
L 497.67 300.39
L 497.85 339.87
L 497.86 335.46
L 497.88 339.11
L 498.03 304.36
L 498.19 343.96
L 498.22 314.91
L 498.24 308.62
L 498.27 340.91
L 498.58 336.33
L 498.6 344.89
L 498.65 318.71
L 498.93 347.11
L 498.96 334.58
L 498.98 333.28
L 499.09 349.4
L 499.32 336.57
L 499.34 337.28
L 499.37 334.34
L 499.38 354.36
L 499.68 344.88
L 499.69 345.49
L 499.91 342.01
L 500.01 357.52
L 500.04 344.98
L 500.05 359.34
L 500.3 337.63
L 500.4 347.65
L 500.41 343.05
L 500.48 328.29
L 500.58 358.23
L 500.76 345.94
L 500.77 348.01
L 500.95 337.9
L 501.05 355.35
L 501.12 344.44
L 501.13 348.67
L 501.21 342.12
L 501.38 359.39
L 501.48 343.93
L 501.49 334.52
L 501.64 334.5
L 501.67 353.62
L 501.84 342.58
L 501.85 342.03
L 502.11 346.68
L 502.18 323.98
L 502.19 340.56
L 502.21 336.29
L 502.34 343.97
L 502.46 314.51
L 502.55 322.16
L 502.57 333.07
L 502.64 341
L 502.78 306.26
L 502.91 307.04
L 502.93 335.45
L 503.01 343.59
L 503.22 297
L 503.27 339.37
L 503.29 322.92
L 503.42 296.47
L 503.55 334.17
L 503.63 307.57
L 503.65 304.2
L 503.73 293.46
L 503.98 340.82
L 503.99 312.28
L 504.01 308.65
L 504.09 300.08
L 504.29 343.01
L 504.35 340.83
L 504.37 309.56
L 504.55 344.4
L 504.71 343.26
L 504.73 330.06
L 504.81 352.19
L 504.87 324.16
L 505.07 340.34
L 505.09 345.21
L 505.12 325.56
L 505.23 353.96
L 505.43 343.94
L 505.45 341.84
L 505.56 354.93
L 505.58 336.99
L 505.79 350.74
L 505.81 352.75
L 505.97 339.57
L 505.99 356.53
L 506.15 350.44
L 506.17 349.52
L 506.31 336.87
L 506.41 360.68
L 506.51 354.41
L 506.52 349.46
L 506.72 356.21
L 506.87 341.59
L 506.88 350.04
L 507.02 353.56
L 507.18 336.79
L 507.23 342.5
L 507.24 351.12
L 507.31 351.52
L 507.57 318.4
L 507.59 326.39
L 507.6 318.51
L 507.77 348.02
L 507.86 315.88
L 507.95 328.51
L 507.96 339.19
L 508.11 310.82
L 508.19 339.65
L 508.31 335.29
L 508.32 309.63
L 508.55 340.29
L 508.58 299.94
L 508.67 310.16
L 508.68 325.61
L 508.83 301.76
L 508.93 340.68
L 509.02 324.48
L 509.04 330.57
L 509.22 312.12
L 509.37 343.88
L 509.38 316.2
L 509.4 330.56
L 509.48 316.84
L 509.68 343.2
L 509.74 342.5
L 509.76 337.58
L 509.87 319.33
L 510.01 347.91
L 510.12 334.77
L 510.14 346.53
L 510.22 332.82
L 510.32 349.28
L 510.48 343.23
L 510.5 336.98
L 510.66 355.39
L 510.84 348.56
L 510.85 347.96
L 510.89 355.85
L 511.02 340.94
L 511.2 348.37
L 511.21 352.14
L 511.41 357.63
L 511.51 343.14
L 511.56 357.47
L 511.57 343.1
L 511.74 359.12
L 511.92 337.04
L 511.93 360.04
L 512.18 340.04
L 512.28 352.29
L 512.29 353.7
L 512.49 341.41
L 512.57 356.41
L 512.64 350.23
L 512.65 354.29
L 512.69 340.19
L 512.7 360.02
L 513 353.37
L 513.01 351.39
L 513.09 354.82
L 513.14 337.93
L 513.35 345.54
L 513.37 345.84
L 513.4 352.84
L 513.68 328.98
L 513.71 346.6
L 513.73 344.14
L 513.81 349.1
L 513.93 323.39
L 514.07 342.94
L 514.09 336.7
L 514.25 316.36
L 514.43 344.03
L 514.45 329.32
L 514.48 340.76
L 514.61 311
L 514.79 322.89
L 514.81 322.47
L 515.02 340.34
L 515.14 306.43
L 515.15 332.67
L 515.17 309.58
L 515.23 338.24
L 515.25 303.06
L 515.51 328.76
L 515.53 314.17
L 515.63 307.1
L 515.71 342.54
L 515.87 329.93
L 515.89 336.47
L 516.07 316.08
L 516.15 345.85
L 516.23 330.28
L 516.25 341.54
L 516.26 325.02
L 516.43 348.51
L 516.59 327.16
L 516.61 349.59
L 516.66 332.88
L 516.92 351.04
L 516.95 343.91
L 516.97 342.4
L 517.18 337.7
L 517.29 353.85
L 517.31 346.77
L 517.33 345.93
L 517.59 351.21
L 517.67 339.53
L 517.69 344.94
L 517.75 339.51
L 517.91 361.33
L 518.03 343.34
L 518.04 347.38
L 518.16 353.08
L 518.19 330.93
L 518.39 351.39
L 518.4 340.31
L 518.47 354.63
L 518.71 338.06
L 518.75 343.09
L 518.76 351.1
L 518.83 339.98
L 518.93 357.39
L 519.11 343.3
L 519.12 350.15
L 519.27 357.02
L 519.43 338.49
L 519.47 344.79
L 519.48 339.25
L 519.69 332.8
L 519.73 353.78
L 519.83 341.86
L 519.84 334.01
L 519.97 351.77
L 520.19 332.59
L 520.2 333.91
L 520.41 344.88
L 520.54 322.62
L 520.56 344.31
L 520.86 308.55
L 520.9 337.91
L 520.92 317.96
L 521.2 341.7
L 521.28 306.87
L 521.3 335.54
L 521.49 298.26
L 521.52 339.86
L 521.64 313.5
L 521.66 334.09
L 521.67 299.63
L 521.9 340.5
L 522 321.91
L 522.02 331.8
L 522.1 303.85
L 522.19 342.52
L 522.36 340.57
L 522.37 343.31
L 522.39 308.92
L 522.62 345.45
L 522.72 338.37
L 522.73 315.81
L 522.98 349.93
L 523.08 329.18
L 523.09 338.25
L 523.13 326.18
L 523.4 352.23
L 523.44 346.76
L 523.45 346.25
L 523.67 334.99
L 523.7 352.47
L 523.8 349.13
L 523.81 353.23
L 524.02 356.6
L 524.11 345.39
L 524.16 354.28
L 524.17 350.26
L 524.22 343.36
L 524.42 357.92
L 524.52 352.34
L 524.53 358.09
L 524.78 339.99
L 524.87 354.38
L 524.89 349.61
L 525.14 337.44
L 525.15 356.64
L 525.23 349
L 525.25 344.24
L 525.38 339.27
L 525.5 354.09
L 525.59 345.19
L 525.61 345.92
L 525.64 350.22
L 525.69 335.66
L 525.95 345.01
L 525.97 342.25
L 526.12 349.91
L 526.2 326.79
L 526.31 335.14
L 526.33 336.45
L 526.36 342.36
L 526.59 314.84
L 526.67 332.68
L 526.69 339.49
L 526.98 302.34
L 527.03 324.46
L 527.05 323.04
L 527.36 296.71
L 527.37 332.25
L 527.39 313.64
L 527.41 299.55
L 527.54 295.67
L 527.62 333.75
L 527.75 329.04
L 527.77 301.33
L 527.82 338.32
L 527.96 297.17
L 528.11 332.69
L 528.13 314.67
L 528.19 301.51
L 528.44 346.06
L 528.47 326.4
L 528.49 311.29
L 528.7 345.99
L 528.83 345.81
L 528.85 347.02
L 528.88 323.75
L 528.91 349.01
L 529.19 346.04
L 529.2 350.35
L 529.35 335.6
L 529.48 353.74
L 529.55 347.39
L 529.56 343.1
L 529.61 340.5
L 529.89 355.88
L 529.91 352.09
L 529.92 347.55
L 530.01 343.61
L 530.12 360.21
L 530.27 359.58
L 530.28 350.17
L 530.38 346.32
L 530.46 357.66
L 530.63 355.7
L 530.64 359.07
L 530.79 361.98
L 530.86 340.83
L 530.99 342.65
L 531 349.64
L 531.15 356.78
L 531.2 337.95
L 531.35 344.73
L 531.36 352.54
L 531.43 354.07
L 531.64 335.47
L 531.7 342.91
L 531.72 343.62
L 531.88 348.97
L 532.06 329.25
L 532.08 336.63
L 532.11 349.96
L 532.33 319.44
L 532.42 319.86
L 532.44 326.75
L 532.49 345.59
L 532.8 308.69
L 532.82 338.92
L 533.04 304.57
L 533.16 317.17
L 533.18 304.51
L 533.24 303.83
L 533.44 339.5
L 533.52 330.58
L 533.53 326.25
L 533.62 307.38
L 533.71 342.71
L 533.88 334.72
L 533.89 322.58
L 534.16 344.87
L 534.22 313.87
L 534.24 329.88
L 534.25 336.51
L 534.38 316.63
L 534.48 344.36
L 534.6 329.03
L 534.61 328.95
L 534.81 349.33
L 534.96 346.26
L 534.97 347.63
L 535.1 338.2
L 535.3 350.07
L 535.32 349.18
L 535.33 342.01
L 535.41 354.3
L 535.53 336.53
L 535.68 345.97
L 535.69 342.11
L 535.95 354.34
L 536 339.92
L 536.03 348.57
L 536.05 347.07
L 536.12 337.84
L 536.13 358.09
L 536.39 352.84
L 536.41 341.67
L 536.61 352.08
L 536.62 334.43
L 536.75 347.15
L 536.77 353.93
L 536.98 356.84
L 537.02 335.71
L 537.11 342.92
L 537.13 347.87
L 537.15 330.94
L 537.31 354.06
L 537.47 348.95
L 537.49 343.46
L 537.51 357.24
L 537.77 325.08
L 537.83 339.79
L 537.85 350.57
L 538.04 326.03
L 538.19 334.74
L 538.21 329.86
L 538.39 343.6
L 538.42 315.71
L 538.55 335.49
L 538.57 338.78
L 538.83 343.02
L 538.89 307.14
L 538.91 314.87
L 538.93 331.97
L 538.98 334.28
L 539.12 300.26
L 539.27 314.06
L 539.29 334.44
L 539.42 297.61
L 539.56 335.41
L 539.63 313.57
L 539.65 334.02
L 539.84 338.11
L 539.86 300.99
L 539.99 318.51
L 540.01 317.36
L 540.2 310.62
L 540.3 342.53
L 540.35 316.86
L 540.36 314.33
L 540.63 342.05
L 540.71 339.03
L 540.72 339.46
L 540.82 323.58
L 540.86 348.31
L 541.07 345.75
L 541.08 337.31
L 541.1 352.41
L 541.36 335.1
L 541.43 341.01
L 541.44 352.47
L 541.57 333.96
L 541.79 343.82
L 541.8 355.08
L 541.88 339.52
L 542.08 357.4
L 542.15 353.92
L 542.16 343.94
L 542.19 333.98
L 542.23 359.49
L 542.51 348.21
L 542.52 348.64
L 542.64 341.38
L 542.69 357.81
L 542.86 351.35
L 542.88 349.14
L 542.95 360.04
L 543.08 340.38
L 543.22 344.97
L 543.24 341.17
L 543.42 353.34
L 543.55 331.53
L 543.58 336.3
L 543.6 346.87
L 543.89 330.41
L 543.91 351.03
L 543.96 338.47
L 543.98 347.76
L 543.99 350.13
L 544.25 321.16
L 544.32 339.84
L 544.34 336.09
L 544.43 342.18
L 544.65 307.41
L 544.68 324.03
L 544.69 340.93
L 544.97 297.85
L 545.04 325.87
L 545.05 308.27
L 545.14 293.98
L 545.36 338.43
L 545.4 334.3
L 545.41 301.25
L 545.63 295.49
L 545.72 341.05
L 545.76 336.22
L 545.77 341.42
L 545.82 296.94
L 546.12 331.44
L 546.13 344.23
L 546.18 306.75
L 546.48 342.27
L 546.49 316.39
L 546.67 351.07
L 546.84 341.86
L 546.85 344.67
L 546.92 330.97
L 547.03 356.58
L 547.19 340.82
L 547.21 341.11
L 547.26 335.42
L 547.49 351.92
L 547.55 347.33
L 547.57 340.52
L 547.78 335.95
L 547.86 355.47
L 547.91 348.1
L 547.93 346.39
L 548.16 337.99
L 548.27 354.52
L 548.29 355.54
L 548.36 360.68
L 548.45 340.3
L 548.63 348.49
L 548.65 346.18
L 548.71 342.32
L 548.75 356.37
L 548.99 346.2
L 549.01 346.98
L 549.19 357.77
L 549.25 340.94
L 549.35 346.78
L 549.37 353.54
L 549.69 334.38
L 549.71 349.17
L 549.73 347.82
L 549.96 351.55
L 550.05 329.01
L 550.07 335.57
L 550.09 325.63
L 550.32 317.81
L 550.4 340.66
L 550.43 327.64
L 550.45 334.47
L 550.46 344.75
L 550.79 311.31
L 550.81 335.87
L 550.9 305.92
L 551.15 342
L 551.17 326.64
L 551.31 304.09
L 551.46 342.49
L 551.51 319.45
L 551.53 319.89
L 551.56 307.61
L 551.75 344.03
L 551.87 311.77
L 551.88 320.1
L 551.93 312.5
L 552.06 346.12
L 552.23 331.36
L 552.24 340.26
L 552.26 322.4
L 552.41 350.44
L 552.59 334.71
L 552.6 340.52
L 552.75 351.19
L 552.8 331.58
L 552.95 344.85
L 552.96 339.47
L 553.19 352.5
L 553.31 341.51
L 553.32 342.5
L 553.4 341.31
L 553.67 361.98
L 553.68 347.21
L 553.78 343.91
L 553.93 355.19
L 554.03 352.75
L 554.04 356.56
L 554.27 338.85
L 554.38 344.56
L 554.4 348.05
L 554.48 336.08
L 554.56 357.51
L 554.74 345.9
L 554.76 351.86
L 554.78 354.32
L 554.89 338.49
L 555.12 347.88
L 555.14 357.82
L 555.19 359.95
L 555.27 336.78
L 555.48 349.94
L 555.5 346.78
L 555.54 349.18
L 555.77 324.11
L 555.84 333.16
L 555.86 322.5
L 555.87 345.94
L 556.17 313.98
L 556.2 329.2
L 556.21 312.17
L 556.25 344.68
L 556.3 311.6
L 556.56 325.21
L 556.57 319.19
L 556.61 340.04
L 556.92 299.56
L 556.93 301.99
L 557.19 335.23
L 557.28 307.78
L 557.29 308.29
L 557.37 302.37
L 557.6 341.99
L 557.64 310.9
L 557.65 307.27
L 558 345.44
L 558.01 324.11
L 558.09 316.46
L 558.18 348.1
L 558.36 329.48
L 558.37 337.5
L 558.63 330.17
L 558.65 350.62
L 558.71 336.05
L 558.73 346.35
L 559.03 350.81
L 559.04 334.06
L 559.07 342.49
L 559.09 337.89
L 559.38 354.63
L 559.4 336.48
L 559.43 351.97
L 559.45 345.02
L 559.48 357.6
L 559.55 327.97
L 559.79 341.57
L 559.81 342.6
L 559.86 334.13
L 560.14 358.09
L 560.15 338.84
L 560.17 340.17
L 560.2 357.24
L 560.25 336.57
L 560.51 353.88
L 560.53 349.83
L 560.68 353.03
L 560.87 336.74
L 560.89 347.15
L 560.92 337.3
L 560.99 353.81
L 561.23 338.9
L 561.25 336.95
L 561.41 347.78
L 561.59 338.69
L 561.61 335.69
L 561.85 321.72
L 561.88 352.22
L 561.95 323.68
L 561.97 343.94
L 562.1 347.8
L 562.29 314.09
L 562.31 325.97
L 562.33 335.28
L 562.49 340.65
L 562.67 304.4
L 562.69 336.02
L 562.83 337.94
L 563 298.91
L 563.03 303.59
L 563.04 336.62
L 563.21 302.27
L 563.39 334.41
L 563.4 306.17
L 563.5 305.45
L 563.55 338.46
L 563.75 322.06
L 563.76 321.32
L 563.83 340.31
L 563.89 308.4
L 564.11 335.92
L 564.12 336.98
L 564.19 315.77
L 564.45 346.05
L 564.47 339.93
L 564.48 341.58
L 564.74 330.76
L 564.81 347.82
L 564.83 336.86
L 564.84 343.62
L 564.87 348.54
L 564.89 331.42
L 565.19 335.44
L 565.2 345.38
L 565.28 337.18
L 565.32 353.37
L 565.54 345.73
L 565.56 348.56
L 565.77 357.2
L 565.89 339.47
L 565.9 342.61
L 565.92 344.81
L 565.95 357.1
L 566.07 340.23
L 566.28 351.12
L 566.3 343.38
L 566.56 358.09
L 566.61 341.14
L 566.64 344.17
L 566.66 357.24
L 566.97 340.13
L 567 351.76
L 567.02 340.97
L 567.1 352.43
L 567.23 337.8
L 567.36 346.98
L 567.37 335.23
L 567.44 350.62
L 567.55 327.73
L 567.72 338.04
L 567.73 338.11
L 567.86 340.85
L 568.06 314.67
L 568.08 328.13
L 568.09 332.45
L 568.21 344.74
L 568.32 312.48
L 568.44 322.26
L 568.45 333.24
L 568.62 342.03
L 568.78 297.62
L 568.8 302.84
L 568.81 301.88
L 568.94 336.47
L 569.01 299.03
L 569.16 307.92
L 569.17 318.76
L 569.42 337.2
L 569.45 295.28
L 569.52 302.59
L 569.53 309.72
L 569.65 303.87
L 569.86 341.34
L 569.87 333.24
L 569.89 337.33
L 569.91 305.71
L 569.97 340.14
L 570.23 313.89
L 570.25 318.57
L 570.53 347.73
L 570.59 334.1
L 570.61 339.22
L 570.66 331.95
L 570.82 353.28
L 570.95 339.98
L 570.97 333.44
L 571.31 359.31
L 571.33 351.7
L 571.48 337.95
L 571.66 359.01
L 571.67 338.97
L 571.69 342.84
L 571.77 334.45
L 572.02 359.39
L 572.03 348.99
L 572.05 352.52
L 572.06 341.51
L 572.36 358.32
L 572.39 357.97
L 572.41 347.81
L 572.69 355.82
L 572.75 340.27
L 572.77 350.05
L 572.83 352.76
L 572.95 335.09
L 573.11 343.31
L 573.13 341.07
L 573.31 332.7
L 573.4 350.35
L 573.47 336.49
L 573.49 330.87
L 573.67 325.89
L 573.73 349.49
L 573.83 345.48
L 573.85 338.49
L 573.94 344.93
L 574.14 314.8
L 574.19 337.93
L 574.2 338.8
L 574.24 343.84
L 574.53 310.7
L 574.55 332.72
L 574.56 315.68
L 574.68 340.41
L 574.84 308.03
L 574.91 335.47
L 574.92 312.54
L 575.07 307.33
L 575.15 338.39
L 575.27 308.57
L 575.28 319.47
L 575.32 312.46
L 575.51 342.47
L 575.63 321.62
L 575.64 339.28
L 575.66 317.53
L 575.69 345.1
L 575.99 336.96
L 576 333.99
L 576.08 328.01
L 576.23 353.92
L 576.35 348.82
L 576.36 335.94
L 576.66 354.8
L 576.7 348.65
L 576.72 350.86
L 576.8 337.15
L 576.95 356.75
L 577.06 346.3
L 577.08 348.34
L 577.24 336.18
L 577.28 355.15
L 577.42 347.81
L 577.44 347.86
L 577.52 338.3
L 577.75 356.99
L 577.8 343.19
L 577.82 360.33
L 578.14 344.23
L 578.16 353.03
L 578.18 342.44
L 578.22 360.75
L 578.4 340.14
L 578.52 351.12
L 578.53 347.26
L 578.62 341.22
L 578.73 361.33
L 578.88 351.18
L 578.89 350.16
L 579.17 341.77
L 579.24 356.87
L 579.25 346.86
L 579.4 353.6
L 579.48 334.81
L 579.6 344.14
L 579.61 341.08
L 579.83 352.46
L 579.89 332.07
L 579.96 333.39
L 579.97 344.02
L 580.17 348.16
L 580.25 318.6
L 580.32 322.28
L 580.33 317.17
L 580.58 343.7
L 580.63 304.99
L 580.68 341.73
L 580.69 322.6
L 580.72 341.5
L 581.03 299.17
L 581.05 340.53
L 581.23 300.66
L 581.39 332.99
L 581.41 337.03
L 581.44 302.6
L 581.75 328.58
L 581.77 332.56
L 581.9 339.58
L 581.97 307.87
L 582.11 327.59
L 582.13 325.41
L 582.15 316.48
L 582.39 347.57
L 582.47 339.29
L 582.49 338.86
L 582.51 323.75
L 582.72 348.9
L 582.83 341.47
L 582.85 346.95
L 582.96 354.42
L 583.03 338.94
L 583.19 347.2
L 583.21 344.88
L 583.22 338.17
L 583.34 355.94
L 583.55 340.86
L 583.57 346.15
L 583.71 359.08
L 583.83 342.8
L 583.91 354.98
L 583.93 357.41
L 584.01 360.04
L 584.16 340.5
L 584.27 342.54
L 584.29 356.69
L 584.34 343.34
L 584.63 355.49
L 584.65 355.53
L 584.66 358.92
L 584.87 340.64
L 584.99 350.31
L 585.01 355.66
L 585.14 338.36
L 585.35 343.19
L 585.37 350.87
L 585.46 355.18
L 585.61 340.8
L 585.71 349.07
L 585.72 341.97
L 585.77 351.26
L 586.07 336.54
L 586.08 340.7
L 586.12 349.66
L 586.15 331.28
L 586.43 336.27
L 586.44 330.28
L 586.64 344.29
L 586.69 325.92
L 586.79 343.16
L 586.8 322.89
L 586.87 342.99
L 587.13 312.6
L 587.15 317.73
L 587.16 331.08
L 587.18 336.52
L 587.47 308.02
L 587.51 324.76
L 587.52 315.85
L 587.57 339.79
L 587.69 303.83
L 587.87 310.51
L 587.88 330.72
L 588.08 305.58
L 588.19 342.39
L 588.22 311.79
L 588.24 320.01
L 588.26 309.55
L 588.4 344.67
L 588.58 328.04
L 588.6 332.14
L 588.67 320.51
L 588.94 347.3
L 588.96 324.42
L 588.98 328.88
L 589.09 327.28
L 589.11 351.43
L 589.32 341.28
L 589.34 344.53
L 589.35 329.8
L 589.66 356.77
L 589.68 349.23
L 589.7 351.82
L 589.92 359.36
L 589.99 344.01
L 590.04 348.62
L 590.05 357.75
L 590.1 359.39
L 590.38 346.15
L 590.4 351.9
L 590.41 353.16
L 590.46 338.57
L 590.48 359
L 590.76 344.35
L 590.77 347.13
L 590.89 357.35
L 591.07 338.61
L 591.12 350.84
L 591.13 345.88
L 591.15 354.98
L 591.43 339.68
L 591.48 346.33
L 591.49 346.96
L 591.53 350.17
L 591.82 329.03
L 591.84 344.37
L 591.85 338.96
L 591.97 349.74
L 592.13 323.66
L 592.2 342.2
L 592.21 331.28
L 592.39 343.16
L 592.44 319.09
L 592.55 337.65
L 592.57 332.24
L 592.59 343.42
L 592.73 310.89
L 592.91 326.73
L 592.93 330.75
L 593.08 305.39
L 593.18 340.27
L 593.27 314.14
L 593.29 330.64
L 593.47 306.35
L 593.58 337.07
L 593.63 332.64
L 593.65 308.82
L 593.98 343.67
L 593.99 324.55
L 594.01 315.86
L 594.03 312.57
L 594.35 344.72
L 594.37 324.58
L 594.52 346.4
L 594.71 337.92
L 594.73 342.66
L 594.79 333.7
L 594.96 357.15
L 595.07 340.63
L 595.09 352.75
L 595.12 342.26
L 595.38 354.59
L 595.43 349.18
L 595.45 357.3
L 595.5 359.82
L 595.63 338.44
L 595.79 354.6
L 595.81 351.76
L 595.97 343.04
L 596 360.18
L 596.15 350.3
L 596.17 357.89
L 596.36 360.68
L 596.41 342.08
L 596.51 343.43
L 596.53 355.98
L 596.7 339.61
L 596.87 351.96
L 596.88 352.53
L 597.1 353.06
L 597.21 333.09
L 597.23 341.02
L 597.24 345.12
L 597.33 351.44
L 597.54 332.44
L 597.59 339.88
L 597.6 345.65
L 597.88 347.16
L 597.91 319.98
L 597.95 332.85
L 597.96 324.25
L 598.21 346.3
L 598.24 316.43
L 598.31 334.59
L 598.32 341.6
L 598.47 342.97
L 598.53 306.24
L 598.67 334.54
L 598.68 318.3
L 598.78 340.47
L 598.8 303.44
L 599.03 325.53
L 599.04 327.73
L 599.09 339.19
L 599.37 307.31
L 599.38 320.88
L 599.4 341.18
L 599.45 307
L 599.5 341.59
L 599.74 317.63
L 599.76 324.31
L 599.84 317.64
L 600.05 347.87
L 600.12 343.59
L 600.14 343.3
L 600.2 322.23
L 600.3 353.67
L 600.48 334.94
L 600.5 346.24
L 600.68 334.26
L 600.74 353.66
L 600.84 349
L 600.86 339.48
L 601.13 354.82
L 601.2 345.17
L 601.21 349.05
L 601.23 339.62
L 601.54 359.89
L 601.56 350.58
L 601.57 355.96
L 601.67 342.05
L 601.82 357.76
L 601.92 344.3
L 601.93 350.91
L 602.15 360.68
L 602.2 344.53
L 602.28 346.51
L 602.29 340.46
L 602.31 356.14
L 602.64 347.62
L 602.65 351.22
L 602.83 352.02
L 602.96 338.22
L 603 343.38
L 603.01 332.45
L 603.08 352.03
L 603.31 325.36
L 603.36 334.69
L 603.37 339.33
L 603.39 350.61
L 603.7 316.2
L 603.71 341.29
L 603.73 330.32
L 603.85 346.24
L 603.99 313.06
L 604.07 338.72
L 604.09 328.12
L 604.11 340.81
L 604.42 311.94
L 604.43 333.01
L 604.45 315.31
L 604.55 309.02
L 604.6 341.27
L 604.79 327.78
L 604.81 320.85
L 604.84 317.37
L 604.94 343.71
L 605.15 334.87
L 605.17 326.7
L 605.3 325.74
L 605.51 347.24
L 605.53 339.33
L 605.56 325.12
L 605.82 348.77
L 605.87 344.34
L 605.89 340.05
L 605.99 338.38
L 606.18 355.39
L 606.23 353
L 606.25 343.61
L 606.33 336.68
L 606.46 357.67
L 606.59 346.03
L 606.61 348.71
L 606.7 341.51
L 606.8 359.6
L 606.95 349.96
L 606.97 346.85
L 607.05 340.46
L 607.2 360.4
L 607.31 351.85
L 607.33 352.82
L 607.42 342.41
L 607.62 361.98
L 607.67 354.84
L 607.69 347.86
L 607.72 340.71
L 607.83 359.73
L 608.03 352.69
L 608.04 355.35
L 608.11 339.31
L 608.27 360.13
L 608.39 354.8
L 608.4 343.5
L 608.52 361.23
L 608.75 354.4
L 608.76 350.37
L 608.78 356.06
L 608.81 341.56
L 609.11 353.64
L 609.12 343.73
L 609.17 355.62
L 609.32 338.28
L 609.47 347.32
L 609.48 342.95
L 609.7 355.17
L 609.83 330.24
L 609.84 336.65
L 610.14 319.06
L 610.17 349.28
L 610.19 345.18
L 610.2 337.91
L 610.28 344.85
L 610.45 311.36
L 610.54 326.69
L 610.56 317.82
L 610.69 339.67
L 610.81 306.48
L 610.9 328.59
L 610.92 341.58
L 610.95 342.95
L 611.08 303.06
L 611.26 323.7
L 611.28 336.28
L 611.43 307.25
L 611.53 344.61
L 611.64 317.04
L 611.66 333.29
L 611.72 310.62
L 611.98 342.68
L 612 338.54
L 612.02 345.23
L 612.11 345.76
L 612.21 322.78
L 612.36 338.71
L 612.37 337.78
L 612.41 327.28
L 612.69 348.36
L 612.72 343.05
L 612.73 339.19
L 612.77 338.5
L 612.93 355.89
L 613.08 352.47
L 613.09 344.56
L 613.21 340.46
L 613.36 356.83
L 613.44 350.82
L 613.45 348.42
L 613.55 340.73
L 613.68 357.06
L 613.8 346.76
L 613.81 350.12
L 613.86 339.52
L 614.06 355.41
L 614.16 350.81
L 614.17 348.43
L 614.38 361.98
L 614.52 340.68
L 614.53 342.89
L 614.63 356.64
L 614.87 354.05
L 614.89 350.99
L 614.92 354.21
L 615.12 341.46
L 615.23 345.16
L 615.25 340.61
L 615.37 349.59
L 615.56 328.5
L 615.59 332.24
L 615.61 345.55
L 615.81 351.98
L 615.9 317.56
L 615.95 347.23
L 615.97 341.67
L 616.2 310.42
L 616.3 346.61
L 616.31 313.73
L 616.33 318.19
L 616.48 343.73
L 616.57 299.86
L 616.67 315.24
L 616.69 324.84
L 616.72 295.67
L 616.74 341.84
L 617.03 317.25
L 617.05 325.21
L 617.13 297.6
L 617.28 339
L 617.39 317.51
L 617.41 318.96
L 617.57 298.36
L 617.73 344.56
L 617.75 330.38
L 617.77 335.11
L 617.82 308.73
L 618.06 343.15
L 618.11 319.69
L 618.13 314.1
L 618.45 345.31
L 618.47 340
L 618.49 341.19
L 618.5 349.5
L 618.58 332.35
L 618.83 339.25
L 618.85 344.35
L 619.09 335.85
L 619.12 352.87
L 619.19 342.9
L 619.2 345.4
L 619.43 357.66
L 619.5 339.65
L 619.55 354.72
L 619.56 354.7
L 619.65 355.61
L 619.79 337.54
L 619.91 348.58
L 619.92 344.82
L 619.97 360.68
L 620.14 342.13
L 620.27 352.14
L 620.28 346.59
L 620.3 343.55
L 620.63 360.55
L 620.64 353.11
L 620.71 356.86
L 620.99 343.44
L 621 341.94
L 621.23 354.79
L 621.3 332.43
L 621.35 339.66
L 621.36 348.68
L 621.67 322.74
L 621.69 358.66
L 621.7 343.21
L 621.72 321.08
L 621.97 356.76
L 622.05 310.84
L 622.06 346.6
L 622.08 332.36
L 622.1 353.52
L 622.34 304.16
L 622.42 333.26
L 622.44 315.75
L 622.47 356.02
L 622.51 299.54
L 622.64 332.31
" clip-path="url(#pd76dfbb8c1)" style="fill: none; stroke: #1f77b4; stroke-width: 1.95; stroke-linecap: square"/>
   </g>
  </g>
  <g id="axes_4">
   <g id="patch_5">
    <path d="M 90.00 474.48 L 648.00 474.48 L 648.00 390.24 L 90.00 390.24 z" style="fill: #ffffff"/>
   </g>
   <g id="matplotlib.axis_7">
    <g id="xtick_28">
     <g id="xt3_1" transform="translate(-0.74 0.71)">
      <text style="font-size: 10px; font-family: 'DejaVu Sans', sans-serif" transform="translate(122.11 501.01) rotate(-30)">2020</text>
     </g>
    </g>
    <g id="xtick_29">
     <g id="xt3_2" transform="translate(-0.57 0.66)">
      <text style="font-size: 10px; font-family: 'DejaVu Sans', sans-serif" transform="translate(181.8 501.01) rotate(-30)">2030</text>
     </g>
    </g>
    <g id="xtick_30">
     <g id="xt3_3" transform="translate(-0.44 0.64)">
      <text style="font-size: 10px; font-family: 'DejaVu Sans', sans-serif" transform="translate(241.48 501.01) rotate(-30)">2040</text>
     </g>
    </g>
    <g id="xtick_31">
     <g id="xt3_4" transform="translate(-0.52 0.65)">
      <text style="font-size: 10px; font-family: 'DejaVu Sans', sans-serif" transform="translate(301.16 501.01) rotate(-30)">2050</text>
     </g>
    </g>
    <g id="xtick_32">
     <g id="xt3_5" transform="translate(-0.40 0.64)">
      <text style="font-size: 10px; font-family: 'DejaVu Sans', sans-serif" transform="translate(360.84 501.01) rotate(-30)">2060</text>
     </g>
    </g>
    <g id="xtick_33">
     <g id="xt3_6" transform="translate(-0.52 0.65)">
      <text style="font-size: 10px; font-family: 'DejaVu Sans', sans-serif" transform="translate(420.53 501.01) rotate(-30)">2070</text>
     </g>
    </g>
    <g id="xtick_34">
     <g id="xt3_7" transform="translate(-0.24 0.66)">
      <text style="font-size: 10px; font-family: 'DejaVu Sans', sans-serif" transform="translate(480.2 501.01) rotate(-30)">2080</text>
     </g>
    </g>
    <g id="xtick_35">
     <g id="xt3_8" transform="translate(-0.19 0.66)">
      <text style="font-size: 10px; font-family: 'DejaVu Sans', sans-serif" transform="translate(539.89 501.01) rotate(-30)">2090</text>
     </g>
    </g>
    <g id="xtick_36">
     <g id="xt3_9" transform="translate(-0.07 0.63)">
      <text style="font-size: 10px; font-family: 'DejaVu Sans', sans-serif" transform="translate(599.56 501.01) rotate(-30)">2100</text>
     </g>
    </g>
   </g>
   <g id="matplotlib.axis_8">
    <g id="ytick_12">
     <g id="yt3_1" transform="translate(-0.69 -0.49)">
      <text style="font-size: 10px; font-family: 'DejaVu Sans', sans-serif; text-anchor: end" x="83" y="474.67" transform="rotate(-0 83 474.67)">−0.05</text>
     </g>
    </g>
    <g id="ytick_13">
     <g id="yt3_2" transform="translate(0.21 -0.27)">
      <text style="font-size: 10px; font-family: 'DejaVu Sans', sans-serif; text-anchor: end" x="83" y="436.3" transform="rotate(-0 83 436.3)">0.00</text>
     </g>
    </g>
    <g id="ytick_14">
     <g id="yt3_3" transform="translate(0.34 -0.09)">
      <text style="font-size: 10px; font-family: 'DejaVu Sans', sans-serif; text-anchor: end" x="83" y="397.93" transform="rotate(-0 83 397.93)">0.05</text>
     </g>
    </g>
    <g id="yl3" transform="translate(-0.48 1.97)">
     <text style="font-size: 10px; font-family: 'DejaVu Sans', sans-serif; text-anchor: middle" x="46.27" y="432.5" transform="rotate(-90 46.27 432.5)">nummasked</text>
    </g>
   </g>
   <g id="line2d_54">
    <path d="M 115.36 432.5
L 622.64 432.5
" clip-path="url(#pb10cee9d41)" style="fill: none; stroke: #1f77b4; stroke-width: 1.5; stroke-linecap: square"/>
   </g>
  </g>
  <g id="axes_5">
   <g id="patch_6">
    <path d="M 90.00 576.00 L 648.00 576.00 L 648.00 491.76 L 90.00 491.76 z" style="fill: #ffffff"/>
   </g>
   <g id="matplotlib.axis_9">
    <g id="xtick_37">
     <g id="xt4_1" transform="translate(-0.56 0.89)">
      <text style="font-size: 10px; font-family: 'DejaVu Sans', sans-serif" transform="translate(122.11 602.31) rotate(-30)">2020</text>
     </g>
    </g>
    <g id="xtick_38">
     <g id="xt4_2" transform="translate(-0.57 0.84)">
      <text style="font-size: 10px; font-family: 'DejaVu Sans', sans-serif" transform="translate(181.8 602.31) rotate(-30)">2030</text>
     </g>
    </g>
    <g id="xtick_39">
     <g id="xt4_3" transform="translate(-0.44 0.82)">
      <text style="font-size: 10px; font-family: 'DejaVu Sans', sans-serif" transform="translate(241.48 602.31) rotate(-30)">2040</text>
     </g>
    </g>
    <g id="xtick_40">
     <g id="xt4_4" transform="translate(-0.34 0.83)">
      <text style="font-size: 10px; font-family: 'DejaVu Sans', sans-serif" transform="translate(301.16 602.31) rotate(-30)">2050</text>
     </g>
    </g>
    <g id="xtick_41">
     <g id="xt4_5" transform="translate(-0.40 0.82)">
      <text style="font-size: 10px; font-family: 'DejaVu Sans', sans-serif" transform="translate(360.84 602.31) rotate(-30)">2060</text>
     </g>
    </g>
    <g id="xtick_42">
     <g id="xt4_6" transform="translate(-0.34 0.83)">
      <text style="font-size: 10px; font-family: 'DejaVu Sans', sans-serif" transform="translate(420.53 602.31) rotate(-30)">2070</text>
     </g>
    </g>
    <g id="xtick_43">
     <g id="xt4_7" transform="translate(-0.24 0.84)">
      <text style="font-size: 10px; font-family: 'DejaVu Sans', sans-serif" transform="translate(480.2 602.31) rotate(-30)">2080</text>
     </g>
    </g>
    <g id="xtick_44">
     <g id="xt4_8" transform="translate(-0.19 0.84)">
      <text style="font-size: 10px; font-family: 'DejaVu Sans', sans-serif" transform="translate(539.89 602.31) rotate(-30)">2090</text>
     </g>
    </g>
    <g id="xtick_45">
     <g id="xt4_9" transform="translate(-0.07 0.81)">
      <text style="font-size: 10px; font-family: 'DejaVu Sans', sans-serif" transform="translate(599.56 602.31) rotate(-30)">2100</text>
     </g>
    </g>
    <g id="xl" transform="translate(-0.59 0.33)">
     <text style="font-size: 10px; font-family: 'DejaVu Sans', sans-serif; text-anchor: middle" x="369" y="615.7" transform="rotate(-0 369 615.7)">validtime</text>
    </g>
   </g>
   <g id="matplotlib.axis_10">
    <g id="ytick_15">
     <g id="yt4_1" transform="translate(-0.69 -0.31)">
      <text style="font-size: 10px; font-family: 'DejaVu Sans', sans-serif; text-anchor: end" x="83" y="575.96" transform="rotate(-0 83 575.96)">−0.05</text>
     </g>
    </g>
    <g id="ytick_16">
     <g id="yt4_2" transform="translate(0.21 -0.09)">
      <text style="font-size: 10px; font-family: 'DejaVu Sans', sans-serif; text-anchor: end" x="83" y="537.59" transform="rotate(-0 83 537.59)">0.00</text>
     </g>
    </g>
    <g id="ytick_17">
     <g id="yt4_3" transform="translate(0.34 0.25)">
      <text style="font-size: 10px; font-family: 'DejaVu Sans', sans-serif; text-anchor: end" x="83" y="499.22" transform="rotate(-0 83 499.22)">0.05</text>
     </g>
    </g>
    <g id="yl4" transform="translate(-0.36 2.15)">
     <text style="font-size: 10px; font-family: 'DejaVu Sans', sans-serif; text-anchor: middle" x="46.27" y="533.79" transform="rotate(-90 46.27 533.79)">numnan</text>
    </g>
   </g>
   <g id="line2d_67">
    <path d="M 115.36 533.79
L 622.64 533.79
" clip-path="url(#p0ddc7ec383)" style="fill: none; stroke: #1f77b4; stroke-width: 1.5; stroke-linecap: square"/>
   </g>
  </g>
 </g>
 <defs>
  <clipPath id="p4f396495b8">
   <rect x="90" y="86.4" width="558" height="84.41"/>
  </clipPath>
  <clipPath id="p700bc494e0">
   <rect x="90" y="187.7" width="558" height="84.41"/>
  </clipPath>
  <clipPath id="pd76dfbb8c1">
   <rect x="90" y="288.99" width="558" height="84.41"/>
  </clipPath>
  <clipPath id="pb10cee9d41">
   <rect x="90" y="390.29" width="558" height="84.41"/>
  </clipPath>
  <clipPath id="p0ddc7ec383">
   <rect x="90" y="491.59" width="558" height="84.41"/>
  </clipPath>
 </defs>
<g transform="scale(0.072)" fill="#1f77b4"></g>
<g transform="scale(0.72)" shape-rendering="crispEdges" fill="#000">
<rect x="124" y="120" width="1" height="118" fill-opacity="0.055"/>
<rect x="126" y="121" width="1" height="116" fill-opacity="0.055"/>
<rect x="901" y="120" width="1" height="118" fill-opacity="0.055"/>
<rect x="899" y="121" width="1" height="116" fill-opacity="0.055"/>
<rect x="125" y="119" width="776" height="1" fill-opacity="0.055"/>
<rect x="126" y="121" width="774" height="1" fill-opacity="0.055"/>
<rect x="125" y="238" width="776" height="1" fill-opacity="0.055"/>
<rect x="126" y="236" width="774" height="1" fill-opacity="0.055"/>
<rect x="201" y="238" width="1" height="4" fill-opacity="0.055"/>
<rect x="203" y="238" width="1" height="4" fill-opacity="0.055"/>
<rect x="202" y="238" width="1" height="4"/>
<rect x="202" y="242" width="1" height="1" fill-opacity="0.502"/>
<rect x="284" y="238" width="1" height="4" fill-opacity="0.055"/>
<rect x="286" y="238" width="1" height="4" fill-opacity="0.055"/>
<rect x="285" y="238" width="1" height="4"/>
<rect x="285" y="242" width="1" height="1" fill-opacity="0.502"/>
<rect x="366" y="238" width="1" height="4" fill-opacity="0.055"/>
<rect x="368" y="238" width="1" height="4" fill-opacity="0.055"/>
<rect x="367" y="238" width="1" height="4"/>
<rect x="367" y="242" width="1" height="1" fill-opacity="0.502"/>
<rect x="449" y="238" width="1" height="4" fill-opacity="0.055"/>
<rect x="451" y="238" width="1" height="4" fill-opacity="0.055"/>
<rect x="450" y="238" width="1" height="4"/>
<rect x="450" y="242" width="1" height="1" fill-opacity="0.502"/>
<rect x="532" y="238" width="1" height="4" fill-opacity="0.055"/>
<rect x="534" y="238" width="1" height="4" fill-opacity="0.055"/>
<rect x="533" y="238" width="1" height="4"/>
<rect x="533" y="242" width="1" height="1" fill-opacity="0.502"/>
<rect x="615" y="238" width="1" height="4" fill-opacity="0.055"/>
<rect x="617" y="238" width="1" height="4" fill-opacity="0.055"/>
<rect x="616" y="238" width="1" height="4"/>
<rect x="616" y="242" width="1" height="1" fill-opacity="0.502"/>
<rect x="698" y="238" width="1" height="4" fill-opacity="0.055"/>
<rect x="700" y="238" width="1" height="4" fill-opacity="0.055"/>
<rect x="699" y="238" width="1" height="4"/>
<rect x="699" y="242" width="1" height="1" fill-opacity="0.502"/>
<rect x="781" y="238" width="1" height="4" fill-opacity="0.055"/>
<rect x="783" y="238" width="1" height="4" fill-opacity="0.055"/>
<rect x="782" y="238" width="1" height="4"/>
<rect x="782" y="242" width="1" height="1" fill-opacity="0.502"/>
<rect x="864" y="238" width="1" height="4" fill-opacity="0.055"/>
<rect x="866" y="238" width="1" height="4" fill-opacity="0.055"/>
<rect x="865" y="238" width="1" height="4"/>
<rect x="865" y="242" width="1" height="1" fill-opacity="0.502"/>
<rect x="120" y="224" width="4" height="1" fill-opacity="0.055"/>
<rect x="120" y="226" width="4" height="1" fill-opacity="0.055"/>
<rect x="121" y="225" width="4" height="1"/>
<rect x="120" y="225" width="1" height="1" fill-opacity="0.502"/>
<rect x="120" y="194" width="4" height="1" fill-opacity="0.055"/>
<rect x="120" y="196" width="4" height="1" fill-opacity="0.055"/>
<rect x="121" y="195" width="4" height="1"/>
<rect x="120" y="195" width="1" height="1" fill-opacity="0.502"/>
<rect x="120" y="163" width="4" height="1" fill-opacity="0.055"/>
<rect x="120" y="165" width="4" height="1" fill-opacity="0.055"/>
<rect x="121" y="164" width="4" height="1"/>
<rect x="120" y="164" width="1" height="1" fill-opacity="0.502"/>
<rect x="120" y="132" width="4" height="1" fill-opacity="0.055"/>
<rect x="120" y="134" width="4" height="1" fill-opacity="0.055"/>
<rect x="121" y="133" width="4" height="1"/>
<rect x="120" y="133" width="1" height="1" fill-opacity="0.502"/>
<rect x="125" y="120" width="1" height="118"/>
<rect x="900" y="120" width="1" height="118"/>
<rect x="125" y="120" width="776" height="1"/>
<rect x="125" y="237" width="776" height="1"/>
<rect x="124" y="261" width="1" height="118" fill-opacity="0.055"/>
<rect x="126" y="262" width="1" height="116" fill-opacity="0.055"/>
<rect x="901" y="261" width="1" height="118" fill-opacity="0.055"/>
<rect x="899" y="262" width="1" height="116" fill-opacity="0.055"/>
<rect x="125" y="260" width="776" height="1" fill-opacity="0.055"/>
<rect x="126" y="262" width="774" height="1" fill-opacity="0.055"/>
<rect x="125" y="379" width="776" height="1" fill-opacity="0.055"/>
<rect x="126" y="377" width="774" height="1" fill-opacity="0.055"/>
<rect x="201" y="379" width="1" height="4" fill-opacity="0.055"/>
<rect x="203" y="379" width="1" height="4" fill-opacity="0.055"/>
<rect x="202" y="379" width="1" height="4"/>
<rect x="202" y="383" width="1" height="1" fill-opacity="0.502"/>
<rect x="284" y="379" width="1" height="4" fill-opacity="0.055"/>
<rect x="286" y="379" width="1" height="4" fill-opacity="0.055"/>
<rect x="285" y="379" width="1" height="4"/>
<rect x="285" y="383" width="1" height="1" fill-opacity="0.502"/>
<rect x="366" y="379" width="1" height="4" fill-opacity="0.055"/>
<rect x="368" y="379" width="1" height="4" fill-opacity="0.055"/>
<rect x="367" y="379" width="1" height="4"/>
<rect x="367" y="383" width="1" height="1" fill-opacity="0.502"/>
<rect x="449" y="379" width="1" height="4" fill-opacity="0.055"/>
<rect x="451" y="379" width="1" height="4" fill-opacity="0.055"/>
<rect x="450" y="379" width="1" height="4"/>
<rect x="450" y="383" width="1" height="1" fill-opacity="0.502"/>
<rect x="532" y="379" width="1" height="4" fill-opacity="0.055"/>
<rect x="534" y="379" width="1" height="4" fill-opacity="0.055"/>
<rect x="533" y="379" width="1" height="4"/>
<rect x="533" y="383" width="1" height="1" fill-opacity="0.502"/>
<rect x="615" y="379" width="1" height="4" fill-opacity="0.055"/>
<rect x="617" y="379" width="1" height="4" fill-opacity="0.055"/>
<rect x="616" y="379" width="1" height="4"/>
<rect x="616" y="383" width="1" height="1" fill-opacity="0.502"/>
<rect x="698" y="379" width="1" height="4" fill-opacity="0.055"/>
<rect x="700" y="379" width="1" height="4" fill-opacity="0.055"/>
<rect x="699" y="379" width="1" height="4"/>
<rect x="699" y="383" width="1" height="1" fill-opacity="0.502"/>
<rect x="781" y="379" width="1" height="4" fill-opacity="0.055"/>
<rect x="783" y="379" width="1" height="4" fill-opacity="0.055"/>
<rect x="782" y="379" width="1" height="4"/>
<rect x="782" y="383" width="1" height="1" fill-opacity="0.502"/>
<rect x="864" y="379" width="1" height="4" fill-opacity="0.055"/>
<rect x="866" y="379" width="1" height="4" fill-opacity="0.055"/>
<rect x="865" y="379" width="1" height="4"/>
<rect x="865" y="383" width="1" height="1" fill-opacity="0.502"/>
<rect x="120" y="374" width="4" height="1" fill-opacity="0.055"/>
<rect x="120" y="376" width="4" height="1" fill-opacity="0.055"/>
<rect x="121" y="375" width="4" height="1"/>
<rect x="120" y="375" width="1" height="1" fill-opacity="0.502"/>
<rect x="120" y="344" width="4" height="1" fill-opacity="0.055"/>
<rect x="120" y="346" width="4" height="1" fill-opacity="0.055"/>
<rect x="121" y="345" width="4" height="1"/>
<rect x="120" y="345" width="1" height="1" fill-opacity="0.502"/>
<rect x="120" y="315" width="4" height="1" fill-opacity="0.055"/>
<rect x="120" y="317" width="4" height="1" fill-opacity="0.055"/>
<rect x="121" y="316" width="4" height="1"/>
<rect x="120" y="316" width="1" height="1" fill-opacity="0.502"/>
<rect x="120" y="285" width="4" height="1" fill-opacity="0.055"/>
<rect x="120" y="287" width="4" height="1" fill-opacity="0.055"/>
<rect x="121" y="286" width="4" height="1"/>
<rect x="120" y="286" width="1" height="1" fill-opacity="0.502"/>
<rect x="125" y="261" width="1" height="118"/>
<rect x="900" y="261" width="1" height="118"/>
<rect x="125" y="261" width="776" height="1"/>
<rect x="125" y="378" width="776" height="1"/>
<rect x="124" y="401" width="1" height="119" fill-opacity="0.055"/>
<rect x="126" y="402" width="1" height="117" fill-opacity="0.055"/>
<rect x="901" y="401" width="1" height="119" fill-opacity="0.055"/>
<rect x="899" y="402" width="1" height="117" fill-opacity="0.055"/>
<rect x="125" y="400" width="776" height="1" fill-opacity="0.055"/>
<rect x="126" y="402" width="774" height="1" fill-opacity="0.055"/>
<rect x="125" y="520" width="776" height="1" fill-opacity="0.055"/>
<rect x="126" y="518" width="774" height="1" fill-opacity="0.055"/>
<rect x="201" y="520" width="1" height="4" fill-opacity="0.055"/>
<rect x="203" y="520" width="1" height="4" fill-opacity="0.055"/>
<rect x="202" y="520" width="1" height="4"/>
<rect x="202" y="524" width="1" height="1" fill-opacity="0.502"/>
<rect x="284" y="520" width="1" height="4" fill-opacity="0.055"/>
<rect x="286" y="520" width="1" height="4" fill-opacity="0.055"/>
<rect x="285" y="520" width="1" height="4"/>
<rect x="285" y="524" width="1" height="1" fill-opacity="0.502"/>
<rect x="366" y="520" width="1" height="4" fill-opacity="0.055"/>
<rect x="368" y="520" width="1" height="4" fill-opacity="0.055"/>
<rect x="367" y="520" width="1" height="4"/>
<rect x="367" y="524" width="1" height="1" fill-opacity="0.502"/>
<rect x="449" y="520" width="1" height="4" fill-opacity="0.055"/>
<rect x="451" y="520" width="1" height="4" fill-opacity="0.055"/>
<rect x="450" y="520" width="1" height="4"/>
<rect x="450" y="524" width="1" height="1" fill-opacity="0.502"/>
<rect x="532" y="520" width="1" height="4" fill-opacity="0.055"/>
<rect x="534" y="520" width="1" height="4" fill-opacity="0.055"/>
<rect x="533" y="520" width="1" height="4"/>
<rect x="533" y="524" width="1" height="1" fill-opacity="0.502"/>
<rect x="615" y="520" width="1" height="4" fill-opacity="0.055"/>
<rect x="617" y="520" width="1" height="4" fill-opacity="0.055"/>
<rect x="616" y="520" width="1" height="4"/>
<rect x="616" y="524" width="1" height="1" fill-opacity="0.502"/>
<rect x="698" y="520" width="1" height="4" fill-opacity="0.055"/>
<rect x="700" y="520" width="1" height="4" fill-opacity="0.055"/>
<rect x="699" y="520" width="1" height="4"/>
<rect x="699" y="524" width="1" height="1" fill-opacity="0.502"/>
<rect x="781" y="520" width="1" height="4" fill-opacity="0.055"/>
<rect x="783" y="520" width="1" height="4" fill-opacity="0.055"/>
<rect x="782" y="520" width="1" height="4"/>
<rect x="782" y="524" width="1" height="1" fill-opacity="0.502"/>
<rect x="864" y="520" width="1" height="4" fill-opacity="0.055"/>
<rect x="866" y="520" width="1" height="4" fill-opacity="0.055"/>
<rect x="865" y="520" width="1" height="4"/>
<rect x="865" y="524" width="1" height="1" fill-opacity="0.502"/>
<rect x="120" y="507" width="4" height="1" fill-opacity="0.055"/>
<rect x="120" y="509" width="4" height="1" fill-opacity="0.055"/>
<rect x="121" y="508" width="4" height="1"/>
<rect x="120" y="508" width="1" height="1" fill-opacity="0.502"/>
<rect x="120" y="468" width="4" height="1" fill-opacity="0.055"/>
<rect x="120" y="470" width="4" height="1" fill-opacity="0.055"/>
<rect x="121" y="469" width="4" height="1"/>
<rect x="120" y="469" width="1" height="1" fill-opacity="0.502"/>
<rect x="120" y="430" width="4" height="1" fill-opacity="0.055"/>
<rect x="120" y="432" width="4" height="1" fill-opacity="0.055"/>
<rect x="121" y="431" width="4" height="1"/>
<rect x="120" y="431" width="1" height="1" fill-opacity="0.502"/>
<rect x="125" y="401" width="1" height="119"/>
<rect x="900" y="401" width="1" height="119"/>
<rect x="125" y="401" width="776" height="1"/>
<rect x="125" y="519" width="776" height="1"/>
<rect x="124" y="542" width="1" height="118" fill-opacity="0.055"/>
<rect x="126" y="543" width="1" height="116" fill-opacity="0.055"/>
<rect x="901" y="542" width="1" height="118" fill-opacity="0.055"/>
<rect x="899" y="543" width="1" height="116" fill-opacity="0.055"/>
<rect x="125" y="541" width="776" height="1" fill-opacity="0.055"/>
<rect x="126" y="543" width="774" height="1" fill-opacity="0.055"/>
<rect x="125" y="660" width="776" height="1" fill-opacity="0.055"/>
<rect x="126" y="658" width="774" height="1" fill-opacity="0.055"/>
<rect x="201" y="660" width="1" height="4" fill-opacity="0.055"/>
<rect x="203" y="660" width="1" height="4" fill-opacity="0.055"/>
<rect x="202" y="660" width="1" height="4"/>
<rect x="202" y="664" width="1" height="1" fill-opacity="0.502"/>
<rect x="284" y="660" width="1" height="4" fill-opacity="0.055"/>
<rect x="286" y="660" width="1" height="4" fill-opacity="0.055"/>
<rect x="285" y="660" width="1" height="4"/>
<rect x="285" y="664" width="1" height="1" fill-opacity="0.502"/>
<rect x="366" y="660" width="1" height="4" fill-opacity="0.055"/>
<rect x="368" y="660" width="1" height="4" fill-opacity="0.055"/>
<rect x="367" y="660" width="1" height="4"/>
<rect x="367" y="664" width="1" height="1" fill-opacity="0.502"/>
<rect x="449" y="660" width="1" height="4" fill-opacity="0.055"/>
<rect x="451" y="660" width="1" height="4" fill-opacity="0.055"/>
<rect x="450" y="660" width="1" height="4"/>
<rect x="450" y="664" width="1" height="1" fill-opacity="0.502"/>
<rect x="532" y="660" width="1" height="4" fill-opacity="0.055"/>
<rect x="534" y="660" width="1" height="4" fill-opacity="0.055"/>
<rect x="533" y="660" width="1" height="4"/>
<rect x="533" y="664" width="1" height="1" fill-opacity="0.502"/>
<rect x="615" y="660" width="1" height="4" fill-opacity="0.055"/>
<rect x="617" y="660" width="1" height="4" fill-opacity="0.055"/>
<rect x="616" y="660" width="1" height="4"/>
<rect x="616" y="664" width="1" height="1" fill-opacity="0.502"/>
<rect x="698" y="660" width="1" height="4" fill-opacity="0.055"/>
<rect x="700" y="660" width="1" height="4" fill-opacity="0.055"/>
<rect x="699" y="660" width="1" height="4"/>
<rect x="699" y="664" width="1" height="1" fill-opacity="0.502"/>
<rect x="781" y="660" width="1" height="4" fill-opacity="0.055"/>
<rect x="783" y="660" width="1" height="4" fill-opacity="0.055"/>
<rect x="782" y="660" width="1" height="4"/>
<rect x="782" y="664" width="1" height="1" fill-opacity="0.502"/>
<rect x="864" y="660" width="1" height="4" fill-opacity="0.055"/>
<rect x="866" y="660" width="1" height="4" fill-opacity="0.055"/>
<rect x="865" y="660" width="1" height="4"/>
<rect x="865" y="664" width="1" height="1" fill-opacity="0.502"/>
<rect x="120" y="653" width="4" height="1" fill-opacity="0.055"/>
<rect x="120" y="655" width="4" height="1" fill-opacity="0.055"/>
<rect x="121" y="654" width="4" height="1"/>
<rect x="120" y="654" width="1" height="1" fill-opacity="0.502"/>
<rect x="120" y="600" width="4" height="1" fill-opacity="0.055"/>
<rect x="120" y="602" width="4" height="1" fill-opacity="0.055"/>
<rect x="121" y="601" width="4" height="1"/>
<rect x="120" y="601" width="1" height="1" fill-opacity="0.502"/>
<rect x="120" y="546" width="4" height="1" fill-opacity="0.055"/>
<rect x="120" y="548" width="4" height="1" fill-opacity="0.055"/>
<rect x="121" y="547" width="4" height="1"/>
<rect x="120" y="547" width="1" height="1" fill-opacity="0.502"/>
<rect x="125" y="542" width="1" height="118"/>
<rect x="900" y="542" width="1" height="118"/>
<rect x="125" y="542" width="776" height="1"/>
<rect x="125" y="659" width="776" height="1"/>
<rect x="124" y="683" width="1" height="118" fill-opacity="0.055"/>
<rect x="126" y="684" width="1" height="116" fill-opacity="0.055"/>
<rect x="901" y="683" width="1" height="118" fill-opacity="0.055"/>
<rect x="899" y="684" width="1" height="116" fill-opacity="0.055"/>
<rect x="125" y="682" width="776" height="1" fill-opacity="0.055"/>
<rect x="126" y="684" width="774" height="1" fill-opacity="0.055"/>
<rect x="125" y="801" width="776" height="1" fill-opacity="0.055"/>
<rect x="126" y="799" width="774" height="1" fill-opacity="0.055"/>
<rect x="201" y="801" width="1" height="4" fill-opacity="0.055"/>
<rect x="203" y="801" width="1" height="4" fill-opacity="0.055"/>
<rect x="202" y="801" width="1" height="4"/>
<rect x="202" y="805" width="1" height="1" fill-opacity="0.502"/>
<rect x="284" y="801" width="1" height="4" fill-opacity="0.055"/>
<rect x="286" y="801" width="1" height="4" fill-opacity="0.055"/>
<rect x="285" y="801" width="1" height="4"/>
<rect x="285" y="805" width="1" height="1" fill-opacity="0.502"/>
<rect x="366" y="801" width="1" height="4" fill-opacity="0.055"/>
<rect x="368" y="801" width="1" height="4" fill-opacity="0.055"/>
<rect x="367" y="801" width="1" height="4"/>
<rect x="367" y="805" width="1" height="1" fill-opacity="0.502"/>
<rect x="449" y="801" width="1" height="4" fill-opacity="0.055"/>
<rect x="451" y="801" width="1" height="4" fill-opacity="0.055"/>
<rect x="450" y="801" width="1" height="4"/>
<rect x="450" y="805" width="1" height="1" fill-opacity="0.502"/>
<rect x="532" y="801" width="1" height="4" fill-opacity="0.055"/>
<rect x="534" y="801" width="1" height="4" fill-opacity="0.055"/>
<rect x="533" y="801" width="1" height="4"/>
<rect x="533" y="805" width="1" height="1" fill-opacity="0.502"/>
<rect x="615" y="801" width="1" height="4" fill-opacity="0.055"/>
<rect x="617" y="801" width="1" height="4" fill-opacity="0.055"/>
<rect x="616" y="801" width="1" height="4"/>
<rect x="616" y="805" width="1" height="1" fill-opacity="0.502"/>
<rect x="698" y="801" width="1" height="4" fill-opacity="0.055"/>
<rect x="700" y="801" width="1" height="4" fill-opacity="0.055"/>
<rect x="699" y="801" width="1" height="4"/>
<rect x="699" y="805" width="1" height="1" fill-opacity="0.502"/>
<rect x="781" y="801" width="1" height="4" fill-opacity="0.055"/>
<rect x="783" y="801" width="1" height="4" fill-opacity="0.055"/>
<rect x="782" y="801" width="1" height="4"/>
<rect x="782" y="805" width="1" height="1" fill-opacity="0.502"/>
<rect x="864" y="801" width="1" height="4" fill-opacity="0.055"/>
<rect x="866" y="801" width="1" height="4" fill-opacity="0.055"/>
<rect x="865" y="801" width="1" height="4"/>
<rect x="865" y="805" width="1" height="1" fill-opacity="0.502"/>
<rect x="120" y="794" width="4" height="1" fill-opacity="0.055"/>
<rect x="120" y="796" width="4" height="1" fill-opacity="0.055"/>
<rect x="121" y="795" width="4" height="1"/>
<rect x="120" y="795" width="1" height="1" fill-opacity="0.502"/>
<rect x="120" y="740" width="4" height="1" fill-opacity="0.055"/>
<rect x="120" y="742" width="4" height="1" fill-opacity="0.055"/>
<rect x="121" y="741" width="4" height="1"/>
<rect x="120" y="741" width="1" height="1" fill-opacity="0.502"/>
<rect x="120" y="687" width="4" height="1" fill-opacity="0.055"/>
<rect x="120" y="689" width="4" height="1" fill-opacity="0.055"/>
<rect x="121" y="688" width="4" height="1"/>
<rect x="120" y="688" width="1" height="1" fill-opacity="0.502"/>
<rect x="125" y="683" width="1" height="118"/>
<rect x="900" y="683" width="1" height="118"/>
<rect x="125" y="683" width="776" height="1"/>
<rect x="125" y="800" width="776" height="1"/>
</g>
</svg>

</body></html>
